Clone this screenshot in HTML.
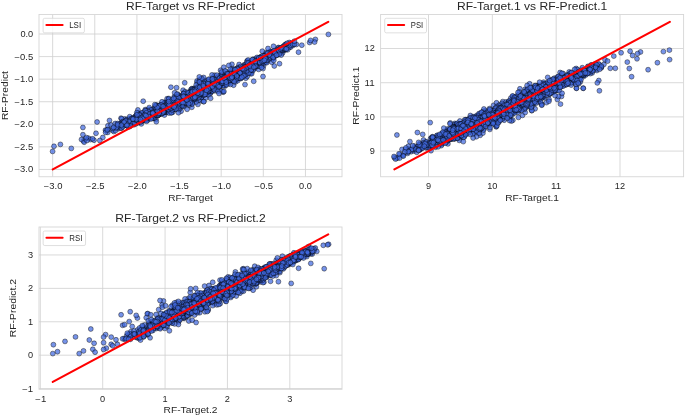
<!DOCTYPE html>
<html><head><meta charset="utf-8"><title>RF Target vs Predict</title>
<style>
html,body{margin:0;padding:0;background:#fff;overflow:hidden}
svg{display:block;will-change:transform}
text{font-family:"Liberation Sans", sans-serif;fill:#262626}
.m circle{r:2.45px}
.m{fill:#4169e1;fill-opacity:.72;stroke:#000;stroke-opacity:.85;stroke-width:.5}
</style></head>
<body>
<svg width="685" height="417" viewBox="0 0 685 417">
<rect width="685" height="417" fill="#fff"/>
<rect x="39.0" y="14.45" width="303.00" height="162.30" fill="#fff"/>
<path d="M52.65 14.45V176.75M94.78 14.45V176.75M136.92 14.45V176.75M179.05 14.45V176.75M221.18 14.45V176.75M263.32 14.45V176.75M305.45 14.45V176.75M39.0 169.44H342.0M39.0 146.87H342.0M39.0 124.30H342.0M39.0 101.73H342.0M39.0 79.17H342.0M39.0 56.60H342.0M39.0 34.03H342.0" stroke="#cfcfcf" stroke-width="0.8" fill="none"/>
<g class="m"><circle cx="197.9" cy="94.4" r="2.45"/><circle cx="218.1" cy="88.2" r="2.45"/><circle cx="286.8" cy="44.4" r="2.45"/><circle cx="222.1" cy="81.6" r="2.45"/><circle cx="172.1" cy="103.5" r="2.45"/><circle cx="200.3" cy="91.2" r="2.45"/><circle cx="230.3" cy="80.8" r="2.45"/><circle cx="255.0" cy="62.5" r="2.45"/><circle cx="231.7" cy="72.6" r="2.45"/><circle cx="200.5" cy="90.4" r="2.45"/><circle cx="207.7" cy="85.7" r="2.45"/><circle cx="139.5" cy="115.7" r="2.45"/><circle cx="208.7" cy="85.2" r="2.45"/><circle cx="194.8" cy="94.4" r="2.45"/><circle cx="169.0" cy="110.8" r="2.45"/><circle cx="216.1" cy="86.0" r="2.45"/><circle cx="145.6" cy="117.9" r="2.45"/><circle cx="257.9" cy="60.7" r="2.45"/><circle cx="270.8" cy="52.5" r="2.45"/><circle cx="191.5" cy="95.5" r="2.45"/><circle cx="153.9" cy="109.8" r="2.45"/><circle cx="184.1" cy="106.6" r="2.45"/><circle cx="232.3" cy="74.8" r="2.45"/><circle cx="139.0" cy="121.5" r="2.45"/><circle cx="277.5" cy="49.7" r="2.45"/><circle cx="142.0" cy="114.2" r="2.45"/><circle cx="138.8" cy="116.0" r="2.45"/><circle cx="167.5" cy="104.4" r="2.45"/><circle cx="191.9" cy="88.6" r="2.45"/><circle cx="278.4" cy="47.5" r="2.45"/><circle cx="237.1" cy="76.2" r="2.45"/><circle cx="166.2" cy="102.7" r="2.45"/><circle cx="190.0" cy="97.3" r="2.45"/><circle cx="235.8" cy="78.1" r="2.45"/><circle cx="266.5" cy="56.3" r="2.45"/><circle cx="215.4" cy="80.9" r="2.45"/><circle cx="160.1" cy="108.8" r="2.45"/><circle cx="133.2" cy="122.2" r="2.45"/><circle cx="191.3" cy="91.8" r="2.45"/><circle cx="245.4" cy="69.9" r="2.45"/><circle cx="137.7" cy="113.0" r="2.45"/><circle cx="217.5" cy="81.2" r="2.45"/><circle cx="258.4" cy="61.0" r="2.45"/><circle cx="243.0" cy="72.1" r="2.45"/><circle cx="196.7" cy="90.9" r="2.45"/><circle cx="142.0" cy="113.1" r="2.45"/><circle cx="161.4" cy="111.1" r="2.45"/><circle cx="150.1" cy="114.8" r="2.45"/><circle cx="166.5" cy="112.4" r="2.45"/><circle cx="185.3" cy="98.8" r="2.45"/><circle cx="161.2" cy="104.7" r="2.45"/><circle cx="179.0" cy="108.3" r="2.45"/><circle cx="147.5" cy="116.0" r="2.45"/><circle cx="90.5" cy="139.6" r="2.45"/><circle cx="266.4" cy="59.4" r="2.45"/><circle cx="207.1" cy="88.6" r="2.45"/><circle cx="230.0" cy="81.0" r="2.45"/><circle cx="253.7" cy="65.7" r="2.45"/><circle cx="223.0" cy="83.4" r="2.45"/><circle cx="186.7" cy="97.3" r="2.45"/><circle cx="254.7" cy="61.7" r="2.45"/><circle cx="249.3" cy="65.2" r="2.45"/><circle cx="170.2" cy="110.9" r="2.45"/><circle cx="131.3" cy="118.5" r="2.45"/><circle cx="83.5" cy="141.0" r="2.45"/><circle cx="127.5" cy="121.3" r="2.45"/><circle cx="169.7" cy="102.5" r="2.45"/><circle cx="271.4" cy="56.8" r="2.45"/><circle cx="225.0" cy="82.4" r="2.45"/><circle cx="197.7" cy="90.3" r="2.45"/><circle cx="220.0" cy="75.4" r="2.45"/><circle cx="144.9" cy="118.5" r="2.45"/><circle cx="209.0" cy="85.9" r="2.45"/><circle cx="225.1" cy="77.4" r="2.45"/><circle cx="163.3" cy="109.4" r="2.45"/><circle cx="226.4" cy="77.1" r="2.45"/><circle cx="168.7" cy="107.6" r="2.45"/><circle cx="124.9" cy="118.9" r="2.45"/><circle cx="161.4" cy="113.7" r="2.45"/><circle cx="177.3" cy="101.7" r="2.45"/><circle cx="279.7" cy="51.3" r="2.45"/><circle cx="210.2" cy="86.4" r="2.45"/><circle cx="237.7" cy="75.9" r="2.45"/><circle cx="258.7" cy="69.4" r="2.45"/><circle cx="234.3" cy="70.1" r="2.45"/><circle cx="191.1" cy="91.4" r="2.45"/><circle cx="241.3" cy="69.2" r="2.45"/><circle cx="258.3" cy="62.3" r="2.45"/><circle cx="249.6" cy="66.2" r="2.45"/><circle cx="151.9" cy="114.0" r="2.45"/><circle cx="148.3" cy="114.3" r="2.45"/><circle cx="126.3" cy="120.4" r="2.45"/><circle cx="176.3" cy="104.8" r="2.45"/><circle cx="197.6" cy="95.1" r="2.45"/><circle cx="155.6" cy="106.6" r="2.45"/><circle cx="219.0" cy="83.3" r="2.45"/><circle cx="218.3" cy="81.3" r="2.45"/><circle cx="146.5" cy="116.1" r="2.45"/><circle cx="222.3" cy="76.2" r="2.45"/><circle cx="169.7" cy="102.0" r="2.45"/><circle cx="244.5" cy="69.5" r="2.45"/><circle cx="156.5" cy="113.8" r="2.45"/><circle cx="181.2" cy="103.5" r="2.45"/><circle cx="208.6" cy="86.7" r="2.45"/><circle cx="71.3" cy="148.4" r="2.45"/><circle cx="232.3" cy="70.0" r="2.45"/><circle cx="201.6" cy="100.9" r="2.45"/><circle cx="150.0" cy="114.2" r="2.45"/><circle cx="118.0" cy="125.3" r="2.45"/><circle cx="163.3" cy="109.9" r="2.45"/><circle cx="207.7" cy="86.6" r="2.45"/><circle cx="254.2" cy="64.7" r="2.45"/><circle cx="225.1" cy="76.2" r="2.45"/><circle cx="248.6" cy="63.1" r="2.45"/><circle cx="158.2" cy="111.4" r="2.45"/><circle cx="226.7" cy="77.1" r="2.45"/><circle cx="166.3" cy="104.6" r="2.45"/><circle cx="247.5" cy="67.8" r="2.45"/><circle cx="175.2" cy="103.4" r="2.45"/><circle cx="129.3" cy="126.7" r="2.45"/><circle cx="272.6" cy="54.1" r="2.45"/><circle cx="235.7" cy="79.9" r="2.45"/><circle cx="246.5" cy="70.0" r="2.45"/><circle cx="209.8" cy="84.9" r="2.45"/><circle cx="254.0" cy="63.1" r="2.45"/><circle cx="187.7" cy="98.9" r="2.45"/><circle cx="211.0" cy="87.2" r="2.45"/><circle cx="208.9" cy="87.7" r="2.45"/><circle cx="238.7" cy="78.4" r="2.45"/><circle cx="258.0" cy="58.6" r="2.45"/><circle cx="197.2" cy="82.3" r="2.45"/><circle cx="172.5" cy="105.1" r="2.45"/><circle cx="221.6" cy="75.1" r="2.45"/><circle cx="189.1" cy="94.5" r="2.45"/><circle cx="183.8" cy="102.7" r="2.45"/><circle cx="267.7" cy="55.0" r="2.45"/><circle cx="126.3" cy="121.9" r="2.45"/><circle cx="221.2" cy="80.2" r="2.45"/><circle cx="180.9" cy="105.3" r="2.45"/><circle cx="203.6" cy="93.0" r="2.45"/><circle cx="197.9" cy="104.4" r="2.45"/><circle cx="200.4" cy="91.2" r="2.45"/><circle cx="269.7" cy="56.5" r="2.45"/><circle cx="132.9" cy="123.5" r="2.45"/><circle cx="112.4" cy="130.2" r="2.45"/><circle cx="190.0" cy="92.3" r="2.45"/><circle cx="205.1" cy="93.6" r="2.45"/><circle cx="181.9" cy="96.3" r="2.45"/><circle cx="140.1" cy="117.9" r="2.45"/><circle cx="240.4" cy="68.5" r="2.45"/><circle cx="206.2" cy="93.4" r="2.45"/><circle cx="156.0" cy="111.3" r="2.45"/><circle cx="149.6" cy="111.0" r="2.45"/><circle cx="185.4" cy="99.2" r="2.45"/><circle cx="179.3" cy="106.0" r="2.45"/><circle cx="245.0" cy="75.1" r="2.45"/><circle cx="130.5" cy="123.3" r="2.45"/><circle cx="170.7" cy="102.5" r="2.45"/><circle cx="199.5" cy="86.8" r="2.45"/><circle cx="142.5" cy="117.1" r="2.45"/><circle cx="175.4" cy="100.8" r="2.45"/><circle cx="245.4" cy="66.7" r="2.45"/><circle cx="219.8" cy="79.4" r="2.45"/><circle cx="188.5" cy="99.7" r="2.45"/><circle cx="280.2" cy="48.7" r="2.45"/><circle cx="171.3" cy="110.6" r="2.45"/><circle cx="179.5" cy="101.3" r="2.45"/><circle cx="246.7" cy="66.5" r="2.45"/><circle cx="171.3" cy="102.0" r="2.45"/><circle cx="212.9" cy="85.2" r="2.45"/><circle cx="230.4" cy="73.0" r="2.45"/><circle cx="259.2" cy="58.0" r="2.45"/><circle cx="187.7" cy="94.5" r="2.45"/><circle cx="271.4" cy="55.1" r="2.45"/><circle cx="216.6" cy="81.9" r="2.45"/><circle cx="232.3" cy="75.5" r="2.45"/><circle cx="172.9" cy="104.2" r="2.45"/><circle cx="135.3" cy="118.3" r="2.45"/><circle cx="156.8" cy="108.2" r="2.45"/><circle cx="241.7" cy="71.2" r="2.45"/><circle cx="163.4" cy="106.3" r="2.45"/><circle cx="235.9" cy="73.2" r="2.45"/><circle cx="198.4" cy="91.6" r="2.45"/><circle cx="274.3" cy="66.0" r="2.45"/><circle cx="187.9" cy="100.3" r="2.45"/><circle cx="131.9" cy="120.4" r="2.45"/><circle cx="195.5" cy="93.9" r="2.45"/><circle cx="195.8" cy="92.5" r="2.45"/><circle cx="164.7" cy="102.4" r="2.45"/><circle cx="216.6" cy="80.4" r="2.45"/><circle cx="178.0" cy="98.1" r="2.45"/><circle cx="124.2" cy="124.9" r="2.45"/><circle cx="176.5" cy="107.6" r="2.45"/><circle cx="214.5" cy="85.2" r="2.45"/><circle cx="201.7" cy="90.5" r="2.45"/><circle cx="277.2" cy="51.3" r="2.45"/><circle cx="193.6" cy="90.3" r="2.45"/><circle cx="202.7" cy="89.0" r="2.45"/><circle cx="177.7" cy="94.3" r="2.45"/><circle cx="178.1" cy="103.4" r="2.45"/><circle cx="257.2" cy="65.5" r="2.45"/><circle cx="147.7" cy="112.7" r="2.45"/><circle cx="191.4" cy="99.1" r="2.45"/><circle cx="185.3" cy="103.4" r="2.45"/><circle cx="171.1" cy="108.1" r="2.45"/><circle cx="229.4" cy="75.9" r="2.45"/><circle cx="216.3" cy="79.5" r="2.45"/><circle cx="204.0" cy="89.2" r="2.45"/><circle cx="270.5" cy="53.5" r="2.45"/><circle cx="181.4" cy="100.7" r="2.45"/><circle cx="254.7" cy="68.4" r="2.45"/><circle cx="217.5" cy="86.1" r="2.45"/><circle cx="173.2" cy="109.1" r="2.45"/><circle cx="165.8" cy="108.0" r="2.45"/><circle cx="210.6" cy="92.6" r="2.45"/><circle cx="171.4" cy="112.7" r="2.45"/><circle cx="213.5" cy="87.2" r="2.45"/><circle cx="175.2" cy="98.5" r="2.45"/><circle cx="161.8" cy="107.6" r="2.45"/><circle cx="175.7" cy="104.4" r="2.45"/><circle cx="208.7" cy="86.3" r="2.45"/><circle cx="222.6" cy="80.8" r="2.45"/><circle cx="247.4" cy="61.0" r="2.45"/><circle cx="169.2" cy="110.7" r="2.45"/><circle cx="229.0" cy="83.5" r="2.45"/><circle cx="186.5" cy="104.0" r="2.45"/><circle cx="141.6" cy="121.1" r="2.45"/><circle cx="246.7" cy="70.6" r="2.45"/><circle cx="285.7" cy="44.3" r="2.45"/><circle cx="280.7" cy="50.3" r="2.45"/><circle cx="138.3" cy="119.6" r="2.45"/><circle cx="180.6" cy="101.7" r="2.45"/><circle cx="235.2" cy="73.9" r="2.45"/><circle cx="185.8" cy="101.4" r="2.45"/><circle cx="200.7" cy="89.2" r="2.45"/><circle cx="249.7" cy="67.3" r="2.45"/><circle cx="233.3" cy="74.6" r="2.45"/><circle cx="179.3" cy="100.3" r="2.45"/><circle cx="153.4" cy="111.3" r="2.45"/><circle cx="148.0" cy="113.0" r="2.45"/><circle cx="259.5" cy="65.7" r="2.45"/><circle cx="141.2" cy="116.7" r="2.45"/><circle cx="159.6" cy="114.4" r="2.45"/><circle cx="214.9" cy="90.8" r="2.45"/><circle cx="160.0" cy="112.0" r="2.45"/><circle cx="174.1" cy="103.0" r="2.45"/><circle cx="176.0" cy="101.9" r="2.45"/><circle cx="143.3" cy="116.1" r="2.45"/><circle cx="154.6" cy="110.1" r="2.45"/><circle cx="152.6" cy="117.7" r="2.45"/><circle cx="233.5" cy="77.0" r="2.45"/><circle cx="157.6" cy="111.7" r="2.45"/><circle cx="173.5" cy="106.7" r="2.45"/><circle cx="240.5" cy="71.3" r="2.45"/><circle cx="134.8" cy="119.1" r="2.45"/><circle cx="249.1" cy="66.2" r="2.45"/><circle cx="239.0" cy="72.6" r="2.45"/><circle cx="253.4" cy="59.3" r="2.45"/><circle cx="182.4" cy="100.2" r="2.45"/><circle cx="125.4" cy="123.7" r="2.45"/><circle cx="275.3" cy="50.5" r="2.45"/><circle cx="236.7" cy="68.6" r="2.45"/><circle cx="213.1" cy="87.8" r="2.45"/><circle cx="234.0" cy="78.0" r="2.45"/><circle cx="175.3" cy="99.8" r="2.45"/><circle cx="167.0" cy="104.0" r="2.45"/><circle cx="212.9" cy="82.3" r="2.45"/><circle cx="194.6" cy="95.8" r="2.45"/><circle cx="239.4" cy="70.8" r="2.45"/><circle cx="284.4" cy="50.4" r="2.45"/><circle cx="175.7" cy="106.8" r="2.45"/><circle cx="172.8" cy="100.2" r="2.45"/><circle cx="282.5" cy="53.2" r="2.45"/><circle cx="177.1" cy="103.3" r="2.45"/><circle cx="257.5" cy="61.3" r="2.45"/><circle cx="188.3" cy="96.4" r="2.45"/><circle cx="201.2" cy="97.4" r="2.45"/><circle cx="129.2" cy="123.6" r="2.45"/><circle cx="221.2" cy="77.4" r="2.45"/><circle cx="223.6" cy="82.5" r="2.45"/><circle cx="129.0" cy="119.0" r="2.45"/><circle cx="208.6" cy="87.6" r="2.45"/><circle cx="135.9" cy="115.8" r="2.45"/><circle cx="203.0" cy="90.3" r="2.45"/><circle cx="226.2" cy="74.7" r="2.45"/><circle cx="219.4" cy="80.4" r="2.45"/><circle cx="200.5" cy="91.1" r="2.45"/><circle cx="198.8" cy="100.2" r="2.45"/><circle cx="172.7" cy="103.1" r="2.45"/><circle cx="190.4" cy="96.2" r="2.45"/><circle cx="193.1" cy="93.9" r="2.45"/><circle cx="150.2" cy="115.5" r="2.45"/><circle cx="161.2" cy="112.1" r="2.45"/><circle cx="216.8" cy="86.2" r="2.45"/><circle cx="252.0" cy="66.3" r="2.45"/><circle cx="211.5" cy="82.9" r="2.45"/><circle cx="239.4" cy="73.7" r="2.45"/><circle cx="242.1" cy="74.6" r="2.45"/><circle cx="187.8" cy="102.7" r="2.45"/><circle cx="224.6" cy="83.1" r="2.45"/><circle cx="233.0" cy="80.5" r="2.45"/><circle cx="193.0" cy="96.4" r="2.45"/><circle cx="278.3" cy="52.6" r="2.45"/><circle cx="151.3" cy="114.7" r="2.45"/><circle cx="261.0" cy="56.6" r="2.45"/><circle cx="130.5" cy="120.0" r="2.45"/><circle cx="131.7" cy="118.4" r="2.45"/><circle cx="144.2" cy="116.6" r="2.45"/><circle cx="170.6" cy="104.9" r="2.45"/><circle cx="283.8" cy="49.7" r="2.45"/><circle cx="170.5" cy="110.7" r="2.45"/><circle cx="223.0" cy="85.2" r="2.45"/><circle cx="189.0" cy="99.4" r="2.45"/><circle cx="246.1" cy="68.0" r="2.45"/><circle cx="174.8" cy="97.5" r="2.45"/><circle cx="205.0" cy="89.3" r="2.45"/><circle cx="118.3" cy="128.8" r="2.45"/><circle cx="155.5" cy="113.0" r="2.45"/><circle cx="160.1" cy="108.7" r="2.45"/><circle cx="163.2" cy="111.9" r="2.45"/><circle cx="212.9" cy="86.7" r="2.45"/><circle cx="164.9" cy="105.6" r="2.45"/><circle cx="263.6" cy="59.1" r="2.45"/><circle cx="224.5" cy="78.1" r="2.45"/><circle cx="243.2" cy="70.7" r="2.45"/><circle cx="201.7" cy="90.8" r="2.45"/><circle cx="233.9" cy="71.1" r="2.45"/><circle cx="256.9" cy="61.0" r="2.45"/><circle cx="148.1" cy="114.4" r="2.45"/><circle cx="193.5" cy="93.2" r="2.45"/><circle cx="278.2" cy="51.5" r="2.45"/><circle cx="214.3" cy="84.5" r="2.45"/><circle cx="164.7" cy="106.9" r="2.45"/><circle cx="187.8" cy="96.5" r="2.45"/><circle cx="204.0" cy="81.5" r="2.45"/><circle cx="216.6" cy="82.3" r="2.45"/><circle cx="236.2" cy="72.8" r="2.45"/><circle cx="231.9" cy="64.3" r="2.45"/><circle cx="225.5" cy="84.3" r="2.45"/><circle cx="231.7" cy="75.7" r="2.45"/><circle cx="200.3" cy="83.9" r="2.45"/><circle cx="185.4" cy="98.1" r="2.45"/><circle cx="162.5" cy="109.0" r="2.45"/><circle cx="222.6" cy="82.7" r="2.45"/><circle cx="266.6" cy="57.6" r="2.45"/><circle cx="239.9" cy="76.1" r="2.45"/><circle cx="221.8" cy="77.1" r="2.45"/><circle cx="208.2" cy="85.5" r="2.45"/><circle cx="234.9" cy="75.4" r="2.45"/><circle cx="160.3" cy="106.7" r="2.45"/><circle cx="187.8" cy="100.6" r="2.45"/><circle cx="194.1" cy="97.0" r="2.45"/><circle cx="94.0" cy="140.2" r="2.45"/><circle cx="191.7" cy="93.3" r="2.45"/><circle cx="221.6" cy="79.6" r="2.45"/><circle cx="273.3" cy="56.2" r="2.45"/><circle cx="120.2" cy="126.8" r="2.45"/><circle cx="168.1" cy="107.2" r="2.45"/><circle cx="284.3" cy="49.0" r="2.45"/><circle cx="130.6" cy="121.3" r="2.45"/><circle cx="154.0" cy="112.7" r="2.45"/><circle cx="167.9" cy="104.0" r="2.45"/><circle cx="274.9" cy="53.2" r="2.45"/><circle cx="146.0" cy="114.9" r="2.45"/><circle cx="246.0" cy="70.3" r="2.45"/><circle cx="208.5" cy="85.9" r="2.45"/><circle cx="127.6" cy="122.1" r="2.45"/><circle cx="267.2" cy="55.8" r="2.45"/><circle cx="177.4" cy="101.6" r="2.45"/><circle cx="160.9" cy="111.5" r="2.45"/><circle cx="198.2" cy="92.7" r="2.45"/><circle cx="151.3" cy="110.2" r="2.45"/><circle cx="217.0" cy="83.7" r="2.45"/><circle cx="261.0" cy="60.6" r="2.45"/><circle cx="285.4" cy="44.8" r="2.45"/><circle cx="225.0" cy="77.0" r="2.45"/><circle cx="244.3" cy="68.2" r="2.45"/><circle cx="215.3" cy="86.5" r="2.45"/><circle cx="139.1" cy="120.8" r="2.45"/><circle cx="255.4" cy="63.2" r="2.45"/><circle cx="190.9" cy="89.6" r="2.45"/><circle cx="210.2" cy="91.9" r="2.45"/><circle cx="186.7" cy="103.1" r="2.45"/><circle cx="150.7" cy="112.4" r="2.45"/><circle cx="167.5" cy="105.5" r="2.45"/><circle cx="239.0" cy="75.5" r="2.45"/><circle cx="186.8" cy="95.4" r="2.45"/><circle cx="219.2" cy="81.2" r="2.45"/><circle cx="137.0" cy="120.7" r="2.45"/><circle cx="131.2" cy="121.8" r="2.45"/><circle cx="140.5" cy="119.4" r="2.45"/><circle cx="143.2" cy="116.2" r="2.45"/><circle cx="194.0" cy="98.5" r="2.45"/><circle cx="227.3" cy="81.5" r="2.45"/><circle cx="171.1" cy="107.4" r="2.45"/><circle cx="132.8" cy="120.2" r="2.45"/><circle cx="194.3" cy="91.0" r="2.45"/><circle cx="240.9" cy="73.7" r="2.45"/><circle cx="139.2" cy="121.1" r="2.45"/><circle cx="185.3" cy="98.0" r="2.45"/><circle cx="171.0" cy="102.2" r="2.45"/><circle cx="234.1" cy="76.1" r="2.45"/><circle cx="149.4" cy="110.6" r="2.45"/><circle cx="234.8" cy="79.0" r="2.45"/><circle cx="211.5" cy="81.2" r="2.45"/><circle cx="201.3" cy="88.7" r="2.45"/><circle cx="121.4" cy="128.1" r="2.45"/><circle cx="137.7" cy="118.0" r="2.45"/><circle cx="211.0" cy="86.6" r="2.45"/><circle cx="210.9" cy="86.5" r="2.45"/><circle cx="215.3" cy="86.1" r="2.45"/><circle cx="125.3" cy="123.6" r="2.45"/><circle cx="218.3" cy="84.3" r="2.45"/><circle cx="159.5" cy="109.8" r="2.45"/><circle cx="170.1" cy="102.8" r="2.45"/><circle cx="129.9" cy="119.2" r="2.45"/><circle cx="241.0" cy="68.8" r="2.45"/><circle cx="248.0" cy="65.8" r="2.45"/><circle cx="181.7" cy="99.4" r="2.45"/><circle cx="218.2" cy="83.5" r="2.45"/><circle cx="265.2" cy="61.0" r="2.45"/><circle cx="150.6" cy="111.3" r="2.45"/><circle cx="237.9" cy="74.5" r="2.45"/><circle cx="205.2" cy="88.2" r="2.45"/><circle cx="206.0" cy="92.7" r="2.45"/><circle cx="206.4" cy="86.9" r="2.45"/><circle cx="167.7" cy="102.9" r="2.45"/><circle cx="168.2" cy="107.0" r="2.45"/><circle cx="239.8" cy="69.9" r="2.45"/><circle cx="194.3" cy="94.8" r="2.45"/><circle cx="179.7" cy="101.2" r="2.45"/><circle cx="154.9" cy="113.3" r="2.45"/><circle cx="172.9" cy="112.1" r="2.45"/><circle cx="142.2" cy="116.5" r="2.45"/><circle cx="153.2" cy="111.5" r="2.45"/><circle cx="236.8" cy="72.1" r="2.45"/><circle cx="159.6" cy="105.6" r="2.45"/><circle cx="288.2" cy="44.8" r="2.45"/><circle cx="171.3" cy="103.9" r="2.45"/><circle cx="243.6" cy="72.3" r="2.45"/><circle cx="239.1" cy="64.5" r="2.45"/><circle cx="141.3" cy="123.9" r="2.45"/><circle cx="164.1" cy="109.3" r="2.45"/><circle cx="120.8" cy="126.1" r="2.45"/><circle cx="188.5" cy="94.0" r="2.45"/><circle cx="224.3" cy="78.3" r="2.45"/><circle cx="152.7" cy="111.6" r="2.45"/><circle cx="265.7" cy="62.1" r="2.45"/><circle cx="152.0" cy="114.6" r="2.45"/><circle cx="266.8" cy="55.3" r="2.45"/><circle cx="151.0" cy="115.0" r="2.45"/><circle cx="187.7" cy="101.3" r="2.45"/><circle cx="168.5" cy="105.8" r="2.45"/><circle cx="177.2" cy="104.4" r="2.45"/><circle cx="213.8" cy="84.5" r="2.45"/><circle cx="218.9" cy="80.7" r="2.45"/><circle cx="176.2" cy="108.4" r="2.45"/><circle cx="198.4" cy="92.5" r="2.45"/><circle cx="246.7" cy="65.2" r="2.45"/><circle cx="220.2" cy="82.1" r="2.45"/><circle cx="185.2" cy="99.5" r="2.45"/><circle cx="151.2" cy="116.3" r="2.45"/><circle cx="257.3" cy="62.0" r="2.45"/><circle cx="142.8" cy="114.6" r="2.45"/><circle cx="185.5" cy="101.3" r="2.45"/><circle cx="274.0" cy="53.3" r="2.45"/><circle cx="260.2" cy="57.3" r="2.45"/><circle cx="205.7" cy="98.1" r="2.45"/><circle cx="173.3" cy="101.5" r="2.45"/><circle cx="232.3" cy="70.6" r="2.45"/><circle cx="242.9" cy="75.0" r="2.45"/><circle cx="158.7" cy="114.8" r="2.45"/><circle cx="138.7" cy="120.1" r="2.45"/><circle cx="205.3" cy="80.5" r="2.45"/><circle cx="258.6" cy="63.7" r="2.45"/><circle cx="211.9" cy="85.3" r="2.45"/><circle cx="279.0" cy="50.5" r="2.45"/><circle cx="210.9" cy="86.4" r="2.45"/><circle cx="164.9" cy="102.4" r="2.45"/><circle cx="214.3" cy="82.5" r="2.45"/><circle cx="176.5" cy="106.4" r="2.45"/><circle cx="108.0" cy="129.5" r="2.45"/><circle cx="132.7" cy="119.6" r="2.45"/><circle cx="147.6" cy="120.2" r="2.45"/><circle cx="81.5" cy="139.5" r="2.45"/><circle cx="213.9" cy="83.8" r="2.45"/><circle cx="215.9" cy="85.3" r="2.45"/><circle cx="261.8" cy="63.4" r="2.45"/><circle cx="117.8" cy="127.8" r="2.45"/><circle cx="176.0" cy="100.9" r="2.45"/><circle cx="181.9" cy="101.0" r="2.45"/><circle cx="176.2" cy="107.9" r="2.45"/><circle cx="250.1" cy="65.0" r="2.45"/><circle cx="245.9" cy="70.1" r="2.45"/><circle cx="155.9" cy="119.4" r="2.45"/><circle cx="192.4" cy="98.6" r="2.45"/><circle cx="113.8" cy="131.5" r="2.45"/><circle cx="187.9" cy="99.4" r="2.45"/><circle cx="214.6" cy="75.3" r="2.45"/><circle cx="262.3" cy="51.2" r="2.45"/><circle cx="211.8" cy="84.6" r="2.45"/><circle cx="213.5" cy="87.3" r="2.45"/><circle cx="153.9" cy="118.3" r="2.45"/><circle cx="207.2" cy="92.2" r="2.45"/><circle cx="205.7" cy="87.8" r="2.45"/><circle cx="218.1" cy="78.2" r="2.45"/><circle cx="145.0" cy="116.1" r="2.45"/><circle cx="213.2" cy="77.2" r="2.45"/><circle cx="200.7" cy="91.8" r="2.45"/><circle cx="223.3" cy="92.2" r="2.45"/><circle cx="208.0" cy="86.4" r="2.45"/><circle cx="165.7" cy="104.7" r="2.45"/><circle cx="226.0" cy="76.7" r="2.45"/><circle cx="193.9" cy="91.1" r="2.45"/><circle cx="188.7" cy="99.9" r="2.45"/><circle cx="141.2" cy="118.4" r="2.45"/><circle cx="211.5" cy="85.5" r="2.45"/><circle cx="231.7" cy="74.9" r="2.45"/><circle cx="217.3" cy="80.8" r="2.45"/><circle cx="144.4" cy="113.9" r="2.45"/><circle cx="187.7" cy="98.8" r="2.45"/><circle cx="188.5" cy="100.4" r="2.45"/><circle cx="144.5" cy="117.5" r="2.45"/><circle cx="219.8" cy="82.1" r="2.45"/><circle cx="217.0" cy="84.3" r="2.45"/><circle cx="168.8" cy="108.8" r="2.45"/><circle cx="162.1" cy="106.6" r="2.45"/><circle cx="192.9" cy="89.3" r="2.45"/><circle cx="215.1" cy="80.6" r="2.45"/><circle cx="217.5" cy="80.1" r="2.45"/><circle cx="235.3" cy="72.8" r="2.45"/><circle cx="149.2" cy="115.6" r="2.45"/><circle cx="163.7" cy="109.4" r="2.45"/><circle cx="219.3" cy="80.7" r="2.45"/><circle cx="181.1" cy="111.2" r="2.45"/><circle cx="160.6" cy="109.0" r="2.45"/><circle cx="88.5" cy="138.2" r="2.45"/><circle cx="217.1" cy="89.1" r="2.45"/><circle cx="143.2" cy="101.2" r="2.45"/><circle cx="201.4" cy="85.0" r="2.45"/><circle cx="235.3" cy="72.5" r="2.45"/><circle cx="222.4" cy="82.2" r="2.45"/><circle cx="169.5" cy="106.0" r="2.45"/><circle cx="233.4" cy="76.7" r="2.45"/><circle cx="185.4" cy="94.1" r="2.45"/><circle cx="220.5" cy="77.4" r="2.45"/><circle cx="177.0" cy="102.2" r="2.45"/><circle cx="210.4" cy="87.7" r="2.45"/><circle cx="270.1" cy="54.4" r="2.45"/><circle cx="173.0" cy="103.6" r="2.45"/><circle cx="205.4" cy="88.7" r="2.45"/><circle cx="203.5" cy="91.2" r="2.45"/><circle cx="107.7" cy="132.4" r="2.45"/><circle cx="179.6" cy="109.1" r="2.45"/><circle cx="254.9" cy="66.0" r="2.45"/><circle cx="182.8" cy="104.8" r="2.45"/><circle cx="227.3" cy="80.9" r="2.45"/><circle cx="179.5" cy="96.4" r="2.45"/><circle cx="224.0" cy="79.3" r="2.45"/><circle cx="187.1" cy="95.7" r="2.45"/><circle cx="159.7" cy="111.6" r="2.45"/><circle cx="152.3" cy="109.6" r="2.45"/><circle cx="202.1" cy="89.9" r="2.45"/><circle cx="148.0" cy="112.8" r="2.45"/><circle cx="176.9" cy="99.6" r="2.45"/><circle cx="285.5" cy="46.6" r="2.45"/><circle cx="193.6" cy="88.6" r="2.45"/><circle cx="149.2" cy="116.7" r="2.45"/><circle cx="202.2" cy="91.2" r="2.45"/><circle cx="270.5" cy="54.4" r="2.45"/><circle cx="248.8" cy="67.8" r="2.45"/><circle cx="233.7" cy="72.4" r="2.45"/><circle cx="183.8" cy="93.0" r="2.45"/><circle cx="128.6" cy="123.1" r="2.45"/><circle cx="244.0" cy="69.5" r="2.45"/><circle cx="224.6" cy="80.8" r="2.45"/><circle cx="162.6" cy="112.9" r="2.45"/><circle cx="272.6" cy="58.3" r="2.45"/><circle cx="142.3" cy="116.1" r="2.45"/><circle cx="163.3" cy="104.6" r="2.45"/><circle cx="231.8" cy="75.8" r="2.45"/><circle cx="148.4" cy="111.6" r="2.45"/><circle cx="258.4" cy="65.4" r="2.45"/><circle cx="183.9" cy="100.0" r="2.45"/><circle cx="249.7" cy="67.7" r="2.45"/><circle cx="158.4" cy="108.6" r="2.45"/><circle cx="272.2" cy="54.5" r="2.45"/><circle cx="164.1" cy="105.3" r="2.45"/><circle cx="107.9" cy="125.8" r="2.45"/><circle cx="208.1" cy="90.8" r="2.45"/><circle cx="207.1" cy="88.1" r="2.45"/><circle cx="214.4" cy="82.8" r="2.45"/><circle cx="259.1" cy="63.4" r="2.45"/><circle cx="248.2" cy="66.9" r="2.45"/><circle cx="245.8" cy="78.2" r="2.45"/><circle cx="234.0" cy="77.9" r="2.45"/><circle cx="206.6" cy="88.9" r="2.45"/><circle cx="166.8" cy="112.1" r="2.45"/><circle cx="270.0" cy="51.1" r="2.45"/><circle cx="180.0" cy="95.9" r="2.45"/><circle cx="227.8" cy="73.8" r="2.45"/><circle cx="170.5" cy="103.1" r="2.45"/><circle cx="169.2" cy="103.5" r="2.45"/><circle cx="166.6" cy="107.9" r="2.45"/><circle cx="234.1" cy="75.6" r="2.45"/><circle cx="175.2" cy="109.4" r="2.45"/><circle cx="180.2" cy="98.6" r="2.45"/><circle cx="199.8" cy="92.1" r="2.45"/><circle cx="237.4" cy="79.2" r="2.45"/><circle cx="259.9" cy="63.4" r="2.45"/><circle cx="195.7" cy="92.0" r="2.45"/><circle cx="167.1" cy="111.5" r="2.45"/><circle cx="212.4" cy="88.3" r="2.45"/><circle cx="115.5" cy="130.6" r="2.45"/><circle cx="181.5" cy="102.2" r="2.45"/><circle cx="285.9" cy="47.4" r="2.45"/><circle cx="102.8" cy="137.5" r="2.45"/><circle cx="181.7" cy="103.0" r="2.45"/><circle cx="195.4" cy="91.3" r="2.45"/><circle cx="263.6" cy="60.3" r="2.45"/><circle cx="248.8" cy="63.8" r="2.45"/><circle cx="135.0" cy="118.2" r="2.45"/><circle cx="159.9" cy="106.9" r="2.45"/><circle cx="244.7" cy="73.3" r="2.45"/><circle cx="182.1" cy="103.3" r="2.45"/><circle cx="151.1" cy="112.8" r="2.45"/><circle cx="283.3" cy="47.5" r="2.45"/><circle cx="169.4" cy="107.6" r="2.45"/><circle cx="207.8" cy="88.2" r="2.45"/><circle cx="283.0" cy="50.3" r="2.45"/><circle cx="141.9" cy="118.7" r="2.45"/><circle cx="279.0" cy="50.0" r="2.45"/><circle cx="242.9" cy="67.0" r="2.45"/><circle cx="234.7" cy="73.1" r="2.45"/><circle cx="206.8" cy="85.2" r="2.45"/><circle cx="214.3" cy="84.0" r="2.45"/><circle cx="210.4" cy="84.6" r="2.45"/><circle cx="232.3" cy="70.2" r="2.45"/><circle cx="195.1" cy="99.2" r="2.45"/><circle cx="233.5" cy="72.3" r="2.45"/><circle cx="189.7" cy="94.8" r="2.45"/><circle cx="251.3" cy="63.6" r="2.45"/><circle cx="155.4" cy="110.7" r="2.45"/><circle cx="123.0" cy="125.7" r="2.45"/><circle cx="163.2" cy="109.8" r="2.45"/><circle cx="202.9" cy="89.9" r="2.45"/><circle cx="164.4" cy="115.1" r="2.45"/><circle cx="139.3" cy="120.6" r="2.45"/><circle cx="251.3" cy="67.8" r="2.45"/><circle cx="173.0" cy="106.1" r="2.45"/><circle cx="147.4" cy="117.7" r="2.45"/><circle cx="235.6" cy="77.5" r="2.45"/><circle cx="169.8" cy="106.7" r="2.45"/><circle cx="227.0" cy="80.2" r="2.45"/><circle cx="233.4" cy="71.4" r="2.45"/><circle cx="247.8" cy="68.3" r="2.45"/><circle cx="245.6" cy="70.0" r="2.45"/><circle cx="266.4" cy="56.0" r="2.45"/><circle cx="123.2" cy="124.6" r="2.45"/><circle cx="249.1" cy="67.6" r="2.45"/><circle cx="185.2" cy="95.4" r="2.45"/><circle cx="263.0" cy="76.5" r="2.45"/><circle cx="264.1" cy="57.0" r="2.45"/><circle cx="214.1" cy="85.7" r="2.45"/><circle cx="203.5" cy="93.8" r="2.45"/><circle cx="262.3" cy="61.5" r="2.45"/><circle cx="145.2" cy="114.8" r="2.45"/><circle cx="190.6" cy="101.2" r="2.45"/><circle cx="159.0" cy="111.3" r="2.45"/><circle cx="179.1" cy="102.2" r="2.45"/><circle cx="219.3" cy="86.6" r="2.45"/><circle cx="135.2" cy="117.5" r="2.45"/><circle cx="235.8" cy="75.7" r="2.45"/><circle cx="181.0" cy="105.5" r="2.45"/><circle cx="178.4" cy="105.2" r="2.45"/><circle cx="149.9" cy="113.1" r="2.45"/><circle cx="191.2" cy="91.8" r="2.45"/><circle cx="212.8" cy="84.1" r="2.45"/><circle cx="176.7" cy="102.5" r="2.45"/><circle cx="199.1" cy="92.5" r="2.45"/><circle cx="224.9" cy="74.0" r="2.45"/><circle cx="267.7" cy="54.3" r="2.45"/><circle cx="210.1" cy="91.4" r="2.45"/><circle cx="174.8" cy="103.7" r="2.45"/><circle cx="151.6" cy="112.0" r="2.45"/><circle cx="175.3" cy="104.1" r="2.45"/><circle cx="166.9" cy="105.8" r="2.45"/><circle cx="169.2" cy="102.6" r="2.45"/><circle cx="267.5" cy="59.2" r="2.45"/><circle cx="156.5" cy="105.0" r="2.45"/><circle cx="141.7" cy="117.2" r="2.45"/><circle cx="287.1" cy="45.0" r="2.45"/><circle cx="183.9" cy="98.0" r="2.45"/><circle cx="170.4" cy="105.8" r="2.45"/><circle cx="252.9" cy="61.9" r="2.45"/><circle cx="200.0" cy="90.2" r="2.45"/><circle cx="121.0" cy="118.2" r="2.45"/><circle cx="168.4" cy="102.0" r="2.45"/><circle cx="213.1" cy="82.9" r="2.45"/><circle cx="145.8" cy="110.4" r="2.45"/><circle cx="256.4" cy="65.3" r="2.45"/><circle cx="168.1" cy="106.3" r="2.45"/><circle cx="242.0" cy="73.5" r="2.45"/><circle cx="269.2" cy="58.6" r="2.45"/><circle cx="209.9" cy="85.8" r="2.45"/><circle cx="146.0" cy="119.4" r="2.45"/><circle cx="261.6" cy="60.8" r="2.45"/><circle cx="179.6" cy="97.9" r="2.45"/><circle cx="145.7" cy="114.6" r="2.45"/><circle cx="223.7" cy="81.3" r="2.45"/><circle cx="224.3" cy="80.2" r="2.45"/><circle cx="202.0" cy="88.2" r="2.45"/><circle cx="185.4" cy="94.1" r="2.45"/><circle cx="175.2" cy="104.3" r="2.45"/><circle cx="271.3" cy="54.8" r="2.45"/><circle cx="150.3" cy="112.7" r="2.45"/><circle cx="177.1" cy="103.3" r="2.45"/><circle cx="155.9" cy="110.7" r="2.45"/><circle cx="218.4" cy="81.3" r="2.45"/><circle cx="220.8" cy="76.7" r="2.45"/><circle cx="219.5" cy="83.5" r="2.45"/><circle cx="227.9" cy="77.5" r="2.45"/><circle cx="220.7" cy="79.9" r="2.45"/><circle cx="228.7" cy="79.6" r="2.45"/><circle cx="214.6" cy="85.1" r="2.45"/><circle cx="309.6" cy="42.5" r="2.45"/><circle cx="142.1" cy="117.5" r="2.45"/><circle cx="182.1" cy="104.7" r="2.45"/><circle cx="146.1" cy="117.0" r="2.45"/><circle cx="154.2" cy="115.3" r="2.45"/><circle cx="131.3" cy="122.7" r="2.45"/><circle cx="256.8" cy="66.3" r="2.45"/><circle cx="249.7" cy="68.4" r="2.45"/><circle cx="267.7" cy="55.6" r="2.45"/><circle cx="181.5" cy="97.1" r="2.45"/><circle cx="193.2" cy="92.4" r="2.45"/><circle cx="208.9" cy="89.5" r="2.45"/><circle cx="217.0" cy="81.8" r="2.45"/><circle cx="251.2" cy="69.6" r="2.45"/><circle cx="136.7" cy="118.4" r="2.45"/><circle cx="200.2" cy="89.1" r="2.45"/><circle cx="280.5" cy="50.6" r="2.45"/><circle cx="195.7" cy="93.5" r="2.45"/><circle cx="238.0" cy="70.9" r="2.45"/><circle cx="126.7" cy="121.8" r="2.45"/><circle cx="156.0" cy="113.1" r="2.45"/><circle cx="250.3" cy="70.4" r="2.45"/><circle cx="264.1" cy="62.9" r="2.45"/><circle cx="126.9" cy="123.8" r="2.45"/><circle cx="163.1" cy="110.3" r="2.45"/><circle cx="251.5" cy="66.2" r="2.45"/><circle cx="190.2" cy="94.7" r="2.45"/><circle cx="225.5" cy="83.2" r="2.45"/><circle cx="273.3" cy="55.5" r="2.45"/><circle cx="240.2" cy="74.1" r="2.45"/><circle cx="252.8" cy="69.5" r="2.45"/><circle cx="84.2" cy="142.2" r="2.45"/><circle cx="181.8" cy="101.8" r="2.45"/><circle cx="192.8" cy="96.6" r="2.45"/><circle cx="172.3" cy="103.9" r="2.45"/><circle cx="177.0" cy="101.0" r="2.45"/><circle cx="228.1" cy="75.6" r="2.45"/><circle cx="228.2" cy="78.4" r="2.45"/><circle cx="177.2" cy="102.1" r="2.45"/><circle cx="227.5" cy="77.4" r="2.45"/><circle cx="255.7" cy="61.3" r="2.45"/><circle cx="222.3" cy="91.5" r="2.45"/><circle cx="254.3" cy="65.2" r="2.45"/><circle cx="240.2" cy="74.4" r="2.45"/><circle cx="269.6" cy="55.9" r="2.45"/><circle cx="245.7" cy="66.7" r="2.45"/><circle cx="106.2" cy="130.4" r="2.45"/><circle cx="146.1" cy="115.5" r="2.45"/><circle cx="159.5" cy="112.1" r="2.45"/><circle cx="224.7" cy="77.5" r="2.45"/><circle cx="158.1" cy="110.2" r="2.45"/><circle cx="246.3" cy="71.7" r="2.45"/><circle cx="279.3" cy="49.5" r="2.45"/><circle cx="235.7" cy="75.7" r="2.45"/><circle cx="183.1" cy="106.2" r="2.45"/><circle cx="222.7" cy="80.8" r="2.45"/><circle cx="239.8" cy="71.1" r="2.45"/><circle cx="149.0" cy="113.5" r="2.45"/><circle cx="222.4" cy="79.9" r="2.45"/><circle cx="208.1" cy="87.6" r="2.45"/><circle cx="215.6" cy="81.6" r="2.45"/><circle cx="157.1" cy="108.6" r="2.45"/><circle cx="146.5" cy="120.2" r="2.45"/><circle cx="160.3" cy="111.8" r="2.45"/><circle cx="166.0" cy="107.3" r="2.45"/><circle cx="229.1" cy="77.5" r="2.45"/><circle cx="177.0" cy="100.6" r="2.45"/><circle cx="238.7" cy="67.8" r="2.45"/><circle cx="198.0" cy="92.1" r="2.45"/><circle cx="147.4" cy="116.2" r="2.45"/><circle cx="155.4" cy="107.5" r="2.45"/><circle cx="246.9" cy="71.0" r="2.45"/><circle cx="154.2" cy="113.0" r="2.45"/><circle cx="206.4" cy="82.0" r="2.45"/><circle cx="160.4" cy="108.2" r="2.45"/><circle cx="218.3" cy="80.4" r="2.45"/><circle cx="129.8" cy="122.2" r="2.45"/><circle cx="235.2" cy="71.1" r="2.45"/><circle cx="247.0" cy="61.1" r="2.45"/><circle cx="127.2" cy="122.4" r="2.45"/><circle cx="217.1" cy="83.6" r="2.45"/><circle cx="140.3" cy="115.4" r="2.45"/><circle cx="250.1" cy="62.1" r="2.45"/><circle cx="235.6" cy="73.3" r="2.45"/><circle cx="227.3" cy="80.6" r="2.45"/><circle cx="212.9" cy="83.9" r="2.45"/><circle cx="264.2" cy="62.4" r="2.45"/><circle cx="111.0" cy="125.0" r="2.45"/><circle cx="169.3" cy="103.4" r="2.45"/><circle cx="193.1" cy="95.6" r="2.45"/><circle cx="187.7" cy="96.1" r="2.45"/><circle cx="240.0" cy="72.1" r="2.45"/><circle cx="250.2" cy="64.8" r="2.45"/><circle cx="187.1" cy="109.3" r="2.45"/><circle cx="245.6" cy="68.5" r="2.45"/><circle cx="237.1" cy="73.1" r="2.45"/><circle cx="179.9" cy="100.0" r="2.45"/><circle cx="168.1" cy="110.6" r="2.45"/><circle cx="201.2" cy="86.7" r="2.45"/><circle cx="181.9" cy="102.5" r="2.45"/><circle cx="237.8" cy="70.9" r="2.45"/><circle cx="148.5" cy="116.0" r="2.45"/><circle cx="248.3" cy="68.5" r="2.45"/><circle cx="156.8" cy="112.5" r="2.45"/><circle cx="245.8" cy="73.7" r="2.45"/><circle cx="270.5" cy="56.9" r="2.45"/><circle cx="193.3" cy="90.9" r="2.45"/><circle cx="206.4" cy="91.7" r="2.45"/><circle cx="147.0" cy="115.1" r="2.45"/><circle cx="224.6" cy="84.7" r="2.45"/><circle cx="247.2" cy="65.7" r="2.45"/><circle cx="232.0" cy="80.0" r="2.45"/><circle cx="190.7" cy="99.6" r="2.45"/><circle cx="156.2" cy="112.3" r="2.45"/><circle cx="199.2" cy="90.2" r="2.45"/><circle cx="214.3" cy="88.4" r="2.45"/><circle cx="158.7" cy="110.7" r="2.45"/><circle cx="166.8" cy="105.6" r="2.45"/><circle cx="135.8" cy="120.0" r="2.45"/><circle cx="177.0" cy="105.0" r="2.45"/><circle cx="206.3" cy="86.9" r="2.45"/><circle cx="149.0" cy="109.3" r="2.45"/><circle cx="197.0" cy="81.0" r="2.45"/><circle cx="208.4" cy="83.2" r="2.45"/><circle cx="205.5" cy="93.9" r="2.45"/><circle cx="132.3" cy="118.4" r="2.45"/><circle cx="194.5" cy="88.3" r="2.45"/><circle cx="150.0" cy="113.3" r="2.45"/><circle cx="174.2" cy="102.0" r="2.45"/><circle cx="194.3" cy="90.9" r="2.45"/><circle cx="172.4" cy="105.4" r="2.45"/><circle cx="147.9" cy="118.0" r="2.45"/><circle cx="181.4" cy="101.5" r="2.45"/><circle cx="185.3" cy="96.8" r="2.45"/><circle cx="235.2" cy="76.1" r="2.45"/><circle cx="138.1" cy="120.6" r="2.45"/><circle cx="224.0" cy="83.4" r="2.45"/><circle cx="207.7" cy="85.8" r="2.45"/><circle cx="136.6" cy="122.2" r="2.45"/><circle cx="124.8" cy="124.2" r="2.45"/><circle cx="228.5" cy="79.7" r="2.45"/><circle cx="131.8" cy="118.5" r="2.45"/><circle cx="215.1" cy="80.6" r="2.45"/><circle cx="232.7" cy="68.7" r="2.45"/><circle cx="123.8" cy="125.5" r="2.45"/><circle cx="182.8" cy="102.9" r="2.45"/><circle cx="290.5" cy="44.9" r="2.45"/><circle cx="221.8" cy="84.9" r="2.45"/><circle cx="178.7" cy="103.5" r="2.45"/><circle cx="167.1" cy="105.0" r="2.45"/><circle cx="209.0" cy="86.5" r="2.45"/><circle cx="252.4" cy="61.5" r="2.45"/><circle cx="52.6" cy="151.4" r="2.45"/><circle cx="249.1" cy="69.4" r="2.45"/><circle cx="192.4" cy="96.6" r="2.45"/><circle cx="138.7" cy="119.1" r="2.45"/><circle cx="278.7" cy="47.9" r="2.45"/><circle cx="179.7" cy="98.3" r="2.45"/><circle cx="122.1" cy="122.6" r="2.45"/><circle cx="225.4" cy="78.5" r="2.45"/><circle cx="189.5" cy="100.7" r="2.45"/><circle cx="151.0" cy="114.7" r="2.45"/><circle cx="264.0" cy="59.1" r="2.45"/><circle cx="189.1" cy="101.5" r="2.45"/><circle cx="232.4" cy="78.4" r="2.45"/><circle cx="228.4" cy="82.8" r="2.45"/><circle cx="243.9" cy="68.8" r="2.45"/><circle cx="186.2" cy="97.7" r="2.45"/><circle cx="186.2" cy="101.1" r="2.45"/><circle cx="186.5" cy="95.3" r="2.45"/><circle cx="249.3" cy="67.0" r="2.45"/><circle cx="234.7" cy="75.0" r="2.45"/><circle cx="175.8" cy="101.4" r="2.45"/><circle cx="224.7" cy="78.0" r="2.45"/><circle cx="121.3" cy="126.9" r="2.45"/><circle cx="154.4" cy="115.5" r="2.45"/><circle cx="187.4" cy="102.0" r="2.45"/><circle cx="144.3" cy="113.6" r="2.45"/><circle cx="183.8" cy="99.9" r="2.45"/><circle cx="174.7" cy="101.1" r="2.45"/><circle cx="244.9" cy="71.7" r="2.45"/><circle cx="159.5" cy="113.2" r="2.45"/><circle cx="176.5" cy="87.7" r="2.45"/><circle cx="182.1" cy="97.1" r="2.45"/><circle cx="165.9" cy="105.2" r="2.45"/><circle cx="193.0" cy="99.3" r="2.45"/><circle cx="178.2" cy="99.2" r="2.45"/><circle cx="269.4" cy="57.6" r="2.45"/><circle cx="258.6" cy="58.5" r="2.45"/><circle cx="145.1" cy="114.9" r="2.45"/><circle cx="186.1" cy="100.2" r="2.45"/><circle cx="246.0" cy="69.8" r="2.45"/><circle cx="177.4" cy="103.1" r="2.45"/><circle cx="156.3" cy="121.7" r="2.45"/><circle cx="239.8" cy="70.4" r="2.45"/><circle cx="148.6" cy="115.4" r="2.45"/><circle cx="187.2" cy="95.6" r="2.45"/><circle cx="220.0" cy="90.4" r="2.45"/><circle cx="168.5" cy="104.3" r="2.45"/><circle cx="138.2" cy="118.9" r="2.45"/><circle cx="215.4" cy="87.2" r="2.45"/><circle cx="256.2" cy="58.6" r="2.45"/><circle cx="162.8" cy="104.5" r="2.45"/><circle cx="150.0" cy="118.5" r="2.45"/><circle cx="148.4" cy="116.7" r="2.45"/><circle cx="242.8" cy="69.3" r="2.45"/><circle cx="121.7" cy="118.8" r="2.45"/><circle cx="227.0" cy="76.5" r="2.45"/><circle cx="157.4" cy="112.1" r="2.45"/><circle cx="144.3" cy="112.0" r="2.45"/><circle cx="194.8" cy="95.8" r="2.45"/><circle cx="185.4" cy="94.8" r="2.45"/><circle cx="187.5" cy="95.6" r="2.45"/><circle cx="210.8" cy="86.3" r="2.45"/><circle cx="277.6" cy="52.7" r="2.45"/><circle cx="215.0" cy="85.6" r="2.45"/><circle cx="148.9" cy="114.6" r="2.45"/><circle cx="60.4" cy="144.4" r="2.45"/><circle cx="160.0" cy="106.2" r="2.45"/><circle cx="221.1" cy="80.9" r="2.45"/><circle cx="151.7" cy="115.6" r="2.45"/><circle cx="205.5" cy="84.4" r="2.45"/><circle cx="131.9" cy="119.0" r="2.45"/><circle cx="213.8" cy="84.1" r="2.45"/><circle cx="261.6" cy="57.5" r="2.45"/><circle cx="239.4" cy="72.0" r="2.45"/><circle cx="156.8" cy="106.4" r="2.45"/><circle cx="228.2" cy="77.8" r="2.45"/><circle cx="156.3" cy="113.3" r="2.45"/><circle cx="190.9" cy="97.2" r="2.45"/><circle cx="261.9" cy="60.0" r="2.45"/><circle cx="142.7" cy="116.7" r="2.45"/><circle cx="190.7" cy="97.7" r="2.45"/><circle cx="161.9" cy="110.5" r="2.45"/><circle cx="192.6" cy="102.4" r="2.45"/><circle cx="192.1" cy="96.9" r="2.45"/><circle cx="211.4" cy="80.5" r="2.45"/><circle cx="254.7" cy="64.7" r="2.45"/><circle cx="155.9" cy="114.2" r="2.45"/><circle cx="218.6" cy="84.1" r="2.45"/><circle cx="191.6" cy="97.9" r="2.45"/><circle cx="221.8" cy="80.8" r="2.45"/><circle cx="276.6" cy="55.2" r="2.45"/><circle cx="197.3" cy="89.2" r="2.45"/><circle cx="222.3" cy="85.2" r="2.45"/><circle cx="190.5" cy="97.0" r="2.45"/><circle cx="158.4" cy="106.7" r="2.45"/><circle cx="263.2" cy="59.7" r="2.45"/><circle cx="230.0" cy="72.9" r="2.45"/><circle cx="240.9" cy="72.9" r="2.45"/><circle cx="139.8" cy="116.4" r="2.45"/><circle cx="222.8" cy="73.0" r="2.45"/><circle cx="170.9" cy="87.2" r="2.45"/><circle cx="247.0" cy="71.1" r="2.45"/><circle cx="229.9" cy="75.2" r="2.45"/><circle cx="217.0" cy="89.5" r="2.45"/><circle cx="228.7" cy="77.5" r="2.45"/><circle cx="128.3" cy="124.0" r="2.45"/><circle cx="188.3" cy="97.0" r="2.45"/><circle cx="164.2" cy="111.4" r="2.45"/><circle cx="201.5" cy="97.2" r="2.45"/><circle cx="241.6" cy="68.5" r="2.45"/><circle cx="236.6" cy="73.5" r="2.45"/><circle cx="231.2" cy="72.3" r="2.45"/><circle cx="173.0" cy="103.9" r="2.45"/><circle cx="193.7" cy="94.0" r="2.45"/><circle cx="139.1" cy="120.7" r="2.45"/><circle cx="236.7" cy="77.7" r="2.45"/><circle cx="221.0" cy="80.4" r="2.45"/><circle cx="196.9" cy="96.6" r="2.45"/><circle cx="174.7" cy="99.8" r="2.45"/><circle cx="178.1" cy="98.2" r="2.45"/><circle cx="105.5" cy="130.1" r="2.45"/><circle cx="96.0" cy="133.3" r="2.45"/><circle cx="257.0" cy="57.4" r="2.45"/><circle cx="187.4" cy="98.0" r="2.45"/><circle cx="173.9" cy="107.0" r="2.45"/><circle cx="228.8" cy="65.4" r="2.45"/><circle cx="298.5" cy="52.2" r="2.45"/><circle cx="267.9" cy="57.5" r="2.45"/><circle cx="166.8" cy="103.5" r="2.45"/><circle cx="219.5" cy="84.2" r="2.45"/><circle cx="175.7" cy="102.2" r="2.45"/><circle cx="230.0" cy="74.1" r="2.45"/><circle cx="262.1" cy="64.1" r="2.45"/><circle cx="253.7" cy="81.3" r="2.45"/><circle cx="200.0" cy="96.1" r="2.45"/><circle cx="212.1" cy="89.6" r="2.45"/><circle cx="239.2" cy="73.7" r="2.45"/><circle cx="156.1" cy="111.4" r="2.45"/><circle cx="210.3" cy="88.7" r="2.45"/><circle cx="177.7" cy="104.7" r="2.45"/><circle cx="220.9" cy="84.3" r="2.45"/><circle cx="223.9" cy="82.9" r="2.45"/><circle cx="210.6" cy="84.9" r="2.45"/><circle cx="148.9" cy="115.9" r="2.45"/><circle cx="228.6" cy="80.8" r="2.45"/><circle cx="229.9" cy="80.4" r="2.45"/><circle cx="215.8" cy="86.1" r="2.45"/><circle cx="173.7" cy="108.9" r="2.45"/><circle cx="129.1" cy="121.9" r="2.45"/><circle cx="209.2" cy="85.5" r="2.45"/><circle cx="168.8" cy="110.0" r="2.45"/><circle cx="155.0" cy="113.5" r="2.45"/><circle cx="188.2" cy="98.5" r="2.45"/><circle cx="274.1" cy="51.9" r="2.45"/><circle cx="293.0" cy="45.4" r="2.45"/><circle cx="262.0" cy="61.1" r="2.45"/><circle cx="212.6" cy="88.4" r="2.45"/><circle cx="164.4" cy="110.8" r="2.45"/><circle cx="191.1" cy="98.0" r="2.45"/><circle cx="183.1" cy="90.2" r="2.45"/><circle cx="230.4" cy="73.2" r="2.45"/><circle cx="207.1" cy="86.8" r="2.45"/><circle cx="205.1" cy="88.0" r="2.45"/><circle cx="224.8" cy="84.1" r="2.45"/><circle cx="219.8" cy="84.7" r="2.45"/><circle cx="188.6" cy="92.9" r="2.45"/><circle cx="200.2" cy="91.3" r="2.45"/><circle cx="109.5" cy="120.5" r="2.45"/><circle cx="186.8" cy="94.8" r="2.45"/><circle cx="232.6" cy="75.6" r="2.45"/><circle cx="258.4" cy="61.0" r="2.45"/><circle cx="261.1" cy="60.5" r="2.45"/><circle cx="158.5" cy="109.1" r="2.45"/><circle cx="180.8" cy="100.0" r="2.45"/><circle cx="260.9" cy="58.3" r="2.45"/><circle cx="250.4" cy="68.1" r="2.45"/><circle cx="184.7" cy="82.8" r="2.45"/><circle cx="142.5" cy="117.8" r="2.45"/><circle cx="233.6" cy="85.2" r="2.45"/><circle cx="279.6" cy="51.8" r="2.45"/><circle cx="179.0" cy="102.0" r="2.45"/><circle cx="227.1" cy="76.7" r="2.45"/><circle cx="223.5" cy="79.5" r="2.45"/><circle cx="223.9" cy="91.4" r="2.45"/><circle cx="245.0" cy="84.6" r="2.45"/><circle cx="177.0" cy="104.9" r="2.45"/><circle cx="125.1" cy="124.8" r="2.45"/><circle cx="181.2" cy="101.9" r="2.45"/><circle cx="260.8" cy="62.5" r="2.45"/><circle cx="179.3" cy="102.9" r="2.45"/><circle cx="178.4" cy="99.6" r="2.45"/><circle cx="177.8" cy="100.7" r="2.45"/><circle cx="203.3" cy="85.3" r="2.45"/><circle cx="205.0" cy="94.1" r="2.45"/><circle cx="201.4" cy="94.0" r="2.45"/><circle cx="168.7" cy="109.9" r="2.45"/><circle cx="238.8" cy="69.9" r="2.45"/><circle cx="213.5" cy="82.3" r="2.45"/><circle cx="166.4" cy="108.9" r="2.45"/><circle cx="146.0" cy="117.1" r="2.45"/><circle cx="147.3" cy="114.5" r="2.45"/><circle cx="156.2" cy="108.0" r="2.45"/><circle cx="167.1" cy="98.7" r="2.45"/><circle cx="216.3" cy="85.3" r="2.45"/><circle cx="172.4" cy="102.2" r="2.45"/><circle cx="184.6" cy="99.7" r="2.45"/><circle cx="191.8" cy="90.7" r="2.45"/><circle cx="199.7" cy="83.4" r="2.45"/><circle cx="279.1" cy="49.6" r="2.45"/><circle cx="184.8" cy="97.2" r="2.45"/><circle cx="235.4" cy="82.0" r="2.45"/><circle cx="233.6" cy="73.4" r="2.45"/><circle cx="133.6" cy="124.6" r="2.45"/><circle cx="211.3" cy="89.3" r="2.45"/><circle cx="187.9" cy="94.8" r="2.45"/><circle cx="171.6" cy="109.6" r="2.45"/><circle cx="115.2" cy="123.5" r="2.45"/><circle cx="229.7" cy="78.6" r="2.45"/><circle cx="179.1" cy="99.6" r="2.45"/><circle cx="264.9" cy="61.0" r="2.45"/><circle cx="92.5" cy="138.8" r="2.45"/><circle cx="239.1" cy="70.7" r="2.45"/><circle cx="181.3" cy="102.6" r="2.45"/><circle cx="241.2" cy="71.9" r="2.45"/><circle cx="240.9" cy="78.5" r="2.45"/><circle cx="280.5" cy="48.1" r="2.45"/><circle cx="235.2" cy="72.4" r="2.45"/><circle cx="192.0" cy="97.5" r="2.45"/><circle cx="210.3" cy="87.2" r="2.45"/><circle cx="250.8" cy="69.3" r="2.45"/><circle cx="153.0" cy="114.8" r="2.45"/><circle cx="162.2" cy="108.4" r="2.45"/><circle cx="262.0" cy="59.6" r="2.45"/><circle cx="124.5" cy="122.5" r="2.45"/><circle cx="149.8" cy="111.2" r="2.45"/><circle cx="246.1" cy="66.4" r="2.45"/><circle cx="162.5" cy="107.8" r="2.45"/><circle cx="179.7" cy="99.7" r="2.45"/><circle cx="164.9" cy="108.4" r="2.45"/><circle cx="266.3" cy="52.6" r="2.45"/><circle cx="241.7" cy="73.6" r="2.45"/><circle cx="168.0" cy="108.8" r="2.45"/><circle cx="199.4" cy="90.7" r="2.45"/><circle cx="164.4" cy="112.1" r="2.45"/><circle cx="209.9" cy="87.4" r="2.45"/><circle cx="161.8" cy="113.3" r="2.45"/><circle cx="189.4" cy="99.4" r="2.45"/><circle cx="199.4" cy="80.7" r="2.45"/><circle cx="260.8" cy="64.9" r="2.45"/><circle cx="202.8" cy="86.8" r="2.45"/><circle cx="226.6" cy="80.2" r="2.45"/><circle cx="232.0" cy="79.4" r="2.45"/><circle cx="243.5" cy="74.7" r="2.45"/><circle cx="187.4" cy="94.3" r="2.45"/><circle cx="253.3" cy="66.1" r="2.45"/><circle cx="131.8" cy="121.4" r="2.45"/><circle cx="156.2" cy="107.1" r="2.45"/><circle cx="152.7" cy="116.6" r="2.45"/><circle cx="315.4" cy="39.4" r="2.45"/><circle cx="250.4" cy="72.4" r="2.45"/><circle cx="185.4" cy="98.4" r="2.45"/><circle cx="212.0" cy="81.0" r="2.45"/><circle cx="85.5" cy="139.0" r="2.45"/><circle cx="257.1" cy="62.6" r="2.45"/><circle cx="264.9" cy="55.4" r="2.45"/><circle cx="182.6" cy="96.8" r="2.45"/><circle cx="140.3" cy="117.3" r="2.45"/><circle cx="242.1" cy="73.4" r="2.45"/><circle cx="144.7" cy="115.9" r="2.45"/><circle cx="200.9" cy="87.3" r="2.45"/><circle cx="277.2" cy="50.8" r="2.45"/><circle cx="191.4" cy="95.7" r="2.45"/><circle cx="219.5" cy="80.3" r="2.45"/><circle cx="188.7" cy="97.1" r="2.45"/><circle cx="156.4" cy="107.1" r="2.45"/><circle cx="234.7" cy="75.3" r="2.45"/><circle cx="192.5" cy="90.1" r="2.45"/><circle cx="180.8" cy="99.8" r="2.45"/><circle cx="185.2" cy="98.2" r="2.45"/><circle cx="203.8" cy="95.1" r="2.45"/><circle cx="207.6" cy="94.4" r="2.45"/><circle cx="274.9" cy="53.4" r="2.45"/><circle cx="202.4" cy="91.5" r="2.45"/><circle cx="244.0" cy="64.9" r="2.45"/><circle cx="180.9" cy="103.2" r="2.45"/><circle cx="157.6" cy="115.7" r="2.45"/><circle cx="165.5" cy="103.3" r="2.45"/><circle cx="153.4" cy="118.0" r="2.45"/><circle cx="188.8" cy="96.7" r="2.45"/><circle cx="217.4" cy="86.9" r="2.45"/><circle cx="263.5" cy="65.9" r="2.45"/><circle cx="188.1" cy="102.9" r="2.45"/><circle cx="204.4" cy="89.7" r="2.45"/><circle cx="239.6" cy="72.5" r="2.45"/><circle cx="222.4" cy="81.1" r="2.45"/><circle cx="232.5" cy="78.5" r="2.45"/><circle cx="187.7" cy="97.5" r="2.45"/><circle cx="258.7" cy="61.5" r="2.45"/><circle cx="211.1" cy="85.7" r="2.45"/><circle cx="122.2" cy="121.8" r="2.45"/><circle cx="183.4" cy="96.9" r="2.45"/><circle cx="151.4" cy="116.0" r="2.45"/><circle cx="137.0" cy="122.7" r="2.45"/><circle cx="157.8" cy="113.5" r="2.45"/><circle cx="261.2" cy="60.4" r="2.45"/><circle cx="167.9" cy="103.8" r="2.45"/><circle cx="184.1" cy="94.8" r="2.45"/><circle cx="174.8" cy="103.3" r="2.45"/><circle cx="212.1" cy="87.4" r="2.45"/><circle cx="181.5" cy="104.0" r="2.45"/><circle cx="196.2" cy="98.5" r="2.45"/><circle cx="245.1" cy="65.0" r="2.45"/><circle cx="226.7" cy="79.4" r="2.45"/><circle cx="162.9" cy="110.2" r="2.45"/><circle cx="194.2" cy="88.8" r="2.45"/><circle cx="133.0" cy="122.5" r="2.45"/><circle cx="156.0" cy="111.9" r="2.45"/><circle cx="208.5" cy="85.8" r="2.45"/><circle cx="127.9" cy="126.6" r="2.45"/><circle cx="165.1" cy="111.6" r="2.45"/><circle cx="220.6" cy="70.3" r="2.45"/><circle cx="189.5" cy="95.6" r="2.45"/><circle cx="259.8" cy="66.3" r="2.45"/><circle cx="211.9" cy="87.3" r="2.45"/><circle cx="167.3" cy="107.2" r="2.45"/><circle cx="256.4" cy="61.9" r="2.45"/><circle cx="249.4" cy="67.6" r="2.45"/><circle cx="273.6" cy="58.4" r="2.45"/><circle cx="252.7" cy="65.5" r="2.45"/><circle cx="214.1" cy="80.7" r="2.45"/><circle cx="180.5" cy="103.0" r="2.45"/><circle cx="266.1" cy="60.6" r="2.45"/><circle cx="131.9" cy="123.8" r="2.45"/><circle cx="203.7" cy="101.6" r="2.45"/><circle cx="209.5" cy="82.6" r="2.45"/><circle cx="180.6" cy="99.3" r="2.45"/><circle cx="150.1" cy="114.3" r="2.45"/><circle cx="240.0" cy="71.8" r="2.45"/><circle cx="121.6" cy="122.7" r="2.45"/><circle cx="171.8" cy="106.1" r="2.45"/><circle cx="191.7" cy="99.7" r="2.45"/><circle cx="183.1" cy="96.6" r="2.45"/><circle cx="210.3" cy="93.6" r="2.45"/><circle cx="232.8" cy="76.6" r="2.45"/><circle cx="190.7" cy="92.5" r="2.45"/><circle cx="212.2" cy="80.3" r="2.45"/><circle cx="148.3" cy="115.0" r="2.45"/><circle cx="201.8" cy="90.8" r="2.45"/><circle cx="211.9" cy="85.8" r="2.45"/><circle cx="147.1" cy="116.0" r="2.45"/><circle cx="197.4" cy="93.4" r="2.45"/><circle cx="212.9" cy="80.4" r="2.45"/><circle cx="178.1" cy="100.9" r="2.45"/><circle cx="212.0" cy="74.9" r="2.45"/><circle cx="248.9" cy="66.0" r="2.45"/><circle cx="167.5" cy="107.8" r="2.45"/><circle cx="173.7" cy="105.0" r="2.45"/><circle cx="268.0" cy="48.5" r="2.45"/><circle cx="280.1" cy="51.3" r="2.45"/><circle cx="149.0" cy="111.8" r="2.45"/><circle cx="233.1" cy="78.3" r="2.45"/><circle cx="176.3" cy="101.5" r="2.45"/><circle cx="170.4" cy="106.6" r="2.45"/><circle cx="248.1" cy="70.2" r="2.45"/><circle cx="189.2" cy="99.5" r="2.45"/><circle cx="204.8" cy="91.4" r="2.45"/><circle cx="218.7" cy="81.5" r="2.45"/><circle cx="216.1" cy="78.7" r="2.45"/><circle cx="204.3" cy="88.0" r="2.45"/><circle cx="162.0" cy="111.5" r="2.45"/><circle cx="212.6" cy="83.6" r="2.45"/><circle cx="230.4" cy="84.4" r="2.45"/><circle cx="186.3" cy="98.5" r="2.45"/><circle cx="223.8" cy="67.2" r="2.45"/><circle cx="208.6" cy="94.8" r="2.45"/><circle cx="157.7" cy="111.8" r="2.45"/><circle cx="142.4" cy="114.8" r="2.45"/><circle cx="178.1" cy="96.7" r="2.45"/><circle cx="235.6" cy="70.5" r="2.45"/><circle cx="125.6" cy="124.4" r="2.45"/><circle cx="224.9" cy="73.7" r="2.45"/><circle cx="135.4" cy="116.3" r="2.45"/><circle cx="231.6" cy="77.0" r="2.45"/><circle cx="250.9" cy="66.0" r="2.45"/><circle cx="149.3" cy="116.7" r="2.45"/><circle cx="218.0" cy="83.3" r="2.45"/><circle cx="284.4" cy="45.4" r="2.45"/><circle cx="225.2" cy="86.0" r="2.45"/><circle cx="149.8" cy="111.0" r="2.45"/><circle cx="211.8" cy="84.3" r="2.45"/><circle cx="190.4" cy="95.0" r="2.45"/><circle cx="152.4" cy="114.6" r="2.45"/><circle cx="236.0" cy="71.7" r="2.45"/><circle cx="174.9" cy="104.1" r="2.45"/><circle cx="280.2" cy="50.5" r="2.45"/><circle cx="280.9" cy="52.7" r="2.45"/><circle cx="116.8" cy="126.6" r="2.45"/><circle cx="247.7" cy="69.2" r="2.45"/><circle cx="147.4" cy="112.9" r="2.45"/><circle cx="235.8" cy="73.4" r="2.45"/><circle cx="163.3" cy="108.7" r="2.45"/><circle cx="276.3" cy="53.3" r="2.45"/><circle cx="203.6" cy="77.5" r="2.45"/><circle cx="193.6" cy="96.5" r="2.45"/><circle cx="129.3" cy="123.8" r="2.45"/><circle cx="123.4" cy="123.0" r="2.45"/><circle cx="169.7" cy="110.1" r="2.45"/><circle cx="252.8" cy="69.2" r="2.45"/><circle cx="188.7" cy="95.6" r="2.45"/><circle cx="168.8" cy="98.5" r="2.45"/><circle cx="194.8" cy="93.0" r="2.45"/><circle cx="187.8" cy="98.7" r="2.45"/><circle cx="226.0" cy="71.8" r="2.45"/><circle cx="233.8" cy="74.1" r="2.45"/><circle cx="247.1" cy="70.2" r="2.45"/><circle cx="205.1" cy="88.3" r="2.45"/><circle cx="254.1" cy="59.8" r="2.45"/><circle cx="243.4" cy="71.7" r="2.45"/><circle cx="185.6" cy="96.2" r="2.45"/><circle cx="274.6" cy="54.0" r="2.45"/><circle cx="245.6" cy="69.1" r="2.45"/><circle cx="217.1" cy="81.9" r="2.45"/><circle cx="237.6" cy="80.7" r="2.45"/><circle cx="290.7" cy="43.3" r="2.45"/><circle cx="201.3" cy="89.0" r="2.45"/><circle cx="212.4" cy="83.8" r="2.45"/><circle cx="134.2" cy="120.2" r="2.45"/><circle cx="280.2" cy="50.7" r="2.45"/><circle cx="162.6" cy="105.2" r="2.45"/><circle cx="187.2" cy="98.0" r="2.45"/><circle cx="121.1" cy="123.7" r="2.45"/><circle cx="211.7" cy="91.3" r="2.45"/><circle cx="237.8" cy="67.6" r="2.45"/><circle cx="145.1" cy="115.8" r="2.45"/><circle cx="172.1" cy="104.2" r="2.45"/><circle cx="228.6" cy="80.9" r="2.45"/><circle cx="142.4" cy="119.7" r="2.45"/><circle cx="164.0" cy="106.5" r="2.45"/><circle cx="203.8" cy="101.6" r="2.45"/><circle cx="255.4" cy="61.0" r="2.45"/><circle cx="149.8" cy="116.4" r="2.45"/><circle cx="218.3" cy="85.2" r="2.45"/><circle cx="249.5" cy="67.4" r="2.45"/><circle cx="139.6" cy="114.0" r="2.45"/><circle cx="165.1" cy="107.5" r="2.45"/><circle cx="150.4" cy="111.3" r="2.45"/><circle cx="234.2" cy="79.1" r="2.45"/><circle cx="220.2" cy="83.6" r="2.45"/><circle cx="204.0" cy="87.0" r="2.45"/><circle cx="201.0" cy="95.0" r="2.45"/><circle cx="196.1" cy="102.0" r="2.45"/><circle cx="252.1" cy="67.9" r="2.45"/><circle cx="163.3" cy="110.0" r="2.45"/><circle cx="241.0" cy="72.9" r="2.45"/><circle cx="151.6" cy="111.9" r="2.45"/><circle cx="179.8" cy="100.0" r="2.45"/><circle cx="197.7" cy="94.3" r="2.45"/><circle cx="240.0" cy="69.9" r="2.45"/><circle cx="162.5" cy="109.6" r="2.45"/><circle cx="82.9" cy="134.7" r="2.45"/><circle cx="227.6" cy="77.9" r="2.45"/><circle cx="143.0" cy="119.7" r="2.45"/><circle cx="233.9" cy="73.4" r="2.45"/><circle cx="136.0" cy="121.9" r="2.45"/><circle cx="119.2" cy="123.9" r="2.45"/><circle cx="247.2" cy="76.4" r="2.45"/><circle cx="190.9" cy="92.8" r="2.45"/><circle cx="251.3" cy="72.6" r="2.45"/><circle cx="160.3" cy="108.9" r="2.45"/><circle cx="190.4" cy="100.0" r="2.45"/><circle cx="206.4" cy="91.4" r="2.45"/><circle cx="235.3" cy="72.6" r="2.45"/><circle cx="212.0" cy="91.0" r="2.45"/><circle cx="166.3" cy="104.9" r="2.45"/><circle cx="191.8" cy="89.3" r="2.45"/><circle cx="135.7" cy="118.5" r="2.45"/><circle cx="158.1" cy="115.2" r="2.45"/><circle cx="182.9" cy="98.4" r="2.45"/><circle cx="230.8" cy="77.0" r="2.45"/><circle cx="169.3" cy="105.8" r="2.45"/><circle cx="201.0" cy="91.2" r="2.45"/><circle cx="176.8" cy="100.0" r="2.45"/><circle cx="245.0" cy="65.2" r="2.45"/><circle cx="211.6" cy="84.7" r="2.45"/><circle cx="213.3" cy="80.3" r="2.45"/><circle cx="183.3" cy="101.5" r="2.45"/><circle cx="185.1" cy="91.8" r="2.45"/><circle cx="242.1" cy="76.8" r="2.45"/><circle cx="147.0" cy="118.3" r="2.45"/><circle cx="178.2" cy="104.7" r="2.45"/><circle cx="211.2" cy="83.2" r="2.45"/><circle cx="185.6" cy="95.8" r="2.45"/><circle cx="144.6" cy="120.5" r="2.45"/><circle cx="177.3" cy="102.1" r="2.45"/><circle cx="204.3" cy="88.1" r="2.45"/><circle cx="221.6" cy="72.1" r="2.45"/><circle cx="260.9" cy="61.7" r="2.45"/><circle cx="164.9" cy="111.9" r="2.45"/><circle cx="250.1" cy="71.4" r="2.45"/><circle cx="204.4" cy="89.9" r="2.45"/><circle cx="132.2" cy="120.1" r="2.45"/><circle cx="264.0" cy="58.3" r="2.45"/><circle cx="233.6" cy="75.5" r="2.45"/><circle cx="236.7" cy="78.3" r="2.45"/><circle cx="149.3" cy="114.6" r="2.45"/><circle cx="169.1" cy="106.1" r="2.45"/><circle cx="145.3" cy="109.6" r="2.45"/><circle cx="224.1" cy="79.8" r="2.45"/><circle cx="208.6" cy="90.7" r="2.45"/><circle cx="181.0" cy="102.4" r="2.45"/><circle cx="241.0" cy="72.6" r="2.45"/><circle cx="191.8" cy="107.3" r="2.45"/><circle cx="190.4" cy="96.5" r="2.45"/><circle cx="262.1" cy="59.6" r="2.45"/><circle cx="278.7" cy="50.8" r="2.45"/><circle cx="202.6" cy="93.5" r="2.45"/><circle cx="142.1" cy="118.2" r="2.45"/><circle cx="237.8" cy="72.6" r="2.45"/><circle cx="170.8" cy="103.1" r="2.45"/><circle cx="166.6" cy="106.4" r="2.45"/><circle cx="164.3" cy="112.0" r="2.45"/><circle cx="272.9" cy="51.6" r="2.45"/><circle cx="203.3" cy="84.9" r="2.45"/><circle cx="240.6" cy="72.8" r="2.45"/><circle cx="250.6" cy="73.6" r="2.45"/><circle cx="212.5" cy="82.4" r="2.45"/><circle cx="232.6" cy="72.4" r="2.45"/><circle cx="207.9" cy="87.4" r="2.45"/><circle cx="160.3" cy="110.9" r="2.45"/><circle cx="175.2" cy="100.2" r="2.45"/><circle cx="246.4" cy="66.7" r="2.45"/><circle cx="174.9" cy="103.7" r="2.45"/><circle cx="278.7" cy="51.2" r="2.45"/><circle cx="135.7" cy="119.5" r="2.45"/><circle cx="173.8" cy="101.0" r="2.45"/><circle cx="160.0" cy="109.5" r="2.45"/><circle cx="137.2" cy="122.3" r="2.45"/><circle cx="284.6" cy="48.9" r="2.45"/><circle cx="176.4" cy="102.6" r="2.45"/><circle cx="271.1" cy="54.3" r="2.45"/><circle cx="217.1" cy="84.6" r="2.45"/><circle cx="184.8" cy="96.7" r="2.45"/><circle cx="162.2" cy="110.7" r="2.45"/><circle cx="157.0" cy="108.5" r="2.45"/><circle cx="117.5" cy="123.5" r="2.45"/><circle cx="192.9" cy="92.4" r="2.45"/><circle cx="274.6" cy="53.0" r="2.45"/><circle cx="217.8" cy="78.8" r="2.45"/><circle cx="154.5" cy="118.0" r="2.45"/><circle cx="190.6" cy="91.6" r="2.45"/><circle cx="181.1" cy="103.7" r="2.45"/><circle cx="230.6" cy="79.7" r="2.45"/><circle cx="168.3" cy="109.0" r="2.45"/><circle cx="164.7" cy="110.9" r="2.45"/><circle cx="179.9" cy="101.9" r="2.45"/><circle cx="189.6" cy="97.9" r="2.45"/><circle cx="191.4" cy="96.8" r="2.45"/><circle cx="224.3" cy="76.0" r="2.45"/><circle cx="259.2" cy="61.2" r="2.45"/><circle cx="238.7" cy="75.0" r="2.45"/><circle cx="165.1" cy="109.6" r="2.45"/><circle cx="157.4" cy="113.7" r="2.45"/><circle cx="165.0" cy="105.4" r="2.45"/><circle cx="204.4" cy="93.2" r="2.45"/><circle cx="259.6" cy="63.0" r="2.45"/><circle cx="218.9" cy="77.0" r="2.45"/><circle cx="266.1" cy="60.0" r="2.45"/><circle cx="210.2" cy="86.3" r="2.45"/><circle cx="174.5" cy="102.9" r="2.45"/><circle cx="192.9" cy="100.6" r="2.45"/><circle cx="200.9" cy="90.8" r="2.45"/><circle cx="223.2" cy="77.1" r="2.45"/><circle cx="255.9" cy="63.6" r="2.45"/><circle cx="208.2" cy="85.8" r="2.45"/><circle cx="280.3" cy="52.1" r="2.45"/><circle cx="177.9" cy="102.7" r="2.45"/><circle cx="252.4" cy="66.8" r="2.45"/><circle cx="157.9" cy="111.2" r="2.45"/><circle cx="207.6" cy="92.4" r="2.45"/><circle cx="136.6" cy="121.5" r="2.45"/><circle cx="153.2" cy="111.9" r="2.45"/><circle cx="164.2" cy="110.4" r="2.45"/><circle cx="249.6" cy="66.1" r="2.45"/><circle cx="188.2" cy="93.1" r="2.45"/><circle cx="167.7" cy="106.3" r="2.45"/><circle cx="214.9" cy="84.1" r="2.45"/><circle cx="185.7" cy="97.1" r="2.45"/><circle cx="211.4" cy="89.0" r="2.45"/><circle cx="221.0" cy="84.9" r="2.45"/><circle cx="182.7" cy="103.8" r="2.45"/><circle cx="246.1" cy="71.8" r="2.45"/><circle cx="270.7" cy="52.0" r="2.45"/><circle cx="209.9" cy="89.3" r="2.45"/><circle cx="228.8" cy="77.8" r="2.45"/><circle cx="226.0" cy="80.1" r="2.45"/><circle cx="204.2" cy="91.1" r="2.45"/><circle cx="238.1" cy="74.3" r="2.45"/><circle cx="152.6" cy="113.9" r="2.45"/><circle cx="167.6" cy="105.6" r="2.45"/><circle cx="153.7" cy="113.7" r="2.45"/><circle cx="193.6" cy="93.8" r="2.45"/><circle cx="233.9" cy="75.8" r="2.45"/><circle cx="179.5" cy="103.0" r="2.45"/><circle cx="230.0" cy="77.7" r="2.45"/><circle cx="248.1" cy="60.0" r="2.45"/><circle cx="208.3" cy="91.4" r="2.45"/><circle cx="219.6" cy="82.4" r="2.45"/><circle cx="249.0" cy="66.0" r="2.45"/><circle cx="254.8" cy="63.2" r="2.45"/><circle cx="261.2" cy="65.6" r="2.45"/><circle cx="210.4" cy="90.0" r="2.45"/><circle cx="171.7" cy="105.5" r="2.45"/><circle cx="258.7" cy="59.5" r="2.45"/><circle cx="201.8" cy="88.5" r="2.45"/><circle cx="234.3" cy="75.4" r="2.45"/><circle cx="236.9" cy="75.0" r="2.45"/><circle cx="252.9" cy="66.1" r="2.45"/><circle cx="138.7" cy="119.5" r="2.45"/><circle cx="191.0" cy="100.5" r="2.45"/><circle cx="87.0" cy="140.5" r="2.45"/><circle cx="187.3" cy="102.3" r="2.45"/><circle cx="157.1" cy="111.6" r="2.45"/><circle cx="127.1" cy="119.4" r="2.45"/><circle cx="179.5" cy="101.4" r="2.45"/><circle cx="266.2" cy="62.1" r="2.45"/><circle cx="290.6" cy="47.2" r="2.45"/><circle cx="205.6" cy="89.2" r="2.45"/><circle cx="174.3" cy="107.1" r="2.45"/><circle cx="183.2" cy="99.5" r="2.45"/><circle cx="158.8" cy="112.7" r="2.45"/><circle cx="248.7" cy="70.0" r="2.45"/><circle cx="157.0" cy="115.0" r="2.45"/><circle cx="189.4" cy="95.8" r="2.45"/><circle cx="186.6" cy="97.5" r="2.45"/><circle cx="196.4" cy="92.3" r="2.45"/><circle cx="132.1" cy="118.9" r="2.45"/><circle cx="280.0" cy="50.7" r="2.45"/><circle cx="151.9" cy="110.5" r="2.45"/><circle cx="235.3" cy="77.7" r="2.45"/><circle cx="231.4" cy="74.2" r="2.45"/><circle cx="156.7" cy="112.6" r="2.45"/><circle cx="197.8" cy="94.3" r="2.45"/><circle cx="288.6" cy="47.4" r="2.45"/><circle cx="167.3" cy="105.5" r="2.45"/><circle cx="150.8" cy="113.5" r="2.45"/><circle cx="232.0" cy="70.1" r="2.45"/><circle cx="184.8" cy="102.0" r="2.45"/><circle cx="188.0" cy="97.1" r="2.45"/><circle cx="220.4" cy="84.4" r="2.45"/><circle cx="181.1" cy="98.4" r="2.45"/><circle cx="225.3" cy="70.9" r="2.45"/><circle cx="201.2" cy="93.9" r="2.45"/><circle cx="155.8" cy="108.9" r="2.45"/><circle cx="205.9" cy="91.8" r="2.45"/><circle cx="149.2" cy="107.6" r="2.45"/><circle cx="137.8" cy="118.9" r="2.45"/><circle cx="197.9" cy="90.9" r="2.45"/><circle cx="230.5" cy="79.9" r="2.45"/><circle cx="125.7" cy="120.4" r="2.45"/><circle cx="150.2" cy="114.4" r="2.45"/><circle cx="174.8" cy="106.4" r="2.45"/><circle cx="199.1" cy="86.4" r="2.45"/><circle cx="168.1" cy="108.7" r="2.45"/><circle cx="170.5" cy="107.1" r="2.45"/><circle cx="205.4" cy="89.9" r="2.45"/><circle cx="263.5" cy="62.9" r="2.45"/><circle cx="247.7" cy="65.4" r="2.45"/><circle cx="164.6" cy="103.5" r="2.45"/><circle cx="250.4" cy="69.2" r="2.45"/><circle cx="242.8" cy="66.7" r="2.45"/><circle cx="230.8" cy="73.2" r="2.45"/><circle cx="207.3" cy="90.0" r="2.45"/><circle cx="155.2" cy="110.3" r="2.45"/><circle cx="183.1" cy="94.0" r="2.45"/><circle cx="224.9" cy="81.1" r="2.45"/><circle cx="200.9" cy="92.7" r="2.45"/><circle cx="163.9" cy="111.0" r="2.45"/><circle cx="137.9" cy="109.9" r="2.45"/><circle cx="137.9" cy="116.7" r="2.45"/><circle cx="164.0" cy="110.4" r="2.45"/><circle cx="281.2" cy="49.8" r="2.45"/><circle cx="188.5" cy="95.2" r="2.45"/><circle cx="237.0" cy="74.3" r="2.45"/><circle cx="207.4" cy="84.0" r="2.45"/><circle cx="273.4" cy="53.8" r="2.45"/><circle cx="270.1" cy="53.1" r="2.45"/><circle cx="239.1" cy="71.7" r="2.45"/><circle cx="191.2" cy="95.1" r="2.45"/><circle cx="165.8" cy="109.1" r="2.45"/><circle cx="213.7" cy="83.3" r="2.45"/><circle cx="86.4" cy="137.6" r="2.45"/><circle cx="143.0" cy="114.9" r="2.45"/><circle cx="245.0" cy="73.9" r="2.45"/><circle cx="231.1" cy="74.4" r="2.45"/><circle cx="181.3" cy="96.9" r="2.45"/><circle cx="201.5" cy="85.0" r="2.45"/><circle cx="283.0" cy="47.0" r="2.45"/><circle cx="233.8" cy="75.5" r="2.45"/><circle cx="207.9" cy="90.5" r="2.45"/><circle cx="154.5" cy="114.4" r="2.45"/><circle cx="174.1" cy="104.8" r="2.45"/><circle cx="238.9" cy="75.5" r="2.45"/><circle cx="154.8" cy="111.6" r="2.45"/><circle cx="158.6" cy="111.6" r="2.45"/><circle cx="217.5" cy="83.3" r="2.45"/><circle cx="267.1" cy="54.5" r="2.45"/><circle cx="154.6" cy="111.4" r="2.45"/><circle cx="193.8" cy="90.1" r="2.45"/><circle cx="251.7" cy="73.7" r="2.45"/><circle cx="189.1" cy="94.9" r="2.45"/><circle cx="274.9" cy="54.5" r="2.45"/><circle cx="236.0" cy="69.2" r="2.45"/><circle cx="152.7" cy="116.5" r="2.45"/><circle cx="202.7" cy="92.1" r="2.45"/><circle cx="197.3" cy="90.0" r="2.45"/><circle cx="155.4" cy="106.3" r="2.45"/><circle cx="179.2" cy="105.8" r="2.45"/><circle cx="198.7" cy="92.4" r="2.45"/><circle cx="241.0" cy="73.6" r="2.45"/><circle cx="203.5" cy="84.4" r="2.45"/><circle cx="97.1" cy="122.0" r="2.45"/><circle cx="252.3" cy="60.2" r="2.45"/><circle cx="211.1" cy="84.5" r="2.45"/><circle cx="232.7" cy="72.5" r="2.45"/><circle cx="124.4" cy="124.9" r="2.45"/><circle cx="200.8" cy="94.0" r="2.45"/><circle cx="212.7" cy="82.9" r="2.45"/><circle cx="224.3" cy="80.2" r="2.45"/><circle cx="254.8" cy="62.0" r="2.45"/><circle cx="182.7" cy="100.5" r="2.45"/><circle cx="248.4" cy="64.1" r="2.45"/><circle cx="176.0" cy="103.2" r="2.45"/><circle cx="246.9" cy="68.3" r="2.45"/><circle cx="279.5" cy="63.7" r="2.45"/><circle cx="289.3" cy="42.5" r="2.45"/><circle cx="190.5" cy="95.2" r="2.45"/><circle cx="156.6" cy="107.4" r="2.45"/><circle cx="165.9" cy="108.7" r="2.45"/><circle cx="230.7" cy="78.8" r="2.45"/><circle cx="136.7" cy="117.2" r="2.45"/><circle cx="194.7" cy="92.2" r="2.45"/><circle cx="246.3" cy="71.3" r="2.45"/><circle cx="139.2" cy="120.9" r="2.45"/><circle cx="215.0" cy="85.6" r="2.45"/><circle cx="190.8" cy="95.7" r="2.45"/><circle cx="278.5" cy="51.4" r="2.45"/><circle cx="223.9" cy="82.6" r="2.45"/><circle cx="194.5" cy="96.5" r="2.45"/><circle cx="149.3" cy="112.8" r="2.45"/><circle cx="264.9" cy="56.0" r="2.45"/><circle cx="161.1" cy="105.3" r="2.45"/><circle cx="237.3" cy="75.4" r="2.45"/><circle cx="208.6" cy="90.2" r="2.45"/><circle cx="226.7" cy="76.3" r="2.45"/><circle cx="217.5" cy="83.4" r="2.45"/><circle cx="238.9" cy="70.5" r="2.45"/><circle cx="186.0" cy="95.7" r="2.45"/><circle cx="126.0" cy="124.1" r="2.45"/><circle cx="212.6" cy="85.3" r="2.45"/><circle cx="163.5" cy="112.6" r="2.45"/><circle cx="133.3" cy="124.2" r="2.45"/><circle cx="178.1" cy="100.3" r="2.45"/><circle cx="287.1" cy="43.3" r="2.45"/><circle cx="121.1" cy="128.1" r="2.45"/><circle cx="142.1" cy="120.8" r="2.45"/><circle cx="230.9" cy="77.8" r="2.45"/><circle cx="221.2" cy="78.5" r="2.45"/><circle cx="245.9" cy="74.1" r="2.45"/><circle cx="139.0" cy="118.7" r="2.45"/><circle cx="190.7" cy="92.1" r="2.45"/><circle cx="263.0" cy="68.6" r="2.45"/><circle cx="210.4" cy="89.8" r="2.45"/><circle cx="140.8" cy="116.3" r="2.45"/><circle cx="243.4" cy="67.7" r="2.45"/><circle cx="328.4" cy="34.4" r="2.45"/><circle cx="196.8" cy="95.5" r="2.45"/><circle cx="197.9" cy="89.9" r="2.45"/><circle cx="192.1" cy="92.7" r="2.45"/><circle cx="251.3" cy="69.8" r="2.45"/><circle cx="240.2" cy="72.8" r="2.45"/><circle cx="164.4" cy="109.7" r="2.45"/><circle cx="198.7" cy="93.0" r="2.45"/><circle cx="147.8" cy="114.5" r="2.45"/><circle cx="177.3" cy="108.8" r="2.45"/><circle cx="178.5" cy="107.7" r="2.45"/><circle cx="197.9" cy="96.7" r="2.45"/><circle cx="189.8" cy="100.5" r="2.45"/><circle cx="149.7" cy="114.8" r="2.45"/><circle cx="173.8" cy="101.7" r="2.45"/><circle cx="143.0" cy="118.4" r="2.45"/><circle cx="195.1" cy="96.1" r="2.45"/><circle cx="54.0" cy="146.3" r="2.45"/><circle cx="181.5" cy="102.3" r="2.45"/><circle cx="202.1" cy="88.2" r="2.45"/><circle cx="192.8" cy="95.5" r="2.45"/><circle cx="267.7" cy="57.1" r="2.45"/><circle cx="226.1" cy="82.7" r="2.45"/><circle cx="202.7" cy="90.3" r="2.45"/><circle cx="226.6" cy="79.6" r="2.45"/><circle cx="283.0" cy="46.6" r="2.45"/><circle cx="245.2" cy="69.6" r="2.45"/><circle cx="167.2" cy="103.7" r="2.45"/><circle cx="143.1" cy="116.0" r="2.45"/><circle cx="177.1" cy="102.2" r="2.45"/><circle cx="238.3" cy="78.0" r="2.45"/><circle cx="199.3" cy="92.5" r="2.45"/><circle cx="196.3" cy="98.8" r="2.45"/><circle cx="231.7" cy="73.2" r="2.45"/><circle cx="197.8" cy="91.6" r="2.45"/><circle cx="223.3" cy="78.7" r="2.45"/><circle cx="178.0" cy="103.0" r="2.45"/><circle cx="207.9" cy="83.4" r="2.45"/><circle cx="177.4" cy="108.5" r="2.45"/><circle cx="229.1" cy="75.2" r="2.45"/><circle cx="161.2" cy="110.6" r="2.45"/><circle cx="178.8" cy="105.1" r="2.45"/><circle cx="145.6" cy="119.5" r="2.45"/><circle cx="160.2" cy="110.1" r="2.45"/><circle cx="150.5" cy="112.8" r="2.45"/><circle cx="155.2" cy="109.3" r="2.45"/><circle cx="193.9" cy="98.6" r="2.45"/><circle cx="175.0" cy="105.9" r="2.45"/><circle cx="150.0" cy="111.7" r="2.45"/><circle cx="240.6" cy="66.5" r="2.45"/><circle cx="275.2" cy="55.0" r="2.45"/><circle cx="198.0" cy="94.8" r="2.45"/><circle cx="258.7" cy="61.5" r="2.45"/><circle cx="196.7" cy="94.2" r="2.45"/><circle cx="174.1" cy="102.3" r="2.45"/><circle cx="194.6" cy="98.8" r="2.45"/><circle cx="249.4" cy="69.2" r="2.45"/><circle cx="136.8" cy="112.6" r="2.45"/><circle cx="168.6" cy="103.5" r="2.45"/><circle cx="218.1" cy="77.4" r="2.45"/><circle cx="154.8" cy="111.2" r="2.45"/><circle cx="184.2" cy="101.4" r="2.45"/><circle cx="140.0" cy="115.5" r="2.45"/><circle cx="258.9" cy="58.5" r="2.45"/><circle cx="167.5" cy="107.4" r="2.45"/><circle cx="212.1" cy="86.3" r="2.45"/><circle cx="257.6" cy="61.5" r="2.45"/><circle cx="205.2" cy="89.2" r="2.45"/><circle cx="137.1" cy="123.1" r="2.45"/><circle cx="144.3" cy="114.9" r="2.45"/><circle cx="220.0" cy="78.9" r="2.45"/><circle cx="128.2" cy="126.3" r="2.45"/><circle cx="266.7" cy="53.8" r="2.45"/><circle cx="242.4" cy="74.4" r="2.45"/><circle cx="188.1" cy="101.2" r="2.45"/><circle cx="289.0" cy="47.5" r="2.45"/><circle cx="138.6" cy="119.1" r="2.45"/><circle cx="149.8" cy="114.6" r="2.45"/><circle cx="204.2" cy="94.8" r="2.45"/><circle cx="268.5" cy="56.6" r="2.45"/><circle cx="172.9" cy="103.6" r="2.45"/><circle cx="268.8" cy="58.2" r="2.45"/><circle cx="210.6" cy="98.3" r="2.45"/><circle cx="122.8" cy="126.8" r="2.45"/><circle cx="158.7" cy="114.5" r="2.45"/><circle cx="169.2" cy="104.3" r="2.45"/><circle cx="227.7" cy="79.6" r="2.45"/><circle cx="166.2" cy="106.4" r="2.45"/><circle cx="196.2" cy="84.9" r="2.45"/><circle cx="170.5" cy="106.0" r="2.45"/><circle cx="222.0" cy="81.3" r="2.45"/><circle cx="129.3" cy="120.6" r="2.45"/><circle cx="176.0" cy="99.9" r="2.45"/><circle cx="273.0" cy="51.5" r="2.45"/><circle cx="155.6" cy="111.9" r="2.45"/><circle cx="195.4" cy="97.9" r="2.45"/><circle cx="253.0" cy="70.4" r="2.45"/><circle cx="236.4" cy="76.7" r="2.45"/><circle cx="191.4" cy="98.3" r="2.45"/><circle cx="270.7" cy="58.2" r="2.45"/><circle cx="281.2" cy="55.1" r="2.45"/><circle cx="255.6" cy="65.0" r="2.45"/><circle cx="250.6" cy="68.1" r="2.45"/><circle cx="272.0" cy="56.2" r="2.45"/><circle cx="193.0" cy="89.8" r="2.45"/><circle cx="176.6" cy="100.6" r="2.45"/><circle cx="189.2" cy="105.1" r="2.45"/><circle cx="235.3" cy="70.0" r="2.45"/><circle cx="245.1" cy="70.4" r="2.45"/><circle cx="236.2" cy="79.2" r="2.45"/><circle cx="213.6" cy="86.9" r="2.45"/><circle cx="129.7" cy="116.7" r="2.45"/><circle cx="173.8" cy="104.9" r="2.45"/><circle cx="287.6" cy="49.8" r="2.45"/><circle cx="157.4" cy="111.8" r="2.45"/><circle cx="173.1" cy="102.7" r="2.45"/><circle cx="170.1" cy="105.7" r="2.45"/><circle cx="187.7" cy="98.7" r="2.45"/><circle cx="154.9" cy="114.9" r="2.45"/><circle cx="185.9" cy="101.0" r="2.45"/><circle cx="170.1" cy="110.1" r="2.45"/><circle cx="213.8" cy="84.9" r="2.45"/><circle cx="212.3" cy="84.1" r="2.45"/><circle cx="211.6" cy="84.6" r="2.45"/><circle cx="198.5" cy="92.8" r="2.45"/><circle cx="221.5" cy="76.7" r="2.45"/><circle cx="151.3" cy="112.8" r="2.45"/><circle cx="211.7" cy="82.7" r="2.45"/><circle cx="154.5" cy="115.4" r="2.45"/><circle cx="185.5" cy="100.2" r="2.45"/><circle cx="200.3" cy="93.0" r="2.45"/><circle cx="237.0" cy="70.8" r="2.45"/><circle cx="183.5" cy="100.4" r="2.45"/><circle cx="139.7" cy="119.1" r="2.45"/><circle cx="160.2" cy="110.8" r="2.45"/><circle cx="220.3" cy="76.5" r="2.45"/><circle cx="192.4" cy="97.2" r="2.45"/><circle cx="226.1" cy="81.3" r="2.45"/><circle cx="234.6" cy="74.3" r="2.45"/><circle cx="189.7" cy="97.1" r="2.45"/><circle cx="157.7" cy="107.4" r="2.45"/><circle cx="177.6" cy="96.6" r="2.45"/><circle cx="141.3" cy="117.1" r="2.45"/><circle cx="173.6" cy="105.4" r="2.45"/><circle cx="202.4" cy="90.3" r="2.45"/><circle cx="174.3" cy="96.7" r="2.45"/><circle cx="141.7" cy="116.6" r="2.45"/><circle cx="248.1" cy="65.0" r="2.45"/><circle cx="169.1" cy="113.1" r="2.45"/><circle cx="143.2" cy="119.9" r="2.45"/><circle cx="113.0" cy="128.4" r="2.45"/><circle cx="248.6" cy="66.2" r="2.45"/><circle cx="189.1" cy="95.1" r="2.45"/><circle cx="208.5" cy="87.0" r="2.45"/><circle cx="271.7" cy="62.2" r="2.45"/><circle cx="213.6" cy="84.4" r="2.45"/><circle cx="206.4" cy="91.0" r="2.45"/><circle cx="192.1" cy="102.3" r="2.45"/><circle cx="151.6" cy="116.0" r="2.45"/><circle cx="197.7" cy="94.1" r="2.45"/><circle cx="174.4" cy="103.6" r="2.45"/><circle cx="188.7" cy="95.1" r="2.45"/><circle cx="117.3" cy="126.4" r="2.45"/><circle cx="185.1" cy="99.2" r="2.45"/><circle cx="211.9" cy="87.4" r="2.45"/><circle cx="229.5" cy="77.7" r="2.45"/><circle cx="189.0" cy="100.6" r="2.45"/><circle cx="247.4" cy="65.2" r="2.45"/><circle cx="235.8" cy="74.4" r="2.45"/><circle cx="219.6" cy="78.4" r="2.45"/><circle cx="197.6" cy="91.1" r="2.45"/><circle cx="230.9" cy="77.8" r="2.45"/><circle cx="291.1" cy="45.3" r="2.45"/><circle cx="237.3" cy="73.8" r="2.45"/><circle cx="142.1" cy="117.5" r="2.45"/><circle cx="296.4" cy="44.5" r="2.45"/><circle cx="191.6" cy="103.7" r="2.45"/><circle cx="143.0" cy="119.5" r="2.45"/><circle cx="142.1" cy="112.7" r="2.45"/><circle cx="292.7" cy="44.3" r="2.45"/><circle cx="202.7" cy="85.7" r="2.45"/><circle cx="241.8" cy="73.1" r="2.45"/><circle cx="190.4" cy="101.1" r="2.45"/><circle cx="208.8" cy="88.1" r="2.45"/><circle cx="156.7" cy="112.4" r="2.45"/><circle cx="227.8" cy="80.4" r="2.45"/><circle cx="228.1" cy="74.0" r="2.45"/><circle cx="151.3" cy="109.9" r="2.45"/><circle cx="211.0" cy="88.2" r="2.45"/><circle cx="273.5" cy="46.3" r="2.45"/><circle cx="238.8" cy="70.2" r="2.45"/><circle cx="147.8" cy="118.1" r="2.45"/><circle cx="210.3" cy="82.9" r="2.45"/><circle cx="261.4" cy="59.8" r="2.45"/><circle cx="203.9" cy="89.5" r="2.45"/><circle cx="174.5" cy="108.6" r="2.45"/><circle cx="169.2" cy="103.8" r="2.45"/><circle cx="199.8" cy="94.0" r="2.45"/><circle cx="187.4" cy="92.4" r="2.45"/><circle cx="105.6" cy="132.5" r="2.45"/><circle cx="261.5" cy="67.4" r="2.45"/><circle cx="211.9" cy="84.0" r="2.45"/><circle cx="146.6" cy="121.3" r="2.45"/><circle cx="182.8" cy="95.7" r="2.45"/><circle cx="255.0" cy="66.5" r="2.45"/><circle cx="235.7" cy="72.1" r="2.45"/><circle cx="175.0" cy="106.6" r="2.45"/><circle cx="154.9" cy="114.8" r="2.45"/><circle cx="144.3" cy="116.2" r="2.45"/><circle cx="218.3" cy="84.6" r="2.45"/><circle cx="161.1" cy="107.6" r="2.45"/><circle cx="242.8" cy="73.0" r="2.45"/><circle cx="227.1" cy="73.6" r="2.45"/><circle cx="157.8" cy="108.5" r="2.45"/><circle cx="158.1" cy="115.1" r="2.45"/><circle cx="209.0" cy="80.5" r="2.45"/><circle cx="144.5" cy="115.6" r="2.45"/><circle cx="167.2" cy="109.3" r="2.45"/><circle cx="196.1" cy="91.7" r="2.45"/><circle cx="156.8" cy="111.0" r="2.45"/><circle cx="222.6" cy="77.4" r="2.45"/><circle cx="164.4" cy="105.7" r="2.45"/><circle cx="209.5" cy="79.4" r="2.45"/><circle cx="286.0" cy="49.4" r="2.45"/><circle cx="176.1" cy="102.4" r="2.45"/><circle cx="241.2" cy="73.5" r="2.45"/><circle cx="190.7" cy="100.9" r="2.45"/><circle cx="223.6" cy="82.3" r="2.45"/><circle cx="195.6" cy="97.0" r="2.45"/><circle cx="122.5" cy="124.0" r="2.45"/><circle cx="116.8" cy="127.2" r="2.45"/><circle cx="209.1" cy="85.7" r="2.45"/><circle cx="272.2" cy="55.0" r="2.45"/><circle cx="149.8" cy="113.9" r="2.45"/><circle cx="247.0" cy="67.3" r="2.45"/><circle cx="223.4" cy="82.4" r="2.45"/><circle cx="229.1" cy="77.7" r="2.45"/><circle cx="149.5" cy="114.8" r="2.45"/><circle cx="174.5" cy="105.4" r="2.45"/><circle cx="226.2" cy="81.8" r="2.45"/><circle cx="107.4" cy="129.8" r="2.45"/><circle cx="282.6" cy="47.6" r="2.45"/><circle cx="203.9" cy="83.6" r="2.45"/><circle cx="173.8" cy="103.6" r="2.45"/><circle cx="248.5" cy="67.1" r="2.45"/><circle cx="176.1" cy="106.5" r="2.45"/><circle cx="233.0" cy="75.6" r="2.45"/><circle cx="168.7" cy="102.7" r="2.45"/><circle cx="183.7" cy="93.6" r="2.45"/><circle cx="234.4" cy="73.3" r="2.45"/><circle cx="145.9" cy="111.6" r="2.45"/><circle cx="176.1" cy="98.2" r="2.45"/><circle cx="247.1" cy="62.7" r="2.45"/><circle cx="233.6" cy="72.8" r="2.45"/><circle cx="215.7" cy="85.4" r="2.45"/><circle cx="184.0" cy="98.8" r="2.45"/><circle cx="216.9" cy="75.1" r="2.45"/><circle cx="173.4" cy="105.8" r="2.45"/><circle cx="230.8" cy="76.4" r="2.45"/><circle cx="276.2" cy="53.9" r="2.45"/><circle cx="171.6" cy="106.6" r="2.45"/><circle cx="160.8" cy="113.5" r="2.45"/><circle cx="233.5" cy="71.6" r="2.45"/><circle cx="245.4" cy="72.9" r="2.45"/><circle cx="180.4" cy="100.5" r="2.45"/><circle cx="157.2" cy="109.7" r="2.45"/><circle cx="294.5" cy="44.1" r="2.45"/><circle cx="152.3" cy="116.0" r="2.45"/><circle cx="215.0" cy="85.8" r="2.45"/><circle cx="272.4" cy="56.7" r="2.45"/><circle cx="138.2" cy="118.8" r="2.45"/><circle cx="169.5" cy="107.7" r="2.45"/><circle cx="230.3" cy="73.2" r="2.45"/><circle cx="245.9" cy="70.2" r="2.45"/><circle cx="195.7" cy="91.9" r="2.45"/><circle cx="261.7" cy="62.7" r="2.45"/><circle cx="224.0" cy="85.3" r="2.45"/><circle cx="244.5" cy="71.0" r="2.45"/><circle cx="248.2" cy="63.1" r="2.45"/><circle cx="200.3" cy="88.2" r="2.45"/><circle cx="314.6" cy="42.1" r="2.45"/><circle cx="131.6" cy="118.8" r="2.45"/><circle cx="160.6" cy="110.9" r="2.45"/><circle cx="164.0" cy="110.2" r="2.45"/><circle cx="231.7" cy="75.7" r="2.45"/><circle cx="206.2" cy="89.4" r="2.45"/><circle cx="215.4" cy="82.0" r="2.45"/><circle cx="227.3" cy="75.4" r="2.45"/><circle cx="265.1" cy="56.4" r="2.45"/><circle cx="162.0" cy="113.4" r="2.45"/><circle cx="263.3" cy="56.1" r="2.45"/><circle cx="245.7" cy="74.7" r="2.45"/><circle cx="246.8" cy="69.7" r="2.45"/><circle cx="187.8" cy="99.3" r="2.45"/><circle cx="245.3" cy="69.8" r="2.45"/><circle cx="260.6" cy="61.8" r="2.45"/><circle cx="201.6" cy="84.1" r="2.45"/><circle cx="241.4" cy="74.0" r="2.45"/><circle cx="201.1" cy="88.7" r="2.45"/><circle cx="208.0" cy="91.2" r="2.45"/><circle cx="262.1" cy="60.4" r="2.45"/><circle cx="177.0" cy="101.0" r="2.45"/><circle cx="170.3" cy="103.0" r="2.45"/><circle cx="139.8" cy="121.4" r="2.45"/><circle cx="266.7" cy="62.7" r="2.45"/><circle cx="294.4" cy="41.2" r="2.45"/><circle cx="186.7" cy="101.1" r="2.45"/><circle cx="210.0" cy="87.4" r="2.45"/><circle cx="167.2" cy="107.5" r="2.45"/><circle cx="194.1" cy="90.1" r="2.45"/><circle cx="195.7" cy="91.4" r="2.45"/><circle cx="199.3" cy="88.1" r="2.45"/><circle cx="240.6" cy="68.3" r="2.45"/><circle cx="245.2" cy="67.2" r="2.45"/><circle cx="175.2" cy="104.3" r="2.45"/><circle cx="188.4" cy="93.2" r="2.45"/><circle cx="154.8" cy="107.2" r="2.45"/><circle cx="129.9" cy="121.5" r="2.45"/><circle cx="178.5" cy="112.7" r="2.45"/><circle cx="214.1" cy="86.3" r="2.45"/><circle cx="245.4" cy="67.3" r="2.45"/><circle cx="259.7" cy="62.8" r="2.45"/><circle cx="262.4" cy="55.9" r="2.45"/><circle cx="162.0" cy="101.8" r="2.45"/><circle cx="151.8" cy="113.1" r="2.45"/><circle cx="195.4" cy="92.6" r="2.45"/><circle cx="99.8" cy="140.5" r="2.45"/><circle cx="212.5" cy="82.3" r="2.45"/><circle cx="147.0" cy="110.8" r="2.45"/><circle cx="178.8" cy="108.5" r="2.45"/><circle cx="125.5" cy="124.6" r="2.45"/><circle cx="210.2" cy="81.7" r="2.45"/><circle cx="147.2" cy="115.4" r="2.45"/><circle cx="198.6" cy="97.6" r="2.45"/><circle cx="136.7" cy="118.4" r="2.45"/><circle cx="138.4" cy="122.2" r="2.45"/><circle cx="157.4" cy="108.5" r="2.45"/><circle cx="184.1" cy="96.5" r="2.45"/><circle cx="148.3" cy="116.7" r="2.45"/><circle cx="82.9" cy="127.5" r="2.45"/><circle cx="132.7" cy="123.7" r="2.45"/><circle cx="174.3" cy="102.5" r="2.45"/><circle cx="211.9" cy="87.6" r="2.45"/><circle cx="199.8" cy="92.4" r="2.45"/><circle cx="191.4" cy="97.6" r="2.45"/><circle cx="208.9" cy="88.5" r="2.45"/><circle cx="174.8" cy="106.6" r="2.45"/><circle cx="211.5" cy="80.5" r="2.45"/><circle cx="177.2" cy="99.4" r="2.45"/><circle cx="270.3" cy="57.5" r="2.45"/><circle cx="251.2" cy="69.7" r="2.45"/><circle cx="249.9" cy="65.0" r="2.45"/><circle cx="125.5" cy="121.0" r="2.45"/><circle cx="224.8" cy="77.3" r="2.45"/><circle cx="221.4" cy="76.8" r="2.45"/><circle cx="310.6" cy="40.4" r="2.45"/><circle cx="123.5" cy="122.8" r="2.45"/><circle cx="205.4" cy="88.3" r="2.45"/><circle cx="171.1" cy="106.0" r="2.45"/><circle cx="183.2" cy="102.2" r="2.45"/><circle cx="214.9" cy="84.2" r="2.45"/><circle cx="171.9" cy="110.1" r="2.45"/><circle cx="155.8" cy="107.7" r="2.45"/><circle cx="229.9" cy="80.3" r="2.45"/><circle cx="267.2" cy="56.8" r="2.45"/><circle cx="191.4" cy="94.6" r="2.45"/><circle cx="175.5" cy="103.7" r="2.45"/><circle cx="245.1" cy="69.8" r="2.45"/><circle cx="193.4" cy="97.2" r="2.45"/><circle cx="284.6" cy="48.6" r="2.45"/><circle cx="278.4" cy="49.6" r="2.45"/><circle cx="203.6" cy="87.4" r="2.45"/><circle cx="171.9" cy="108.9" r="2.45"/><circle cx="181.2" cy="101.1" r="2.45"/><circle cx="134.8" cy="124.5" r="2.45"/><circle cx="277.3" cy="51.9" r="2.45"/><circle cx="252.0" cy="65.7" r="2.45"/><circle cx="185.0" cy="103.2" r="2.45"/><circle cx="174.8" cy="99.5" r="2.45"/><circle cx="171.4" cy="112.7" r="2.45"/><circle cx="227.7" cy="74.0" r="2.45"/><circle cx="182.0" cy="105.6" r="2.45"/><circle cx="214.6" cy="81.8" r="2.45"/><circle cx="248.7" cy="72.9" r="2.45"/><circle cx="191.3" cy="97.5" r="2.45"/><circle cx="149.7" cy="117.7" r="2.45"/><circle cx="176.3" cy="101.6" r="2.45"/><circle cx="204.2" cy="92.0" r="2.45"/><circle cx="155.7" cy="112.4" r="2.45"/><circle cx="244.7" cy="69.4" r="2.45"/><circle cx="149.8" cy="116.9" r="2.45"/><circle cx="224.2" cy="81.5" r="2.45"/><circle cx="244.6" cy="69.4" r="2.45"/><circle cx="243.3" cy="76.1" r="2.45"/><circle cx="278.2" cy="50.6" r="2.45"/><circle cx="272.1" cy="58.5" r="2.45"/><circle cx="174.6" cy="92.8" r="2.45"/><circle cx="166.6" cy="104.2" r="2.45"/><circle cx="273.4" cy="57.1" r="2.45"/><circle cx="232.9" cy="80.5" r="2.45"/><circle cx="199.0" cy="94.4" r="2.45"/><circle cx="208.9" cy="85.3" r="2.45"/><circle cx="271.5" cy="53.5" r="2.45"/><circle cx="219.8" cy="78.1" r="2.45"/><circle cx="170.4" cy="102.4" r="2.45"/><circle cx="140.7" cy="120.9" r="2.45"/><circle cx="205.3" cy="88.4" r="2.45"/><circle cx="205.9" cy="89.2" r="2.45"/><circle cx="190.2" cy="94.7" r="2.45"/><circle cx="261.5" cy="61.1" r="2.45"/><circle cx="223.0" cy="86.0" r="2.45"/><circle cx="269.1" cy="57.5" r="2.45"/><circle cx="200.5" cy="79.2" r="2.45"/><circle cx="145.6" cy="116.0" r="2.45"/><circle cx="301.8" cy="45.2" r="2.45"/><circle cx="156.2" cy="105.7" r="2.45"/><circle cx="266.2" cy="58.2" r="2.45"/><circle cx="194.5" cy="95.3" r="2.45"/><circle cx="185.4" cy="99.0" r="2.45"/><circle cx="259.7" cy="62.3" r="2.45"/><circle cx="231.7" cy="73.6" r="2.45"/><circle cx="219.2" cy="84.9" r="2.45"/><circle cx="130.3" cy="126.1" r="2.45"/><circle cx="249.6" cy="65.0" r="2.45"/><circle cx="241.5" cy="70.2" r="2.45"/><circle cx="243.8" cy="71.7" r="2.45"/><circle cx="190.0" cy="97.1" r="2.45"/><circle cx="182.9" cy="97.9" r="2.45"/><circle cx="185.2" cy="97.9" r="2.45"/><circle cx="152.8" cy="118.1" r="2.45"/><circle cx="194.8" cy="90.0" r="2.45"/><circle cx="168.6" cy="99.2" r="2.45"/><circle cx="219.3" cy="81.8" r="2.45"/><circle cx="143.0" cy="119.7" r="2.45"/><circle cx="175.3" cy="100.6" r="2.45"/><circle cx="157.5" cy="107.3" r="2.45"/><circle cx="239.0" cy="77.9" r="2.45"/><circle cx="225.9" cy="83.6" r="2.45"/><circle cx="151.5" cy="117.2" r="2.45"/><circle cx="231.8" cy="79.2" r="2.45"/><circle cx="189.6" cy="100.2" r="2.45"/><circle cx="251.8" cy="67.3" r="2.45"/><circle cx="198.3" cy="93.9" r="2.45"/><circle cx="172.3" cy="109.8" r="2.45"/><circle cx="214.8" cy="83.2" r="2.45"/><circle cx="236.1" cy="70.2" r="2.45"/><circle cx="234.1" cy="81.4" r="2.45"/><circle cx="134.5" cy="121.3" r="2.45"/><circle cx="221.5" cy="82.6" r="2.45"/><circle cx="134.4" cy="122.6" r="2.45"/><circle cx="233.6" cy="75.4" r="2.45"/><circle cx="158.7" cy="113.8" r="2.45"/><circle cx="223.9" cy="77.4" r="2.45"/><circle cx="218.7" cy="83.7" r="2.45"/><circle cx="224.2" cy="83.3" r="2.45"/><circle cx="154.2" cy="111.7" r="2.45"/><circle cx="208.6" cy="87.4" r="2.45"/><circle cx="238.1" cy="69.5" r="2.45"/><circle cx="142.5" cy="117.3" r="2.45"/><circle cx="127.1" cy="124.2" r="2.45"/><circle cx="213.2" cy="79.2" r="2.45"/><circle cx="217.5" cy="82.5" r="2.45"/><circle cx="166.0" cy="106.9" r="2.45"/><circle cx="133.3" cy="117.9" r="2.45"/><circle cx="246.7" cy="70.8" r="2.45"/><circle cx="270.3" cy="56.8" r="2.45"/><circle cx="204.6" cy="92.2" r="2.45"/><circle cx="212.7" cy="79.3" r="2.45"/><circle cx="286.4" cy="48.9" r="2.45"/><circle cx="268.6" cy="59.5" r="2.45"/><circle cx="267.0" cy="60.5" r="2.45"/><circle cx="208.1" cy="82.1" r="2.45"/><circle cx="197.3" cy="87.6" r="2.45"/><circle cx="171.8" cy="107.6" r="2.45"/><circle cx="197.6" cy="95.6" r="2.45"/><circle cx="201.7" cy="78.5" r="2.45"/><circle cx="215.8" cy="88.6" r="2.45"/><circle cx="141.2" cy="118.1" r="2.45"/><circle cx="193.3" cy="97.6" r="2.45"/><circle cx="252.4" cy="59.6" r="2.45"/><circle cx="195.8" cy="96.4" r="2.45"/><circle cx="277.3" cy="54.9" r="2.45"/><circle cx="249.1" cy="67.5" r="2.45"/><circle cx="210.2" cy="85.9" r="2.45"/><circle cx="167.7" cy="108.1" r="2.45"/><circle cx="213.7" cy="87.5" r="2.45"/><circle cx="226.5" cy="84.8" r="2.45"/><circle cx="151.1" cy="119.0" r="2.45"/><circle cx="159.5" cy="105.4" r="2.45"/><circle cx="279.1" cy="54.3" r="2.45"/><circle cx="148.5" cy="111.8" r="2.45"/><circle cx="145.3" cy="110.6" r="2.45"/><circle cx="214.9" cy="80.0" r="2.45"/><circle cx="118.0" cy="125.9" r="2.45"/><circle cx="212.6" cy="81.3" r="2.45"/><circle cx="197.0" cy="89.3" r="2.45"/><circle cx="192.3" cy="103.9" r="2.45"/><circle cx="255.2" cy="62.9" r="2.45"/><circle cx="168.5" cy="109.5" r="2.45"/><circle cx="240.7" cy="78.3" r="2.45"/><circle cx="258.8" cy="58.0" r="2.45"/><circle cx="147.2" cy="117.6" r="2.45"/><circle cx="157.8" cy="110.4" r="2.45"/><circle cx="220.2" cy="85.9" r="2.45"/><circle cx="135.2" cy="118.0" r="2.45"/><circle cx="219.4" cy="78.5" r="2.45"/><circle cx="211.9" cy="86.8" r="2.45"/><circle cx="193.0" cy="98.1" r="2.45"/><circle cx="200.1" cy="94.0" r="2.45"/><circle cx="135.5" cy="119.8" r="2.45"/><circle cx="221.7" cy="83.1" r="2.45"/><circle cx="205.4" cy="92.3" r="2.45"/><circle cx="198.6" cy="90.6" r="2.45"/><circle cx="159.1" cy="109.6" r="2.45"/><circle cx="267.6" cy="53.3" r="2.45"/><circle cx="236.8" cy="71.5" r="2.45"/><circle cx="194.5" cy="98.3" r="2.45"/><circle cx="135.9" cy="119.9" r="2.45"/><circle cx="170.9" cy="108.3" r="2.45"/><circle cx="178.3" cy="106.8" r="2.45"/><circle cx="218.4" cy="82.1" r="2.45"/><circle cx="229.0" cy="78.5" r="2.45"/><circle cx="173.9" cy="102.4" r="2.45"/><circle cx="116.3" cy="127.7" r="2.45"/><circle cx="133.6" cy="119.4" r="2.45"/><circle cx="163.3" cy="109.3" r="2.45"/><circle cx="239.6" cy="72.0" r="2.45"/><circle cx="213.7" cy="81.4" r="2.45"/><circle cx="160.9" cy="105.0" r="2.45"/><circle cx="208.5" cy="88.7" r="2.45"/><circle cx="190.3" cy="102.9" r="2.45"/><circle cx="140.7" cy="122.1" r="2.45"/><circle cx="138.4" cy="116.2" r="2.45"/><circle cx="175.8" cy="98.4" r="2.45"/><circle cx="135.9" cy="118.1" r="2.45"/><circle cx="139.6" cy="115.0" r="2.45"/><circle cx="155.9" cy="112.8" r="2.45"/><circle cx="215.8" cy="85.5" r="2.45"/><circle cx="264.3" cy="56.1" r="2.45"/><circle cx="199.7" cy="87.3" r="2.45"/><circle cx="234.0" cy="73.5" r="2.45"/><circle cx="221.7" cy="78.7" r="2.45"/><circle cx="173.8" cy="104.6" r="2.45"/><circle cx="205.1" cy="94.3" r="2.45"/><circle cx="146.5" cy="112.8" r="2.45"/><circle cx="158.4" cy="110.0" r="2.45"/><circle cx="215.2" cy="86.3" r="2.45"/><circle cx="172.4" cy="106.3" r="2.45"/><circle cx="166.8" cy="104.8" r="2.45"/><circle cx="201.4" cy="92.9" r="2.45"/><circle cx="216.3" cy="87.0" r="2.45"/><circle cx="113.6" cy="127.3" r="2.45"/><circle cx="133.8" cy="118.8" r="2.45"/><circle cx="172.2" cy="99.9" r="2.45"/><circle cx="168.3" cy="104.1" r="2.45"/><circle cx="280.5" cy="49.0" r="2.45"/><circle cx="240.1" cy="72.9" r="2.45"/><circle cx="243.9" cy="75.8" r="2.45"/><circle cx="149.9" cy="114.6" r="2.45"/><circle cx="153.7" cy="114.2" r="2.45"/><circle cx="199.4" cy="82.0" r="2.45"/><circle cx="185.4" cy="100.4" r="2.45"/><circle cx="221.1" cy="79.8" r="2.45"/><circle cx="167.5" cy="104.6" r="2.45"/><circle cx="177.0" cy="106.2" r="2.45"/><circle cx="163.4" cy="111.8" r="2.45"/><circle cx="230.4" cy="69.3" r="2.45"/><circle cx="203.4" cy="85.9" r="2.45"/><circle cx="214.2" cy="89.8" r="2.45"/><circle cx="244.0" cy="70.0" r="2.45"/><circle cx="139.6" cy="115.2" r="2.45"/><circle cx="172.9" cy="106.9" r="2.45"/><circle cx="140.8" cy="117.9" r="2.45"/><circle cx="234.1" cy="74.7" r="2.45"/><circle cx="159.7" cy="111.1" r="2.45"/><circle cx="262.1" cy="61.5" r="2.45"/><circle cx="217.9" cy="91.3" r="2.45"/><circle cx="142.0" cy="120.4" r="2.45"/><circle cx="225.7" cy="80.0" r="2.45"/><circle cx="136.3" cy="119.4" r="2.45"/><circle cx="175.9" cy="98.2" r="2.45"/><circle cx="208.6" cy="79.3" r="2.45"/><circle cx="178.9" cy="98.0" r="2.45"/><circle cx="231.9" cy="75.5" r="2.45"/><circle cx="184.9" cy="102.5" r="2.45"/><circle cx="229.7" cy="77.7" r="2.45"/><circle cx="117.5" cy="124.7" r="2.45"/><circle cx="225.4" cy="79.5" r="2.45"/><circle cx="143.0" cy="116.5" r="2.45"/><circle cx="260.8" cy="58.0" r="2.45"/><circle cx="255.6" cy="66.3" r="2.45"/><circle cx="231.3" cy="78.5" r="2.45"/><circle cx="237.5" cy="69.1" r="2.45"/><circle cx="274.7" cy="52.1" r="2.45"/><circle cx="168.3" cy="103.8" r="2.45"/><circle cx="217.4" cy="81.8" r="2.45"/><circle cx="159.2" cy="113.1" r="2.45"/><circle cx="274.2" cy="50.8" r="2.45"/><circle cx="169.0" cy="107.3" r="2.45"/><circle cx="225.5" cy="77.2" r="2.45"/><circle cx="170.4" cy="103.9" r="2.45"/><circle cx="246.0" cy="67.9" r="2.45"/><circle cx="219.4" cy="85.5" r="2.45"/><circle cx="144.8" cy="115.0" r="2.45"/><circle cx="219.4" cy="85.9" r="2.45"/><circle cx="177.2" cy="100.9" r="2.45"/><circle cx="231.9" cy="77.2" r="2.45"/><circle cx="159.0" cy="106.2" r="2.45"/><circle cx="178.8" cy="103.8" r="2.45"/><circle cx="220.5" cy="81.6" r="2.45"/><circle cx="215.0" cy="84.4" r="2.45"/><circle cx="175.9" cy="109.0" r="2.45"/><circle cx="185.6" cy="99.5" r="2.45"/><circle cx="142.1" cy="117.6" r="2.45"/><circle cx="221.9" cy="83.1" r="2.45"/><circle cx="166.5" cy="107.8" r="2.45"/><circle cx="234.4" cy="73.4" r="2.45"/><circle cx="168.8" cy="105.2" r="2.45"/><circle cx="251.8" cy="64.6" r="2.45"/><circle cx="124.2" cy="122.1" r="2.45"/><circle cx="208.0" cy="83.8" r="2.45"/><circle cx="216.0" cy="84.4" r="2.45"/><circle cx="152.5" cy="112.3" r="2.45"/><circle cx="121.4" cy="125.2" r="2.45"/><circle cx="179.1" cy="103.4" r="2.45"/><circle cx="175.0" cy="105.2" r="2.45"/><circle cx="126.8" cy="125.4" r="2.45"/><circle cx="178.2" cy="101.9" r="2.45"/><circle cx="281.3" cy="47.8" r="2.45"/><circle cx="212.4" cy="86.7" r="2.45"/><circle cx="181.6" cy="102.3" r="2.45"/><circle cx="266.4" cy="60.0" r="2.45"/><circle cx="251.2" cy="69.9" r="2.45"/><circle cx="188.5" cy="103.8" r="2.45"/><circle cx="149.7" cy="113.9" r="2.45"/><circle cx="273.8" cy="60.4" r="2.45"/><circle cx="176.9" cy="94.2" r="2.45"/><circle cx="191.6" cy="93.3" r="2.45"/><circle cx="157.4" cy="111.0" r="2.45"/><circle cx="143.2" cy="118.6" r="2.45"/><circle cx="132.8" cy="119.1" r="2.45"/><circle cx="222.0" cy="81.6" r="2.45"/><circle cx="212.4" cy="79.0" r="2.45"/><circle cx="197.8" cy="93.1" r="2.45"/><circle cx="249.9" cy="66.0" r="2.45"/><circle cx="183.0" cy="102.6" r="2.45"/><circle cx="136.9" cy="114.8" r="2.45"/><circle cx="243.8" cy="69.1" r="2.45"/><circle cx="169.3" cy="104.7" r="2.45"/><circle cx="168.7" cy="101.6" r="2.45"/><circle cx="253.8" cy="67.2" r="2.45"/><circle cx="219.0" cy="93.5" r="2.45"/><circle cx="199.3" cy="76.9" r="2.45"/><circle cx="241.8" cy="77.2" r="2.45"/><circle cx="217.3" cy="85.1" r="2.45"/><circle cx="222.7" cy="81.4" r="2.45"/><circle cx="236.8" cy="76.0" r="2.45"/><circle cx="242.5" cy="68.7" r="2.45"/><circle cx="255.2" cy="61.4" r="2.45"/><circle cx="148.4" cy="116.7" r="2.45"/><circle cx="192.3" cy="91.6" r="2.45"/><circle cx="140.4" cy="119.5" r="2.45"/><circle cx="174.2" cy="106.9" r="2.45"/><circle cx="184.2" cy="97.2" r="2.45"/><circle cx="195.0" cy="91.3" r="2.45"/><circle cx="269.3" cy="54.8" r="2.45"/><circle cx="194.9" cy="97.2" r="2.45"/><circle cx="157.1" cy="107.5" r="2.45"/><circle cx="224.1" cy="78.2" r="2.45"/><circle cx="219.0" cy="86.8" r="2.45"/><circle cx="274.9" cy="53.1" r="2.45"/><circle cx="214.1" cy="83.7" r="2.45"/><circle cx="152.5" cy="113.2" r="2.45"/><circle cx="226.2" cy="82.1" r="2.45"/><circle cx="235.0" cy="69.6" r="2.45"/><circle cx="263.1" cy="60.8" r="2.45"/><circle cx="265.1" cy="57.7" r="2.45"/><circle cx="152.8" cy="113.1" r="2.45"/><circle cx="186.6" cy="97.4" r="2.45"/><circle cx="273.3" cy="57.3" r="2.45"/><circle cx="173.7" cy="98.4" r="2.45"/><circle cx="154.8" cy="104.7" r="2.45"/><circle cx="265.7" cy="58.3" r="2.45"/><circle cx="183.4" cy="96.4" r="2.45"/><circle cx="145.9" cy="115.6" r="2.45"/><circle cx="163.1" cy="106.4" r="2.45"/><circle cx="265.2" cy="58.7" r="2.45"/><circle cx="276.5" cy="55.3" r="2.45"/><circle cx="186.8" cy="99.9" r="2.45"/><circle cx="264.4" cy="60.3" r="2.45"/><circle cx="206.7" cy="90.3" r="2.45"/></g>
<path d="M52.77 169.38L328.23 21.83" stroke="#ff0000" stroke-width="2.1" stroke-linecap="round" fill="none"/>
<rect x="39.0" y="14.45" width="303.00" height="162.30" fill="none" stroke="#d6d6d6" stroke-width="0.9"/>
<rect x="43.1" y="18.3" width="41.3" height="14.55" rx="1.6" fill="#fff" fill-opacity="0.8" stroke="#cccccc" stroke-opacity="0.8" stroke-width="0.8"/>
<path d="M46.40 25.10h16.2" stroke="#ff0000" stroke-width="2.0" stroke-linecap="round"/>
<text x="69.20" y="28.00" font-size="8.24" text-anchor="start" textLength="11.95" lengthAdjust="spacingAndGlyphs">LSI</text>
<text x="53.09" y="188.95" font-size="8.24" text-anchor="middle" textLength="18.64" lengthAdjust="spacingAndGlyphs">−3.0</text>
<text x="95.22" y="188.95" font-size="8.24" text-anchor="middle" textLength="18.64" lengthAdjust="spacingAndGlyphs">−2.5</text>
<text x="137.36" y="188.95" font-size="8.24" text-anchor="middle" textLength="18.64" lengthAdjust="spacingAndGlyphs">−2.0</text>
<text x="179.49" y="188.95" font-size="8.24" text-anchor="middle" textLength="18.64" lengthAdjust="spacingAndGlyphs">−1.5</text>
<text x="221.62" y="188.95" font-size="8.24" text-anchor="middle" textLength="18.64" lengthAdjust="spacingAndGlyphs">−1.0</text>
<text x="263.76" y="188.95" font-size="8.24" text-anchor="middle" textLength="18.64" lengthAdjust="spacingAndGlyphs">−0.5</text>
<text x="305.45" y="188.95" font-size="8.24" text-anchor="middle" textLength="12.79" lengthAdjust="spacingAndGlyphs">0.0</text>
<text x="33.20" y="172.39" font-size="8.24" text-anchor="end" textLength="18.64" lengthAdjust="spacingAndGlyphs">−3.0</text>
<text x="33.20" y="149.82" font-size="8.24" text-anchor="end" textLength="18.64" lengthAdjust="spacingAndGlyphs">−2.5</text>
<text x="33.20" y="127.25" font-size="8.24" text-anchor="end" textLength="18.64" lengthAdjust="spacingAndGlyphs">−2.0</text>
<text x="33.20" y="104.69" font-size="8.24" text-anchor="end" textLength="18.64" lengthAdjust="spacingAndGlyphs">−1.5</text>
<text x="33.20" y="82.12" font-size="8.24" text-anchor="end" textLength="18.64" lengthAdjust="spacingAndGlyphs">−1.0</text>
<text x="33.20" y="59.55" font-size="8.24" text-anchor="end" textLength="18.64" lengthAdjust="spacingAndGlyphs">−0.5</text>
<text x="33.20" y="36.98" font-size="8.24" text-anchor="end" textLength="12.79" lengthAdjust="spacingAndGlyphs">0.0</text>
<text x="190.50" y="200.75" font-size="9.88" text-anchor="middle" textLength="44.66" lengthAdjust="spacingAndGlyphs">RF-Target</text>
<text x="8.40" y="95.60" font-size="9.88" text-anchor="middle" textLength="48.93" lengthAdjust="spacingAndGlyphs" transform="rotate(-90 8.40 95.60)">RF-Predict</text>
<text x="190.50" y="9.85" font-size="11.53" text-anchor="middle" textLength="128.89" lengthAdjust="spacingAndGlyphs">RF-Target vs RF-Predict</text>
<rect x="380.6" y="14.45" width="303.00" height="162.30" fill="#fff"/>
<path d="M428.50 14.45V176.75M492.33 14.45V176.75M556.17 14.45V176.75M620.00 14.45V176.75M380.6 151.09H683.6M380.6 116.90H683.6M380.6 82.71H683.6M380.6 48.52H683.6" stroke="#cfcfcf" stroke-width="0.8" fill="none"/>
<g class="m"><circle cx="540.5" cy="90.6" r="2.45"/><circle cx="532.1" cy="96.5" r="2.45"/><circle cx="494.2" cy="119.7" r="2.45"/><circle cx="482.7" cy="123.3" r="2.45"/><circle cx="469.0" cy="129.9" r="2.45"/><circle cx="490.9" cy="119.6" r="2.45"/><circle cx="459.1" cy="133.4" r="2.45"/><circle cx="603.9" cy="64.4" r="2.45"/><circle cx="477.3" cy="126.1" r="2.45"/><circle cx="508.7" cy="109.1" r="2.45"/><circle cx="598.8" cy="80.5" r="2.45"/><circle cx="538.4" cy="91.5" r="2.45"/><circle cx="526.2" cy="106.2" r="2.45"/><circle cx="550.7" cy="90.7" r="2.45"/><circle cx="532.3" cy="96.1" r="2.45"/><circle cx="509.0" cy="105.3" r="2.45"/><circle cx="573.2" cy="74.9" r="2.45"/><circle cx="591.4" cy="69.9" r="2.45"/><circle cx="449.1" cy="134.0" r="2.45"/><circle cx="526.2" cy="97.0" r="2.45"/><circle cx="555.2" cy="83.6" r="2.45"/><circle cx="528.3" cy="102.0" r="2.45"/><circle cx="499.8" cy="112.9" r="2.45"/><circle cx="429.8" cy="146.1" r="2.45"/><circle cx="499.9" cy="110.2" r="2.45"/><circle cx="489.8" cy="115.2" r="2.45"/><circle cx="537.9" cy="93.8" r="2.45"/><circle cx="494.9" cy="118.5" r="2.45"/><circle cx="558.5" cy="80.2" r="2.45"/><circle cx="476.1" cy="123.0" r="2.45"/><circle cx="419.5" cy="149.8" r="2.45"/><circle cx="491.0" cy="115.0" r="2.45"/><circle cx="465.3" cy="119.7" r="2.45"/><circle cx="479.3" cy="119.2" r="2.45"/><circle cx="460.7" cy="124.1" r="2.45"/><circle cx="558.9" cy="81.4" r="2.45"/><circle cx="519.7" cy="98.1" r="2.45"/><circle cx="446.9" cy="140.8" r="2.45"/><circle cx="478.0" cy="118.6" r="2.45"/><circle cx="516.6" cy="100.7" r="2.45"/><circle cx="504.1" cy="110.6" r="2.45"/><circle cx="563.3" cy="83.0" r="2.45"/><circle cx="501.1" cy="110.9" r="2.45"/><circle cx="419.9" cy="146.1" r="2.45"/><circle cx="545.6" cy="93.3" r="2.45"/><circle cx="493.4" cy="113.7" r="2.45"/><circle cx="559.0" cy="79.4" r="2.45"/><circle cx="462.3" cy="133.8" r="2.45"/><circle cx="506.0" cy="109.4" r="2.45"/><circle cx="544.5" cy="88.9" r="2.45"/><circle cx="486.7" cy="114.7" r="2.45"/><circle cx="544.7" cy="93.0" r="2.45"/><circle cx="489.3" cy="120.6" r="2.45"/><circle cx="536.1" cy="87.8" r="2.45"/><circle cx="497.3" cy="113.0" r="2.45"/><circle cx="534.8" cy="93.6" r="2.45"/><circle cx="535.1" cy="93.8" r="2.45"/><circle cx="414.7" cy="147.7" r="2.45"/><circle cx="552.1" cy="86.4" r="2.45"/><circle cx="454.9" cy="136.0" r="2.45"/><circle cx="411.1" cy="151.7" r="2.45"/><circle cx="541.5" cy="91.7" r="2.45"/><circle cx="536.1" cy="99.1" r="2.45"/><circle cx="459.0" cy="129.4" r="2.45"/><circle cx="516.3" cy="106.7" r="2.45"/><circle cx="568.6" cy="77.7" r="2.45"/><circle cx="488.4" cy="114.8" r="2.45"/><circle cx="528.2" cy="95.0" r="2.45"/><circle cx="497.3" cy="122.5" r="2.45"/><circle cx="513.2" cy="107.1" r="2.45"/><circle cx="456.7" cy="131.4" r="2.45"/><circle cx="552.9" cy="84.5" r="2.45"/><circle cx="535.5" cy="94.0" r="2.45"/><circle cx="536.7" cy="93.2" r="2.45"/><circle cx="500.7" cy="117.5" r="2.45"/><circle cx="514.1" cy="104.3" r="2.45"/><circle cx="584.8" cy="71.9" r="2.45"/><circle cx="490.1" cy="117.2" r="2.45"/><circle cx="556.0" cy="87.1" r="2.45"/><circle cx="568.3" cy="74.8" r="2.45"/><circle cx="414.0" cy="151.0" r="2.45"/><circle cx="460.7" cy="128.3" r="2.45"/><circle cx="429.8" cy="147.9" r="2.45"/><circle cx="496.8" cy="115.6" r="2.45"/><circle cx="435.9" cy="141.6" r="2.45"/><circle cx="516.8" cy="105.6" r="2.45"/><circle cx="496.6" cy="113.8" r="2.45"/><circle cx="540.5" cy="89.1" r="2.45"/><circle cx="596.0" cy="67.1" r="2.45"/><circle cx="588.3" cy="66.6" r="2.45"/><circle cx="469.6" cy="123.3" r="2.45"/><circle cx="561.5" cy="96.4" r="2.45"/><circle cx="554.2" cy="85.6" r="2.45"/><circle cx="457.0" cy="134.4" r="2.45"/><circle cx="506.3" cy="108.3" r="2.45"/><circle cx="493.9" cy="123.0" r="2.45"/><circle cx="396.9" cy="135.0" r="2.45"/><circle cx="548.8" cy="85.2" r="2.45"/><circle cx="483.5" cy="115.3" r="2.45"/><circle cx="522.8" cy="96.1" r="2.45"/><circle cx="530.1" cy="97.3" r="2.45"/><circle cx="535.5" cy="98.1" r="2.45"/><circle cx="502.1" cy="113.6" r="2.45"/><circle cx="467.4" cy="126.1" r="2.45"/><circle cx="474.9" cy="129.1" r="2.45"/><circle cx="511.5" cy="105.2" r="2.45"/><circle cx="453.3" cy="135.5" r="2.45"/><circle cx="574.8" cy="75.4" r="2.45"/><circle cx="472.8" cy="124.4" r="2.45"/><circle cx="516.0" cy="102.7" r="2.45"/><circle cx="600.1" cy="67.0" r="2.45"/><circle cx="498.8" cy="122.3" r="2.45"/><circle cx="454.1" cy="133.5" r="2.45"/><circle cx="583.2" cy="88.2" r="2.45"/><circle cx="511.4" cy="110.1" r="2.45"/><circle cx="487.9" cy="119.7" r="2.45"/><circle cx="529.0" cy="103.3" r="2.45"/><circle cx="454.8" cy="123.4" r="2.45"/><circle cx="538.0" cy="85.6" r="2.45"/><circle cx="493.6" cy="116.4" r="2.45"/><circle cx="476.2" cy="120.5" r="2.45"/><circle cx="541.6" cy="97.2" r="2.45"/><circle cx="453.0" cy="131.1" r="2.45"/><circle cx="477.3" cy="125.1" r="2.45"/><circle cx="466.7" cy="128.9" r="2.45"/><circle cx="591.0" cy="70.7" r="2.45"/><circle cx="563.5" cy="82.5" r="2.45"/><circle cx="531.2" cy="94.3" r="2.45"/><circle cx="551.5" cy="87.0" r="2.45"/><circle cx="519.9" cy="106.2" r="2.45"/><circle cx="568.4" cy="77.2" r="2.45"/><circle cx="470.3" cy="120.4" r="2.45"/><circle cx="510.9" cy="108.0" r="2.45"/><circle cx="583.9" cy="70.1" r="2.45"/><circle cx="570.9" cy="80.9" r="2.45"/><circle cx="483.9" cy="121.7" r="2.45"/><circle cx="442.5" cy="136.4" r="2.45"/><circle cx="502.0" cy="108.9" r="2.45"/><circle cx="550.5" cy="84.8" r="2.45"/><circle cx="569.0" cy="74.7" r="2.45"/><circle cx="493.5" cy="105.4" r="2.45"/><circle cx="474.9" cy="123.7" r="2.45"/><circle cx="549.3" cy="94.6" r="2.45"/><circle cx="543.0" cy="91.2" r="2.45"/><circle cx="478.7" cy="121.1" r="2.45"/><circle cx="540.7" cy="91.5" r="2.45"/><circle cx="456.4" cy="124.2" r="2.45"/><circle cx="516.3" cy="108.0" r="2.45"/><circle cx="583.8" cy="76.4" r="2.45"/><circle cx="517.2" cy="106.2" r="2.45"/><circle cx="487.3" cy="119.2" r="2.45"/><circle cx="519.9" cy="88.8" r="2.45"/><circle cx="454.7" cy="138.6" r="2.45"/><circle cx="456.3" cy="126.3" r="2.45"/><circle cx="506.6" cy="105.7" r="2.45"/><circle cx="497.6" cy="114.7" r="2.45"/><circle cx="448.8" cy="129.6" r="2.45"/><circle cx="492.5" cy="112.3" r="2.45"/><circle cx="551.3" cy="86.6" r="2.45"/><circle cx="518.8" cy="102.4" r="2.45"/><circle cx="583.3" cy="88.3" r="2.45"/><circle cx="426.2" cy="148.0" r="2.45"/><circle cx="511.9" cy="105.9" r="2.45"/><circle cx="461.5" cy="130.9" r="2.45"/><circle cx="519.5" cy="105.9" r="2.45"/><circle cx="542.9" cy="95.0" r="2.45"/><circle cx="454.8" cy="124.6" r="2.45"/><circle cx="445.6" cy="134.8" r="2.45"/><circle cx="543.0" cy="86.4" r="2.45"/><circle cx="402.0" cy="149.4" r="2.45"/><circle cx="493.1" cy="121.6" r="2.45"/><circle cx="535.3" cy="92.1" r="2.45"/><circle cx="512.8" cy="107.5" r="2.45"/><circle cx="564.1" cy="83.9" r="2.45"/><circle cx="511.7" cy="105.7" r="2.45"/><circle cx="515.4" cy="100.2" r="2.45"/><circle cx="476.8" cy="126.5" r="2.45"/><circle cx="449.2" cy="134.9" r="2.45"/><circle cx="545.0" cy="88.5" r="2.45"/><circle cx="459.9" cy="128.7" r="2.45"/><circle cx="553.1" cy="86.3" r="2.45"/><circle cx="551.5" cy="91.2" r="2.45"/><circle cx="482.3" cy="122.2" r="2.45"/><circle cx="571.2" cy="75.2" r="2.45"/><circle cx="540.6" cy="95.4" r="2.45"/><circle cx="536.2" cy="87.6" r="2.45"/><circle cx="509.6" cy="116.7" r="2.45"/><circle cx="514.6" cy="102.0" r="2.45"/><circle cx="523.0" cy="101.2" r="2.45"/><circle cx="495.3" cy="113.5" r="2.45"/><circle cx="508.1" cy="105.4" r="2.45"/><circle cx="509.6" cy="108.6" r="2.45"/><circle cx="496.9" cy="111.2" r="2.45"/><circle cx="553.0" cy="80.5" r="2.45"/><circle cx="455.0" cy="130.4" r="2.45"/><circle cx="472.7" cy="127.4" r="2.45"/><circle cx="512.9" cy="100.2" r="2.45"/><circle cx="527.1" cy="90.8" r="2.45"/><circle cx="567.9" cy="76.5" r="2.45"/><circle cx="445.6" cy="140.2" r="2.45"/><circle cx="521.1" cy="96.0" r="2.45"/><circle cx="501.3" cy="116.5" r="2.45"/><circle cx="508.7" cy="110.8" r="2.45"/><circle cx="538.2" cy="101.9" r="2.45"/><circle cx="542.4" cy="91.5" r="2.45"/><circle cx="433.4" cy="139.9" r="2.45"/><circle cx="509.3" cy="107.2" r="2.45"/><circle cx="581.7" cy="72.1" r="2.45"/><circle cx="556.7" cy="83.6" r="2.45"/><circle cx="503.9" cy="110.0" r="2.45"/><circle cx="499.3" cy="111.2" r="2.45"/><circle cx="446.6" cy="135.7" r="2.45"/><circle cx="451.2" cy="135.6" r="2.45"/><circle cx="518.8" cy="102.7" r="2.45"/><circle cx="507.5" cy="109.0" r="2.45"/><circle cx="514.7" cy="107.0" r="2.45"/><circle cx="542.3" cy="94.5" r="2.45"/><circle cx="484.5" cy="114.5" r="2.45"/><circle cx="526.5" cy="95.0" r="2.45"/><circle cx="508.6" cy="110.9" r="2.45"/><circle cx="495.2" cy="113.5" r="2.45"/><circle cx="531.2" cy="93.5" r="2.45"/><circle cx="528.0" cy="92.5" r="2.45"/><circle cx="498.4" cy="110.0" r="2.45"/><circle cx="560.5" cy="84.0" r="2.45"/><circle cx="528.1" cy="99.9" r="2.45"/><circle cx="535.1" cy="108.8" r="2.45"/><circle cx="525.5" cy="105.6" r="2.45"/><circle cx="453.4" cy="130.0" r="2.45"/><circle cx="568.1" cy="76.3" r="2.45"/><circle cx="446.7" cy="130.5" r="2.45"/><circle cx="471.0" cy="124.6" r="2.45"/><circle cx="495.7" cy="117.1" r="2.45"/><circle cx="500.8" cy="116.1" r="2.45"/><circle cx="475.7" cy="123.1" r="2.45"/><circle cx="471.2" cy="125.9" r="2.45"/><circle cx="537.1" cy="90.4" r="2.45"/><circle cx="522.5" cy="101.7" r="2.45"/><circle cx="523.9" cy="100.9" r="2.45"/><circle cx="478.0" cy="125.0" r="2.45"/><circle cx="526.1" cy="102.7" r="2.45"/><circle cx="526.2" cy="93.3" r="2.45"/><circle cx="565.4" cy="81.8" r="2.45"/><circle cx="496.1" cy="110.6" r="2.45"/><circle cx="564.1" cy="81.6" r="2.45"/><circle cx="441.6" cy="144.6" r="2.45"/><circle cx="459.9" cy="121.0" r="2.45"/><circle cx="486.3" cy="118.1" r="2.45"/><circle cx="450.0" cy="138.2" r="2.45"/><circle cx="459.9" cy="125.5" r="2.45"/><circle cx="468.9" cy="128.1" r="2.45"/><circle cx="554.0" cy="88.5" r="2.45"/><circle cx="494.3" cy="112.4" r="2.45"/><circle cx="542.9" cy="97.4" r="2.45"/><circle cx="537.8" cy="89.1" r="2.45"/><circle cx="463.7" cy="129.2" r="2.45"/><circle cx="403.0" cy="155.7" r="2.45"/><circle cx="599.2" cy="64.6" r="2.45"/><circle cx="489.0" cy="124.8" r="2.45"/><circle cx="552.2" cy="88.7" r="2.45"/><circle cx="576.4" cy="88.2" r="2.45"/><circle cx="598.8" cy="64.0" r="2.45"/><circle cx="499.0" cy="114.6" r="2.45"/><circle cx="557.9" cy="81.5" r="2.45"/><circle cx="519.7" cy="104.7" r="2.45"/><circle cx="490.9" cy="111.6" r="2.45"/><circle cx="558.9" cy="82.7" r="2.45"/><circle cx="447.6" cy="128.9" r="2.45"/><circle cx="517.4" cy="103.6" r="2.45"/><circle cx="513.6" cy="104.6" r="2.45"/><circle cx="539.6" cy="91.8" r="2.45"/><circle cx="478.4" cy="126.0" r="2.45"/><circle cx="522.4" cy="115.4" r="2.45"/><circle cx="456.1" cy="126.1" r="2.45"/><circle cx="465.1" cy="129.7" r="2.45"/><circle cx="434.3" cy="139.1" r="2.45"/><circle cx="544.5" cy="97.9" r="2.45"/><circle cx="494.6" cy="120.4" r="2.45"/><circle cx="555.6" cy="82.0" r="2.45"/><circle cx="605.0" cy="59.8" r="2.45"/><circle cx="505.8" cy="102.0" r="2.45"/><circle cx="532.1" cy="97.9" r="2.45"/><circle cx="494.4" cy="121.2" r="2.45"/><circle cx="526.5" cy="100.0" r="2.45"/><circle cx="535.6" cy="93.0" r="2.45"/><circle cx="491.5" cy="123.3" r="2.45"/><circle cx="428.5" cy="147.7" r="2.45"/><circle cx="506.2" cy="108.7" r="2.45"/><circle cx="569.8" cy="75.8" r="2.45"/><circle cx="473.7" cy="126.6" r="2.45"/><circle cx="576.2" cy="68.5" r="2.45"/><circle cx="408.8" cy="149.1" r="2.45"/><circle cx="465.0" cy="129.1" r="2.45"/><circle cx="495.6" cy="112.3" r="2.45"/><circle cx="453.7" cy="130.5" r="2.45"/><circle cx="544.0" cy="92.4" r="2.45"/><circle cx="562.9" cy="78.4" r="2.45"/><circle cx="566.8" cy="78.5" r="2.45"/><circle cx="578.1" cy="76.9" r="2.45"/><circle cx="503.2" cy="110.5" r="2.45"/><circle cx="454.0" cy="130.5" r="2.45"/><circle cx="501.1" cy="110.8" r="2.45"/><circle cx="515.0" cy="97.7" r="2.45"/><circle cx="496.5" cy="102.8" r="2.45"/><circle cx="480.5" cy="119.0" r="2.45"/><circle cx="482.9" cy="127.6" r="2.45"/><circle cx="478.5" cy="128.6" r="2.45"/><circle cx="468.1" cy="129.8" r="2.45"/><circle cx="575.1" cy="80.7" r="2.45"/><circle cx="521.1" cy="103.4" r="2.45"/><circle cx="469.9" cy="120.6" r="2.45"/><circle cx="531.3" cy="92.8" r="2.45"/><circle cx="479.4" cy="114.0" r="2.45"/><circle cx="566.0" cy="78.6" r="2.45"/><circle cx="555.1" cy="82.7" r="2.45"/><circle cx="508.8" cy="108.8" r="2.45"/><circle cx="539.0" cy="85.7" r="2.45"/><circle cx="506.2" cy="110.3" r="2.45"/><circle cx="524.2" cy="105.0" r="2.45"/><circle cx="475.0" cy="127.9" r="2.45"/><circle cx="510.0" cy="108.1" r="2.45"/><circle cx="586.3" cy="73.5" r="2.45"/><circle cx="482.6" cy="122.2" r="2.45"/><circle cx="460.4" cy="131.5" r="2.45"/><circle cx="487.9" cy="114.8" r="2.45"/><circle cx="487.3" cy="119.5" r="2.45"/><circle cx="539.4" cy="96.0" r="2.45"/><circle cx="457.7" cy="134.1" r="2.45"/><circle cx="502.8" cy="101.6" r="2.45"/><circle cx="461.6" cy="132.7" r="2.45"/><circle cx="489.1" cy="111.4" r="2.45"/><circle cx="528.1" cy="100.1" r="2.45"/><circle cx="529.2" cy="101.6" r="2.45"/><circle cx="512.7" cy="112.2" r="2.45"/><circle cx="558.4" cy="83.3" r="2.45"/><circle cx="477.1" cy="124.1" r="2.45"/><circle cx="432.0" cy="146.5" r="2.45"/><circle cx="531.3" cy="94.3" r="2.45"/><circle cx="509.3" cy="104.5" r="2.45"/><circle cx="504.2" cy="120.2" r="2.45"/><circle cx="467.9" cy="132.2" r="2.45"/><circle cx="421.3" cy="146.5" r="2.45"/><circle cx="557.4" cy="86.1" r="2.45"/><circle cx="426.0" cy="145.9" r="2.45"/><circle cx="514.6" cy="106.3" r="2.45"/><circle cx="580.9" cy="72.7" r="2.45"/><circle cx="415.1" cy="149.9" r="2.45"/><circle cx="575.1" cy="77.8" r="2.45"/><circle cx="543.5" cy="86.8" r="2.45"/><circle cx="545.1" cy="91.6" r="2.45"/><circle cx="499.2" cy="107.6" r="2.45"/><circle cx="580.4" cy="81.8" r="2.45"/><circle cx="508.1" cy="106.6" r="2.45"/><circle cx="444.0" cy="134.0" r="2.45"/><circle cx="482.7" cy="120.4" r="2.45"/><circle cx="551.6" cy="83.6" r="2.45"/><circle cx="462.4" cy="135.3" r="2.45"/><circle cx="464.1" cy="127.5" r="2.45"/><circle cx="475.8" cy="117.7" r="2.45"/><circle cx="462.6" cy="127.6" r="2.45"/><circle cx="533.6" cy="98.8" r="2.45"/><circle cx="462.6" cy="131.8" r="2.45"/><circle cx="519.3" cy="102.8" r="2.45"/><circle cx="544.0" cy="89.2" r="2.45"/><circle cx="517.7" cy="106.4" r="2.45"/><circle cx="409.3" cy="149.2" r="2.45"/><circle cx="493.7" cy="118.2" r="2.45"/><circle cx="486.4" cy="120.5" r="2.45"/><circle cx="533.0" cy="96.0" r="2.45"/><circle cx="475.5" cy="122.1" r="2.45"/><circle cx="460.6" cy="131.0" r="2.45"/><circle cx="456.0" cy="128.2" r="2.45"/><circle cx="577.0" cy="78.8" r="2.45"/><circle cx="460.1" cy="129.6" r="2.45"/><circle cx="555.4" cy="86.5" r="2.45"/><circle cx="577.5" cy="72.8" r="2.45"/><circle cx="466.1" cy="124.5" r="2.45"/><circle cx="494.8" cy="118.8" r="2.45"/><circle cx="529.1" cy="97.4" r="2.45"/><circle cx="460.8" cy="129.3" r="2.45"/><circle cx="493.0" cy="123.2" r="2.45"/><circle cx="477.4" cy="120.7" r="2.45"/><circle cx="570.4" cy="81.5" r="2.45"/><circle cx="512.5" cy="112.1" r="2.45"/><circle cx="551.3" cy="86.0" r="2.45"/><circle cx="543.2" cy="97.1" r="2.45"/><circle cx="578.1" cy="76.0" r="2.45"/><circle cx="497.1" cy="115.1" r="2.45"/><circle cx="592.2" cy="72.9" r="2.45"/><circle cx="438.2" cy="138.7" r="2.45"/><circle cx="459.0" cy="129.3" r="2.45"/><circle cx="459.7" cy="125.8" r="2.45"/><circle cx="481.6" cy="121.4" r="2.45"/><circle cx="482.6" cy="120.7" r="2.45"/><circle cx="486.7" cy="112.0" r="2.45"/><circle cx="508.3" cy="105.2" r="2.45"/><circle cx="571.0" cy="77.6" r="2.45"/><circle cx="490.3" cy="110.3" r="2.45"/><circle cx="471.4" cy="120.7" r="2.45"/><circle cx="449.8" cy="129.8" r="2.45"/><circle cx="534.2" cy="93.7" r="2.45"/><circle cx="574.1" cy="77.6" r="2.45"/><circle cx="503.0" cy="109.4" r="2.45"/><circle cx="562.9" cy="81.9" r="2.45"/><circle cx="457.0" cy="130.9" r="2.45"/><circle cx="524.9" cy="100.9" r="2.45"/><circle cx="487.2" cy="122.2" r="2.45"/><circle cx="471.0" cy="125.3" r="2.45"/><circle cx="498.9" cy="113.7" r="2.45"/><circle cx="459.6" cy="128.9" r="2.45"/><circle cx="504.5" cy="110.6" r="2.45"/><circle cx="467.9" cy="124.5" r="2.45"/><circle cx="448.6" cy="136.4" r="2.45"/><circle cx="559.0" cy="78.8" r="2.45"/><circle cx="485.9" cy="122.4" r="2.45"/><circle cx="525.1" cy="89.3" r="2.45"/><circle cx="508.7" cy="112.7" r="2.45"/><circle cx="518.4" cy="107.1" r="2.45"/><circle cx="534.4" cy="89.6" r="2.45"/><circle cx="505.9" cy="107.1" r="2.45"/><circle cx="419.9" cy="143.7" r="2.45"/><circle cx="469.7" cy="126.5" r="2.45"/><circle cx="561.3" cy="79.6" r="2.45"/><circle cx="453.3" cy="126.6" r="2.45"/><circle cx="507.4" cy="112.6" r="2.45"/><circle cx="533.8" cy="100.1" r="2.45"/><circle cx="517.1" cy="106.0" r="2.45"/><circle cx="465.5" cy="125.5" r="2.45"/><circle cx="462.8" cy="130.0" r="2.45"/><circle cx="463.8" cy="127.6" r="2.45"/><circle cx="571.9" cy="78.9" r="2.45"/><circle cx="474.5" cy="124.6" r="2.45"/><circle cx="547.0" cy="87.7" r="2.45"/><circle cx="442.4" cy="141.3" r="2.45"/><circle cx="457.5" cy="132.0" r="2.45"/><circle cx="538.7" cy="95.4" r="2.45"/><circle cx="442.9" cy="139.1" r="2.45"/><circle cx="450.1" cy="136.4" r="2.45"/><circle cx="556.0" cy="79.3" r="2.45"/><circle cx="457.2" cy="134.1" r="2.45"/><circle cx="467.3" cy="119.7" r="2.45"/><circle cx="499.1" cy="117.3" r="2.45"/><circle cx="536.8" cy="88.2" r="2.45"/><circle cx="560.1" cy="72.5" r="2.45"/><circle cx="467.5" cy="120.4" r="2.45"/><circle cx="536.7" cy="89.7" r="2.45"/><circle cx="538.1" cy="95.9" r="2.45"/><circle cx="511.8" cy="99.4" r="2.45"/><circle cx="459.4" cy="129.3" r="2.45"/><circle cx="460.7" cy="125.4" r="2.45"/><circle cx="456.7" cy="124.0" r="2.45"/><circle cx="535.3" cy="92.9" r="2.45"/><circle cx="528.2" cy="98.8" r="2.45"/><circle cx="511.2" cy="100.8" r="2.45"/><circle cx="487.3" cy="120.0" r="2.45"/><circle cx="571.5" cy="74.7" r="2.45"/><circle cx="514.6" cy="104.8" r="2.45"/><circle cx="433.4" cy="137.8" r="2.45"/><circle cx="496.2" cy="123.7" r="2.45"/><circle cx="530.6" cy="87.2" r="2.45"/><circle cx="472.5" cy="124.1" r="2.45"/><circle cx="522.0" cy="94.1" r="2.45"/><circle cx="514.4" cy="104.6" r="2.45"/><circle cx="493.9" cy="110.5" r="2.45"/><circle cx="485.2" cy="124.7" r="2.45"/><circle cx="532.8" cy="90.4" r="2.45"/><circle cx="498.6" cy="118.6" r="2.45"/><circle cx="489.9" cy="119.3" r="2.45"/><circle cx="523.2" cy="93.7" r="2.45"/><circle cx="550.6" cy="88.5" r="2.45"/><circle cx="534.8" cy="92.4" r="2.45"/><circle cx="443.6" cy="136.7" r="2.45"/><circle cx="509.7" cy="109.0" r="2.45"/><circle cx="467.8" cy="123.4" r="2.45"/><circle cx="426.2" cy="147.1" r="2.45"/><circle cx="470.9" cy="119.5" r="2.45"/><circle cx="560.0" cy="82.2" r="2.45"/><circle cx="490.3" cy="111.1" r="2.45"/><circle cx="573.7" cy="80.9" r="2.45"/><circle cx="468.1" cy="131.6" r="2.45"/><circle cx="531.0" cy="96.8" r="2.45"/><circle cx="529.6" cy="94.5" r="2.45"/><circle cx="522.7" cy="106.8" r="2.45"/><circle cx="511.2" cy="101.5" r="2.45"/><circle cx="541.6" cy="97.5" r="2.45"/><circle cx="414.6" cy="146.1" r="2.45"/><circle cx="591.3" cy="65.2" r="2.45"/><circle cx="524.0" cy="105.5" r="2.45"/><circle cx="508.4" cy="104.6" r="2.45"/><circle cx="444.6" cy="137.5" r="2.45"/><circle cx="510.5" cy="107.6" r="2.45"/><circle cx="507.1" cy="113.1" r="2.45"/><circle cx="473.2" cy="127.0" r="2.45"/><circle cx="453.6" cy="134.3" r="2.45"/><circle cx="457.8" cy="134.0" r="2.45"/><circle cx="578.7" cy="77.1" r="2.45"/><circle cx="463.3" cy="129.5" r="2.45"/><circle cx="595.1" cy="65.4" r="2.45"/><circle cx="536.3" cy="93.7" r="2.45"/><circle cx="487.6" cy="121.9" r="2.45"/><circle cx="466.8" cy="126.1" r="2.45"/><circle cx="566.3" cy="80.5" r="2.45"/><circle cx="394.4" cy="157.7" r="2.45"/><circle cx="490.1" cy="119.1" r="2.45"/><circle cx="434.2" cy="139.3" r="2.45"/><circle cx="474.7" cy="123.5" r="2.45"/><circle cx="551.9" cy="82.3" r="2.45"/><circle cx="469.4" cy="126.3" r="2.45"/><circle cx="416.1" cy="147.4" r="2.45"/><circle cx="444.2" cy="139.1" r="2.45"/><circle cx="439.3" cy="137.8" r="2.45"/><circle cx="466.5" cy="121.6" r="2.45"/><circle cx="544.6" cy="95.6" r="2.45"/><circle cx="464.7" cy="128.7" r="2.45"/><circle cx="511.5" cy="105.9" r="2.45"/><circle cx="545.4" cy="87.7" r="2.45"/><circle cx="501.6" cy="113.5" r="2.45"/><circle cx="463.2" cy="125.6" r="2.45"/><circle cx="552.9" cy="81.5" r="2.45"/><circle cx="480.5" cy="121.3" r="2.45"/><circle cx="515.8" cy="108.4" r="2.45"/><circle cx="507.7" cy="113.8" r="2.45"/><circle cx="530.1" cy="101.3" r="2.45"/><circle cx="443.9" cy="138.5" r="2.45"/><circle cx="435.6" cy="147.2" r="2.45"/><circle cx="467.1" cy="130.5" r="2.45"/><circle cx="564.2" cy="82.9" r="2.45"/><circle cx="523.7" cy="102.1" r="2.45"/><circle cx="525.2" cy="112.5" r="2.45"/><circle cx="450.3" cy="132.8" r="2.45"/><circle cx="555.4" cy="90.1" r="2.45"/><circle cx="529.7" cy="105.5" r="2.45"/><circle cx="553.6" cy="83.3" r="2.45"/><circle cx="549.4" cy="82.2" r="2.45"/><circle cx="528.2" cy="92.4" r="2.45"/><circle cx="469.2" cy="124.7" r="2.45"/><circle cx="550.5" cy="82.8" r="2.45"/><circle cx="560.5" cy="104.1" r="2.45"/><circle cx="518.6" cy="100.9" r="2.45"/><circle cx="574.9" cy="79.0" r="2.45"/><circle cx="505.5" cy="106.7" r="2.45"/><circle cx="544.8" cy="90.0" r="2.45"/><circle cx="521.9" cy="104.0" r="2.45"/><circle cx="567.9" cy="77.2" r="2.45"/><circle cx="438.1" cy="143.2" r="2.45"/><circle cx="532.1" cy="101.8" r="2.45"/><circle cx="485.5" cy="113.1" r="2.45"/><circle cx="498.7" cy="111.9" r="2.45"/><circle cx="528.6" cy="99.4" r="2.45"/><circle cx="422.5" cy="144.9" r="2.45"/><circle cx="517.0" cy="97.9" r="2.45"/><circle cx="476.8" cy="126.2" r="2.45"/><circle cx="527.0" cy="101.3" r="2.45"/><circle cx="500.3" cy="104.6" r="2.45"/><circle cx="480.2" cy="135.3" r="2.45"/><circle cx="493.5" cy="116.9" r="2.45"/><circle cx="509.3" cy="112.3" r="2.45"/><circle cx="542.4" cy="91.4" r="2.45"/><circle cx="522.7" cy="102.0" r="2.45"/><circle cx="544.1" cy="93.4" r="2.45"/><circle cx="503.9" cy="107.3" r="2.45"/><circle cx="537.7" cy="86.3" r="2.45"/><circle cx="486.4" cy="119.5" r="2.45"/><circle cx="454.8" cy="134.5" r="2.45"/><circle cx="517.6" cy="103.0" r="2.45"/><circle cx="511.6" cy="109.5" r="2.45"/><circle cx="484.2" cy="128.6" r="2.45"/><circle cx="526.3" cy="102.2" r="2.45"/><circle cx="514.3" cy="106.1" r="2.45"/><circle cx="548.4" cy="85.1" r="2.45"/><circle cx="492.6" cy="117.2" r="2.45"/><circle cx="550.4" cy="92.7" r="2.45"/><circle cx="482.0" cy="121.6" r="2.45"/><circle cx="438.5" cy="135.6" r="2.45"/><circle cx="441.8" cy="143.4" r="2.45"/><circle cx="534.9" cy="95.3" r="2.45"/><circle cx="481.0" cy="120.7" r="2.45"/><circle cx="517.5" cy="103.9" r="2.45"/><circle cx="502.1" cy="103.4" r="2.45"/><circle cx="539.0" cy="97.7" r="2.45"/><circle cx="509.2" cy="107.6" r="2.45"/><circle cx="465.4" cy="122.0" r="2.45"/><circle cx="451.7" cy="135.5" r="2.45"/><circle cx="438.7" cy="142.6" r="2.45"/><circle cx="556.2" cy="90.4" r="2.45"/><circle cx="417.6" cy="146.7" r="2.45"/><circle cx="479.3" cy="130.6" r="2.45"/><circle cx="534.0" cy="93.5" r="2.45"/><circle cx="500.8" cy="115.5" r="2.45"/><circle cx="540.1" cy="89.1" r="2.45"/><circle cx="488.6" cy="117.6" r="2.45"/><circle cx="431.9" cy="140.6" r="2.45"/><circle cx="513.5" cy="107.0" r="2.45"/><circle cx="517.6" cy="108.1" r="2.45"/><circle cx="455.5" cy="127.1" r="2.45"/><circle cx="488.3" cy="115.9" r="2.45"/><circle cx="523.6" cy="107.0" r="2.45"/><circle cx="466.3" cy="130.4" r="2.45"/><circle cx="595.4" cy="67.3" r="2.45"/><circle cx="396.5" cy="158.3" r="2.45"/><circle cx="587.9" cy="66.4" r="2.45"/><circle cx="450.0" cy="133.6" r="2.45"/><circle cx="565.8" cy="82.9" r="2.45"/><circle cx="480.1" cy="124.5" r="2.45"/><circle cx="497.5" cy="115.7" r="2.45"/><circle cx="543.2" cy="83.5" r="2.45"/><circle cx="449.2" cy="134.5" r="2.45"/><circle cx="457.2" cy="127.8" r="2.45"/><circle cx="461.3" cy="124.0" r="2.45"/><circle cx="463.3" cy="129.0" r="2.45"/><circle cx="565.7" cy="85.0" r="2.45"/><circle cx="453.1" cy="129.6" r="2.45"/><circle cx="498.9" cy="119.7" r="2.45"/><circle cx="511.5" cy="111.5" r="2.45"/><circle cx="483.9" cy="124.2" r="2.45"/><circle cx="541.4" cy="87.5" r="2.45"/><circle cx="503.1" cy="114.6" r="2.45"/><circle cx="515.1" cy="111.9" r="2.45"/><circle cx="499.6" cy="109.3" r="2.45"/><circle cx="554.0" cy="89.2" r="2.45"/><circle cx="513.4" cy="101.5" r="2.45"/><circle cx="451.7" cy="132.3" r="2.45"/><circle cx="461.3" cy="125.2" r="2.45"/><circle cx="436.4" cy="143.1" r="2.45"/><circle cx="496.9" cy="113.6" r="2.45"/><circle cx="499.4" cy="112.2" r="2.45"/><circle cx="522.5" cy="101.5" r="2.45"/><circle cx="531.1" cy="108.6" r="2.45"/><circle cx="492.4" cy="120.6" r="2.45"/><circle cx="554.1" cy="84.5" r="2.45"/><circle cx="528.3" cy="98.8" r="2.45"/><circle cx="505.4" cy="112.8" r="2.45"/><circle cx="432.0" cy="143.0" r="2.45"/><circle cx="517.7" cy="102.5" r="2.45"/><circle cx="454.6" cy="135.2" r="2.45"/><circle cx="552.4" cy="91.7" r="2.45"/><circle cx="432.3" cy="141.1" r="2.45"/><circle cx="450.9" cy="131.7" r="2.45"/><circle cx="574.4" cy="76.4" r="2.45"/><circle cx="492.3" cy="115.4" r="2.45"/><circle cx="502.9" cy="112.8" r="2.45"/><circle cx="481.6" cy="120.5" r="2.45"/><circle cx="582.0" cy="73.5" r="2.45"/><circle cx="451.0" cy="138.1" r="2.45"/><circle cx="449.8" cy="136.3" r="2.45"/><circle cx="485.3" cy="124.5" r="2.45"/><circle cx="467.5" cy="122.7" r="2.45"/><circle cx="478.7" cy="126.9" r="2.45"/><circle cx="539.2" cy="92.1" r="2.45"/><circle cx="488.7" cy="114.4" r="2.45"/><circle cx="529.2" cy="93.8" r="2.45"/><circle cx="450.0" cy="137.0" r="2.45"/><circle cx="494.1" cy="115.4" r="2.45"/><circle cx="482.8" cy="124.2" r="2.45"/><circle cx="489.9" cy="120.8" r="2.45"/><circle cx="550.9" cy="87.2" r="2.45"/><circle cx="501.9" cy="114.3" r="2.45"/><circle cx="526.8" cy="100.1" r="2.45"/><circle cx="459.0" cy="132.7" r="2.45"/><circle cx="465.3" cy="130.2" r="2.45"/><circle cx="465.2" cy="125.8" r="2.45"/><circle cx="449.0" cy="133.2" r="2.45"/><circle cx="496.2" cy="126.8" r="2.45"/><circle cx="447.3" cy="141.4" r="2.45"/><circle cx="544.7" cy="90.7" r="2.45"/><circle cx="480.3" cy="117.6" r="2.45"/><circle cx="533.3" cy="94.2" r="2.45"/><circle cx="530.4" cy="95.1" r="2.45"/><circle cx="486.1" cy="117.7" r="2.45"/><circle cx="521.1" cy="101.1" r="2.45"/><circle cx="548.8" cy="85.5" r="2.45"/><circle cx="525.5" cy="100.7" r="2.45"/><circle cx="583.4" cy="72.6" r="2.45"/><circle cx="531.1" cy="98.2" r="2.45"/><circle cx="476.2" cy="119.0" r="2.45"/><circle cx="536.1" cy="98.5" r="2.45"/><circle cx="460.2" cy="129.1" r="2.45"/><circle cx="463.6" cy="133.6" r="2.45"/><circle cx="501.3" cy="115.4" r="2.45"/><circle cx="557.0" cy="85.5" r="2.45"/><circle cx="529.5" cy="104.2" r="2.45"/><circle cx="478.7" cy="132.4" r="2.45"/><circle cx="473.9" cy="120.3" r="2.45"/><circle cx="484.2" cy="124.1" r="2.45"/><circle cx="502.8" cy="115.3" r="2.45"/><circle cx="467.8" cy="128.1" r="2.45"/><circle cx="585.9" cy="74.9" r="2.45"/><circle cx="553.1" cy="82.1" r="2.45"/><circle cx="500.5" cy="107.7" r="2.45"/><circle cx="549.3" cy="94.0" r="2.45"/><circle cx="485.5" cy="123.6" r="2.45"/><circle cx="558.6" cy="78.6" r="2.45"/><circle cx="407.6" cy="153.4" r="2.45"/><circle cx="545.2" cy="86.6" r="2.45"/><circle cx="507.0" cy="112.6" r="2.45"/><circle cx="505.2" cy="107.5" r="2.45"/><circle cx="475.3" cy="126.0" r="2.45"/><circle cx="554.6" cy="86.9" r="2.45"/><circle cx="500.4" cy="116.7" r="2.45"/><circle cx="575.3" cy="80.7" r="2.45"/><circle cx="424.1" cy="144.4" r="2.45"/><circle cx="513.2" cy="104.5" r="2.45"/><circle cx="464.5" cy="127.3" r="2.45"/><circle cx="547.1" cy="88.1" r="2.45"/><circle cx="469.8" cy="124.8" r="2.45"/><circle cx="487.1" cy="116.3" r="2.45"/><circle cx="484.5" cy="112.4" r="2.45"/><circle cx="514.1" cy="106.5" r="2.45"/><circle cx="470.7" cy="124.7" r="2.45"/><circle cx="444.9" cy="139.5" r="2.45"/><circle cx="517.8" cy="100.4" r="2.45"/><circle cx="497.8" cy="112.8" r="2.45"/><circle cx="483.6" cy="125.1" r="2.45"/><circle cx="559.5" cy="85.4" r="2.45"/><circle cx="556.6" cy="84.2" r="2.45"/><circle cx="491.4" cy="118.3" r="2.45"/><circle cx="529.6" cy="98.0" r="2.45"/><circle cx="568.5" cy="79.5" r="2.45"/><circle cx="473.6" cy="121.9" r="2.45"/><circle cx="627.3" cy="62.1" r="2.45"/><circle cx="576.5" cy="88.3" r="2.45"/><circle cx="500.0" cy="113.1" r="2.45"/><circle cx="553.4" cy="92.2" r="2.45"/><circle cx="456.1" cy="132.7" r="2.45"/><circle cx="457.8" cy="135.6" r="2.45"/><circle cx="485.9" cy="118.5" r="2.45"/><circle cx="578.8" cy="74.7" r="2.45"/><circle cx="517.8" cy="109.0" r="2.45"/><circle cx="555.2" cy="86.5" r="2.45"/><circle cx="518.0" cy="109.6" r="2.45"/><circle cx="510.0" cy="118.7" r="2.45"/><circle cx="568.8" cy="79.5" r="2.45"/><circle cx="514.5" cy="107.5" r="2.45"/><circle cx="519.8" cy="106.8" r="2.45"/><circle cx="483.4" cy="123.1" r="2.45"/><circle cx="463.2" cy="133.8" r="2.45"/><circle cx="492.6" cy="118.2" r="2.45"/><circle cx="438.2" cy="143.1" r="2.45"/><circle cx="448.2" cy="138.9" r="2.45"/><circle cx="534.0" cy="97.6" r="2.45"/><circle cx="554.3" cy="89.1" r="2.45"/><circle cx="481.7" cy="122.4" r="2.45"/><circle cx="508.4" cy="102.2" r="2.45"/><circle cx="447.8" cy="139.1" r="2.45"/><circle cx="590.3" cy="73.6" r="2.45"/><circle cx="522.2" cy="99.4" r="2.45"/><circle cx="430.6" cy="138.5" r="2.45"/><circle cx="505.0" cy="106.1" r="2.45"/><circle cx="533.3" cy="96.8" r="2.45"/><circle cx="486.3" cy="120.6" r="2.45"/><circle cx="449.3" cy="132.7" r="2.45"/><circle cx="470.4" cy="115.5" r="2.45"/><circle cx="588.4" cy="69.7" r="2.45"/><circle cx="573.9" cy="83.0" r="2.45"/><circle cx="473.3" cy="125.4" r="2.45"/><circle cx="489.1" cy="113.8" r="2.45"/><circle cx="552.8" cy="92.3" r="2.45"/><circle cx="539.2" cy="94.8" r="2.45"/><circle cx="450.5" cy="135.1" r="2.45"/><circle cx="496.2" cy="119.1" r="2.45"/><circle cx="464.1" cy="135.7" r="2.45"/><circle cx="475.0" cy="124.7" r="2.45"/><circle cx="471.0" cy="128.4" r="2.45"/><circle cx="448.9" cy="134.8" r="2.45"/><circle cx="471.4" cy="119.9" r="2.45"/><circle cx="518.2" cy="103.7" r="2.45"/><circle cx="469.2" cy="131.9" r="2.45"/><circle cx="541.3" cy="88.1" r="2.45"/><circle cx="492.4" cy="116.9" r="2.45"/><circle cx="464.2" cy="129.6" r="2.45"/><circle cx="521.0" cy="98.5" r="2.45"/><circle cx="522.0" cy="107.2" r="2.45"/><circle cx="574.3" cy="76.1" r="2.45"/><circle cx="497.2" cy="110.3" r="2.45"/><circle cx="560.4" cy="80.1" r="2.45"/><circle cx="477.5" cy="120.8" r="2.45"/><circle cx="466.4" cy="119.9" r="2.45"/><circle cx="517.0" cy="101.3" r="2.45"/><circle cx="554.6" cy="87.2" r="2.45"/><circle cx="444.8" cy="137.3" r="2.45"/><circle cx="516.4" cy="103.0" r="2.45"/><circle cx="544.0" cy="86.5" r="2.45"/><circle cx="454.8" cy="127.1" r="2.45"/><circle cx="544.2" cy="89.6" r="2.45"/><circle cx="523.9" cy="98.9" r="2.45"/><circle cx="501.8" cy="107.6" r="2.45"/><circle cx="504.9" cy="106.3" r="2.45"/><circle cx="558.6" cy="79.7" r="2.45"/><circle cx="528.4" cy="101.0" r="2.45"/><circle cx="492.9" cy="111.8" r="2.45"/><circle cx="571.2" cy="80.7" r="2.45"/><circle cx="423.5" cy="140.0" r="2.45"/><circle cx="546.3" cy="90.5" r="2.45"/><circle cx="526.7" cy="97.4" r="2.45"/><circle cx="564.4" cy="83.0" r="2.45"/><circle cx="543.4" cy="90.0" r="2.45"/><circle cx="492.9" cy="115.9" r="2.45"/><circle cx="433.9" cy="142.3" r="2.45"/><circle cx="458.9" cy="132.1" r="2.45"/><circle cx="568.7" cy="83.5" r="2.45"/><circle cx="475.8" cy="117.5" r="2.45"/><circle cx="525.3" cy="101.8" r="2.45"/><circle cx="517.8" cy="105.4" r="2.45"/><circle cx="538.1" cy="91.8" r="2.45"/><circle cx="545.5" cy="86.3" r="2.45"/><circle cx="473.5" cy="124.5" r="2.45"/><circle cx="574.7" cy="76.5" r="2.45"/><circle cx="478.0" cy="128.4" r="2.45"/><circle cx="505.9" cy="114.4" r="2.45"/><circle cx="458.6" cy="135.3" r="2.45"/><circle cx="530.3" cy="97.8" r="2.45"/><circle cx="508.8" cy="112.4" r="2.45"/><circle cx="543.4" cy="91.1" r="2.45"/><circle cx="590.3" cy="71.1" r="2.45"/><circle cx="485.9" cy="122.9" r="2.45"/><circle cx="489.1" cy="114.0" r="2.45"/><circle cx="450.1" cy="131.4" r="2.45"/><circle cx="527.7" cy="96.6" r="2.45"/><circle cx="519.1" cy="105.2" r="2.45"/><circle cx="474.4" cy="122.9" r="2.45"/><circle cx="576.4" cy="72.7" r="2.45"/><circle cx="573.7" cy="74.0" r="2.45"/><circle cx="443.2" cy="142.7" r="2.45"/><circle cx="454.9" cy="132.2" r="2.45"/><circle cx="515.7" cy="105.1" r="2.45"/><circle cx="535.4" cy="96.1" r="2.45"/><circle cx="475.2" cy="127.4" r="2.45"/><circle cx="435.8" cy="143.9" r="2.45"/><circle cx="472.4" cy="128.0" r="2.45"/><circle cx="578.6" cy="79.0" r="2.45"/><circle cx="557.3" cy="82.3" r="2.45"/><circle cx="481.5" cy="119.2" r="2.45"/><circle cx="520.7" cy="106.7" r="2.45"/><circle cx="545.1" cy="89.9" r="2.45"/><circle cx="529.6" cy="83.8" r="2.45"/><circle cx="518.7" cy="104.0" r="2.45"/><circle cx="551.2" cy="80.1" r="2.45"/><circle cx="524.8" cy="100.0" r="2.45"/><circle cx="441.6" cy="138.6" r="2.45"/><circle cx="560.4" cy="87.2" r="2.45"/><circle cx="528.6" cy="105.5" r="2.45"/><circle cx="563.3" cy="81.4" r="2.45"/><circle cx="475.1" cy="124.7" r="2.45"/><circle cx="454.4" cy="132.5" r="2.45"/><circle cx="534.8" cy="86.1" r="2.45"/><circle cx="477.6" cy="121.4" r="2.45"/><circle cx="519.8" cy="105.8" r="2.45"/><circle cx="475.7" cy="125.0" r="2.45"/><circle cx="491.0" cy="116.2" r="2.45"/><circle cx="538.3" cy="87.0" r="2.45"/><circle cx="445.4" cy="139.1" r="2.45"/><circle cx="525.4" cy="105.3" r="2.45"/><circle cx="491.2" cy="117.3" r="2.45"/><circle cx="552.9" cy="89.8" r="2.45"/><circle cx="509.5" cy="104.0" r="2.45"/><circle cx="444.9" cy="140.2" r="2.45"/><circle cx="557.3" cy="90.3" r="2.45"/><circle cx="571.0" cy="78.6" r="2.45"/><circle cx="433.2" cy="145.3" r="2.45"/><circle cx="559.1" cy="83.5" r="2.45"/><circle cx="487.9" cy="120.9" r="2.45"/><circle cx="541.7" cy="91.1" r="2.45"/><circle cx="515.3" cy="103.1" r="2.45"/><circle cx="457.2" cy="133.6" r="2.45"/><circle cx="477.3" cy="120.1" r="2.45"/><circle cx="417.4" cy="132.5" r="2.45"/><circle cx="517.2" cy="100.4" r="2.45"/><circle cx="483.9" cy="121.4" r="2.45"/><circle cx="532.9" cy="105.3" r="2.45"/><circle cx="441.7" cy="142.4" r="2.45"/><circle cx="571.2" cy="79.2" r="2.45"/><circle cx="540.0" cy="97.2" r="2.45"/><circle cx="550.4" cy="85.7" r="2.45"/><circle cx="480.1" cy="114.4" r="2.45"/><circle cx="538.0" cy="92.1" r="2.45"/><circle cx="574.6" cy="74.5" r="2.45"/><circle cx="553.0" cy="90.1" r="2.45"/><circle cx="460.7" cy="135.1" r="2.45"/><circle cx="446.5" cy="137.4" r="2.45"/><circle cx="484.4" cy="118.1" r="2.45"/><circle cx="465.3" cy="133.9" r="2.45"/><circle cx="545.2" cy="85.8" r="2.45"/><circle cx="524.0" cy="103.3" r="2.45"/><circle cx="468.2" cy="125.6" r="2.45"/><circle cx="527.9" cy="97.7" r="2.45"/><circle cx="522.6" cy="103.4" r="2.45"/><circle cx="464.4" cy="130.2" r="2.45"/><circle cx="481.4" cy="121.3" r="2.45"/><circle cx="425.9" cy="145.4" r="2.45"/><circle cx="489.0" cy="122.4" r="2.45"/><circle cx="416.7" cy="152.3" r="2.45"/><circle cx="505.0" cy="105.8" r="2.45"/><circle cx="502.0" cy="118.6" r="2.45"/><circle cx="509.5" cy="116.9" r="2.45"/><circle cx="481.1" cy="121.1" r="2.45"/><circle cx="504.0" cy="113.5" r="2.45"/><circle cx="510.4" cy="106.3" r="2.45"/><circle cx="432.7" cy="141.3" r="2.45"/><circle cx="504.7" cy="113.7" r="2.45"/><circle cx="397.7" cy="157.7" r="2.45"/><circle cx="516.7" cy="105.3" r="2.45"/><circle cx="524.9" cy="96.1" r="2.45"/><circle cx="481.8" cy="122.9" r="2.45"/><circle cx="459.8" cy="128.1" r="2.45"/><circle cx="502.3" cy="113.2" r="2.45"/><circle cx="532.8" cy="100.8" r="2.45"/><circle cx="546.6" cy="84.5" r="2.45"/><circle cx="458.2" cy="131.0" r="2.45"/><circle cx="491.3" cy="115.5" r="2.45"/><circle cx="494.6" cy="121.0" r="2.45"/><circle cx="479.5" cy="125.5" r="2.45"/><circle cx="499.7" cy="110.7" r="2.45"/><circle cx="494.9" cy="108.5" r="2.45"/><circle cx="512.3" cy="106.7" r="2.45"/><circle cx="472.9" cy="129.1" r="2.45"/><circle cx="490.1" cy="117.3" r="2.45"/><circle cx="454.1" cy="134.8" r="2.45"/><circle cx="500.4" cy="111.2" r="2.45"/><circle cx="455.8" cy="133.2" r="2.45"/><circle cx="463.4" cy="124.4" r="2.45"/><circle cx="443.4" cy="137.9" r="2.45"/><circle cx="595.2" cy="64.0" r="2.45"/><circle cx="487.1" cy="118.4" r="2.45"/><circle cx="575.5" cy="75.1" r="2.45"/><circle cx="512.8" cy="105.1" r="2.45"/><circle cx="531.8" cy="93.7" r="2.45"/><circle cx="483.8" cy="123.6" r="2.45"/><circle cx="524.8" cy="106.2" r="2.45"/><circle cx="485.3" cy="121.6" r="2.45"/><circle cx="478.3" cy="121.4" r="2.45"/><circle cx="518.1" cy="104.9" r="2.45"/><circle cx="517.1" cy="107.7" r="2.45"/><circle cx="516.2" cy="104.9" r="2.45"/><circle cx="489.0" cy="120.7" r="2.45"/><circle cx="572.9" cy="77.7" r="2.45"/><circle cx="542.2" cy="89.9" r="2.45"/><circle cx="475.0" cy="123.7" r="2.45"/><circle cx="472.8" cy="128.8" r="2.45"/><circle cx="501.8" cy="112.6" r="2.45"/><circle cx="518.6" cy="98.1" r="2.45"/><circle cx="478.0" cy="122.7" r="2.45"/><circle cx="522.3" cy="103.0" r="2.45"/><circle cx="509.2" cy="107.5" r="2.45"/><circle cx="490.9" cy="116.1" r="2.45"/><circle cx="523.3" cy="100.0" r="2.45"/><circle cx="414.9" cy="148.4" r="2.45"/><circle cx="583.5" cy="72.1" r="2.45"/><circle cx="419.1" cy="147.7" r="2.45"/><circle cx="474.8" cy="133.7" r="2.45"/><circle cx="486.1" cy="118.6" r="2.45"/><circle cx="501.6" cy="115.1" r="2.45"/><circle cx="492.7" cy="112.1" r="2.45"/><circle cx="505.7" cy="111.8" r="2.45"/><circle cx="493.7" cy="115.3" r="2.45"/><circle cx="524.7" cy="96.9" r="2.45"/><circle cx="566.6" cy="82.6" r="2.45"/><circle cx="448.5" cy="137.4" r="2.45"/><circle cx="484.7" cy="118.5" r="2.45"/><circle cx="489.4" cy="119.3" r="2.45"/><circle cx="546.3" cy="89.4" r="2.45"/><circle cx="560.6" cy="75.7" r="2.45"/><circle cx="513.0" cy="96.3" r="2.45"/><circle cx="461.8" cy="137.3" r="2.45"/><circle cx="420.1" cy="149.7" r="2.45"/><circle cx="506.0" cy="108.7" r="2.45"/><circle cx="494.8" cy="116.1" r="2.45"/><circle cx="475.9" cy="128.7" r="2.45"/><circle cx="566.9" cy="80.6" r="2.45"/><circle cx="472.3" cy="128.4" r="2.45"/><circle cx="496.4" cy="115.5" r="2.45"/><circle cx="572.6" cy="76.2" r="2.45"/><circle cx="482.0" cy="118.4" r="2.45"/><circle cx="506.6" cy="113.8" r="2.45"/><circle cx="497.5" cy="119.3" r="2.45"/><circle cx="455.7" cy="133.8" r="2.45"/><circle cx="408.4" cy="146.2" r="2.45"/><circle cx="482.9" cy="119.2" r="2.45"/><circle cx="454.2" cy="129.8" r="2.45"/><circle cx="481.8" cy="116.3" r="2.45"/><circle cx="488.9" cy="118.9" r="2.45"/><circle cx="500.3" cy="117.4" r="2.45"/><circle cx="434.1" cy="141.4" r="2.45"/><circle cx="501.7" cy="107.6" r="2.45"/><circle cx="555.2" cy="82.8" r="2.45"/><circle cx="528.6" cy="105.8" r="2.45"/><circle cx="573.3" cy="77.6" r="2.45"/><circle cx="571.0" cy="72.8" r="2.45"/><circle cx="540.1" cy="95.1" r="2.45"/><circle cx="412.1" cy="149.6" r="2.45"/><circle cx="536.3" cy="92.2" r="2.45"/><circle cx="447.9" cy="143.9" r="2.45"/><circle cx="556.6" cy="80.3" r="2.45"/><circle cx="508.0" cy="108.9" r="2.45"/><circle cx="523.3" cy="99.2" r="2.45"/><circle cx="468.7" cy="127.4" r="2.45"/><circle cx="577.6" cy="74.2" r="2.45"/><circle cx="498.2" cy="112.1" r="2.45"/><circle cx="446.9" cy="135.5" r="2.45"/><circle cx="584.0" cy="74.4" r="2.45"/><circle cx="534.0" cy="95.0" r="2.45"/><circle cx="547.2" cy="91.2" r="2.45"/><circle cx="454.4" cy="131.4" r="2.45"/><circle cx="466.1" cy="132.7" r="2.45"/><circle cx="503.0" cy="113.2" r="2.45"/><circle cx="590.4" cy="67.4" r="2.45"/><circle cx="463.0" cy="132.1" r="2.45"/><circle cx="504.4" cy="107.4" r="2.45"/><circle cx="480.4" cy="124.3" r="2.45"/><circle cx="487.3" cy="124.4" r="2.45"/><circle cx="471.1" cy="131.7" r="2.45"/><circle cx="572.7" cy="79.3" r="2.45"/><circle cx="411.5" cy="149.4" r="2.45"/><circle cx="527.1" cy="85.5" r="2.45"/><circle cx="471.7" cy="126.6" r="2.45"/><circle cx="504.1" cy="115.6" r="2.45"/><circle cx="518.3" cy="101.6" r="2.45"/><circle cx="509.2" cy="107.8" r="2.45"/><circle cx="482.1" cy="126.3" r="2.45"/><circle cx="512.8" cy="102.4" r="2.45"/><circle cx="491.5" cy="116.7" r="2.45"/><circle cx="460.3" cy="130.7" r="2.45"/><circle cx="445.1" cy="138.9" r="2.45"/><circle cx="511.5" cy="111.4" r="2.45"/><circle cx="543.6" cy="82.2" r="2.45"/><circle cx="516.4" cy="106.6" r="2.45"/><circle cx="466.0" cy="128.4" r="2.45"/><circle cx="528.7" cy="92.4" r="2.45"/><circle cx="499.0" cy="115.5" r="2.45"/><circle cx="513.3" cy="103.7" r="2.45"/><circle cx="502.1" cy="116.7" r="2.45"/><circle cx="541.3" cy="95.6" r="2.45"/><circle cx="482.9" cy="119.6" r="2.45"/><circle cx="541.3" cy="96.6" r="2.45"/><circle cx="509.4" cy="110.7" r="2.45"/><circle cx="449.1" cy="139.6" r="2.45"/><circle cx="491.7" cy="122.1" r="2.45"/><circle cx="504.0" cy="110.8" r="2.45"/><circle cx="470.4" cy="119.9" r="2.45"/><circle cx="561.1" cy="80.9" r="2.45"/><circle cx="521.0" cy="107.8" r="2.45"/><circle cx="583.8" cy="71.6" r="2.45"/><circle cx="506.5" cy="110.6" r="2.45"/><circle cx="486.8" cy="117.1" r="2.45"/><circle cx="530.8" cy="99.9" r="2.45"/><circle cx="579.7" cy="78.8" r="2.45"/><circle cx="538.7" cy="87.3" r="2.45"/><circle cx="461.2" cy="131.7" r="2.45"/><circle cx="530.0" cy="95.5" r="2.45"/><circle cx="448.2" cy="136.2" r="2.45"/><circle cx="553.4" cy="87.5" r="2.45"/><circle cx="555.9" cy="86.1" r="2.45"/><circle cx="537.8" cy="91.7" r="2.45"/><circle cx="552.3" cy="84.7" r="2.45"/><circle cx="442.8" cy="137.3" r="2.45"/><circle cx="484.1" cy="120.6" r="2.45"/><circle cx="506.2" cy="107.1" r="2.45"/><circle cx="441.3" cy="145.6" r="2.45"/><circle cx="518.1" cy="105.4" r="2.45"/><circle cx="466.8" cy="128.5" r="2.45"/><circle cx="513.6" cy="108.9" r="2.45"/><circle cx="490.0" cy="124.0" r="2.45"/><circle cx="512.9" cy="107.6" r="2.45"/><circle cx="449.9" cy="137.6" r="2.45"/><circle cx="463.6" cy="124.9" r="2.45"/><circle cx="486.9" cy="119.9" r="2.45"/><circle cx="557.1" cy="82.2" r="2.45"/><circle cx="462.1" cy="125.1" r="2.45"/><circle cx="468.9" cy="130.1" r="2.45"/><circle cx="559.3" cy="90.7" r="2.45"/><circle cx="544.6" cy="88.4" r="2.45"/><circle cx="499.4" cy="115.7" r="2.45"/><circle cx="486.6" cy="118.4" r="2.45"/><circle cx="458.0" cy="129.6" r="2.45"/><circle cx="534.1" cy="93.8" r="2.45"/><circle cx="585.3" cy="72.2" r="2.45"/><circle cx="486.1" cy="124.7" r="2.45"/><circle cx="472.2" cy="122.8" r="2.45"/><circle cx="490.0" cy="116.9" r="2.45"/><circle cx="561.0" cy="82.9" r="2.45"/><circle cx="552.3" cy="86.5" r="2.45"/><circle cx="550.0" cy="84.6" r="2.45"/><circle cx="511.9" cy="107.1" r="2.45"/><circle cx="482.1" cy="119.9" r="2.45"/><circle cx="473.1" cy="116.7" r="2.45"/><circle cx="567.9" cy="84.2" r="2.45"/><circle cx="490.0" cy="119.1" r="2.45"/><circle cx="526.0" cy="102.7" r="2.45"/><circle cx="537.6" cy="97.4" r="2.45"/><circle cx="583.9" cy="72.3" r="2.45"/><circle cx="455.5" cy="128.5" r="2.45"/><circle cx="515.9" cy="105.4" r="2.45"/><circle cx="499.6" cy="110.4" r="2.45"/><circle cx="472.7" cy="125.6" r="2.45"/><circle cx="554.3" cy="86.3" r="2.45"/><circle cx="420.9" cy="147.5" r="2.45"/><circle cx="508.8" cy="101.1" r="2.45"/><circle cx="520.4" cy="104.8" r="2.45"/><circle cx="483.0" cy="125.9" r="2.45"/><circle cx="539.0" cy="94.7" r="2.45"/><circle cx="557.8" cy="82.3" r="2.45"/><circle cx="486.4" cy="116.3" r="2.45"/><circle cx="511.8" cy="109.5" r="2.45"/><circle cx="549.1" cy="87.0" r="2.45"/><circle cx="632.6" cy="55.5" r="2.45"/><circle cx="533.4" cy="100.7" r="2.45"/><circle cx="434.1" cy="143.2" r="2.45"/><circle cx="541.9" cy="88.2" r="2.45"/><circle cx="476.9" cy="116.9" r="2.45"/><circle cx="536.2" cy="99.8" r="2.45"/><circle cx="566.2" cy="77.3" r="2.45"/><circle cx="534.5" cy="102.6" r="2.45"/><circle cx="486.2" cy="124.1" r="2.45"/><circle cx="482.7" cy="126.4" r="2.45"/><circle cx="505.6" cy="113.1" r="2.45"/><circle cx="470.6" cy="123.8" r="2.45"/><circle cx="554.1" cy="90.9" r="2.45"/><circle cx="470.7" cy="121.9" r="2.45"/><circle cx="527.1" cy="96.2" r="2.45"/><circle cx="544.4" cy="84.3" r="2.45"/><circle cx="540.9" cy="90.5" r="2.45"/><circle cx="477.3" cy="125.2" r="2.45"/><circle cx="531.7" cy="96.1" r="2.45"/><circle cx="521.3" cy="104.6" r="2.45"/><circle cx="513.3" cy="105.5" r="2.45"/><circle cx="532.2" cy="91.8" r="2.45"/><circle cx="442.0" cy="137.5" r="2.45"/><circle cx="474.9" cy="121.4" r="2.45"/><circle cx="464.6" cy="120.1" r="2.45"/><circle cx="504.0" cy="112.0" r="2.45"/><circle cx="541.1" cy="86.7" r="2.45"/><circle cx="525.1" cy="91.8" r="2.45"/><circle cx="452.6" cy="133.7" r="2.45"/><circle cx="447.6" cy="134.1" r="2.45"/><circle cx="509.3" cy="106.2" r="2.45"/><circle cx="564.1" cy="81.3" r="2.45"/><circle cx="493.6" cy="115.9" r="2.45"/><circle cx="547.0" cy="93.0" r="2.45"/><circle cx="528.5" cy="101.2" r="2.45"/><circle cx="523.4" cy="100.7" r="2.45"/><circle cx="546.7" cy="93.4" r="2.45"/><circle cx="427.1" cy="144.0" r="2.45"/><circle cx="476.8" cy="115.4" r="2.45"/><circle cx="522.2" cy="106.3" r="2.45"/><circle cx="550.9" cy="83.3" r="2.45"/><circle cx="525.1" cy="106.2" r="2.45"/><circle cx="583.3" cy="71.7" r="2.45"/><circle cx="484.2" cy="124.6" r="2.45"/><circle cx="432.8" cy="141.5" r="2.45"/><circle cx="551.9" cy="86.9" r="2.45"/><circle cx="571.2" cy="74.9" r="2.45"/><circle cx="480.0" cy="119.3" r="2.45"/><circle cx="535.7" cy="93.3" r="2.45"/><circle cx="441.0" cy="141.1" r="2.45"/><circle cx="502.5" cy="116.5" r="2.45"/><circle cx="489.2" cy="115.9" r="2.45"/><circle cx="470.5" cy="124.5" r="2.45"/><circle cx="489.4" cy="114.5" r="2.45"/><circle cx="483.0" cy="116.3" r="2.45"/><circle cx="601.5" cy="67.2" r="2.45"/><circle cx="447.6" cy="131.5" r="2.45"/><circle cx="446.0" cy="131.5" r="2.45"/><circle cx="491.7" cy="117.8" r="2.45"/><circle cx="488.8" cy="118.4" r="2.45"/><circle cx="479.0" cy="113.6" r="2.45"/><circle cx="522.3" cy="103.8" r="2.45"/><circle cx="533.5" cy="103.4" r="2.45"/><circle cx="501.0" cy="112.0" r="2.45"/><circle cx="570.8" cy="78.5" r="2.45"/><circle cx="505.4" cy="113.4" r="2.45"/><circle cx="454.7" cy="133.9" r="2.45"/><circle cx="538.8" cy="96.6" r="2.45"/><circle cx="452.5" cy="135.2" r="2.45"/><circle cx="563.2" cy="73.6" r="2.45"/><circle cx="468.2" cy="127.0" r="2.45"/><circle cx="530.7" cy="93.1" r="2.45"/><circle cx="554.3" cy="84.3" r="2.45"/><circle cx="529.3" cy="96.4" r="2.45"/><circle cx="477.9" cy="116.2" r="2.45"/><circle cx="421.7" cy="148.3" r="2.45"/><circle cx="596.8" cy="70.5" r="2.45"/><circle cx="554.4" cy="86.5" r="2.45"/><circle cx="476.5" cy="136.7" r="2.45"/><circle cx="497.7" cy="115.0" r="2.45"/><circle cx="508.4" cy="110.0" r="2.45"/><circle cx="467.7" cy="132.2" r="2.45"/><circle cx="541.0" cy="89.6" r="2.45"/><circle cx="566.3" cy="76.5" r="2.45"/><circle cx="536.8" cy="94.3" r="2.45"/><circle cx="521.0" cy="100.0" r="2.45"/><circle cx="527.6" cy="94.5" r="2.45"/><circle cx="488.5" cy="111.4" r="2.45"/><circle cx="547.9" cy="86.4" r="2.45"/><circle cx="512.0" cy="115.0" r="2.45"/><circle cx="547.7" cy="77.4" r="2.45"/><circle cx="571.7" cy="81.2" r="2.45"/><circle cx="482.9" cy="133.1" r="2.45"/><circle cx="427.3" cy="145.2" r="2.45"/><circle cx="485.5" cy="110.8" r="2.45"/><circle cx="548.7" cy="86.1" r="2.45"/><circle cx="496.2" cy="126.4" r="2.45"/><circle cx="517.2" cy="107.4" r="2.45"/><circle cx="524.5" cy="95.5" r="2.45"/><circle cx="439.1" cy="136.6" r="2.45"/><circle cx="534.7" cy="93.4" r="2.45"/><circle cx="442.9" cy="140.0" r="2.45"/><circle cx="532.0" cy="100.8" r="2.45"/><circle cx="437.0" cy="135.6" r="2.45"/><circle cx="512.4" cy="105.9" r="2.45"/><circle cx="488.8" cy="114.7" r="2.45"/><circle cx="498.7" cy="114.0" r="2.45"/><circle cx="484.0" cy="120.9" r="2.45"/><circle cx="458.3" cy="137.5" r="2.45"/><circle cx="538.2" cy="92.2" r="2.45"/><circle cx="523.6" cy="97.6" r="2.45"/><circle cx="556.7" cy="84.5" r="2.45"/><circle cx="504.0" cy="115.8" r="2.45"/><circle cx="533.2" cy="97.7" r="2.45"/><circle cx="449.4" cy="134.5" r="2.45"/><circle cx="525.5" cy="99.5" r="2.45"/><circle cx="557.8" cy="85.0" r="2.45"/><circle cx="418.5" cy="148.9" r="2.45"/><circle cx="520.5" cy="103.4" r="2.45"/><circle cx="499.9" cy="110.6" r="2.45"/><circle cx="531.1" cy="97.2" r="2.45"/><circle cx="524.3" cy="106.2" r="2.45"/><circle cx="515.7" cy="102.7" r="2.45"/><circle cx="566.9" cy="81.7" r="2.45"/><circle cx="490.8" cy="115.0" r="2.45"/><circle cx="448.6" cy="135.1" r="2.45"/><circle cx="563.7" cy="77.3" r="2.45"/><circle cx="544.0" cy="93.7" r="2.45"/><circle cx="561.5" cy="79.1" r="2.45"/><circle cx="431.7" cy="137.4" r="2.45"/><circle cx="563.8" cy="80.2" r="2.45"/><circle cx="533.7" cy="97.4" r="2.45"/><circle cx="502.4" cy="119.0" r="2.45"/><circle cx="499.7" cy="114.3" r="2.45"/><circle cx="503.2" cy="113.8" r="2.45"/><circle cx="498.6" cy="110.9" r="2.45"/><circle cx="543.8" cy="89.5" r="2.45"/><circle cx="539.3" cy="94.0" r="2.45"/><circle cx="559.5" cy="82.9" r="2.45"/><circle cx="470.4" cy="127.4" r="2.45"/><circle cx="485.0" cy="117.2" r="2.45"/><circle cx="567.7" cy="80.1" r="2.45"/><circle cx="493.7" cy="121.7" r="2.45"/><circle cx="523.9" cy="99.9" r="2.45"/><circle cx="525.1" cy="103.4" r="2.45"/><circle cx="448.7" cy="136.6" r="2.45"/><circle cx="535.2" cy="85.9" r="2.45"/><circle cx="548.9" cy="88.4" r="2.45"/><circle cx="452.8" cy="131.7" r="2.45"/><circle cx="489.2" cy="119.3" r="2.45"/><circle cx="442.5" cy="135.9" r="2.45"/><circle cx="499.7" cy="114.6" r="2.45"/><circle cx="581.7" cy="69.6" r="2.45"/><circle cx="462.3" cy="127.1" r="2.45"/><circle cx="457.9" cy="126.3" r="2.45"/><circle cx="521.1" cy="102.6" r="2.45"/><circle cx="528.0" cy="96.5" r="2.45"/><circle cx="495.8" cy="114.6" r="2.45"/><circle cx="535.1" cy="100.6" r="2.45"/><circle cx="437.2" cy="137.7" r="2.45"/><circle cx="535.7" cy="97.5" r="2.45"/><circle cx="480.1" cy="122.0" r="2.45"/><circle cx="570.3" cy="78.2" r="2.45"/><circle cx="546.5" cy="102.6" r="2.45"/><circle cx="546.5" cy="88.5" r="2.45"/><circle cx="541.5" cy="90.7" r="2.45"/><circle cx="535.1" cy="91.8" r="2.45"/><circle cx="423.8" cy="142.7" r="2.45"/><circle cx="456.1" cy="131.9" r="2.45"/><circle cx="488.6" cy="118.4" r="2.45"/><circle cx="451.1" cy="136.4" r="2.45"/><circle cx="663.4" cy="51.6" r="2.45"/><circle cx="514.3" cy="107.3" r="2.45"/><circle cx="472.3" cy="122.2" r="2.45"/><circle cx="542.7" cy="88.3" r="2.45"/><circle cx="630.1" cy="51.2" r="2.45"/><circle cx="438.2" cy="146.8" r="2.45"/><circle cx="508.2" cy="109.5" r="2.45"/><circle cx="498.8" cy="114.2" r="2.45"/><circle cx="573.6" cy="73.9" r="2.45"/><circle cx="565.5" cy="82.5" r="2.45"/><circle cx="546.3" cy="92.1" r="2.45"/><circle cx="502.0" cy="106.6" r="2.45"/><circle cx="546.2" cy="89.9" r="2.45"/><circle cx="453.7" cy="135.5" r="2.45"/><circle cx="469.8" cy="127.4" r="2.45"/><circle cx="487.9" cy="115.6" r="2.45"/><circle cx="501.5" cy="113.7" r="2.45"/><circle cx="438.0" cy="143.3" r="2.45"/><circle cx="548.3" cy="87.8" r="2.45"/><circle cx="498.9" cy="119.8" r="2.45"/><circle cx="466.3" cy="123.8" r="2.45"/><circle cx="472.0" cy="126.4" r="2.45"/><circle cx="493.6" cy="120.0" r="2.45"/><circle cx="471.2" cy="128.1" r="2.45"/><circle cx="427.5" cy="144.3" r="2.45"/><circle cx="509.0" cy="103.3" r="2.45"/><circle cx="580.0" cy="77.9" r="2.45"/><circle cx="556.7" cy="80.9" r="2.45"/><circle cx="573.1" cy="75.2" r="2.45"/><circle cx="487.3" cy="120.4" r="2.45"/><circle cx="546.4" cy="84.1" r="2.45"/><circle cx="456.6" cy="127.6" r="2.45"/><circle cx="497.9" cy="114.1" r="2.45"/><circle cx="408.4" cy="151.3" r="2.45"/><circle cx="530.0" cy="95.4" r="2.45"/><circle cx="518.7" cy="102.5" r="2.45"/><circle cx="508.8" cy="102.3" r="2.45"/><circle cx="572.8" cy="79.5" r="2.45"/><circle cx="473.0" cy="124.1" r="2.45"/><circle cx="595.3" cy="66.1" r="2.45"/><circle cx="560.5" cy="85.3" r="2.45"/><circle cx="487.1" cy="117.0" r="2.45"/><circle cx="493.1" cy="119.1" r="2.45"/><circle cx="499.0" cy="111.6" r="2.45"/><circle cx="512.1" cy="102.6" r="2.45"/><circle cx="535.9" cy="95.4" r="2.45"/><circle cx="473.5" cy="120.5" r="2.45"/><circle cx="502.3" cy="110.2" r="2.45"/><circle cx="447.9" cy="132.6" r="2.45"/><circle cx="488.0" cy="117.7" r="2.45"/><circle cx="583.2" cy="75.0" r="2.45"/><circle cx="558.3" cy="85.2" r="2.45"/><circle cx="564.2" cy="78.8" r="2.45"/><circle cx="540.8" cy="91.9" r="2.45"/><circle cx="552.3" cy="86.3" r="2.45"/><circle cx="460.7" cy="130.4" r="2.45"/><circle cx="527.0" cy="89.7" r="2.45"/><circle cx="483.4" cy="127.0" r="2.45"/><circle cx="482.5" cy="120.3" r="2.45"/><circle cx="512.8" cy="120.3" r="2.45"/><circle cx="495.2" cy="122.2" r="2.45"/><circle cx="500.0" cy="111.7" r="2.45"/><circle cx="556.1" cy="83.1" r="2.45"/><circle cx="462.5" cy="129.4" r="2.45"/><circle cx="479.0" cy="122.2" r="2.45"/><circle cx="471.7" cy="125.1" r="2.45"/><circle cx="500.5" cy="114.6" r="2.45"/><circle cx="454.9" cy="130.2" r="2.45"/><circle cx="541.3" cy="98.3" r="2.45"/><circle cx="464.7" cy="124.4" r="2.45"/><circle cx="540.7" cy="87.5" r="2.45"/><circle cx="549.2" cy="90.7" r="2.45"/><circle cx="495.7" cy="116.4" r="2.45"/><circle cx="518.7" cy="98.3" r="2.45"/><circle cx="512.2" cy="111.7" r="2.45"/><circle cx="571.3" cy="81.7" r="2.45"/><circle cx="441.2" cy="137.5" r="2.45"/><circle cx="568.4" cy="77.8" r="2.45"/><circle cx="523.7" cy="102.1" r="2.45"/><circle cx="457.5" cy="128.4" r="2.45"/><circle cx="456.8" cy="131.0" r="2.45"/><circle cx="448.5" cy="138.8" r="2.45"/><circle cx="584.1" cy="70.2" r="2.45"/><circle cx="560.6" cy="79.9" r="2.45"/><circle cx="578.8" cy="83.8" r="2.45"/><circle cx="500.2" cy="112.5" r="2.45"/><circle cx="443.4" cy="133.4" r="2.45"/><circle cx="459.0" cy="138.3" r="2.45"/><circle cx="459.3" cy="140.4" r="2.45"/><circle cx="496.7" cy="112.1" r="2.45"/><circle cx="457.0" cy="135.0" r="2.45"/><circle cx="509.3" cy="111.2" r="2.45"/><circle cx="467.3" cy="128.7" r="2.45"/><circle cx="495.4" cy="119.4" r="2.45"/><circle cx="487.6" cy="121.8" r="2.45"/><circle cx="476.1" cy="121.5" r="2.45"/><circle cx="491.6" cy="114.6" r="2.45"/><circle cx="540.2" cy="87.0" r="2.45"/><circle cx="553.0" cy="85.9" r="2.45"/><circle cx="539.2" cy="87.1" r="2.45"/><circle cx="483.5" cy="130.0" r="2.45"/><circle cx="509.7" cy="110.7" r="2.45"/><circle cx="558.2" cy="82.6" r="2.45"/><circle cx="508.5" cy="117.2" r="2.45"/><circle cx="463.2" cy="131.6" r="2.45"/><circle cx="455.5" cy="135.6" r="2.45"/><circle cx="533.7" cy="88.2" r="2.45"/><circle cx="502.2" cy="109.2" r="2.45"/><circle cx="541.6" cy="90.2" r="2.45"/><circle cx="559.7" cy="83.6" r="2.45"/><circle cx="402.7" cy="155.0" r="2.45"/><circle cx="506.2" cy="113.6" r="2.45"/><circle cx="574.8" cy="78.8" r="2.45"/><circle cx="520.9" cy="107.2" r="2.45"/><circle cx="514.9" cy="100.3" r="2.45"/><circle cx="495.2" cy="117.3" r="2.45"/><circle cx="539.8" cy="91.4" r="2.45"/><circle cx="440.0" cy="136.4" r="2.45"/><circle cx="571.0" cy="79.9" r="2.45"/><circle cx="461.1" cy="134.9" r="2.45"/><circle cx="490.9" cy="118.5" r="2.45"/><circle cx="568.3" cy="81.4" r="2.45"/><circle cx="460.8" cy="134.4" r="2.45"/><circle cx="450.3" cy="122.9" r="2.45"/><circle cx="582.9" cy="75.3" r="2.45"/><circle cx="579.4" cy="72.1" r="2.45"/><circle cx="535.7" cy="92.4" r="2.45"/><circle cx="445.4" cy="131.8" r="2.45"/><circle cx="546.4" cy="91.4" r="2.45"/><circle cx="549.1" cy="99.5" r="2.45"/><circle cx="487.6" cy="121.9" r="2.45"/><circle cx="559.7" cy="80.6" r="2.45"/><circle cx="539.8" cy="95.8" r="2.45"/><circle cx="575.5" cy="76.0" r="2.45"/><circle cx="498.4" cy="112.3" r="2.45"/><circle cx="503.4" cy="115.9" r="2.45"/><circle cx="527.9" cy="89.2" r="2.45"/><circle cx="545.2" cy="87.6" r="2.45"/><circle cx="508.5" cy="113.5" r="2.45"/><circle cx="538.0" cy="96.4" r="2.45"/><circle cx="457.4" cy="123.3" r="2.45"/><circle cx="499.2" cy="106.2" r="2.45"/><circle cx="507.6" cy="115.4" r="2.45"/><circle cx="461.2" cy="132.3" r="2.45"/><circle cx="509.0" cy="114.0" r="2.45"/><circle cx="548.9" cy="101.3" r="2.45"/><circle cx="631.6" cy="76.7" r="2.45"/><circle cx="589.0" cy="69.6" r="2.45"/><circle cx="531.6" cy="95.2" r="2.45"/><circle cx="535.6" cy="100.7" r="2.45"/><circle cx="571.2" cy="85.1" r="2.45"/><circle cx="531.7" cy="110.6" r="2.45"/><circle cx="445.4" cy="135.9" r="2.45"/><circle cx="519.6" cy="103.6" r="2.45"/><circle cx="498.7" cy="105.5" r="2.45"/><circle cx="519.4" cy="109.8" r="2.45"/><circle cx="532.6" cy="96.5" r="2.45"/><circle cx="544.5" cy="92.2" r="2.45"/><circle cx="559.3" cy="84.4" r="2.45"/><circle cx="528.2" cy="98.8" r="2.45"/><circle cx="536.3" cy="96.6" r="2.45"/><circle cx="521.2" cy="103.0" r="2.45"/><circle cx="488.5" cy="119.9" r="2.45"/><circle cx="530.3" cy="98.3" r="2.45"/><circle cx="465.9" cy="128.5" r="2.45"/><circle cx="551.3" cy="85.6" r="2.45"/><circle cx="512.6" cy="110.0" r="2.45"/><circle cx="451.4" cy="135.3" r="2.45"/><circle cx="518.6" cy="110.3" r="2.45"/><circle cx="542.5" cy="93.6" r="2.45"/><circle cx="468.5" cy="129.9" r="2.45"/><circle cx="481.6" cy="122.1" r="2.45"/><circle cx="512.8" cy="107.3" r="2.45"/><circle cx="500.8" cy="110.2" r="2.45"/><circle cx="473.4" cy="121.3" r="2.45"/><circle cx="601.2" cy="67.9" r="2.45"/><circle cx="648.1" cy="69.7" r="2.45"/><circle cx="500.9" cy="113.1" r="2.45"/><circle cx="472.4" cy="121.2" r="2.45"/><circle cx="498.1" cy="111.8" r="2.45"/><circle cx="464.8" cy="133.9" r="2.45"/><circle cx="556.9" cy="82.6" r="2.45"/><circle cx="503.1" cy="110.6" r="2.45"/><circle cx="476.2" cy="122.4" r="2.45"/><circle cx="507.0" cy="115.1" r="2.45"/><circle cx="574.6" cy="82.1" r="2.45"/><circle cx="499.7" cy="107.7" r="2.45"/><circle cx="504.6" cy="108.8" r="2.45"/><circle cx="432.6" cy="136.7" r="2.45"/><circle cx="531.0" cy="98.9" r="2.45"/><circle cx="527.3" cy="101.4" r="2.45"/><circle cx="488.5" cy="115.9" r="2.45"/><circle cx="540.8" cy="96.6" r="2.45"/><circle cx="542.5" cy="94.1" r="2.45"/><circle cx="487.8" cy="117.8" r="2.45"/><circle cx="423.7" cy="145.3" r="2.45"/><circle cx="502.0" cy="111.2" r="2.45"/><circle cx="421.8" cy="146.3" r="2.45"/><circle cx="542.0" cy="89.9" r="2.45"/><circle cx="473.5" cy="118.5" r="2.45"/><circle cx="471.6" cy="123.2" r="2.45"/><circle cx="657.4" cy="62.7" r="2.45"/><circle cx="528.1" cy="102.7" r="2.45"/><circle cx="505.7" cy="115.1" r="2.45"/><circle cx="545.0" cy="94.0" r="2.45"/><circle cx="568.2" cy="76.4" r="2.45"/><circle cx="434.8" cy="141.0" r="2.45"/><circle cx="524.5" cy="100.5" r="2.45"/><circle cx="541.9" cy="104.7" r="2.45"/><circle cx="571.4" cy="77.6" r="2.45"/><circle cx="549.6" cy="84.4" r="2.45"/><circle cx="490.8" cy="118.7" r="2.45"/><circle cx="549.7" cy="88.1" r="2.45"/><circle cx="562.1" cy="93.3" r="2.45"/><circle cx="539.5" cy="89.1" r="2.45"/><circle cx="497.9" cy="114.5" r="2.45"/><circle cx="458.7" cy="130.5" r="2.45"/><circle cx="466.2" cy="131.2" r="2.45"/><circle cx="464.8" cy="128.6" r="2.45"/><circle cx="463.9" cy="126.6" r="2.45"/><circle cx="497.6" cy="116.5" r="2.45"/><circle cx="497.1" cy="114.5" r="2.45"/><circle cx="460.2" cy="133.3" r="2.45"/><circle cx="505.6" cy="112.6" r="2.45"/><circle cx="455.7" cy="132.8" r="2.45"/><circle cx="479.9" cy="120.4" r="2.45"/><circle cx="435.9" cy="140.3" r="2.45"/><circle cx="539.5" cy="89.1" r="2.45"/><circle cx="467.4" cy="124.9" r="2.45"/><circle cx="464.5" cy="123.0" r="2.45"/><circle cx="514.2" cy="106.6" r="2.45"/><circle cx="540.0" cy="94.8" r="2.45"/><circle cx="511.0" cy="113.4" r="2.45"/><circle cx="472.3" cy="126.2" r="2.45"/><circle cx="526.2" cy="107.2" r="2.45"/><circle cx="551.4" cy="80.9" r="2.45"/><circle cx="570.4" cy="79.5" r="2.45"/><circle cx="507.4" cy="113.8" r="2.45"/><circle cx="465.3" cy="124.6" r="2.45"/><circle cx="500.9" cy="108.5" r="2.45"/><circle cx="463.8" cy="128.4" r="2.45"/><circle cx="518.6" cy="100.2" r="2.45"/><circle cx="554.4" cy="78.1" r="2.45"/><circle cx="532.0" cy="95.2" r="2.45"/><circle cx="478.1" cy="123.9" r="2.45"/><circle cx="454.3" cy="137.1" r="2.45"/><circle cx="473.6" cy="120.6" r="2.45"/><circle cx="460.0" cy="134.2" r="2.45"/><circle cx="509.9" cy="107.1" r="2.45"/><circle cx="433.4" cy="141.3" r="2.45"/><circle cx="569.2" cy="71.9" r="2.45"/><circle cx="558.2" cy="81.2" r="2.45"/><circle cx="451.6" cy="135.5" r="2.45"/><circle cx="444.5" cy="136.1" r="2.45"/><circle cx="475.9" cy="125.1" r="2.45"/><circle cx="442.6" cy="138.4" r="2.45"/><circle cx="489.5" cy="108.6" r="2.45"/><circle cx="479.2" cy="133.2" r="2.45"/><circle cx="501.8" cy="115.3" r="2.45"/><circle cx="575.4" cy="76.6" r="2.45"/><circle cx="506.6" cy="107.4" r="2.45"/><circle cx="473.5" cy="127.4" r="2.45"/><circle cx="486.5" cy="114.7" r="2.45"/><circle cx="538.5" cy="90.7" r="2.45"/><circle cx="421.5" cy="147.3" r="2.45"/><circle cx="527.9" cy="103.5" r="2.45"/><circle cx="474.9" cy="121.6" r="2.45"/><circle cx="475.9" cy="130.1" r="2.45"/><circle cx="515.1" cy="104.9" r="2.45"/><circle cx="575.1" cy="75.9" r="2.45"/><circle cx="567.9" cy="78.5" r="2.45"/><circle cx="462.1" cy="134.2" r="2.45"/><circle cx="506.8" cy="116.9" r="2.45"/><circle cx="444.8" cy="133.4" r="2.45"/><circle cx="496.9" cy="106.6" r="2.45"/><circle cx="544.9" cy="88.9" r="2.45"/><circle cx="508.8" cy="110.5" r="2.45"/><circle cx="510.1" cy="108.5" r="2.45"/><circle cx="492.3" cy="119.3" r="2.45"/><circle cx="522.3" cy="95.8" r="2.45"/><circle cx="522.1" cy="98.3" r="2.45"/><circle cx="529.4" cy="99.4" r="2.45"/><circle cx="536.6" cy="94.3" r="2.45"/><circle cx="557.4" cy="99.5" r="2.45"/><circle cx="440.6" cy="138.8" r="2.45"/><circle cx="476.4" cy="122.9" r="2.45"/><circle cx="481.4" cy="125.1" r="2.45"/><circle cx="446.0" cy="134.2" r="2.45"/><circle cx="565.6" cy="78.1" r="2.45"/><circle cx="453.6" cy="129.2" r="2.45"/><circle cx="471.3" cy="123.9" r="2.45"/><circle cx="445.0" cy="131.9" r="2.45"/><circle cx="487.8" cy="120.5" r="2.45"/><circle cx="510.7" cy="109.3" r="2.45"/><circle cx="508.9" cy="107.9" r="2.45"/><circle cx="518.2" cy="98.1" r="2.45"/><circle cx="555.8" cy="79.0" r="2.45"/><circle cx="460.4" cy="127.8" r="2.45"/><circle cx="556.0" cy="79.9" r="2.45"/><circle cx="525.8" cy="97.3" r="2.45"/><circle cx="426.3" cy="141.8" r="2.45"/><circle cx="443.4" cy="139.6" r="2.45"/><circle cx="485.3" cy="124.0" r="2.45"/><circle cx="569.7" cy="77.3" r="2.45"/><circle cx="562.9" cy="77.6" r="2.45"/><circle cx="543.1" cy="91.4" r="2.45"/><circle cx="601.4" cy="66.2" r="2.45"/><circle cx="547.5" cy="86.8" r="2.45"/><circle cx="523.4" cy="104.0" r="2.45"/><circle cx="474.0" cy="131.6" r="2.45"/><circle cx="535.6" cy="94.4" r="2.45"/><circle cx="561.0" cy="84.4" r="2.45"/><circle cx="499.0" cy="113.0" r="2.45"/><circle cx="497.9" cy="112.2" r="2.45"/><circle cx="487.6" cy="112.3" r="2.45"/><circle cx="498.8" cy="111.3" r="2.45"/><circle cx="457.2" cy="134.1" r="2.45"/><circle cx="467.0" cy="128.1" r="2.45"/><circle cx="426.2" cy="142.2" r="2.45"/><circle cx="442.3" cy="139.6" r="2.45"/><circle cx="459.2" cy="130.8" r="2.45"/><circle cx="445.8" cy="136.7" r="2.45"/><circle cx="583.5" cy="74.9" r="2.45"/><circle cx="457.2" cy="129.8" r="2.45"/><circle cx="543.0" cy="84.0" r="2.45"/><circle cx="522.3" cy="98.5" r="2.45"/><circle cx="512.7" cy="109.3" r="2.45"/><circle cx="524.6" cy="101.8" r="2.45"/><circle cx="532.9" cy="95.5" r="2.45"/><circle cx="476.4" cy="121.0" r="2.45"/><circle cx="518.5" cy="103.6" r="2.45"/><circle cx="574.5" cy="77.5" r="2.45"/><circle cx="494.7" cy="124.3" r="2.45"/><circle cx="564.1" cy="77.8" r="2.45"/><circle cx="499.4" cy="115.3" r="2.45"/><circle cx="531.3" cy="92.3" r="2.45"/><circle cx="571.9" cy="77.9" r="2.45"/><circle cx="446.7" cy="135.0" r="2.45"/><circle cx="559.7" cy="80.3" r="2.45"/><circle cx="505.9" cy="108.0" r="2.45"/><circle cx="557.9" cy="79.1" r="2.45"/><circle cx="637.0" cy="58.8" r="2.45"/><circle cx="498.2" cy="112.7" r="2.45"/><circle cx="472.0" cy="124.3" r="2.45"/><circle cx="551.9" cy="80.7" r="2.45"/><circle cx="526.1" cy="95.0" r="2.45"/><circle cx="483.9" cy="123.1" r="2.45"/><circle cx="520.8" cy="109.5" r="2.45"/><circle cx="582.0" cy="72.3" r="2.45"/><circle cx="537.5" cy="93.6" r="2.45"/><circle cx="556.2" cy="82.7" r="2.45"/><circle cx="432.7" cy="142.3" r="2.45"/><circle cx="459.5" cy="131.5" r="2.45"/><circle cx="531.8" cy="110.5" r="2.45"/><circle cx="435.6" cy="143.6" r="2.45"/><circle cx="497.6" cy="117.4" r="2.45"/><circle cx="520.9" cy="97.8" r="2.45"/><circle cx="479.3" cy="121.9" r="2.45"/><circle cx="514.2" cy="101.6" r="2.45"/><circle cx="483.5" cy="111.3" r="2.45"/><circle cx="533.6" cy="100.3" r="2.45"/><circle cx="492.2" cy="120.9" r="2.45"/><circle cx="472.6" cy="126.8" r="2.45"/><circle cx="535.7" cy="88.0" r="2.45"/><circle cx="458.3" cy="126.6" r="2.45"/><circle cx="487.4" cy="122.6" r="2.45"/><circle cx="472.1" cy="125.2" r="2.45"/><circle cx="531.4" cy="94.1" r="2.45"/><circle cx="540.4" cy="86.9" r="2.45"/><circle cx="509.0" cy="105.4" r="2.45"/><circle cx="547.3" cy="92.1" r="2.45"/><circle cx="534.3" cy="94.2" r="2.45"/><circle cx="535.2" cy="85.6" r="2.45"/><circle cx="549.2" cy="82.7" r="2.45"/><circle cx="528.0" cy="100.3" r="2.45"/><circle cx="460.1" cy="131.0" r="2.45"/><circle cx="465.5" cy="134.4" r="2.45"/><circle cx="429.2" cy="144.1" r="2.45"/><circle cx="451.1" cy="128.4" r="2.45"/><circle cx="448.6" cy="136.2" r="2.45"/><circle cx="584.6" cy="70.6" r="2.45"/><circle cx="526.1" cy="91.3" r="2.45"/><circle cx="497.4" cy="107.9" r="2.45"/><circle cx="442.4" cy="135.4" r="2.45"/><circle cx="518.4" cy="102.2" r="2.45"/><circle cx="556.0" cy="86.9" r="2.45"/><circle cx="420.8" cy="147.1" r="2.45"/><circle cx="562.5" cy="82.9" r="2.45"/><circle cx="486.8" cy="124.1" r="2.45"/><circle cx="519.2" cy="106.9" r="2.45"/><circle cx="499.6" cy="116.3" r="2.45"/><circle cx="453.6" cy="135.0" r="2.45"/><circle cx="572.1" cy="78.8" r="2.45"/><circle cx="507.6" cy="106.4" r="2.45"/><circle cx="513.4" cy="107.2" r="2.45"/><circle cx="515.8" cy="110.8" r="2.45"/><circle cx="423.4" cy="145.6" r="2.45"/><circle cx="514.4" cy="98.1" r="2.45"/><circle cx="516.0" cy="102.4" r="2.45"/><circle cx="473.1" cy="125.5" r="2.45"/><circle cx="466.4" cy="126.4" r="2.45"/><circle cx="497.3" cy="115.2" r="2.45"/><circle cx="462.1" cy="130.1" r="2.45"/><circle cx="530.0" cy="102.4" r="2.45"/><circle cx="555.7" cy="82.1" r="2.45"/><circle cx="512.3" cy="108.8" r="2.45"/><circle cx="494.5" cy="116.0" r="2.45"/><circle cx="504.8" cy="107.3" r="2.45"/><circle cx="508.9" cy="108.0" r="2.45"/><circle cx="448.3" cy="136.3" r="2.45"/><circle cx="468.8" cy="123.7" r="2.45"/><circle cx="519.9" cy="101.6" r="2.45"/><circle cx="506.7" cy="107.2" r="2.45"/><circle cx="445.4" cy="133.4" r="2.45"/><circle cx="534.1" cy="93.4" r="2.45"/><circle cx="470.5" cy="127.2" r="2.45"/><circle cx="532.7" cy="96.3" r="2.45"/><circle cx="535.0" cy="92.9" r="2.45"/><circle cx="582.7" cy="72.1" r="2.45"/><circle cx="503.8" cy="116.1" r="2.45"/><circle cx="520.0" cy="100.4" r="2.45"/><circle cx="440.4" cy="139.2" r="2.45"/><circle cx="491.3" cy="120.6" r="2.45"/><circle cx="508.5" cy="113.5" r="2.45"/><circle cx="474.8" cy="117.0" r="2.45"/><circle cx="596.7" cy="64.8" r="2.45"/><circle cx="541.5" cy="103.8" r="2.45"/><circle cx="441.6" cy="134.4" r="2.45"/><circle cx="472.6" cy="119.4" r="2.45"/><circle cx="581.3" cy="72.1" r="2.45"/><circle cx="538.4" cy="95.0" r="2.45"/><circle cx="436.2" cy="143.7" r="2.45"/><circle cx="509.3" cy="104.0" r="2.45"/><circle cx="544.2" cy="87.9" r="2.45"/><circle cx="454.9" cy="129.4" r="2.45"/><circle cx="445.7" cy="138.4" r="2.45"/><circle cx="548.9" cy="91.5" r="2.45"/><circle cx="422.7" cy="144.7" r="2.45"/><circle cx="437.1" cy="140.8" r="2.45"/><circle cx="464.9" cy="125.9" r="2.45"/><circle cx="528.9" cy="98.8" r="2.45"/><circle cx="521.2" cy="105.9" r="2.45"/><circle cx="505.2" cy="115.4" r="2.45"/><circle cx="435.0" cy="141.1" r="2.45"/><circle cx="498.2" cy="112.5" r="2.45"/><circle cx="524.7" cy="103.3" r="2.45"/><circle cx="451.0" cy="133.0" r="2.45"/><circle cx="468.0" cy="125.7" r="2.45"/><circle cx="482.4" cy="123.4" r="2.45"/><circle cx="523.8" cy="106.1" r="2.45"/><circle cx="536.5" cy="99.4" r="2.45"/><circle cx="499.9" cy="108.9" r="2.45"/><circle cx="563.6" cy="85.3" r="2.45"/><circle cx="463.5" cy="127.7" r="2.45"/><circle cx="459.2" cy="126.6" r="2.45"/><circle cx="432.2" cy="138.7" r="2.45"/><circle cx="571.6" cy="76.7" r="2.45"/><circle cx="487.9" cy="115.9" r="2.45"/><circle cx="460.8" cy="135.3" r="2.45"/><circle cx="481.6" cy="119.1" r="2.45"/><circle cx="477.4" cy="125.1" r="2.45"/><circle cx="571.4" cy="82.7" r="2.45"/><circle cx="561.9" cy="83.4" r="2.45"/><circle cx="506.4" cy="111.9" r="2.45"/><circle cx="548.6" cy="89.5" r="2.45"/><circle cx="437.0" cy="140.1" r="2.45"/><circle cx="544.1" cy="86.6" r="2.45"/><circle cx="542.8" cy="95.0" r="2.45"/><circle cx="537.8" cy="97.9" r="2.45"/><circle cx="486.6" cy="117.7" r="2.45"/><circle cx="540.4" cy="93.3" r="2.45"/><circle cx="513.8" cy="97.6" r="2.45"/><circle cx="457.8" cy="137.9" r="2.45"/><circle cx="542.6" cy="95.9" r="2.45"/><circle cx="559.0" cy="85.7" r="2.45"/><circle cx="561.8" cy="80.1" r="2.45"/><circle cx="615.3" cy="68.3" r="2.45"/><circle cx="528.3" cy="101.7" r="2.45"/><circle cx="437.1" cy="135.4" r="2.45"/><circle cx="590.5" cy="68.1" r="2.45"/><circle cx="523.8" cy="102.1" r="2.45"/><circle cx="459.7" cy="124.0" r="2.45"/><circle cx="527.7" cy="100.6" r="2.45"/><circle cx="535.1" cy="90.7" r="2.45"/><circle cx="531.4" cy="96.3" r="2.45"/><circle cx="462.9" cy="125.1" r="2.45"/><circle cx="483.8" cy="112.9" r="2.45"/><circle cx="451.8" cy="132.1" r="2.45"/><circle cx="495.6" cy="119.5" r="2.45"/><circle cx="492.5" cy="121.7" r="2.45"/><circle cx="538.9" cy="96.8" r="2.45"/><circle cx="463.3" cy="141.6" r="2.45"/><circle cx="512.6" cy="101.2" r="2.45"/><circle cx="399.7" cy="154.6" r="2.45"/><circle cx="553.7" cy="85.7" r="2.45"/><circle cx="468.6" cy="127.7" r="2.45"/><circle cx="567.7" cy="82.6" r="2.45"/><circle cx="469.9" cy="126.9" r="2.45"/><circle cx="513.2" cy="98.6" r="2.45"/><circle cx="416.0" cy="149.0" r="2.45"/><circle cx="556.2" cy="83.5" r="2.45"/><circle cx="580.9" cy="72.7" r="2.45"/><circle cx="454.2" cy="127.5" r="2.45"/><circle cx="593.0" cy="70.2" r="2.45"/><circle cx="537.4" cy="90.7" r="2.45"/><circle cx="582.2" cy="71.9" r="2.45"/><circle cx="514.0" cy="112.6" r="2.45"/><circle cx="445.5" cy="137.8" r="2.45"/><circle cx="551.3" cy="81.8" r="2.45"/><circle cx="445.8" cy="136.8" r="2.45"/><circle cx="544.0" cy="88.8" r="2.45"/><circle cx="531.8" cy="92.4" r="2.45"/><circle cx="520.0" cy="103.5" r="2.45"/><circle cx="548.0" cy="89.1" r="2.45"/><circle cx="444.7" cy="135.6" r="2.45"/><circle cx="456.1" cy="129.6" r="2.45"/><circle cx="473.1" cy="125.2" r="2.45"/><circle cx="460.0" cy="134.3" r="2.45"/><circle cx="584.7" cy="71.6" r="2.45"/><circle cx="545.1" cy="91.1" r="2.45"/><circle cx="452.1" cy="138.4" r="2.45"/><circle cx="571.6" cy="77.1" r="2.45"/><circle cx="429.7" cy="145.2" r="2.45"/><circle cx="465.1" cy="130.6" r="2.45"/><circle cx="520.1" cy="98.4" r="2.45"/><circle cx="552.4" cy="89.0" r="2.45"/><circle cx="453.7" cy="128.7" r="2.45"/><circle cx="445.1" cy="140.0" r="2.45"/><circle cx="516.6" cy="98.4" r="2.45"/><circle cx="523.6" cy="106.3" r="2.45"/><circle cx="539.1" cy="93.4" r="2.45"/><circle cx="522.2" cy="98.2" r="2.45"/><circle cx="485.5" cy="117.8" r="2.45"/><circle cx="503.9" cy="104.9" r="2.45"/><circle cx="563.1" cy="86.2" r="2.45"/><circle cx="513.5" cy="109.7" r="2.45"/><circle cx="461.8" cy="125.9" r="2.45"/><circle cx="546.9" cy="85.9" r="2.45"/><circle cx="412.7" cy="145.7" r="2.45"/><circle cx="493.5" cy="116.6" r="2.45"/><circle cx="473.2" cy="129.9" r="2.45"/><circle cx="490.4" cy="119.7" r="2.45"/><circle cx="468.7" cy="130.2" r="2.45"/><circle cx="504.7" cy="112.2" r="2.45"/><circle cx="527.2" cy="97.9" r="2.45"/><circle cx="459.0" cy="128.2" r="2.45"/><circle cx="451.5" cy="132.6" r="2.45"/><circle cx="541.8" cy="94.9" r="2.45"/><circle cx="446.2" cy="140.7" r="2.45"/><circle cx="533.8" cy="95.3" r="2.45"/><circle cx="542.0" cy="94.7" r="2.45"/><circle cx="508.6" cy="114.1" r="2.45"/><circle cx="450.3" cy="132.3" r="2.45"/><circle cx="510.5" cy="106.9" r="2.45"/><circle cx="483.0" cy="125.4" r="2.45"/><circle cx="537.6" cy="91.4" r="2.45"/><circle cx="472.0" cy="122.9" r="2.45"/><circle cx="510.0" cy="109.2" r="2.45"/><circle cx="546.9" cy="84.4" r="2.45"/><circle cx="504.1" cy="109.4" r="2.45"/><circle cx="464.6" cy="121.9" r="2.45"/><circle cx="461.7" cy="129.9" r="2.45"/><circle cx="551.8" cy="90.8" r="2.45"/><circle cx="451.3" cy="139.0" r="2.45"/><circle cx="421.9" cy="148.4" r="2.45"/><circle cx="457.0" cy="133.6" r="2.45"/><circle cx="561.5" cy="82.8" r="2.45"/><circle cx="493.6" cy="118.8" r="2.45"/><circle cx="453.0" cy="127.1" r="2.45"/><circle cx="516.8" cy="96.2" r="2.45"/><circle cx="527.5" cy="100.2" r="2.45"/><circle cx="540.3" cy="86.8" r="2.45"/><circle cx="437.0" cy="137.6" r="2.45"/><circle cx="511.3" cy="110.2" r="2.45"/><circle cx="580.1" cy="73.2" r="2.45"/><circle cx="530.6" cy="100.4" r="2.45"/><circle cx="589.6" cy="66.9" r="2.45"/><circle cx="525.2" cy="101.7" r="2.45"/><circle cx="540.5" cy="101.8" r="2.45"/><circle cx="492.1" cy="113.7" r="2.45"/><circle cx="407.1" cy="152.0" r="2.45"/><circle cx="579.6" cy="78.8" r="2.45"/><circle cx="486.1" cy="122.1" r="2.45"/><circle cx="478.9" cy="125.6" r="2.45"/><circle cx="458.3" cy="124.7" r="2.45"/><circle cx="529.8" cy="103.8" r="2.45"/><circle cx="540.3" cy="95.4" r="2.45"/><circle cx="590.4" cy="71.8" r="2.45"/><circle cx="523.1" cy="103.0" r="2.45"/><circle cx="510.8" cy="98.1" r="2.45"/><circle cx="488.1" cy="118.1" r="2.45"/><circle cx="494.4" cy="110.4" r="2.45"/><circle cx="449.9" cy="123.7" r="2.45"/><circle cx="540.6" cy="91.9" r="2.45"/><circle cx="489.8" cy="115.6" r="2.45"/><circle cx="533.0" cy="103.1" r="2.45"/><circle cx="538.4" cy="98.1" r="2.45"/><circle cx="467.7" cy="126.3" r="2.45"/><circle cx="492.0" cy="111.4" r="2.45"/><circle cx="454.5" cy="138.6" r="2.45"/><circle cx="453.2" cy="128.5" r="2.45"/><circle cx="482.2" cy="122.9" r="2.45"/><circle cx="571.5" cy="77.0" r="2.45"/><circle cx="519.3" cy="91.9" r="2.45"/><circle cx="432.6" cy="138.7" r="2.45"/><circle cx="492.9" cy="118.7" r="2.45"/><circle cx="529.5" cy="97.3" r="2.45"/><circle cx="467.2" cy="125.8" r="2.45"/><circle cx="566.9" cy="75.1" r="2.45"/><circle cx="479.9" cy="125.5" r="2.45"/><circle cx="530.2" cy="93.4" r="2.45"/><circle cx="517.2" cy="107.5" r="2.45"/><circle cx="453.9" cy="131.4" r="2.45"/><circle cx="516.6" cy="99.8" r="2.45"/><circle cx="499.1" cy="113.1" r="2.45"/><circle cx="448.7" cy="135.0" r="2.45"/><circle cx="463.2" cy="123.1" r="2.45"/><circle cx="539.2" cy="95.3" r="2.45"/><circle cx="518.4" cy="117.4" r="2.45"/><circle cx="567.1" cy="77.6" r="2.45"/><circle cx="570.5" cy="73.1" r="2.45"/><circle cx="563.1" cy="78.8" r="2.45"/><circle cx="480.0" cy="122.3" r="2.45"/><circle cx="547.4" cy="83.6" r="2.45"/><circle cx="418.3" cy="149.6" r="2.45"/><circle cx="469.3" cy="128.8" r="2.45"/><circle cx="455.8" cy="136.5" r="2.45"/><circle cx="501.7" cy="110.8" r="2.45"/><circle cx="481.0" cy="122.4" r="2.45"/><circle cx="511.5" cy="105.8" r="2.45"/><circle cx="550.0" cy="89.4" r="2.45"/><circle cx="482.5" cy="125.8" r="2.45"/><circle cx="577.3" cy="69.7" r="2.45"/><circle cx="518.1" cy="112.2" r="2.45"/><circle cx="557.5" cy="83.7" r="2.45"/><circle cx="524.0" cy="97.6" r="2.45"/><circle cx="565.0" cy="81.5" r="2.45"/><circle cx="472.8" cy="122.0" r="2.45"/><circle cx="521.9" cy="108.6" r="2.45"/><circle cx="519.3" cy="96.9" r="2.45"/><circle cx="464.7" cy="129.8" r="2.45"/><circle cx="526.4" cy="98.0" r="2.45"/><circle cx="541.6" cy="93.3" r="2.45"/><circle cx="549.7" cy="84.4" r="2.45"/><circle cx="521.7" cy="94.6" r="2.45"/><circle cx="533.2" cy="99.3" r="2.45"/><circle cx="456.5" cy="129.1" r="2.45"/><circle cx="557.2" cy="84.4" r="2.45"/><circle cx="447.5" cy="138.5" r="2.45"/><circle cx="522.1" cy="100.6" r="2.45"/><circle cx="486.6" cy="119.2" r="2.45"/><circle cx="564.3" cy="78.6" r="2.45"/><circle cx="479.9" cy="124.2" r="2.45"/><circle cx="476.6" cy="119.1" r="2.45"/><circle cx="621.1" cy="52.8" r="2.45"/><circle cx="466.1" cy="133.0" r="2.45"/><circle cx="457.4" cy="129.0" r="2.45"/><circle cx="475.5" cy="125.0" r="2.45"/><circle cx="466.6" cy="133.3" r="2.45"/><circle cx="587.6" cy="73.4" r="2.45"/><circle cx="434.5" cy="142.8" r="2.45"/><circle cx="531.3" cy="107.1" r="2.45"/><circle cx="470.9" cy="122.5" r="2.45"/><circle cx="565.3" cy="76.9" r="2.45"/><circle cx="477.1" cy="119.2" r="2.45"/><circle cx="469.5" cy="123.6" r="2.45"/><circle cx="557.6" cy="77.0" r="2.45"/><circle cx="521.5" cy="100.8" r="2.45"/><circle cx="512.6" cy="106.3" r="2.45"/><circle cx="509.1" cy="101.3" r="2.45"/><circle cx="514.8" cy="107.1" r="2.45"/><circle cx="493.3" cy="120.1" r="2.45"/><circle cx="475.9" cy="128.2" r="2.45"/><circle cx="459.3" cy="129.0" r="2.45"/><circle cx="557.9" cy="81.1" r="2.45"/><circle cx="515.6" cy="104.8" r="2.45"/><circle cx="504.9" cy="105.7" r="2.45"/><circle cx="493.4" cy="115.7" r="2.45"/><circle cx="475.2" cy="126.1" r="2.45"/><circle cx="437.8" cy="136.9" r="2.45"/><circle cx="520.4" cy="102.8" r="2.45"/><circle cx="552.2" cy="83.9" r="2.45"/><circle cx="480.3" cy="122.9" r="2.45"/><circle cx="500.3" cy="110.2" r="2.45"/><circle cx="452.4" cy="128.3" r="2.45"/><circle cx="511.3" cy="109.4" r="2.45"/><circle cx="460.3" cy="124.1" r="2.45"/><circle cx="501.4" cy="108.6" r="2.45"/><circle cx="525.1" cy="100.1" r="2.45"/><circle cx="494.3" cy="121.7" r="2.45"/><circle cx="420.6" cy="145.1" r="2.45"/><circle cx="482.3" cy="119.9" r="2.45"/><circle cx="590.8" cy="67.3" r="2.45"/><circle cx="454.8" cy="128.5" r="2.45"/><circle cx="482.6" cy="121.1" r="2.45"/><circle cx="490.2" cy="120.9" r="2.45"/><circle cx="473.0" cy="122.8" r="2.45"/><circle cx="452.5" cy="138.8" r="2.45"/><circle cx="629.3" cy="68.5" r="2.45"/><circle cx="566.5" cy="77.5" r="2.45"/><circle cx="523.5" cy="101.3" r="2.45"/><circle cx="516.9" cy="107.9" r="2.45"/><circle cx="472.6" cy="119.1" r="2.45"/><circle cx="469.6" cy="118.2" r="2.45"/><circle cx="457.1" cy="134.4" r="2.45"/><circle cx="464.2" cy="136.9" r="2.45"/><circle cx="610.3" cy="68.3" r="2.45"/><circle cx="442.5" cy="135.0" r="2.45"/><circle cx="514.6" cy="113.0" r="2.45"/><circle cx="508.1" cy="104.7" r="2.45"/><circle cx="444.2" cy="140.3" r="2.45"/><circle cx="531.0" cy="96.2" r="2.45"/><circle cx="510.4" cy="109.7" r="2.45"/><circle cx="484.3" cy="122.6" r="2.45"/><circle cx="454.3" cy="133.8" r="2.45"/><circle cx="523.2" cy="101.2" r="2.45"/><circle cx="519.7" cy="97.3" r="2.45"/><circle cx="419.2" cy="144.9" r="2.45"/><circle cx="465.7" cy="129.3" r="2.45"/><circle cx="488.2" cy="120.2" r="2.45"/><circle cx="467.6" cy="123.4" r="2.45"/><circle cx="502.8" cy="109.6" r="2.45"/><circle cx="399.6" cy="158.1" r="2.45"/><circle cx="584.1" cy="70.0" r="2.45"/><circle cx="540.6" cy="91.7" r="2.45"/><circle cx="594.2" cy="68.8" r="2.45"/><circle cx="513.5" cy="100.4" r="2.45"/><circle cx="494.4" cy="115.1" r="2.45"/><circle cx="505.2" cy="109.7" r="2.45"/><circle cx="500.9" cy="113.2" r="2.45"/><circle cx="464.6" cy="128.3" r="2.45"/><circle cx="527.8" cy="99.8" r="2.45"/><circle cx="465.4" cy="128.6" r="2.45"/><circle cx="443.2" cy="140.6" r="2.45"/><circle cx="506.2" cy="107.4" r="2.45"/><circle cx="574.5" cy="77.5" r="2.45"/><circle cx="513.3" cy="109.9" r="2.45"/><circle cx="454.7" cy="133.3" r="2.45"/><circle cx="483.8" cy="119.1" r="2.45"/><circle cx="520.6" cy="109.9" r="2.45"/><circle cx="489.5" cy="121.0" r="2.45"/><circle cx="481.6" cy="121.1" r="2.45"/><circle cx="534.1" cy="96.4" r="2.45"/><circle cx="501.2" cy="111.5" r="2.45"/><circle cx="581.0" cy="79.6" r="2.45"/><circle cx="576.1" cy="75.9" r="2.45"/><circle cx="481.6" cy="119.9" r="2.45"/><circle cx="518.0" cy="104.9" r="2.45"/><circle cx="487.0" cy="115.6" r="2.45"/><circle cx="528.1" cy="101.2" r="2.45"/><circle cx="536.2" cy="103.1" r="2.45"/><circle cx="477.3" cy="120.8" r="2.45"/><circle cx="464.0" cy="129.7" r="2.45"/><circle cx="478.3" cy="123.4" r="2.45"/><circle cx="558.5" cy="76.9" r="2.45"/><circle cx="538.0" cy="93.9" r="2.45"/><circle cx="461.1" cy="135.4" r="2.45"/><circle cx="510.1" cy="109.7" r="2.45"/><circle cx="447.9" cy="136.9" r="2.45"/><circle cx="482.3" cy="118.6" r="2.45"/><circle cx="489.0" cy="116.9" r="2.45"/><circle cx="554.1" cy="82.0" r="2.45"/><circle cx="462.5" cy="135.2" r="2.45"/><circle cx="518.5" cy="105.6" r="2.45"/><circle cx="553.1" cy="88.8" r="2.45"/><circle cx="539.9" cy="91.8" r="2.45"/><circle cx="452.0" cy="132.1" r="2.45"/><circle cx="440.9" cy="140.9" r="2.45"/><circle cx="495.8" cy="108.1" r="2.45"/><circle cx="535.8" cy="96.9" r="2.45"/><circle cx="578.9" cy="72.1" r="2.45"/><circle cx="528.2" cy="95.6" r="2.45"/><circle cx="582.3" cy="67.7" r="2.45"/><circle cx="498.5" cy="114.8" r="2.45"/><circle cx="528.2" cy="101.3" r="2.45"/><circle cx="509.0" cy="103.3" r="2.45"/><circle cx="551.8" cy="80.2" r="2.45"/><circle cx="599.4" cy="90.8" r="2.45"/><circle cx="448.4" cy="135.3" r="2.45"/><circle cx="547.2" cy="88.5" r="2.45"/><circle cx="469.4" cy="131.4" r="2.45"/><circle cx="478.1" cy="126.5" r="2.45"/><circle cx="529.7" cy="94.2" r="2.45"/><circle cx="515.2" cy="110.6" r="2.45"/><circle cx="525.6" cy="106.0" r="2.45"/><circle cx="550.2" cy="88.4" r="2.45"/><circle cx="471.6" cy="125.8" r="2.45"/><circle cx="456.6" cy="129.2" r="2.45"/><circle cx="472.9" cy="129.4" r="2.45"/><circle cx="457.6" cy="132.8" r="2.45"/><circle cx="500.7" cy="108.8" r="2.45"/><circle cx="438.5" cy="140.2" r="2.45"/><circle cx="533.5" cy="97.6" r="2.45"/><circle cx="546.5" cy="86.3" r="2.45"/><circle cx="433.8" cy="143.6" r="2.45"/><circle cx="484.5" cy="124.1" r="2.45"/><circle cx="546.6" cy="90.7" r="2.45"/><circle cx="432.7" cy="137.7" r="2.45"/><circle cx="547.1" cy="89.5" r="2.45"/><circle cx="457.2" cy="131.3" r="2.45"/><circle cx="500.3" cy="115.1" r="2.45"/><circle cx="560.9" cy="80.9" r="2.45"/><circle cx="552.3" cy="85.6" r="2.45"/><circle cx="468.6" cy="124.4" r="2.45"/><circle cx="573.9" cy="73.3" r="2.45"/><circle cx="488.6" cy="119.3" r="2.45"/><circle cx="487.1" cy="122.0" r="2.45"/><circle cx="461.1" cy="124.1" r="2.45"/><circle cx="516.3" cy="105.0" r="2.45"/><circle cx="553.6" cy="82.0" r="2.45"/><circle cx="526.9" cy="102.4" r="2.45"/><circle cx="490.2" cy="116.9" r="2.45"/><circle cx="436.6" cy="141.7" r="2.45"/><circle cx="532.5" cy="93.6" r="2.45"/><circle cx="448.7" cy="138.7" r="2.45"/><circle cx="465.6" cy="133.4" r="2.45"/><circle cx="488.6" cy="120.3" r="2.45"/><circle cx="593.8" cy="67.2" r="2.45"/><circle cx="551.8" cy="86.9" r="2.45"/><circle cx="405.5" cy="149.5" r="2.45"/><circle cx="558.6" cy="81.9" r="2.45"/><circle cx="462.7" cy="132.0" r="2.45"/><circle cx="531.7" cy="102.2" r="2.45"/><circle cx="539.9" cy="92.8" r="2.45"/><circle cx="441.3" cy="141.5" r="2.45"/><circle cx="526.9" cy="94.5" r="2.45"/><circle cx="450.5" cy="134.7" r="2.45"/><circle cx="500.6" cy="110.7" r="2.45"/><circle cx="524.7" cy="109.2" r="2.45"/><circle cx="561.1" cy="84.8" r="2.45"/><circle cx="543.0" cy="90.1" r="2.45"/><circle cx="418.9" cy="149.8" r="2.45"/><circle cx="428.7" cy="143.5" r="2.45"/><circle cx="538.8" cy="93.6" r="2.45"/><circle cx="552.0" cy="88.5" r="2.45"/><circle cx="483.3" cy="120.5" r="2.45"/><circle cx="520.5" cy="102.9" r="2.45"/><circle cx="591.2" cy="64.9" r="2.45"/><circle cx="518.1" cy="95.1" r="2.45"/><circle cx="592.7" cy="70.8" r="2.45"/><circle cx="517.6" cy="99.7" r="2.45"/><circle cx="496.7" cy="118.7" r="2.45"/><circle cx="543.7" cy="89.1" r="2.45"/><circle cx="462.7" cy="130.4" r="2.45"/><circle cx="498.8" cy="108.5" r="2.45"/><circle cx="470.9" cy="123.3" r="2.45"/><circle cx="572.8" cy="75.7" r="2.45"/><circle cx="450.7" cy="135.6" r="2.45"/><circle cx="570.1" cy="76.5" r="2.45"/><circle cx="557.0" cy="84.1" r="2.45"/><circle cx="491.8" cy="116.5" r="2.45"/><circle cx="482.4" cy="117.7" r="2.45"/><circle cx="530.9" cy="95.3" r="2.45"/><circle cx="511.1" cy="110.5" r="2.45"/><circle cx="537.5" cy="90.7" r="2.45"/><circle cx="545.4" cy="88.0" r="2.45"/><circle cx="473.2" cy="121.5" r="2.45"/><circle cx="408.4" cy="151.6" r="2.45"/><circle cx="440.7" cy="139.0" r="2.45"/><circle cx="533.1" cy="100.7" r="2.45"/><circle cx="581.3" cy="72.4" r="2.45"/><circle cx="496.4" cy="116.0" r="2.45"/><circle cx="512.5" cy="96.0" r="2.45"/><circle cx="490.6" cy="116.8" r="2.45"/><circle cx="465.3" cy="130.0" r="2.45"/><circle cx="583.5" cy="73.6" r="2.45"/><circle cx="517.8" cy="107.9" r="2.45"/><circle cx="518.4" cy="104.5" r="2.45"/><circle cx="475.0" cy="126.8" r="2.45"/><circle cx="449.7" cy="137.0" r="2.45"/><circle cx="469.9" cy="121.8" r="2.45"/><circle cx="487.4" cy="123.2" r="2.45"/><circle cx="507.5" cy="110.9" r="2.45"/><circle cx="486.2" cy="118.8" r="2.45"/><circle cx="490.3" cy="117.6" r="2.45"/><circle cx="510.9" cy="109.8" r="2.45"/><circle cx="433.0" cy="143.8" r="2.45"/><circle cx="447.7" cy="139.7" r="2.45"/><circle cx="463.6" cy="126.2" r="2.45"/><circle cx="496.7" cy="115.2" r="2.45"/><circle cx="436.1" cy="145.3" r="2.45"/><circle cx="515.8" cy="105.9" r="2.45"/><circle cx="524.8" cy="93.2" r="2.45"/><circle cx="511.2" cy="112.1" r="2.45"/><circle cx="502.5" cy="112.6" r="2.45"/><circle cx="430.3" cy="143.4" r="2.45"/><circle cx="480.0" cy="129.6" r="2.45"/><circle cx="503.2" cy="110.3" r="2.45"/><circle cx="437.0" cy="142.3" r="2.45"/><circle cx="457.3" cy="128.6" r="2.45"/><circle cx="487.1" cy="117.1" r="2.45"/><circle cx="524.6" cy="108.0" r="2.45"/><circle cx="450.5" cy="131.8" r="2.45"/><circle cx="473.8" cy="122.6" r="2.45"/><circle cx="468.3" cy="127.1" r="2.45"/><circle cx="395.5" cy="159.1" r="2.45"/><circle cx="480.6" cy="118.7" r="2.45"/><circle cx="481.4" cy="128.5" r="2.45"/><circle cx="471.7" cy="125.9" r="2.45"/><circle cx="532.5" cy="99.5" r="2.45"/><circle cx="452.5" cy="131.1" r="2.45"/><circle cx="498.9" cy="111.0" r="2.45"/><circle cx="526.9" cy="101.7" r="2.45"/><circle cx="448.6" cy="134.3" r="2.45"/><circle cx="574.6" cy="69.4" r="2.45"/><circle cx="517.6" cy="99.0" r="2.45"/><circle cx="449.6" cy="131.2" r="2.45"/><circle cx="470.8" cy="123.0" r="2.45"/><circle cx="444.6" cy="135.6" r="2.45"/><circle cx="481.5" cy="118.2" r="2.45"/><circle cx="453.9" cy="134.1" r="2.45"/><circle cx="523.0" cy="105.1" r="2.45"/><circle cx="571.1" cy="76.1" r="2.45"/><circle cx="418.6" cy="142.4" r="2.45"/><circle cx="596.9" cy="68.9" r="2.45"/><circle cx="523.5" cy="99.6" r="2.45"/><circle cx="565.8" cy="77.4" r="2.45"/><circle cx="510.7" cy="105.6" r="2.45"/><circle cx="507.3" cy="107.4" r="2.45"/><circle cx="549.5" cy="87.4" r="2.45"/><circle cx="450.3" cy="135.7" r="2.45"/><circle cx="527.5" cy="103.5" r="2.45"/><circle cx="435.5" cy="140.4" r="2.45"/><circle cx="474.3" cy="124.7" r="2.45"/><circle cx="456.2" cy="133.6" r="2.45"/><circle cx="477.7" cy="123.9" r="2.45"/><circle cx="498.6" cy="109.9" r="2.45"/><circle cx="446.1" cy="142.3" r="2.45"/><circle cx="465.7" cy="130.0" r="2.45"/><circle cx="545.1" cy="91.6" r="2.45"/><circle cx="499.8" cy="112.4" r="2.45"/><circle cx="478.6" cy="125.3" r="2.45"/><circle cx="487.9" cy="122.5" r="2.45"/><circle cx="521.5" cy="102.2" r="2.45"/><circle cx="558.2" cy="80.4" r="2.45"/><circle cx="498.0" cy="115.7" r="2.45"/><circle cx="537.9" cy="88.1" r="2.45"/><circle cx="461.5" cy="127.5" r="2.45"/><circle cx="460.7" cy="130.4" r="2.45"/><circle cx="547.0" cy="87.6" r="2.45"/><circle cx="524.9" cy="102.7" r="2.45"/><circle cx="542.9" cy="89.8" r="2.45"/><circle cx="516.0" cy="99.9" r="2.45"/><circle cx="582.1" cy="73.8" r="2.45"/><circle cx="489.8" cy="129.4" r="2.45"/><circle cx="509.2" cy="103.2" r="2.45"/><circle cx="508.7" cy="109.7" r="2.45"/><circle cx="482.8" cy="118.8" r="2.45"/><circle cx="572.9" cy="75.8" r="2.45"/><circle cx="450.3" cy="129.3" r="2.45"/><circle cx="669.6" cy="59.6" r="2.45"/><circle cx="455.8" cy="134.8" r="2.45"/><circle cx="453.1" cy="133.5" r="2.45"/><circle cx="533.4" cy="91.8" r="2.45"/><circle cx="482.0" cy="120.7" r="2.45"/><circle cx="573.7" cy="80.0" r="2.45"/><circle cx="494.6" cy="111.0" r="2.45"/><circle cx="537.5" cy="96.0" r="2.45"/><circle cx="538.4" cy="88.5" r="2.45"/><circle cx="518.0" cy="92.4" r="2.45"/><circle cx="553.3" cy="84.6" r="2.45"/><circle cx="445.4" cy="139.0" r="2.45"/><circle cx="501.2" cy="113.2" r="2.45"/><circle cx="486.1" cy="123.7" r="2.45"/><circle cx="519.7" cy="108.0" r="2.45"/><circle cx="539.8" cy="91.1" r="2.45"/><circle cx="469.3" cy="124.7" r="2.45"/><circle cx="556.9" cy="82.3" r="2.45"/><circle cx="575.0" cy="77.5" r="2.45"/><circle cx="529.8" cy="93.7" r="2.45"/><circle cx="522.8" cy="103.7" r="2.45"/><circle cx="479.1" cy="128.2" r="2.45"/><circle cx="458.6" cy="127.8" r="2.45"/><circle cx="545.2" cy="84.3" r="2.45"/><circle cx="543.8" cy="84.8" r="2.45"/><circle cx="498.4" cy="118.0" r="2.45"/><circle cx="476.8" cy="126.9" r="2.45"/><circle cx="470.5" cy="118.2" r="2.45"/><circle cx="440.2" cy="141.6" r="2.45"/><circle cx="526.2" cy="101.6" r="2.45"/><circle cx="556.7" cy="85.2" r="2.45"/><circle cx="433.0" cy="146.1" r="2.45"/><circle cx="553.9" cy="83.3" r="2.45"/><circle cx="448.9" cy="137.2" r="2.45"/><circle cx="501.5" cy="107.6" r="2.45"/><circle cx="462.7" cy="126.5" r="2.45"/><circle cx="466.2" cy="131.1" r="2.45"/><circle cx="521.1" cy="102.8" r="2.45"/><circle cx="519.0" cy="102.0" r="2.45"/><circle cx="475.7" cy="120.1" r="2.45"/><circle cx="465.4" cy="124.9" r="2.45"/><circle cx="579.0" cy="75.5" r="2.45"/><circle cx="470.8" cy="127.1" r="2.45"/><circle cx="515.2" cy="97.8" r="2.45"/><circle cx="536.7" cy="95.3" r="2.45"/><circle cx="589.3" cy="70.1" r="2.45"/><circle cx="545.4" cy="92.6" r="2.45"/><circle cx="523.0" cy="101.1" r="2.45"/><circle cx="441.4" cy="140.6" r="2.45"/><circle cx="565.3" cy="80.3" r="2.45"/><circle cx="478.4" cy="121.4" r="2.45"/><circle cx="499.1" cy="120.9" r="2.45"/><circle cx="595.6" cy="67.4" r="2.45"/><circle cx="449.1" cy="137.9" r="2.45"/><circle cx="591.1" cy="68.1" r="2.45"/><circle cx="495.3" cy="118.6" r="2.45"/><circle cx="460.6" cy="132.0" r="2.45"/><circle cx="551.2" cy="92.8" r="2.45"/><circle cx="523.7" cy="96.8" r="2.45"/><circle cx="582.3" cy="74.5" r="2.45"/><circle cx="457.9" cy="132.3" r="2.45"/><circle cx="546.6" cy="86.2" r="2.45"/><circle cx="533.9" cy="93.2" r="2.45"/><circle cx="469.3" cy="124.6" r="2.45"/><circle cx="531.2" cy="99.8" r="2.45"/><circle cx="514.8" cy="110.4" r="2.45"/><circle cx="579.2" cy="71.6" r="2.45"/><circle cx="467.3" cy="126.7" r="2.45"/><circle cx="513.3" cy="107.4" r="2.45"/><circle cx="445.2" cy="136.4" r="2.45"/><circle cx="491.3" cy="113.4" r="2.45"/><circle cx="473.0" cy="125.9" r="2.45"/><circle cx="430.2" cy="142.7" r="2.45"/><circle cx="489.8" cy="121.2" r="2.45"/><circle cx="498.7" cy="112.3" r="2.45"/><circle cx="547.9" cy="87.1" r="2.45"/><circle cx="505.8" cy="109.9" r="2.45"/><circle cx="445.2" cy="143.2" r="2.45"/><circle cx="479.1" cy="117.8" r="2.45"/><circle cx="478.7" cy="127.3" r="2.45"/><circle cx="559.5" cy="80.4" r="2.45"/><circle cx="463.4" cy="127.9" r="2.45"/><circle cx="472.7" cy="120.0" r="2.45"/><circle cx="452.0" cy="131.7" r="2.45"/><circle cx="516.3" cy="103.6" r="2.45"/><circle cx="431.0" cy="150.7" r="2.45"/><circle cx="521.6" cy="110.4" r="2.45"/><circle cx="559.5" cy="87.1" r="2.45"/><circle cx="486.4" cy="119.1" r="2.45"/><circle cx="465.5" cy="132.4" r="2.45"/><circle cx="553.1" cy="82.7" r="2.45"/><circle cx="476.1" cy="121.9" r="2.45"/><circle cx="533.2" cy="96.9" r="2.45"/><circle cx="534.9" cy="91.7" r="2.45"/><circle cx="426.5" cy="144.8" r="2.45"/><circle cx="521.7" cy="98.6" r="2.45"/><circle cx="514.4" cy="105.3" r="2.45"/><circle cx="516.2" cy="105.5" r="2.45"/><circle cx="514.3" cy="97.5" r="2.45"/><circle cx="546.8" cy="95.0" r="2.45"/><circle cx="496.6" cy="111.6" r="2.45"/><circle cx="508.8" cy="104.6" r="2.45"/><circle cx="526.5" cy="100.7" r="2.45"/><circle cx="501.3" cy="114.6" r="2.45"/><circle cx="473.2" cy="117.7" r="2.45"/><circle cx="473.1" cy="138.0" r="2.45"/><circle cx="454.0" cy="130.2" r="2.45"/><circle cx="476.3" cy="130.9" r="2.45"/><circle cx="454.5" cy="138.7" r="2.45"/><circle cx="447.7" cy="133.6" r="2.45"/><circle cx="475.2" cy="118.8" r="2.45"/><circle cx="547.7" cy="85.7" r="2.45"/><circle cx="464.4" cy="128.1" r="2.45"/><circle cx="452.6" cy="132.3" r="2.45"/><circle cx="460.2" cy="133.6" r="2.45"/><circle cx="453.3" cy="134.5" r="2.45"/><circle cx="497.7" cy="111.0" r="2.45"/><circle cx="405.8" cy="147.9" r="2.45"/><circle cx="532.3" cy="90.3" r="2.45"/><circle cx="483.6" cy="116.8" r="2.45"/><circle cx="497.9" cy="116.4" r="2.45"/><circle cx="565.7" cy="81.6" r="2.45"/><circle cx="477.7" cy="121.9" r="2.45"/><circle cx="456.7" cy="132.1" r="2.45"/><circle cx="492.5" cy="114.9" r="2.45"/><circle cx="474.3" cy="121.8" r="2.45"/><circle cx="511.0" cy="102.4" r="2.45"/><circle cx="553.5" cy="80.3" r="2.45"/><circle cx="466.5" cy="132.5" r="2.45"/><circle cx="465.5" cy="125.2" r="2.45"/><circle cx="563.5" cy="78.6" r="2.45"/><circle cx="445.9" cy="137.9" r="2.45"/><circle cx="467.9" cy="126.4" r="2.45"/><circle cx="518.9" cy="102.0" r="2.45"/><circle cx="543.2" cy="94.5" r="2.45"/><circle cx="479.0" cy="121.0" r="2.45"/><circle cx="550.4" cy="84.7" r="2.45"/><circle cx="436.4" cy="140.2" r="2.45"/><circle cx="539.2" cy="91.5" r="2.45"/><circle cx="494.8" cy="113.6" r="2.45"/><circle cx="526.1" cy="95.1" r="2.45"/><circle cx="519.3" cy="106.8" r="2.45"/><circle cx="527.1" cy="95.8" r="2.45"/><circle cx="449.9" cy="139.6" r="2.45"/><circle cx="528.9" cy="102.0" r="2.45"/><circle cx="492.4" cy="118.2" r="2.45"/><circle cx="454.4" cy="130.6" r="2.45"/><circle cx="498.3" cy="110.7" r="2.45"/><circle cx="535.9" cy="99.9" r="2.45"/><circle cx="485.4" cy="123.6" r="2.45"/><circle cx="599.6" cy="69.3" r="2.45"/><circle cx="530.1" cy="96.6" r="2.45"/><circle cx="499.9" cy="108.5" r="2.45"/><circle cx="562.1" cy="84.8" r="2.45"/><circle cx="493.3" cy="113.4" r="2.45"/><circle cx="516.9" cy="106.1" r="2.45"/><circle cx="541.7" cy="85.4" r="2.45"/><circle cx="433.1" cy="140.6" r="2.45"/><circle cx="577.0" cy="76.5" r="2.45"/><circle cx="483.9" cy="109.0" r="2.45"/><circle cx="524.2" cy="104.1" r="2.45"/><circle cx="468.5" cy="132.2" r="2.45"/><circle cx="572.8" cy="79.4" r="2.45"/><circle cx="472.7" cy="133.8" r="2.45"/><circle cx="536.3" cy="95.8" r="2.45"/><circle cx="481.2" cy="118.2" r="2.45"/><circle cx="495.2" cy="113.6" r="2.45"/><circle cx="511.2" cy="109.3" r="2.45"/><circle cx="470.9" cy="123.4" r="2.45"/><circle cx="517.2" cy="104.6" r="2.45"/><circle cx="482.5" cy="122.8" r="2.45"/><circle cx="497.4" cy="116.9" r="2.45"/><circle cx="518.4" cy="100.3" r="2.45"/><circle cx="525.1" cy="101.0" r="2.45"/><circle cx="476.1" cy="127.7" r="2.45"/><circle cx="528.3" cy="97.5" r="2.45"/><circle cx="482.6" cy="120.1" r="2.45"/><circle cx="482.0" cy="112.2" r="2.45"/><circle cx="510.1" cy="112.3" r="2.45"/><circle cx="545.0" cy="92.1" r="2.45"/><circle cx="457.1" cy="138.1" r="2.45"/><circle cx="522.3" cy="104.2" r="2.45"/><circle cx="547.1" cy="90.0" r="2.45"/><circle cx="517.6" cy="110.1" r="2.45"/><circle cx="480.0" cy="119.5" r="2.45"/><circle cx="512.7" cy="108.0" r="2.45"/><circle cx="516.0" cy="105.4" r="2.45"/><circle cx="539.9" cy="94.7" r="2.45"/><circle cx="640.5" cy="52.0" r="2.45"/><circle cx="554.2" cy="83.2" r="2.45"/><circle cx="453.9" cy="128.1" r="2.45"/><circle cx="589.6" cy="69.0" r="2.45"/><circle cx="452.3" cy="132.7" r="2.45"/><circle cx="513.6" cy="99.3" r="2.45"/><circle cx="508.8" cy="108.4" r="2.45"/><circle cx="524.1" cy="91.9" r="2.45"/><circle cx="531.0" cy="103.8" r="2.45"/><circle cx="514.0" cy="100.1" r="2.45"/><circle cx="477.2" cy="117.5" r="2.45"/><circle cx="460.8" cy="134.0" r="2.45"/><circle cx="525.8" cy="102.7" r="2.45"/><circle cx="479.9" cy="124.0" r="2.45"/><circle cx="467.4" cy="126.6" r="2.45"/><circle cx="481.4" cy="112.4" r="2.45"/><circle cx="490.6" cy="114.6" r="2.45"/><circle cx="455.8" cy="133.6" r="2.45"/><circle cx="519.1" cy="98.7" r="2.45"/><circle cx="515.3" cy="104.4" r="2.45"/><circle cx="480.7" cy="118.0" r="2.45"/><circle cx="669.4" cy="50.1" r="2.45"/><circle cx="559.2" cy="85.0" r="2.45"/><circle cx="532.9" cy="98.4" r="2.45"/><circle cx="495.1" cy="118.3" r="2.45"/><circle cx="522.6" cy="98.7" r="2.45"/><circle cx="530.1" cy="94.4" r="2.45"/><circle cx="440.5" cy="143.6" r="2.45"/><circle cx="520.1" cy="99.5" r="2.45"/><circle cx="487.0" cy="122.2" r="2.45"/><circle cx="540.7" cy="89.5" r="2.45"/><circle cx="563.8" cy="79.8" r="2.45"/><circle cx="549.7" cy="88.2" r="2.45"/><circle cx="494.8" cy="113.1" r="2.45"/><circle cx="537.0" cy="89.7" r="2.45"/><circle cx="492.3" cy="120.4" r="2.45"/><circle cx="488.1" cy="119.2" r="2.45"/><circle cx="533.1" cy="96.2" r="2.45"/><circle cx="422.7" cy="134.4" r="2.45"/><circle cx="495.3" cy="115.1" r="2.45"/><circle cx="524.3" cy="97.9" r="2.45"/><circle cx="511.4" cy="121.1" r="2.45"/><circle cx="487.2" cy="121.5" r="2.45"/><circle cx="480.0" cy="120.1" r="2.45"/><circle cx="491.9" cy="113.4" r="2.45"/><circle cx="459.2" cy="132.1" r="2.45"/><circle cx="425.0" cy="143.7" r="2.45"/><circle cx="575.3" cy="79.1" r="2.45"/><circle cx="438.4" cy="138.3" r="2.45"/><circle cx="551.1" cy="84.8" r="2.45"/><circle cx="637.6" cy="53.6" r="2.45"/><circle cx="503.1" cy="114.1" r="2.45"/><circle cx="491.4" cy="116.7" r="2.45"/><circle cx="489.0" cy="121.1" r="2.45"/><circle cx="473.5" cy="127.2" r="2.45"/><circle cx="446.5" cy="136.1" r="2.45"/><circle cx="493.7" cy="117.6" r="2.45"/><circle cx="469.4" cy="126.3" r="2.45"/><circle cx="487.2" cy="123.2" r="2.45"/><circle cx="573.8" cy="80.3" r="2.45"/><circle cx="558.0" cy="79.8" r="2.45"/><circle cx="506.8" cy="113.9" r="2.45"/><circle cx="556.4" cy="88.1" r="2.45"/><circle cx="501.1" cy="110.6" r="2.45"/><circle cx="555.5" cy="88.0" r="2.45"/><circle cx="476.4" cy="122.9" r="2.45"/><circle cx="496.6" cy="113.6" r="2.45"/><circle cx="541.7" cy="105.2" r="2.45"/><circle cx="560.4" cy="86.0" r="2.45"/><circle cx="459.4" cy="134.3" r="2.45"/><circle cx="430.2" cy="122.6" r="2.45"/><circle cx="479.6" cy="120.4" r="2.45"/><circle cx="551.3" cy="90.4" r="2.45"/><circle cx="566.6" cy="84.4" r="2.45"/><circle cx="449.9" cy="129.1" r="2.45"/><circle cx="613.8" cy="56.1" r="2.45"/><circle cx="438.8" cy="141.3" r="2.45"/><circle cx="537.1" cy="90.9" r="2.45"/><circle cx="471.2" cy="127.6" r="2.45"/><circle cx="481.6" cy="123.2" r="2.45"/><circle cx="559.5" cy="83.4" r="2.45"/><circle cx="399.0" cy="153.8" r="2.45"/><circle cx="480.6" cy="121.1" r="2.45"/><circle cx="443.8" cy="128.1" r="2.45"/><circle cx="503.9" cy="116.6" r="2.45"/><circle cx="530.3" cy="87.7" r="2.45"/><circle cx="476.7" cy="118.3" r="2.45"/><circle cx="520.1" cy="96.3" r="2.45"/><circle cx="570.6" cy="75.9" r="2.45"/><circle cx="503.0" cy="112.8" r="2.45"/><circle cx="571.4" cy="78.2" r="2.45"/><circle cx="493.6" cy="117.7" r="2.45"/><circle cx="482.9" cy="117.0" r="2.45"/><circle cx="511.5" cy="113.4" r="2.45"/><circle cx="473.0" cy="125.4" r="2.45"/><circle cx="537.8" cy="94.4" r="2.45"/><circle cx="461.6" cy="131.2" r="2.45"/><circle cx="478.4" cy="119.8" r="2.45"/><circle cx="507.1" cy="104.6" r="2.45"/><circle cx="464.1" cy="124.3" r="2.45"/><circle cx="471.9" cy="124.0" r="2.45"/><circle cx="476.0" cy="126.8" r="2.45"/><circle cx="473.9" cy="121.0" r="2.45"/><circle cx="567.3" cy="81.1" r="2.45"/><circle cx="470.2" cy="128.7" r="2.45"/><circle cx="489.2" cy="119.0" r="2.45"/><circle cx="529.4" cy="95.2" r="2.45"/><circle cx="487.6" cy="119.8" r="2.45"/><circle cx="465.5" cy="125.0" r="2.45"/><circle cx="528.2" cy="98.5" r="2.45"/><circle cx="497.0" cy="125.7" r="2.45"/><circle cx="521.9" cy="97.4" r="2.45"/><circle cx="474.9" cy="118.2" r="2.45"/><circle cx="573.1" cy="79.1" r="2.45"/><circle cx="590.1" cy="69.6" r="2.45"/><circle cx="567.1" cy="75.8" r="2.45"/><circle cx="520.3" cy="102.2" r="2.45"/><circle cx="535.6" cy="87.4" r="2.45"/><circle cx="430.8" cy="143.2" r="2.45"/><circle cx="513.1" cy="102.4" r="2.45"/><circle cx="491.2" cy="120.5" r="2.45"/><circle cx="571.0" cy="75.9" r="2.45"/><circle cx="487.1" cy="119.5" r="2.45"/><circle cx="501.0" cy="108.3" r="2.45"/><circle cx="584.5" cy="70.7" r="2.45"/><circle cx="466.7" cy="123.8" r="2.45"/><circle cx="534.8" cy="102.0" r="2.45"/><circle cx="549.6" cy="93.6" r="2.45"/><circle cx="468.9" cy="132.7" r="2.45"/><circle cx="447.7" cy="136.8" r="2.45"/><circle cx="526.8" cy="105.4" r="2.45"/><circle cx="519.2" cy="108.8" r="2.45"/><circle cx="539.4" cy="96.2" r="2.45"/><circle cx="461.6" cy="126.6" r="2.45"/><circle cx="558.4" cy="96.4" r="2.45"/><circle cx="539.3" cy="99.2" r="2.45"/><circle cx="474.7" cy="124.5" r="2.45"/><circle cx="491.8" cy="117.8" r="2.45"/><circle cx="518.6" cy="104.2" r="2.45"/><circle cx="545.8" cy="87.0" r="2.45"/><circle cx="485.1" cy="116.4" r="2.45"/><circle cx="514.2" cy="107.5" r="2.45"/><circle cx="469.0" cy="120.7" r="2.45"/><circle cx="524.2" cy="98.4" r="2.45"/><circle cx="485.3" cy="113.8" r="2.45"/><circle cx="495.6" cy="118.7" r="2.45"/><circle cx="554.9" cy="89.9" r="2.45"/><circle cx="564.1" cy="77.7" r="2.45"/><circle cx="467.8" cy="125.9" r="2.45"/><circle cx="461.3" cy="130.2" r="2.45"/><circle cx="450.2" cy="135.8" r="2.45"/><circle cx="551.2" cy="87.9" r="2.45"/><circle cx="463.2" cy="129.1" r="2.45"/><circle cx="479.2" cy="123.6" r="2.45"/><circle cx="554.1" cy="87.9" r="2.45"/><circle cx="509.5" cy="120.5" r="2.45"/><circle cx="561.2" cy="80.5" r="2.45"/><circle cx="491.7" cy="115.0" r="2.45"/><circle cx="466.6" cy="127.0" r="2.45"/><circle cx="539.8" cy="97.6" r="2.45"/><circle cx="543.3" cy="91.0" r="2.45"/><circle cx="436.4" cy="139.9" r="2.45"/><circle cx="577.1" cy="80.6" r="2.45"/><circle cx="526.6" cy="101.1" r="2.45"/><circle cx="513.7" cy="103.7" r="2.45"/><circle cx="558.4" cy="76.4" r="2.45"/><circle cx="498.1" cy="122.8" r="2.45"/><circle cx="502.9" cy="108.5" r="2.45"/><circle cx="470.0" cy="129.3" r="2.45"/><circle cx="525.7" cy="103.9" r="2.45"/><circle cx="404.8" cy="151.9" r="2.45"/><circle cx="520.6" cy="98.3" r="2.45"/><circle cx="470.1" cy="134.4" r="2.45"/><circle cx="499.5" cy="112.5" r="2.45"/><circle cx="460.6" cy="131.8" r="2.45"/><circle cx="481.8" cy="127.8" r="2.45"/><circle cx="433.8" cy="141.5" r="2.45"/><circle cx="582.2" cy="73.6" r="2.45"/><circle cx="446.8" cy="139.6" r="2.45"/><circle cx="532.9" cy="97.7" r="2.45"/><circle cx="504.9" cy="108.7" r="2.45"/><circle cx="424.4" cy="146.3" r="2.45"/><circle cx="479.8" cy="121.4" r="2.45"/><circle cx="453.3" cy="138.7" r="2.45"/><circle cx="539.9" cy="87.1" r="2.45"/><circle cx="473.3" cy="129.1" r="2.45"/><circle cx="544.1" cy="91.5" r="2.45"/><circle cx="526.8" cy="97.5" r="2.45"/><circle cx="464.6" cy="128.6" r="2.45"/><circle cx="409.9" cy="141.6" r="2.45"/><circle cx="518.8" cy="109.4" r="2.45"/><circle cx="520.0" cy="102.6" r="2.45"/><circle cx="518.6" cy="99.0" r="2.45"/><circle cx="523.9" cy="98.1" r="2.45"/><circle cx="576.0" cy="84.2" r="2.45"/><circle cx="533.4" cy="98.5" r="2.45"/><circle cx="520.4" cy="102.8" r="2.45"/><circle cx="558.6" cy="79.2" r="2.45"/><circle cx="514.8" cy="109.6" r="2.45"/><circle cx="464.2" cy="130.9" r="2.45"/><circle cx="587.6" cy="73.2" r="2.45"/><circle cx="535.3" cy="95.4" r="2.45"/><circle cx="552.0" cy="83.7" r="2.45"/><circle cx="440.2" cy="140.7" r="2.45"/><circle cx="484.5" cy="120.7" r="2.45"/><circle cx="456.2" cy="134.8" r="2.45"/><circle cx="498.6" cy="110.3" r="2.45"/><circle cx="500.8" cy="114.4" r="2.45"/><circle cx="457.6" cy="128.9" r="2.45"/><circle cx="489.8" cy="109.6" r="2.45"/><circle cx="431.7" cy="142.6" r="2.45"/><circle cx="479.2" cy="128.9" r="2.45"/><circle cx="493.2" cy="122.5" r="2.45"/><circle cx="432.0" cy="145.3" r="2.45"/><circle cx="433.4" cy="142.7" r="2.45"/><circle cx="585.4" cy="73.0" r="2.45"/><circle cx="483.8" cy="121.2" r="2.45"/><circle cx="472.5" cy="121.8" r="2.45"/><circle cx="517.3" cy="101.4" r="2.45"/><circle cx="481.4" cy="121.4" r="2.45"/><circle cx="547.4" cy="92.8" r="2.45"/><circle cx="543.3" cy="89.5" r="2.45"/><circle cx="484.1" cy="114.4" r="2.45"/><circle cx="499.3" cy="111.6" r="2.45"/><circle cx="530.2" cy="96.4" r="2.45"/><circle cx="472.2" cy="126.2" r="2.45"/><circle cx="527.3" cy="103.7" r="2.45"/><circle cx="534.0" cy="96.6" r="2.45"/><circle cx="528.2" cy="101.8" r="2.45"/><circle cx="537.7" cy="88.2" r="2.45"/><circle cx="461.6" cy="129.7" r="2.45"/><circle cx="469.2" cy="126.6" r="2.45"/><circle cx="529.6" cy="99.7" r="2.45"/><circle cx="495.4" cy="115.2" r="2.45"/><circle cx="471.3" cy="125.0" r="2.45"/><circle cx="501.3" cy="112.8" r="2.45"/><circle cx="541.5" cy="89.8" r="2.45"/><circle cx="497.6" cy="116.8" r="2.45"/><circle cx="506.2" cy="110.3" r="2.45"/><circle cx="472.5" cy="123.9" r="2.45"/><circle cx="548.0" cy="82.3" r="2.45"/><circle cx="560.2" cy="77.7" r="2.45"/><circle cx="499.3" cy="111.3" r="2.45"/><circle cx="503.1" cy="112.4" r="2.45"/><circle cx="483.8" cy="124.3" r="2.45"/><circle cx="485.0" cy="122.2" r="2.45"/><circle cx="446.9" cy="136.8" r="2.45"/><circle cx="503.8" cy="114.0" r="2.45"/><circle cx="497.2" cy="113.4" r="2.45"/><circle cx="463.8" cy="137.3" r="2.45"/><circle cx="552.5" cy="81.9" r="2.45"/><circle cx="515.6" cy="104.8" r="2.45"/><circle cx="510.1" cy="110.3" r="2.45"/><circle cx="465.7" cy="127.9" r="2.45"/><circle cx="553.0" cy="79.1" r="2.45"/><circle cx="517.8" cy="108.1" r="2.45"/><circle cx="454.0" cy="133.0" r="2.45"/><circle cx="461.1" cy="128.6" r="2.45"/><circle cx="458.1" cy="133.9" r="2.45"/><circle cx="503.9" cy="110.1" r="2.45"/><circle cx="449.0" cy="139.3" r="2.45"/><circle cx="485.7" cy="126.4" r="2.45"/><circle cx="441.7" cy="133.6" r="2.45"/><circle cx="537.0" cy="99.0" r="2.45"/><circle cx="442.7" cy="132.3" r="2.45"/><circle cx="555.0" cy="95.6" r="2.45"/><circle cx="542.6" cy="89.6" r="2.45"/><circle cx="480.2" cy="128.0" r="2.45"/><circle cx="492.6" cy="114.9" r="2.45"/><circle cx="546.2" cy="90.2" r="2.45"/><circle cx="446.8" cy="133.7" r="2.45"/><circle cx="450.4" cy="138.7" r="2.45"/><circle cx="471.7" cy="124.3" r="2.45"/><circle cx="549.2" cy="83.2" r="2.45"/><circle cx="539.6" cy="82.2" r="2.45"/><circle cx="453.7" cy="128.9" r="2.45"/><circle cx="497.9" cy="114.0" r="2.45"/><circle cx="549.5" cy="87.3" r="2.45"/><circle cx="538.3" cy="97.8" r="2.45"/><circle cx="418.5" cy="150.5" r="2.45"/><circle cx="438.1" cy="140.1" r="2.45"/><circle cx="561.9" cy="73.3" r="2.45"/><circle cx="537.6" cy="97.4" r="2.45"/><circle cx="514.4" cy="105.6" r="2.45"/><circle cx="485.3" cy="118.9" r="2.45"/><circle cx="451.8" cy="138.0" r="2.45"/><circle cx="510.2" cy="106.4" r="2.45"/><circle cx="467.9" cy="120.2" r="2.45"/><circle cx="484.1" cy="115.7" r="2.45"/><circle cx="467.8" cy="122.4" r="2.45"/><circle cx="492.3" cy="117.5" r="2.45"/><circle cx="445.5" cy="134.3" r="2.45"/><circle cx="510.4" cy="115.3" r="2.45"/><circle cx="528.4" cy="100.2" r="2.45"/><circle cx="515.2" cy="106.4" r="2.45"/><circle cx="571.4" cy="77.9" r="2.45"/><circle cx="513.2" cy="103.5" r="2.45"/><circle cx="443.2" cy="139.9" r="2.45"/><circle cx="463.9" cy="126.1" r="2.45"/><circle cx="461.5" cy="135.5" r="2.45"/><circle cx="607.6" cy="61.1" r="2.45"/><circle cx="465.7" cy="134.7" r="2.45"/><circle cx="484.6" cy="116.2" r="2.45"/><circle cx="514.0" cy="100.9" r="2.45"/><circle cx="527.4" cy="97.9" r="2.45"/><circle cx="465.4" cy="128.5" r="2.45"/><circle cx="449.3" cy="135.8" r="2.45"/><circle cx="453.3" cy="133.9" r="2.45"/><circle cx="498.0" cy="112.8" r="2.45"/><circle cx="578.2" cy="83.0" r="2.45"/><circle cx="490.0" cy="127.6" r="2.45"/><circle cx="518.3" cy="101.9" r="2.45"/><circle cx="528.4" cy="98.9" r="2.45"/><circle cx="528.6" cy="98.8" r="2.45"/><circle cx="487.8" cy="123.0" r="2.45"/><circle cx="580.3" cy="74.1" r="2.45"/><circle cx="488.7" cy="114.8" r="2.45"/><circle cx="568.0" cy="83.2" r="2.45"/><circle cx="549.7" cy="80.6" r="2.45"/><circle cx="459.7" cy="133.0" r="2.45"/><circle cx="516.3" cy="109.8" r="2.45"/><circle cx="571.7" cy="72.5" r="2.45"/><circle cx="540.8" cy="96.7" r="2.45"/><circle cx="403.4" cy="156.1" r="2.45"/><circle cx="477.2" cy="122.9" r="2.45"/><circle cx="500.3" cy="120.2" r="2.45"/><circle cx="432.6" cy="137.2" r="2.45"/><circle cx="507.2" cy="118.1" r="2.45"/><circle cx="471.2" cy="124.0" r="2.45"/><circle cx="452.6" cy="132.6" r="2.45"/><circle cx="597.3" cy="82.9" r="2.45"/><circle cx="542.6" cy="89.3" r="2.45"/><circle cx="463.6" cy="131.3" r="2.45"/><circle cx="462.9" cy="125.6" r="2.45"/><circle cx="452.6" cy="130.2" r="2.45"/><circle cx="519.7" cy="102.9" r="2.45"/><circle cx="394.0" cy="156.5" r="2.45"/><circle cx="521.7" cy="102.5" r="2.45"/><circle cx="439.6" cy="134.4" r="2.45"/><circle cx="494.7" cy="117.8" r="2.45"/><circle cx="460.8" cy="133.0" r="2.45"/><circle cx="560.3" cy="87.2" r="2.45"/><circle cx="493.1" cy="123.7" r="2.45"/><circle cx="520.5" cy="96.1" r="2.45"/></g>
<path d="M394.37 169.37L669.83 21.83" stroke="#ff0000" stroke-width="2.1" stroke-linecap="round" fill="none"/>
<rect x="380.6" y="14.45" width="303.00" height="162.30" fill="none" stroke="#d6d6d6" stroke-width="0.9"/>
<rect x="384.7" y="18.3" width="41.8" height="14.55" rx="1.6" fill="#fff" fill-opacity="0.8" stroke="#cccccc" stroke-opacity="0.8" stroke-width="0.8"/>
<path d="M388.00 25.10h16.2" stroke="#ff0000" stroke-width="2.0" stroke-linecap="round"/>
<text x="410.80" y="28.00" font-size="8.24" text-anchor="start" textLength="12.32" lengthAdjust="spacingAndGlyphs">PSI</text>
<text x="428.50" y="188.95" font-size="8.24" text-anchor="middle" textLength="5.12" lengthAdjust="spacingAndGlyphs">9</text>
<text x="492.33" y="188.95" font-size="8.24" text-anchor="middle" textLength="10.23" lengthAdjust="spacingAndGlyphs">10</text>
<text x="556.17" y="188.95" font-size="8.24" text-anchor="middle" textLength="10.23" lengthAdjust="spacingAndGlyphs">11</text>
<text x="620.00" y="188.95" font-size="8.24" text-anchor="middle" textLength="10.23" lengthAdjust="spacingAndGlyphs">12</text>
<text x="374.80" y="154.04" font-size="8.24" text-anchor="end" textLength="5.12" lengthAdjust="spacingAndGlyphs">9</text>
<text x="374.80" y="119.85" font-size="8.24" text-anchor="end" textLength="10.23" lengthAdjust="spacingAndGlyphs">10</text>
<text x="374.80" y="85.66" font-size="8.24" text-anchor="end" textLength="10.23" lengthAdjust="spacingAndGlyphs">11</text>
<text x="374.80" y="51.47" font-size="8.24" text-anchor="end" textLength="10.23" lengthAdjust="spacingAndGlyphs">12</text>
<text x="532.10" y="200.75" font-size="9.88" text-anchor="middle" textLength="53.86" lengthAdjust="spacingAndGlyphs">RF-Target.1</text>
<text x="359.40" y="95.60" font-size="9.88" text-anchor="middle" textLength="58.12" lengthAdjust="spacingAndGlyphs" transform="rotate(-90 359.40 95.60)">RF-Predict.1</text>
<text x="532.10" y="9.85" font-size="11.53" text-anchor="middle" textLength="150.36" lengthAdjust="spacingAndGlyphs">RF-Target.1 vs RF-Predict.1</text>
<rect x="39.0" y="227.0" width="303.00" height="162.30" fill="#fff"/>
<path d="M40.33 227.0V389.3M102.70 227.0V389.3M165.07 227.0V389.3M227.43 227.0V389.3M289.80 227.0V389.3M39.0 388.59H342.0M39.0 355.18H342.0M39.0 321.77H342.0M39.0 288.37H342.0M39.0 254.96H342.0" stroke="#cfcfcf" stroke-width="0.8" fill="none"/>
<g class="m"><circle cx="257.5" cy="278.7" r="2.45"/><circle cx="249.1" cy="282.7" r="2.45"/><circle cx="257.2" cy="279.4" r="2.45"/><circle cx="181.4" cy="302.6" r="2.45"/><circle cx="207.3" cy="300.1" r="2.45"/><circle cx="312.2" cy="254.1" r="2.45"/><circle cx="154.6" cy="326.7" r="2.45"/><circle cx="286.1" cy="259.9" r="2.45"/><circle cx="256.6" cy="276.4" r="2.45"/><circle cx="143.8" cy="333.0" r="2.45"/><circle cx="258.3" cy="273.1" r="2.45"/><circle cx="174.2" cy="309.3" r="2.45"/><circle cx="179.5" cy="303.9" r="2.45"/><circle cx="218.4" cy="291.0" r="2.45"/><circle cx="243.0" cy="281.6" r="2.45"/><circle cx="197.2" cy="304.8" r="2.45"/><circle cx="270.1" cy="269.1" r="2.45"/><circle cx="183.6" cy="303.6" r="2.45"/><circle cx="190.3" cy="313.0" r="2.45"/><circle cx="275.4" cy="271.2" r="2.45"/><circle cx="194.2" cy="300.1" r="2.45"/><circle cx="184.1" cy="304.1" r="2.45"/><circle cx="230.2" cy="286.4" r="2.45"/><circle cx="269.9" cy="270.6" r="2.45"/><circle cx="226.7" cy="284.1" r="2.45"/><circle cx="199.4" cy="304.3" r="2.45"/><circle cx="268.2" cy="269.9" r="2.45"/><circle cx="163.9" cy="314.2" r="2.45"/><circle cx="188.9" cy="306.8" r="2.45"/><circle cx="227.4" cy="287.5" r="2.45"/><circle cx="274.1" cy="267.9" r="2.45"/><circle cx="265.0" cy="269.6" r="2.45"/><circle cx="259.9" cy="275.7" r="2.45"/><circle cx="190.0" cy="313.0" r="2.45"/><circle cx="276.3" cy="275.6" r="2.45"/><circle cx="237.8" cy="279.0" r="2.45"/><circle cx="243.7" cy="280.8" r="2.45"/><circle cx="215.2" cy="291.6" r="2.45"/><circle cx="225.6" cy="299.7" r="2.45"/><circle cx="239.3" cy="282.6" r="2.45"/><circle cx="174.2" cy="308.7" r="2.45"/><circle cx="184.2" cy="318.3" r="2.45"/><circle cx="153.2" cy="324.4" r="2.45"/><circle cx="163.5" cy="324.1" r="2.45"/><circle cx="168.2" cy="319.6" r="2.45"/><circle cx="206.1" cy="304.3" r="2.45"/><circle cx="230.9" cy="283.1" r="2.45"/><circle cx="238.7" cy="286.5" r="2.45"/><circle cx="274.3" cy="269.4" r="2.45"/><circle cx="234.0" cy="276.8" r="2.45"/><circle cx="240.5" cy="281.5" r="2.45"/><circle cx="188.6" cy="307.4" r="2.45"/><circle cx="252.4" cy="282.5" r="2.45"/><circle cx="243.4" cy="280.0" r="2.45"/><circle cx="293.9" cy="252.8" r="2.45"/><circle cx="171.2" cy="318.7" r="2.45"/><circle cx="251.0" cy="275.4" r="2.45"/><circle cx="94.1" cy="343.3" r="2.45"/><circle cx="257.6" cy="276.6" r="2.45"/><circle cx="253.6" cy="275.1" r="2.45"/><circle cx="244.3" cy="276.8" r="2.45"/><circle cx="167.3" cy="315.0" r="2.45"/><circle cx="278.0" cy="264.5" r="2.45"/><circle cx="208.9" cy="294.9" r="2.45"/><circle cx="194.3" cy="306.3" r="2.45"/><circle cx="237.9" cy="277.8" r="2.45"/><circle cx="254.0" cy="276.4" r="2.45"/><circle cx="291.4" cy="262.1" r="2.45"/><circle cx="275.6" cy="267.2" r="2.45"/><circle cx="287.7" cy="260.3" r="2.45"/><circle cx="294.8" cy="259.0" r="2.45"/><circle cx="160.3" cy="320.1" r="2.45"/><circle cx="164.0" cy="316.7" r="2.45"/><circle cx="149.2" cy="327.1" r="2.45"/><circle cx="240.6" cy="277.5" r="2.45"/><circle cx="271.6" cy="268.7" r="2.45"/><circle cx="210.4" cy="297.8" r="2.45"/><circle cx="184.8" cy="309.3" r="2.45"/><circle cx="205.0" cy="297.7" r="2.45"/><circle cx="206.3" cy="298.3" r="2.45"/><circle cx="259.4" cy="271.2" r="2.45"/><circle cx="167.0" cy="321.9" r="2.45"/><circle cx="287.4" cy="258.4" r="2.45"/><circle cx="222.3" cy="287.2" r="2.45"/><circle cx="235.9" cy="288.0" r="2.45"/><circle cx="290.2" cy="260.4" r="2.45"/><circle cx="206.0" cy="298.8" r="2.45"/><circle cx="298.0" cy="257.6" r="2.45"/><circle cx="223.1" cy="293.0" r="2.45"/><circle cx="247.2" cy="279.9" r="2.45"/><circle cx="231.8" cy="288.6" r="2.45"/><circle cx="264.5" cy="271.5" r="2.45"/><circle cx="209.6" cy="300.3" r="2.45"/><circle cx="236.2" cy="287.6" r="2.45"/><circle cx="167.8" cy="317.2" r="2.45"/><circle cx="185.9" cy="307.3" r="2.45"/><circle cx="168.3" cy="316.5" r="2.45"/><circle cx="268.4" cy="269.4" r="2.45"/><circle cx="172.4" cy="315.6" r="2.45"/><circle cx="223.8" cy="286.4" r="2.45"/><circle cx="196.3" cy="303.8" r="2.45"/><circle cx="243.0" cy="278.3" r="2.45"/><circle cx="268.5" cy="272.7" r="2.45"/><circle cx="196.4" cy="304.2" r="2.45"/><circle cx="148.6" cy="327.1" r="2.45"/><circle cx="177.5" cy="313.7" r="2.45"/><circle cx="219.2" cy="298.0" r="2.45"/><circle cx="205.8" cy="301.4" r="2.45"/><circle cx="245.4" cy="282.0" r="2.45"/><circle cx="257.5" cy="274.1" r="2.45"/><circle cx="178.0" cy="310.3" r="2.45"/><circle cx="254.7" cy="273.1" r="2.45"/><circle cx="189.4" cy="305.7" r="2.45"/><circle cx="246.9" cy="282.0" r="2.45"/><circle cx="156.5" cy="328.5" r="2.45"/><circle cx="223.4" cy="291.9" r="2.45"/><circle cx="165.2" cy="316.2" r="2.45"/><circle cx="262.0" cy="273.5" r="2.45"/><circle cx="242.9" cy="281.3" r="2.45"/><circle cx="189.4" cy="311.4" r="2.45"/><circle cx="194.3" cy="300.9" r="2.45"/><circle cx="267.9" cy="269.4" r="2.45"/><circle cx="194.6" cy="303.7" r="2.45"/><circle cx="216.8" cy="293.3" r="2.45"/><circle cx="204.3" cy="305.6" r="2.45"/><circle cx="278.9" cy="269.1" r="2.45"/><circle cx="193.9" cy="302.7" r="2.45"/><circle cx="246.3" cy="281.9" r="2.45"/><circle cx="179.9" cy="310.4" r="2.45"/><circle cx="178.3" cy="310.9" r="2.45"/><circle cx="267.6" cy="274.5" r="2.45"/><circle cx="231.5" cy="281.0" r="2.45"/><circle cx="193.3" cy="302.0" r="2.45"/><circle cx="178.2" cy="313.4" r="2.45"/><circle cx="192.2" cy="309.4" r="2.45"/><circle cx="170.0" cy="316.7" r="2.45"/><circle cx="182.3" cy="312.6" r="2.45"/><circle cx="258.4" cy="276.1" r="2.45"/><circle cx="237.9" cy="285.1" r="2.45"/><circle cx="196.2" cy="306.9" r="2.45"/><circle cx="292.3" cy="258.2" r="2.45"/><circle cx="205.1" cy="302.7" r="2.45"/><circle cx="262.8" cy="270.8" r="2.45"/><circle cx="238.3" cy="280.2" r="2.45"/><circle cx="190.9" cy="311.2" r="2.45"/><circle cx="246.1" cy="279.0" r="2.45"/><circle cx="191.3" cy="308.4" r="2.45"/><circle cx="282.8" cy="261.8" r="2.45"/><circle cx="190.2" cy="311.3" r="2.45"/><circle cx="225.5" cy="286.7" r="2.45"/><circle cx="155.5" cy="325.3" r="2.45"/><circle cx="206.7" cy="297.6" r="2.45"/><circle cx="266.5" cy="267.0" r="2.45"/><circle cx="192.2" cy="305.9" r="2.45"/><circle cx="300.5" cy="253.8" r="2.45"/><circle cx="236.1" cy="285.4" r="2.45"/><circle cx="207.2" cy="299.4" r="2.45"/><circle cx="256.2" cy="280.5" r="2.45"/><circle cx="138.5" cy="332.3" r="2.45"/><circle cx="166.5" cy="315.2" r="2.45"/><circle cx="179.6" cy="314.2" r="2.45"/><circle cx="188.0" cy="302.1" r="2.45"/><circle cx="275.3" cy="268.5" r="2.45"/><circle cx="204.8" cy="293.9" r="2.45"/><circle cx="198.2" cy="301.2" r="2.45"/><circle cx="228.7" cy="290.8" r="2.45"/><circle cx="197.2" cy="305.6" r="2.45"/><circle cx="198.9" cy="299.4" r="2.45"/><circle cx="170.6" cy="319.1" r="2.45"/><circle cx="223.0" cy="288.8" r="2.45"/><circle cx="277.8" cy="267.5" r="2.45"/><circle cx="189.6" cy="305.9" r="2.45"/><circle cx="253.0" cy="282.8" r="2.45"/><circle cx="123.9" cy="338.7" r="2.45"/><circle cx="129.2" cy="338.3" r="2.45"/><circle cx="144.7" cy="332.0" r="2.45"/><circle cx="172.2" cy="319.0" r="2.45"/><circle cx="139.1" cy="333.3" r="2.45"/><circle cx="260.2" cy="276.5" r="2.45"/><circle cx="188.8" cy="321.0" r="2.45"/><circle cx="174.9" cy="319.2" r="2.45"/><circle cx="295.8" cy="258.5" r="2.45"/><circle cx="226.4" cy="279.3" r="2.45"/><circle cx="298.9" cy="254.8" r="2.45"/><circle cx="198.6" cy="301.7" r="2.45"/><circle cx="274.1" cy="267.6" r="2.45"/><circle cx="286.0" cy="263.5" r="2.45"/><circle cx="223.7" cy="294.1" r="2.45"/><circle cx="230.3" cy="292.0" r="2.45"/><circle cx="188.2" cy="308.7" r="2.45"/><circle cx="249.8" cy="277.6" r="2.45"/><circle cx="239.8" cy="282.6" r="2.45"/><circle cx="148.9" cy="323.2" r="2.45"/><circle cx="246.5" cy="273.9" r="2.45"/><circle cx="143.8" cy="335.6" r="2.45"/><circle cx="178.2" cy="311.7" r="2.45"/><circle cx="211.3" cy="293.7" r="2.45"/><circle cx="149.6" cy="329.3" r="2.45"/><circle cx="243.1" cy="283.1" r="2.45"/><circle cx="203.8" cy="302.3" r="2.45"/><circle cx="168.1" cy="317.0" r="2.45"/><circle cx="232.6" cy="286.0" r="2.45"/><circle cx="105.6" cy="334.6" r="2.45"/><circle cx="252.3" cy="280.7" r="2.45"/><circle cx="308.1" cy="252.7" r="2.45"/><circle cx="215.3" cy="294.0" r="2.45"/><circle cx="216.8" cy="292.6" r="2.45"/><circle cx="265.2" cy="274.0" r="2.45"/><circle cx="164.6" cy="324.9" r="2.45"/><circle cx="194.9" cy="299.7" r="2.45"/><circle cx="289.9" cy="261.5" r="2.45"/><circle cx="242.0" cy="282.7" r="2.45"/><circle cx="236.1" cy="285.2" r="2.45"/><circle cx="285.8" cy="262.0" r="2.45"/><circle cx="199.6" cy="308.3" r="2.45"/><circle cx="245.3" cy="283.1" r="2.45"/><circle cx="252.7" cy="283.0" r="2.45"/><circle cx="230.7" cy="282.0" r="2.45"/><circle cx="262.3" cy="279.2" r="2.45"/><circle cx="169.6" cy="316.9" r="2.45"/><circle cx="204.4" cy="293.0" r="2.45"/><circle cx="237.1" cy="287.0" r="2.45"/><circle cx="227.4" cy="279.1" r="2.45"/><circle cx="242.4" cy="281.0" r="2.45"/><circle cx="201.7" cy="300.9" r="2.45"/><circle cx="159.1" cy="324.6" r="2.45"/><circle cx="290.1" cy="256.0" r="2.45"/><circle cx="216.9" cy="293.9" r="2.45"/><circle cx="190.5" cy="309.8" r="2.45"/><circle cx="265.5" cy="271.5" r="2.45"/><circle cx="176.0" cy="317.8" r="2.45"/><circle cx="266.4" cy="274.0" r="2.45"/><circle cx="226.0" cy="293.0" r="2.45"/><circle cx="147.6" cy="334.9" r="2.45"/><circle cx="183.4" cy="313.7" r="2.45"/><circle cx="275.0" cy="266.5" r="2.45"/><circle cx="307.2" cy="253.9" r="2.45"/><circle cx="259.6" cy="272.4" r="2.45"/><circle cx="247.5" cy="280.8" r="2.45"/><circle cx="202.5" cy="301.0" r="2.45"/><circle cx="221.7" cy="284.6" r="2.45"/><circle cx="232.6" cy="288.8" r="2.45"/><circle cx="187.1" cy="308.8" r="2.45"/><circle cx="277.7" cy="266.4" r="2.45"/><circle cx="181.9" cy="314.2" r="2.45"/><circle cx="269.9" cy="269.0" r="2.45"/><circle cx="222.1" cy="290.6" r="2.45"/><circle cx="278.3" cy="263.4" r="2.45"/><circle cx="171.9" cy="316.2" r="2.45"/><circle cx="288.9" cy="260.6" r="2.45"/><circle cx="147.8" cy="313.6" r="2.45"/><circle cx="214.0" cy="293.9" r="2.45"/><circle cx="126.6" cy="336.0" r="2.45"/><circle cx="226.0" cy="295.6" r="2.45"/><circle cx="249.8" cy="276.6" r="2.45"/><circle cx="202.5" cy="304.0" r="2.45"/><circle cx="216.9" cy="296.2" r="2.45"/><circle cx="285.3" cy="259.9" r="2.45"/><circle cx="289.6" cy="258.0" r="2.45"/><circle cx="281.8" cy="263.4" r="2.45"/><circle cx="179.7" cy="315.9" r="2.45"/><circle cx="249.2" cy="277.1" r="2.45"/><circle cx="175.6" cy="312.6" r="2.45"/><circle cx="204.4" cy="297.1" r="2.45"/><circle cx="294.6" cy="257.5" r="2.45"/><circle cx="305.5" cy="251.7" r="2.45"/><circle cx="251.5" cy="280.2" r="2.45"/><circle cx="303.6" cy="251.7" r="2.45"/><circle cx="295.5" cy="258.4" r="2.45"/><circle cx="238.2" cy="287.2" r="2.45"/><circle cx="186.8" cy="311.0" r="2.45"/><circle cx="213.8" cy="293.5" r="2.45"/><circle cx="153.5" cy="327.5" r="2.45"/><circle cx="194.9" cy="295.5" r="2.45"/><circle cx="263.0" cy="275.3" r="2.45"/><circle cx="246.2" cy="277.4" r="2.45"/><circle cx="220.6" cy="299.4" r="2.45"/><circle cx="288.6" cy="264.7" r="2.45"/><circle cx="179.4" cy="311.3" r="2.45"/><circle cx="213.1" cy="300.3" r="2.45"/><circle cx="268.5" cy="268.4" r="2.45"/><circle cx="159.8" cy="326.0" r="2.45"/><circle cx="217.8" cy="291.6" r="2.45"/><circle cx="240.8" cy="282.8" r="2.45"/><circle cx="310.8" cy="253.7" r="2.45"/><circle cx="145.3" cy="327.8" r="2.45"/><circle cx="224.9" cy="290.1" r="2.45"/><circle cx="240.4" cy="277.4" r="2.45"/><circle cx="164.3" cy="317.6" r="2.45"/><circle cx="189.7" cy="305.2" r="2.45"/><circle cx="253.1" cy="282.2" r="2.45"/><circle cx="260.5" cy="273.3" r="2.45"/><circle cx="178.1" cy="312.6" r="2.45"/><circle cx="233.0" cy="287.6" r="2.45"/><circle cx="279.2" cy="263.0" r="2.45"/><circle cx="207.1" cy="297.9" r="2.45"/><circle cx="175.2" cy="311.2" r="2.45"/><circle cx="260.2" cy="273.8" r="2.45"/><circle cx="302.0" cy="253.9" r="2.45"/><circle cx="229.4" cy="280.9" r="2.45"/><circle cx="200.0" cy="302.8" r="2.45"/><circle cx="222.8" cy="292.7" r="2.45"/><circle cx="182.5" cy="308.0" r="2.45"/><circle cx="247.5" cy="281.9" r="2.45"/><circle cx="201.7" cy="299.8" r="2.45"/><circle cx="157.8" cy="319.8" r="2.45"/><circle cx="308.7" cy="253.9" r="2.45"/><circle cx="183.0" cy="307.1" r="2.45"/><circle cx="172.0" cy="320.2" r="2.45"/><circle cx="226.7" cy="288.5" r="2.45"/><circle cx="220.6" cy="292.6" r="2.45"/><circle cx="270.5" cy="273.4" r="2.45"/><circle cx="201.7" cy="304.6" r="2.45"/><circle cx="289.4" cy="263.5" r="2.45"/><circle cx="253.0" cy="276.3" r="2.45"/><circle cx="241.4" cy="286.6" r="2.45"/><circle cx="240.4" cy="289.1" r="2.45"/><circle cx="269.2" cy="272.7" r="2.45"/><circle cx="256.2" cy="277.2" r="2.45"/><circle cx="259.6" cy="276.8" r="2.45"/><circle cx="167.4" cy="318.8" r="2.45"/><circle cx="205.2" cy="294.9" r="2.45"/><circle cx="249.7" cy="280.3" r="2.45"/><circle cx="184.3" cy="314.5" r="2.45"/><circle cx="272.9" cy="272.9" r="2.45"/><circle cx="215.2" cy="293.7" r="2.45"/><circle cx="152.7" cy="323.1" r="2.45"/><circle cx="238.9" cy="286.5" r="2.45"/><circle cx="263.6" cy="274.2" r="2.45"/><circle cx="161.0" cy="324.7" r="2.45"/><circle cx="259.2" cy="279.2" r="2.45"/><circle cx="265.4" cy="277.0" r="2.45"/><circle cx="276.0" cy="268.6" r="2.45"/><circle cx="225.1" cy="291.4" r="2.45"/><circle cx="217.6" cy="293.8" r="2.45"/><circle cx="270.9" cy="267.7" r="2.45"/><circle cx="237.9" cy="282.3" r="2.45"/><circle cx="232.6" cy="288.8" r="2.45"/><circle cx="273.7" cy="270.1" r="2.45"/><circle cx="308.5" cy="246.6" r="2.45"/><circle cx="214.8" cy="300.1" r="2.45"/><circle cx="165.1" cy="320.0" r="2.45"/><circle cx="188.1" cy="305.2" r="2.45"/><circle cx="173.4" cy="319.0" r="2.45"/><circle cx="184.2" cy="313.4" r="2.45"/><circle cx="295.3" cy="257.0" r="2.45"/><circle cx="203.4" cy="301.0" r="2.45"/><circle cx="144.5" cy="329.0" r="2.45"/><circle cx="165.0" cy="321.1" r="2.45"/><circle cx="215.3" cy="291.6" r="2.45"/><circle cx="220.8" cy="288.2" r="2.45"/><circle cx="257.1" cy="274.3" r="2.45"/><circle cx="251.1" cy="272.8" r="2.45"/><circle cx="275.8" cy="266.5" r="2.45"/><circle cx="244.5" cy="278.6" r="2.45"/><circle cx="168.8" cy="322.8" r="2.45"/><circle cx="257.5" cy="282.2" r="2.45"/><circle cx="261.3" cy="273.5" r="2.45"/><circle cx="194.8" cy="305.5" r="2.45"/><circle cx="220.0" cy="285.2" r="2.45"/><circle cx="244.3" cy="283.7" r="2.45"/><circle cx="259.4" cy="274.5" r="2.45"/><circle cx="192.3" cy="303.6" r="2.45"/><circle cx="301.0" cy="256.7" r="2.45"/><circle cx="200.2" cy="295.9" r="2.45"/><circle cx="161.1" cy="318.3" r="2.45"/><circle cx="211.8" cy="298.3" r="2.45"/><circle cx="283.1" cy="261.8" r="2.45"/><circle cx="242.9" cy="285.0" r="2.45"/><circle cx="242.9" cy="277.9" r="2.45"/><circle cx="106.3" cy="348.2" r="2.45"/><circle cx="168.7" cy="316.1" r="2.45"/><circle cx="254.7" cy="279.0" r="2.45"/><circle cx="232.5" cy="289.5" r="2.45"/><circle cx="286.6" cy="263.1" r="2.45"/><circle cx="242.9" cy="284.3" r="2.45"/><circle cx="208.1" cy="310.5" r="2.45"/><circle cx="203.9" cy="301.6" r="2.45"/><circle cx="158.5" cy="319.6" r="2.45"/><circle cx="204.8" cy="304.7" r="2.45"/><circle cx="244.2" cy="283.6" r="2.45"/><circle cx="191.4" cy="313.0" r="2.45"/><circle cx="196.3" cy="307.8" r="2.45"/><circle cx="189.7" cy="306.6" r="2.45"/><circle cx="304.2" cy="253.3" r="2.45"/><circle cx="286.9" cy="265.1" r="2.45"/><circle cx="262.3" cy="279.5" r="2.45"/><circle cx="258.5" cy="275.4" r="2.45"/><circle cx="296.3" cy="258.9" r="2.45"/><circle cx="187.3" cy="307.0" r="2.45"/><circle cx="235.3" cy="282.7" r="2.45"/><circle cx="229.3" cy="289.9" r="2.45"/><circle cx="231.1" cy="289.9" r="2.45"/><circle cx="218.2" cy="294.1" r="2.45"/><circle cx="295.7" cy="259.4" r="2.45"/><circle cx="287.6" cy="262.1" r="2.45"/><circle cx="205.0" cy="303.1" r="2.45"/><circle cx="289.3" cy="259.7" r="2.45"/><circle cx="249.1" cy="279.3" r="2.45"/><circle cx="185.0" cy="309.6" r="2.45"/><circle cx="267.5" cy="270.6" r="2.45"/><circle cx="300.5" cy="257.2" r="2.45"/><circle cx="219.8" cy="286.0" r="2.45"/><circle cx="168.8" cy="311.7" r="2.45"/><circle cx="293.3" cy="258.9" r="2.45"/><circle cx="237.7" cy="282.7" r="2.45"/><circle cx="278.4" cy="281.7" r="2.45"/><circle cx="264.1" cy="268.0" r="2.45"/><circle cx="243.7" cy="283.1" r="2.45"/><circle cx="160.0" cy="322.9" r="2.45"/><circle cx="250.2" cy="277.7" r="2.45"/><circle cx="232.8" cy="282.6" r="2.45"/><circle cx="158.3" cy="326.2" r="2.45"/><circle cx="243.3" cy="268.7" r="2.45"/><circle cx="241.5" cy="283.8" r="2.45"/><circle cx="197.5" cy="306.2" r="2.45"/><circle cx="229.4" cy="280.8" r="2.45"/><circle cx="284.7" cy="265.5" r="2.45"/><circle cx="244.0" cy="280.7" r="2.45"/><circle cx="252.1" cy="277.8" r="2.45"/><circle cx="236.7" cy="281.5" r="2.45"/><circle cx="293.5" cy="257.2" r="2.45"/><circle cx="307.5" cy="253.7" r="2.45"/><circle cx="221.0" cy="290.0" r="2.45"/><circle cx="281.8" cy="267.9" r="2.45"/><circle cx="251.5" cy="276.3" r="2.45"/><circle cx="207.4" cy="297.4" r="2.45"/><circle cx="182.3" cy="311.5" r="2.45"/><circle cx="229.0" cy="283.1" r="2.45"/><circle cx="192.5" cy="309.2" r="2.45"/><circle cx="249.9" cy="281.1" r="2.45"/><circle cx="140.2" cy="329.7" r="2.45"/><circle cx="143.5" cy="337.0" r="2.45"/><circle cx="212.5" cy="301.4" r="2.45"/><circle cx="217.3" cy="293.3" r="2.45"/><circle cx="222.1" cy="292.3" r="2.45"/><circle cx="256.3" cy="281.9" r="2.45"/><circle cx="205.2" cy="295.9" r="2.45"/><circle cx="212.8" cy="292.3" r="2.45"/><circle cx="291.7" cy="258.2" r="2.45"/><circle cx="246.2" cy="279.3" r="2.45"/><circle cx="206.8" cy="290.5" r="2.45"/><circle cx="306.5" cy="254.4" r="2.45"/><circle cx="292.1" cy="258.2" r="2.45"/><circle cx="185.4" cy="311.5" r="2.45"/><circle cx="297.5" cy="258.4" r="2.45"/><circle cx="244.5" cy="283.0" r="2.45"/><circle cx="258.0" cy="274.1" r="2.45"/><circle cx="193.9" cy="311.5" r="2.45"/><circle cx="204.6" cy="293.3" r="2.45"/><circle cx="234.0" cy="287.4" r="2.45"/><circle cx="238.8" cy="280.8" r="2.45"/><circle cx="252.5" cy="270.1" r="2.45"/><circle cx="262.1" cy="271.4" r="2.45"/><circle cx="227.9" cy="285.8" r="2.45"/><circle cx="163.5" cy="301.0" r="2.45"/><circle cx="217.0" cy="297.4" r="2.45"/><circle cx="192.9" cy="306.9" r="2.45"/><circle cx="184.8" cy="307.3" r="2.45"/><circle cx="251.8" cy="282.6" r="2.45"/><circle cx="186.8" cy="309.4" r="2.45"/><circle cx="201.0" cy="303.8" r="2.45"/><circle cx="157.9" cy="317.6" r="2.45"/><circle cx="247.6" cy="278.3" r="2.45"/><circle cx="247.1" cy="282.1" r="2.45"/><circle cx="250.6" cy="283.4" r="2.45"/><circle cx="191.9" cy="306.0" r="2.45"/><circle cx="138.2" cy="336.3" r="2.45"/><circle cx="235.4" cy="285.6" r="2.45"/><circle cx="179.0" cy="317.2" r="2.45"/><circle cx="276.7" cy="268.3" r="2.45"/><circle cx="199.8" cy="306.9" r="2.45"/><circle cx="199.3" cy="302.0" r="2.45"/><circle cx="234.6" cy="285.2" r="2.45"/><circle cx="236.2" cy="291.8" r="2.45"/><circle cx="251.4" cy="273.7" r="2.45"/><circle cx="117.4" cy="344.3" r="2.45"/><circle cx="297.5" cy="258.9" r="2.45"/><circle cx="262.4" cy="276.2" r="2.45"/><circle cx="304.9" cy="256.1" r="2.45"/><circle cx="175.8" cy="309.0" r="2.45"/><circle cx="239.0" cy="287.7" r="2.45"/><circle cx="227.8" cy="283.3" r="2.45"/><circle cx="284.7" cy="261.0" r="2.45"/><circle cx="265.0" cy="274.3" r="2.45"/><circle cx="172.6" cy="312.3" r="2.45"/><circle cx="179.1" cy="320.4" r="2.45"/><circle cx="257.9" cy="278.0" r="2.45"/><circle cx="240.2" cy="289.3" r="2.45"/><circle cx="241.3" cy="285.9" r="2.45"/><circle cx="192.1" cy="300.0" r="2.45"/><circle cx="122.6" cy="325.3" r="2.45"/><circle cx="280.4" cy="262.0" r="2.45"/><circle cx="245.3" cy="280.4" r="2.45"/><circle cx="259.7" cy="275.0" r="2.45"/><circle cx="257.9" cy="270.9" r="2.45"/><circle cx="234.0" cy="281.7" r="2.45"/><circle cx="277.8" cy="267.6" r="2.45"/><circle cx="199.7" cy="300.3" r="2.45"/><circle cx="283.7" cy="260.3" r="2.45"/><circle cx="166.4" cy="319.4" r="2.45"/><circle cx="79.2" cy="353.6" r="2.45"/><circle cx="220.0" cy="290.8" r="2.45"/><circle cx="280.3" cy="263.7" r="2.45"/><circle cx="262.3" cy="272.1" r="2.45"/><circle cx="238.1" cy="285.4" r="2.45"/><circle cx="197.4" cy="305.2" r="2.45"/><circle cx="194.1" cy="311.1" r="2.45"/><circle cx="278.5" cy="264.5" r="2.45"/><circle cx="234.9" cy="291.6" r="2.45"/><circle cx="288.4" cy="260.5" r="2.45"/><circle cx="209.5" cy="295.9" r="2.45"/><circle cx="210.2" cy="297.8" r="2.45"/><circle cx="263.1" cy="276.8" r="2.45"/><circle cx="231.9" cy="284.3" r="2.45"/><circle cx="278.4" cy="263.1" r="2.45"/><circle cx="217.1" cy="295.2" r="2.45"/><circle cx="230.3" cy="284.2" r="2.45"/><circle cx="169.7" cy="320.2" r="2.45"/><circle cx="235.5" cy="283.5" r="2.45"/><circle cx="208.4" cy="296.3" r="2.45"/><circle cx="224.4" cy="290.8" r="2.45"/><circle cx="271.3" cy="268.4" r="2.45"/><circle cx="263.9" cy="282.2" r="2.45"/><circle cx="175.4" cy="308.4" r="2.45"/><circle cx="195.8" cy="306.3" r="2.45"/><circle cx="198.4" cy="302.7" r="2.45"/><circle cx="167.2" cy="326.5" r="2.45"/><circle cx="233.1" cy="288.6" r="2.45"/><circle cx="270.5" cy="281.3" r="2.45"/><circle cx="302.3" cy="255.6" r="2.45"/><circle cx="254.8" cy="278.3" r="2.45"/><circle cx="211.3" cy="302.0" r="2.45"/><circle cx="231.9" cy="286.0" r="2.45"/><circle cx="188.7" cy="309.7" r="2.45"/><circle cx="259.9" cy="277.5" r="2.45"/><circle cx="248.6" cy="281.2" r="2.45"/><circle cx="285.2" cy="262.7" r="2.45"/><circle cx="298.9" cy="254.3" r="2.45"/><circle cx="174.8" cy="319.0" r="2.45"/><circle cx="291.5" cy="258.4" r="2.45"/><circle cx="169.7" cy="311.7" r="2.45"/><circle cx="278.7" cy="263.2" r="2.45"/><circle cx="195.9" cy="306.6" r="2.45"/><circle cx="150.7" cy="326.4" r="2.45"/><circle cx="283.1" cy="261.6" r="2.45"/><circle cx="207.1" cy="303.9" r="2.45"/><circle cx="260.8" cy="272.8" r="2.45"/><circle cx="183.6" cy="313.3" r="2.45"/><circle cx="244.2" cy="284.1" r="2.45"/><circle cx="276.7" cy="267.3" r="2.45"/><circle cx="237.8" cy="284.5" r="2.45"/><circle cx="204.7" cy="295.3" r="2.45"/><circle cx="209.1" cy="296.9" r="2.45"/><circle cx="224.0" cy="289.9" r="2.45"/><circle cx="246.1" cy="277.0" r="2.45"/><circle cx="252.6" cy="282.3" r="2.45"/><circle cx="184.0" cy="311.4" r="2.45"/><circle cx="210.8" cy="299.7" r="2.45"/><circle cx="192.5" cy="307.7" r="2.45"/><circle cx="190.7" cy="306.8" r="2.45"/><circle cx="241.3" cy="283.1" r="2.45"/><circle cx="252.9" cy="270.2" r="2.45"/><circle cx="298.6" cy="268.3" r="2.45"/><circle cx="223.3" cy="292.6" r="2.45"/><circle cx="163.9" cy="320.8" r="2.45"/><circle cx="238.7" cy="286.7" r="2.45"/><circle cx="263.8" cy="271.1" r="2.45"/><circle cx="209.5" cy="300.2" r="2.45"/><circle cx="253.1" cy="280.7" r="2.45"/><circle cx="207.9" cy="299.9" r="2.45"/><circle cx="195.3" cy="304.2" r="2.45"/><circle cx="239.7" cy="285.4" r="2.45"/><circle cx="231.6" cy="286.0" r="2.45"/><circle cx="249.8" cy="278.7" r="2.45"/><circle cx="280.3" cy="267.1" r="2.45"/><circle cx="240.4" cy="280.0" r="2.45"/><circle cx="213.6" cy="300.4" r="2.45"/><circle cx="233.5" cy="287.6" r="2.45"/><circle cx="289.7" cy="260.1" r="2.45"/><circle cx="243.0" cy="273.1" r="2.45"/><circle cx="323.3" cy="245.3" r="2.45"/><circle cx="278.1" cy="268.3" r="2.45"/><circle cx="178.7" cy="308.2" r="2.45"/><circle cx="266.6" cy="273.6" r="2.45"/><circle cx="223.4" cy="296.2" r="2.45"/><circle cx="253.9" cy="276.9" r="2.45"/><circle cx="168.6" cy="316.9" r="2.45"/><circle cx="255.7" cy="273.1" r="2.45"/><circle cx="256.4" cy="286.8" r="2.45"/><circle cx="205.6" cy="302.1" r="2.45"/><circle cx="166.0" cy="313.4" r="2.45"/><circle cx="194.2" cy="305.1" r="2.45"/><circle cx="189.1" cy="303.7" r="2.45"/><circle cx="292.8" cy="259.3" r="2.45"/><circle cx="208.0" cy="294.3" r="2.45"/><circle cx="226.1" cy="290.5" r="2.45"/><circle cx="233.6" cy="285.3" r="2.45"/><circle cx="234.5" cy="286.9" r="2.45"/><circle cx="294.5" cy="260.2" r="2.45"/><circle cx="179.8" cy="313.8" r="2.45"/><circle cx="221.8" cy="295.4" r="2.45"/><circle cx="231.9" cy="287.3" r="2.45"/><circle cx="173.2" cy="319.6" r="2.45"/><circle cx="220.6" cy="289.6" r="2.45"/><circle cx="218.8" cy="289.8" r="2.45"/><circle cx="270.3" cy="269.3" r="2.45"/><circle cx="221.9" cy="292.8" r="2.45"/><circle cx="219.1" cy="286.4" r="2.45"/><circle cx="211.2" cy="296.4" r="2.45"/><circle cx="90.8" cy="329.0" r="2.45"/><circle cx="275.9" cy="268.9" r="2.45"/><circle cx="250.2" cy="284.0" r="2.45"/><circle cx="233.6" cy="285.8" r="2.45"/><circle cx="190.5" cy="310.0" r="2.45"/><circle cx="218.3" cy="293.0" r="2.45"/><circle cx="248.3" cy="273.4" r="2.45"/><circle cx="270.3" cy="274.9" r="2.45"/><circle cx="173.0" cy="316.6" r="2.45"/><circle cx="238.6" cy="285.5" r="2.45"/><circle cx="186.4" cy="309.9" r="2.45"/><circle cx="295.9" cy="257.9" r="2.45"/><circle cx="253.6" cy="282.1" r="2.45"/><circle cx="179.6" cy="312.6" r="2.45"/><circle cx="308.3" cy="253.7" r="2.45"/><circle cx="224.8" cy="290.2" r="2.45"/><circle cx="212.5" cy="298.8" r="2.45"/><circle cx="174.6" cy="318.5" r="2.45"/><circle cx="214.1" cy="303.8" r="2.45"/><circle cx="269.8" cy="263.9" r="2.45"/><circle cx="277.4" cy="264.4" r="2.45"/><circle cx="284.7" cy="259.9" r="2.45"/><circle cx="260.3" cy="279.0" r="2.45"/><circle cx="233.0" cy="289.9" r="2.45"/><circle cx="165.3" cy="323.9" r="2.45"/><circle cx="168.3" cy="316.1" r="2.45"/><circle cx="228.6" cy="294.7" r="2.45"/><circle cx="175.6" cy="308.0" r="2.45"/><circle cx="230.8" cy="297.5" r="2.45"/><circle cx="227.2" cy="293.7" r="2.45"/><circle cx="252.9" cy="277.0" r="2.45"/><circle cx="273.0" cy="272.7" r="2.45"/><circle cx="202.1" cy="303.9" r="2.45"/><circle cx="178.0" cy="312.9" r="2.45"/><circle cx="255.6" cy="277.0" r="2.45"/><circle cx="234.3" cy="291.4" r="2.45"/><circle cx="218.4" cy="293.5" r="2.45"/><circle cx="228.2" cy="290.0" r="2.45"/><circle cx="271.4" cy="264.3" r="2.45"/><circle cx="192.5" cy="304.3" r="2.45"/><circle cx="244.2" cy="279.8" r="2.45"/><circle cx="203.4" cy="303.2" r="2.45"/><circle cx="196.1" cy="306.0" r="2.45"/><circle cx="295.8" cy="254.7" r="2.45"/><circle cx="205.2" cy="299.3" r="2.45"/><circle cx="196.1" cy="297.8" r="2.45"/><circle cx="260.9" cy="273.7" r="2.45"/><circle cx="92.8" cy="349.3" r="2.45"/><circle cx="226.3" cy="287.2" r="2.45"/><circle cx="303.3" cy="253.6" r="2.45"/><circle cx="262.4" cy="275.4" r="2.45"/><circle cx="235.5" cy="283.5" r="2.45"/><circle cx="170.8" cy="319.1" r="2.45"/><circle cx="285.5" cy="260.4" r="2.45"/><circle cx="276.1" cy="267.8" r="2.45"/><circle cx="275.9" cy="267.6" r="2.45"/><circle cx="228.0" cy="276.9" r="2.45"/><circle cx="257.9" cy="280.8" r="2.45"/><circle cx="254.6" cy="284.5" r="2.45"/><circle cx="219.3" cy="295.4" r="2.45"/><circle cx="174.8" cy="317.6" r="2.45"/><circle cx="176.9" cy="319.2" r="2.45"/><circle cx="229.4" cy="290.4" r="2.45"/><circle cx="220.0" cy="293.5" r="2.45"/><circle cx="239.4" cy="276.7" r="2.45"/><circle cx="208.9" cy="300.5" r="2.45"/><circle cx="255.5" cy="283.0" r="2.45"/><circle cx="219.3" cy="296.2" r="2.45"/><circle cx="276.2" cy="260.3" r="2.45"/><circle cx="278.3" cy="270.7" r="2.45"/><circle cx="276.5" cy="266.3" r="2.45"/><circle cx="154.3" cy="326.0" r="2.45"/><circle cx="214.0" cy="292.6" r="2.45"/><circle cx="209.0" cy="301.8" r="2.45"/><circle cx="137.4" cy="330.0" r="2.45"/><circle cx="264.0" cy="273.2" r="2.45"/><circle cx="185.3" cy="306.7" r="2.45"/><circle cx="241.0" cy="286.8" r="2.45"/><circle cx="267.1" cy="267.5" r="2.45"/><circle cx="277.0" cy="270.4" r="2.45"/><circle cx="253.2" cy="276.2" r="2.45"/><circle cx="266.4" cy="270.5" r="2.45"/><circle cx="209.9" cy="300.2" r="2.45"/><circle cx="241.5" cy="287.8" r="2.45"/><circle cx="83.5" cy="350.9" r="2.45"/><circle cx="203.0" cy="293.5" r="2.45"/><circle cx="282.8" cy="263.9" r="2.45"/><circle cx="221.9" cy="282.1" r="2.45"/><circle cx="183.1" cy="312.3" r="2.45"/><circle cx="251.1" cy="275.5" r="2.45"/><circle cx="328.6" cy="244.3" r="2.45"/><circle cx="173.9" cy="306.2" r="2.45"/><circle cx="193.9" cy="305.0" r="2.45"/><circle cx="177.2" cy="310.0" r="2.45"/><circle cx="205.4" cy="295.1" r="2.45"/><circle cx="244.3" cy="285.0" r="2.45"/><circle cx="242.6" cy="269.2" r="2.45"/><circle cx="274.0" cy="269.3" r="2.45"/><circle cx="168.5" cy="320.1" r="2.45"/><circle cx="153.9" cy="321.5" r="2.45"/><circle cx="282.2" cy="266.4" r="2.45"/><circle cx="241.9" cy="286.1" r="2.45"/><circle cx="279.2" cy="265.9" r="2.45"/><circle cx="202.0" cy="301.4" r="2.45"/><circle cx="289.4" cy="257.3" r="2.45"/><circle cx="187.7" cy="312.7" r="2.45"/><circle cx="225.5" cy="291.5" r="2.45"/><circle cx="234.1" cy="286.3" r="2.45"/><circle cx="189.1" cy="310.6" r="2.45"/><circle cx="211.3" cy="297.5" r="2.45"/><circle cx="226.4" cy="289.1" r="2.45"/><circle cx="189.4" cy="308.2" r="2.45"/><circle cx="206.2" cy="302.5" r="2.45"/><circle cx="164.5" cy="316.2" r="2.45"/><circle cx="136.6" cy="335.7" r="2.45"/><circle cx="285.4" cy="259.8" r="2.45"/><circle cx="226.7" cy="284.6" r="2.45"/><circle cx="153.0" cy="330.4" r="2.45"/><circle cx="259.8" cy="270.4" r="2.45"/><circle cx="299.8" cy="253.3" r="2.45"/><circle cx="239.7" cy="286.4" r="2.45"/><circle cx="291.2" cy="283.4" r="2.45"/><circle cx="193.1" cy="309.1" r="2.45"/><circle cx="236.7" cy="283.5" r="2.45"/><circle cx="296.5" cy="260.2" r="2.45"/><circle cx="266.7" cy="274.3" r="2.45"/><circle cx="253.4" cy="277.0" r="2.45"/><circle cx="122.6" cy="338.8" r="2.45"/><circle cx="246.9" cy="277.9" r="2.45"/><circle cx="133.6" cy="333.7" r="2.45"/><circle cx="263.7" cy="273.7" r="2.45"/><circle cx="260.0" cy="277.2" r="2.45"/><circle cx="143.9" cy="330.1" r="2.45"/><circle cx="151.8" cy="328.6" r="2.45"/><circle cx="277.1" cy="267.3" r="2.45"/><circle cx="278.6" cy="262.4" r="2.45"/><circle cx="285.3" cy="260.4" r="2.45"/><circle cx="297.2" cy="258.8" r="2.45"/><circle cx="285.3" cy="262.6" r="2.45"/><circle cx="259.4" cy="270.4" r="2.45"/><circle cx="155.0" cy="320.3" r="2.45"/><circle cx="250.5" cy="274.9" r="2.45"/><circle cx="258.5" cy="281.8" r="2.45"/><circle cx="197.4" cy="308.1" r="2.45"/><circle cx="232.8" cy="289.7" r="2.45"/><circle cx="238.4" cy="283.8" r="2.45"/><circle cx="214.7" cy="298.3" r="2.45"/><circle cx="260.6" cy="281.9" r="2.45"/><circle cx="183.1" cy="309.0" r="2.45"/><circle cx="236.9" cy="287.9" r="2.45"/><circle cx="240.8" cy="281.5" r="2.45"/><circle cx="262.0" cy="273.6" r="2.45"/><circle cx="248.7" cy="278.1" r="2.45"/><circle cx="164.8" cy="328.4" r="2.45"/><circle cx="273.4" cy="270.8" r="2.45"/><circle cx="202.5" cy="300.6" r="2.45"/><circle cx="199.7" cy="308.0" r="2.45"/><circle cx="206.7" cy="297.1" r="2.45"/><circle cx="299.9" cy="256.1" r="2.45"/><circle cx="157.2" cy="321.5" r="2.45"/><circle cx="146.6" cy="334.0" r="2.45"/><circle cx="236.3" cy="285.9" r="2.45"/><circle cx="252.3" cy="281.8" r="2.45"/><circle cx="231.3" cy="285.2" r="2.45"/><circle cx="209.0" cy="285.5" r="2.45"/><circle cx="292.8" cy="255.0" r="2.45"/><circle cx="267.5" cy="271.0" r="2.45"/><circle cx="130.2" cy="311.7" r="2.45"/><circle cx="242.2" cy="281.4" r="2.45"/><circle cx="212.8" cy="293.7" r="2.45"/><circle cx="241.9" cy="286.7" r="2.45"/><circle cx="181.9" cy="311.7" r="2.45"/><circle cx="182.4" cy="312.1" r="2.45"/><circle cx="211.6" cy="294.3" r="2.45"/><circle cx="214.8" cy="295.0" r="2.45"/><circle cx="267.1" cy="271.0" r="2.45"/><circle cx="258.9" cy="276.8" r="2.45"/><circle cx="239.0" cy="285.1" r="2.45"/><circle cx="176.2" cy="312.6" r="2.45"/><circle cx="231.5" cy="287.7" r="2.45"/><circle cx="162.7" cy="319.0" r="2.45"/><circle cx="249.9" cy="282.4" r="2.45"/><circle cx="225.7" cy="301.2" r="2.45"/><circle cx="296.3" cy="257.1" r="2.45"/><circle cx="237.3" cy="287.1" r="2.45"/><circle cx="212.0" cy="296.5" r="2.45"/><circle cx="194.7" cy="304.4" r="2.45"/><circle cx="271.3" cy="271.5" r="2.45"/><circle cx="148.3" cy="331.6" r="2.45"/><circle cx="167.2" cy="321.0" r="2.45"/><circle cx="185.2" cy="306.8" r="2.45"/><circle cx="222.8" cy="288.5" r="2.45"/><circle cx="164.4" cy="314.9" r="2.45"/><circle cx="256.2" cy="283.3" r="2.45"/><circle cx="256.8" cy="276.9" r="2.45"/><circle cx="266.2" cy="271.0" r="2.45"/><circle cx="291.3" cy="257.9" r="2.45"/><circle cx="301.3" cy="253.8" r="2.45"/><circle cx="200.1" cy="304.1" r="2.45"/><circle cx="226.1" cy="285.6" r="2.45"/><circle cx="142.5" cy="331.3" r="2.45"/><circle cx="234.0" cy="283.1" r="2.45"/><circle cx="234.0" cy="286.0" r="2.45"/><circle cx="193.5" cy="303.4" r="2.45"/><circle cx="215.8" cy="293.8" r="2.45"/><circle cx="177.8" cy="318.7" r="2.45"/><circle cx="234.6" cy="288.6" r="2.45"/><circle cx="198.6" cy="304.8" r="2.45"/><circle cx="208.8" cy="298.1" r="2.45"/><circle cx="277.0" cy="263.8" r="2.45"/><circle cx="159.6" cy="326.0" r="2.45"/><circle cx="212.3" cy="300.2" r="2.45"/><circle cx="294.0" cy="256.7" r="2.45"/><circle cx="161.7" cy="324.7" r="2.45"/><circle cx="255.5" cy="280.3" r="2.45"/><circle cx="210.9" cy="302.3" r="2.45"/><circle cx="175.0" cy="316.1" r="2.45"/><circle cx="111.2" cy="344.3" r="2.45"/><circle cx="226.2" cy="301.4" r="2.45"/><circle cx="187.4" cy="302.1" r="2.45"/><circle cx="216.6" cy="297.6" r="2.45"/><circle cx="262.4" cy="274.8" r="2.45"/><circle cx="176.5" cy="302.4" r="2.45"/><circle cx="268.4" cy="269.2" r="2.45"/><circle cx="279.4" cy="267.3" r="2.45"/><circle cx="178.7" cy="309.2" r="2.45"/><circle cx="196.5" cy="304.7" r="2.45"/><circle cx="286.8" cy="261.9" r="2.45"/><circle cx="169.1" cy="316.5" r="2.45"/><circle cx="261.7" cy="276.4" r="2.45"/><circle cx="276.3" cy="264.8" r="2.45"/><circle cx="241.7" cy="283.1" r="2.45"/><circle cx="238.1" cy="285.8" r="2.45"/><circle cx="237.6" cy="289.5" r="2.45"/><circle cx="185.8" cy="310.9" r="2.45"/><circle cx="188.2" cy="306.9" r="2.45"/><circle cx="186.5" cy="307.0" r="2.45"/><circle cx="250.8" cy="275.5" r="2.45"/><circle cx="267.6" cy="274.6" r="2.45"/><circle cx="236.6" cy="280.3" r="2.45"/><circle cx="251.6" cy="278.7" r="2.45"/><circle cx="192.6" cy="303.5" r="2.45"/><circle cx="194.9" cy="302.5" r="2.45"/><circle cx="262.2" cy="272.3" r="2.45"/><circle cx="303.3" cy="254.5" r="2.45"/><circle cx="257.1" cy="277.3" r="2.45"/><circle cx="257.1" cy="276.3" r="2.45"/><circle cx="235.2" cy="290.8" r="2.45"/><circle cx="251.0" cy="279.9" r="2.45"/><circle cx="195.9" cy="305.9" r="2.45"/><circle cx="241.2" cy="282.2" r="2.45"/><circle cx="299.1" cy="258.7" r="2.45"/><circle cx="247.1" cy="281.2" r="2.45"/><circle cx="269.0" cy="268.2" r="2.45"/><circle cx="298.1" cy="253.6" r="2.45"/><circle cx="251.6" cy="277.1" r="2.45"/><circle cx="243.8" cy="282.6" r="2.45"/><circle cx="254.0" cy="276.3" r="2.45"/><circle cx="200.3" cy="302.9" r="2.45"/><circle cx="201.2" cy="300.2" r="2.45"/><circle cx="279.2" cy="264.7" r="2.45"/><circle cx="236.0" cy="278.4" r="2.45"/><circle cx="241.1" cy="274.1" r="2.45"/><circle cx="243.0" cy="284.2" r="2.45"/><circle cx="226.3" cy="290.1" r="2.45"/><circle cx="271.4" cy="267.4" r="2.45"/><circle cx="261.3" cy="273.0" r="2.45"/><circle cx="224.2" cy="287.7" r="2.45"/><circle cx="277.4" cy="257.9" r="2.45"/><circle cx="193.4" cy="307.8" r="2.45"/><circle cx="265.5" cy="273.9" r="2.45"/><circle cx="234.8" cy="288.5" r="2.45"/><circle cx="179.9" cy="313.7" r="2.45"/><circle cx="206.9" cy="297.2" r="2.45"/><circle cx="203.3" cy="298.6" r="2.45"/><circle cx="270.3" cy="264.5" r="2.45"/><circle cx="185.6" cy="316.3" r="2.45"/><circle cx="239.6" cy="280.7" r="2.45"/><circle cx="286.0" cy="262.8" r="2.45"/><circle cx="209.7" cy="292.8" r="2.45"/><circle cx="215.2" cy="294.9" r="2.45"/><circle cx="186.9" cy="312.0" r="2.45"/><circle cx="144.6" cy="324.9" r="2.45"/><circle cx="251.9" cy="276.4" r="2.45"/><circle cx="178.2" cy="312.5" r="2.45"/><circle cx="213.4" cy="289.0" r="2.45"/><circle cx="240.5" cy="281.2" r="2.45"/><circle cx="225.3" cy="288.6" r="2.45"/><circle cx="287.3" cy="260.6" r="2.45"/><circle cx="202.3" cy="305.3" r="2.45"/><circle cx="244.5" cy="284.4" r="2.45"/><circle cx="240.5" cy="283.5" r="2.45"/><circle cx="195.8" cy="296.3" r="2.45"/><circle cx="160.8" cy="313.3" r="2.45"/><circle cx="241.9" cy="276.1" r="2.45"/><circle cx="233.2" cy="289.2" r="2.45"/><circle cx="227.0" cy="298.9" r="2.45"/><circle cx="190.2" cy="292.5" r="2.45"/><circle cx="163.7" cy="318.4" r="2.45"/><circle cx="172.0" cy="323.0" r="2.45"/><circle cx="171.7" cy="315.7" r="2.45"/><circle cx="209.8" cy="297.0" r="2.45"/><circle cx="168.4" cy="318.1" r="2.45"/><circle cx="201.7" cy="304.3" r="2.45"/><circle cx="241.1" cy="286.4" r="2.45"/><circle cx="277.4" cy="264.3" r="2.45"/><circle cx="301.9" cy="255.0" r="2.45"/><circle cx="173.2" cy="311.1" r="2.45"/><circle cx="268.9" cy="270.9" r="2.45"/><circle cx="211.1" cy="300.4" r="2.45"/><circle cx="167.9" cy="315.2" r="2.45"/><circle cx="270.3" cy="268.4" r="2.45"/><circle cx="191.7" cy="303.3" r="2.45"/><circle cx="185.8" cy="316.4" r="2.45"/><circle cx="270.9" cy="267.9" r="2.45"/><circle cx="264.8" cy="269.0" r="2.45"/><circle cx="249.5" cy="277.4" r="2.45"/><circle cx="235.1" cy="285.6" r="2.45"/><circle cx="237.4" cy="283.9" r="2.45"/><circle cx="255.9" cy="279.0" r="2.45"/><circle cx="185.7" cy="309.0" r="2.45"/><circle cx="293.0" cy="259.7" r="2.45"/><circle cx="248.5" cy="276.6" r="2.45"/><circle cx="246.7" cy="281.7" r="2.45"/><circle cx="306.6" cy="253.2" r="2.45"/><circle cx="205.6" cy="302.1" r="2.45"/><circle cx="272.5" cy="270.6" r="2.45"/><circle cx="229.2" cy="287.6" r="2.45"/><circle cx="187.7" cy="307.5" r="2.45"/><circle cx="300.4" cy="255.6" r="2.45"/><circle cx="196.1" cy="305.6" r="2.45"/><circle cx="231.3" cy="281.5" r="2.45"/><circle cx="229.8" cy="290.7" r="2.45"/><circle cx="198.2" cy="302.3" r="2.45"/><circle cx="190.4" cy="306.1" r="2.45"/><circle cx="285.1" cy="262.9" r="2.45"/><circle cx="219.0" cy="292.9" r="2.45"/><circle cx="192.2" cy="305.6" r="2.45"/><circle cx="255.7" cy="271.9" r="2.45"/><circle cx="227.0" cy="286.3" r="2.45"/><circle cx="235.4" cy="271.9" r="2.45"/><circle cx="306.8" cy="256.6" r="2.45"/><circle cx="275.1" cy="269.3" r="2.45"/><circle cx="187.9" cy="306.5" r="2.45"/><circle cx="142.2" cy="326.8" r="2.45"/><circle cx="280.6" cy="268.0" r="2.45"/><circle cx="263.7" cy="270.1" r="2.45"/><circle cx="177.1" cy="315.2" r="2.45"/><circle cx="189.0" cy="315.4" r="2.45"/><circle cx="191.6" cy="306.3" r="2.45"/><circle cx="263.7" cy="268.8" r="2.45"/><circle cx="277.4" cy="265.8" r="2.45"/><circle cx="239.6" cy="279.1" r="2.45"/><circle cx="162.1" cy="324.6" r="2.45"/><circle cx="189.2" cy="307.3" r="2.45"/><circle cx="276.6" cy="268.5" r="2.45"/><circle cx="254.2" cy="277.2" r="2.45"/><circle cx="158.1" cy="318.5" r="2.45"/><circle cx="174.5" cy="316.1" r="2.45"/><circle cx="136.9" cy="337.7" r="2.45"/><circle cx="249.3" cy="286.2" r="2.45"/><circle cx="225.9" cy="285.6" r="2.45"/><circle cx="189.8" cy="314.2" r="2.45"/><circle cx="221.1" cy="290.4" r="2.45"/><circle cx="285.1" cy="261.1" r="2.45"/><circle cx="162.4" cy="321.1" r="2.45"/><circle cx="309.3" cy="249.5" r="2.45"/><circle cx="172.6" cy="314.2" r="2.45"/><circle cx="143.2" cy="333.3" r="2.45"/><circle cx="203.4" cy="301.7" r="2.45"/><circle cx="193.4" cy="304.8" r="2.45"/><circle cx="217.4" cy="298.6" r="2.45"/><circle cx="241.2" cy="280.2" r="2.45"/><circle cx="160.8" cy="322.6" r="2.45"/><circle cx="253.1" cy="273.3" r="2.45"/><circle cx="236.0" cy="288.0" r="2.45"/><circle cx="211.0" cy="290.0" r="2.45"/><circle cx="288.1" cy="258.1" r="2.45"/><circle cx="192.2" cy="299.6" r="2.45"/><circle cx="226.7" cy="289.4" r="2.45"/><circle cx="239.5" cy="282.9" r="2.45"/><circle cx="269.3" cy="272.6" r="2.45"/><circle cx="296.5" cy="260.0" r="2.45"/><circle cx="198.3" cy="299.4" r="2.45"/><circle cx="201.8" cy="301.9" r="2.45"/><circle cx="205.0" cy="294.9" r="2.45"/><circle cx="196.6" cy="307.9" r="2.45"/><circle cx="284.0" cy="259.8" r="2.45"/><circle cx="226.8" cy="294.2" r="2.45"/><circle cx="271.2" cy="266.8" r="2.45"/><circle cx="188.7" cy="310.6" r="2.45"/><circle cx="292.3" cy="255.1" r="2.45"/><circle cx="266.8" cy="271.1" r="2.45"/><circle cx="290.5" cy="259.1" r="2.45"/><circle cx="285.9" cy="265.0" r="2.45"/><circle cx="103.6" cy="342.7" r="2.45"/><circle cx="221.4" cy="291.1" r="2.45"/><circle cx="211.7" cy="295.6" r="2.45"/><circle cx="185.7" cy="316.6" r="2.45"/><circle cx="234.3" cy="288.4" r="2.45"/><circle cx="185.5" cy="307.3" r="2.45"/><circle cx="271.5" cy="269.6" r="2.45"/><circle cx="217.6" cy="292.2" r="2.45"/><circle cx="203.8" cy="307.9" r="2.45"/><circle cx="220.9" cy="291.2" r="2.45"/><circle cx="198.0" cy="303.0" r="2.45"/><circle cx="183.6" cy="313.1" r="2.45"/><circle cx="182.5" cy="314.4" r="2.45"/><circle cx="243.0" cy="281.3" r="2.45"/><circle cx="183.9" cy="312.1" r="2.45"/><circle cx="193.8" cy="299.3" r="2.45"/><circle cx="307.4" cy="253.7" r="2.45"/><circle cx="265.1" cy="275.9" r="2.45"/><circle cx="229.9" cy="277.4" r="2.45"/><circle cx="182.7" cy="311.4" r="2.45"/><circle cx="222.3" cy="290.9" r="2.45"/><circle cx="228.7" cy="286.9" r="2.45"/><circle cx="278.5" cy="264.1" r="2.45"/><circle cx="292.4" cy="255.8" r="2.45"/><circle cx="272.9" cy="276.1" r="2.45"/><circle cx="158.9" cy="325.9" r="2.45"/><circle cx="249.6" cy="280.9" r="2.45"/><circle cx="158.8" cy="322.2" r="2.45"/><circle cx="225.1" cy="291.7" r="2.45"/><circle cx="252.3" cy="278.4" r="2.45"/><circle cx="222.3" cy="286.8" r="2.45"/><circle cx="201.8" cy="300.3" r="2.45"/><circle cx="275.5" cy="270.9" r="2.45"/><circle cx="246.0" cy="279.4" r="2.45"/><circle cx="236.3" cy="296.0" r="2.45"/><circle cx="233.6" cy="285.3" r="2.45"/><circle cx="280.1" cy="267.8" r="2.45"/><circle cx="183.6" cy="308.1" r="2.45"/><circle cx="254.6" cy="275.9" r="2.45"/><circle cx="306.0" cy="252.1" r="2.45"/><circle cx="125.4" cy="339.6" r="2.45"/><circle cx="177.3" cy="309.3" r="2.45"/><circle cx="206.9" cy="297.5" r="2.45"/><circle cx="275.0" cy="268.9" r="2.45"/><circle cx="197.1" cy="305.5" r="2.45"/><circle cx="211.0" cy="289.9" r="2.45"/><circle cx="276.8" cy="263.6" r="2.45"/><circle cx="297.7" cy="257.4" r="2.45"/><circle cx="246.9" cy="280.1" r="2.45"/><circle cx="212.9" cy="297.2" r="2.45"/><circle cx="193.0" cy="310.2" r="2.45"/><circle cx="202.7" cy="303.7" r="2.45"/><circle cx="139.5" cy="328.0" r="2.45"/><circle cx="209.0" cy="291.5" r="2.45"/><circle cx="186.1" cy="302.5" r="2.45"/><circle cx="238.0" cy="282.0" r="2.45"/><circle cx="274.0" cy="268.1" r="2.45"/><circle cx="168.7" cy="316.6" r="2.45"/><circle cx="303.6" cy="252.6" r="2.45"/><circle cx="167.2" cy="314.5" r="2.45"/><circle cx="210.0" cy="294.7" r="2.45"/><circle cx="185.6" cy="311.6" r="2.45"/><circle cx="176.8" cy="318.7" r="2.45"/><circle cx="221.0" cy="289.5" r="2.45"/><circle cx="217.6" cy="293.7" r="2.45"/><circle cx="219.1" cy="296.1" r="2.45"/><circle cx="173.5" cy="313.7" r="2.45"/><circle cx="190.5" cy="307.3" r="2.45"/><circle cx="167.6" cy="319.2" r="2.45"/><circle cx="137.6" cy="336.0" r="2.45"/><circle cx="244.8" cy="279.5" r="2.45"/><circle cx="244.2" cy="283.1" r="2.45"/><circle cx="180.5" cy="315.3" r="2.45"/><circle cx="190.1" cy="308.8" r="2.45"/><circle cx="293.8" cy="260.2" r="2.45"/><circle cx="278.2" cy="262.9" r="2.45"/><circle cx="166.9" cy="321.5" r="2.45"/><circle cx="297.0" cy="258.2" r="2.45"/><circle cx="237.7" cy="281.8" r="2.45"/><circle cx="271.3" cy="264.7" r="2.45"/><circle cx="235.6" cy="288.7" r="2.45"/><circle cx="164.2" cy="324.7" r="2.45"/><circle cx="221.3" cy="292.2" r="2.45"/><circle cx="260.7" cy="278.4" r="2.45"/><circle cx="216.2" cy="289.5" r="2.45"/><circle cx="240.7" cy="282.8" r="2.45"/><circle cx="176.8" cy="306.0" r="2.45"/><circle cx="183.1" cy="313.7" r="2.45"/><circle cx="215.4" cy="298.5" r="2.45"/><circle cx="212.8" cy="305.6" r="2.45"/><circle cx="265.9" cy="270.0" r="2.45"/><circle cx="169.9" cy="322.0" r="2.45"/><circle cx="158.7" cy="309.6" r="2.45"/><circle cx="287.9" cy="258.9" r="2.45"/><circle cx="240.3" cy="283.4" r="2.45"/><circle cx="142.5" cy="333.4" r="2.45"/><circle cx="202.9" cy="301.6" r="2.45"/><circle cx="290.8" cy="259.5" r="2.45"/><circle cx="306.7" cy="253.3" r="2.45"/><circle cx="229.8" cy="279.9" r="2.45"/><circle cx="147.3" cy="330.3" r="2.45"/><circle cx="180.5" cy="309.3" r="2.45"/><circle cx="228.2" cy="291.1" r="2.45"/><circle cx="176.1" cy="309.4" r="2.45"/><circle cx="140.2" cy="334.8" r="2.45"/><circle cx="248.6" cy="278.1" r="2.45"/><circle cx="229.8" cy="292.3" r="2.45"/><circle cx="265.1" cy="273.3" r="2.45"/><circle cx="279.9" cy="272.6" r="2.45"/><circle cx="218.6" cy="291.1" r="2.45"/><circle cx="194.5" cy="310.1" r="2.45"/><circle cx="183.0" cy="307.3" r="2.45"/><circle cx="239.6" cy="278.6" r="2.45"/><circle cx="226.7" cy="286.7" r="2.45"/><circle cx="304.1" cy="250.0" r="2.45"/><circle cx="247.0" cy="283.4" r="2.45"/><circle cx="188.5" cy="305.1" r="2.45"/><circle cx="196.8" cy="304.9" r="2.45"/><circle cx="213.8" cy="292.2" r="2.45"/><circle cx="266.0" cy="272.6" r="2.45"/><circle cx="270.6" cy="272.2" r="2.45"/><circle cx="244.7" cy="285.6" r="2.45"/><circle cx="232.9" cy="288.6" r="2.45"/><circle cx="179.8" cy="308.1" r="2.45"/><circle cx="262.7" cy="273.8" r="2.45"/><circle cx="226.9" cy="287.5" r="2.45"/><circle cx="185.9" cy="311.9" r="2.45"/><circle cx="210.1" cy="294.0" r="2.45"/><circle cx="194.7" cy="303.1" r="2.45"/><circle cx="180.8" cy="316.3" r="2.45"/><circle cx="188.3" cy="301.7" r="2.45"/><circle cx="277.4" cy="262.8" r="2.45"/><circle cx="247.4" cy="283.2" r="2.45"/><circle cx="225.3" cy="289.8" r="2.45"/><circle cx="220.7" cy="292.6" r="2.45"/><circle cx="197.0" cy="306.5" r="2.45"/><circle cx="287.3" cy="261.5" r="2.45"/><circle cx="172.5" cy="305.2" r="2.45"/><circle cx="121.1" cy="314.8" r="2.45"/><circle cx="271.8" cy="266.3" r="2.45"/><circle cx="237.1" cy="286.7" r="2.45"/><circle cx="262.2" cy="278.0" r="2.45"/><circle cx="251.8" cy="278.4" r="2.45"/><circle cx="194.6" cy="315.0" r="2.45"/><circle cx="190.8" cy="302.0" r="2.45"/><circle cx="165.3" cy="317.7" r="2.45"/><circle cx="193.0" cy="306.9" r="2.45"/><circle cx="248.3" cy="271.7" r="2.45"/><circle cx="235.4" cy="290.1" r="2.45"/><circle cx="271.7" cy="268.8" r="2.45"/><circle cx="245.1" cy="277.7" r="2.45"/><circle cx="226.5" cy="291.2" r="2.45"/><circle cx="283.0" cy="265.8" r="2.45"/><circle cx="240.3" cy="284.6" r="2.45"/><circle cx="232.5" cy="288.4" r="2.45"/><circle cx="179.3" cy="314.5" r="2.45"/><circle cx="190.8" cy="312.4" r="2.45"/><circle cx="237.0" cy="275.2" r="2.45"/><circle cx="236.7" cy="284.2" r="2.45"/><circle cx="286.9" cy="259.5" r="2.45"/><circle cx="180.9" cy="312.7" r="2.45"/><circle cx="262.2" cy="272.4" r="2.45"/><circle cx="278.7" cy="264.8" r="2.45"/><circle cx="198.1" cy="303.8" r="2.45"/><circle cx="261.1" cy="279.2" r="2.45"/><circle cx="306.5" cy="252.6" r="2.45"/><circle cx="283.4" cy="261.4" r="2.45"/><circle cx="103.6" cy="349.5" r="2.45"/><circle cx="259.7" cy="272.7" r="2.45"/><circle cx="147.3" cy="313.8" r="2.45"/><circle cx="253.1" cy="290.2" r="2.45"/><circle cx="168.9" cy="317.0" r="2.45"/><circle cx="291.7" cy="257.9" r="2.45"/><circle cx="230.0" cy="285.2" r="2.45"/><circle cx="205.5" cy="298.8" r="2.45"/><circle cx="220.4" cy="288.0" r="2.45"/><circle cx="225.5" cy="286.3" r="2.45"/><circle cx="199.5" cy="293.3" r="2.45"/><circle cx="237.6" cy="286.3" r="2.45"/><circle cx="270.5" cy="267.7" r="2.45"/><circle cx="261.6" cy="276.3" r="2.45"/><circle cx="256.7" cy="276.4" r="2.45"/><circle cx="197.1" cy="305.8" r="2.45"/><circle cx="246.5" cy="273.8" r="2.45"/><circle cx="196.6" cy="309.4" r="2.45"/><circle cx="171.1" cy="315.2" r="2.45"/><circle cx="239.1" cy="278.4" r="2.45"/><circle cx="193.7" cy="304.9" r="2.45"/><circle cx="183.4" cy="311.7" r="2.45"/><circle cx="254.0" cy="279.4" r="2.45"/><circle cx="298.1" cy="256.1" r="2.45"/><circle cx="230.6" cy="285.8" r="2.45"/><circle cx="250.9" cy="279.5" r="2.45"/><circle cx="197.6" cy="301.7" r="2.45"/><circle cx="177.6" cy="318.3" r="2.45"/><circle cx="281.2" cy="266.7" r="2.45"/><circle cx="213.2" cy="288.7" r="2.45"/><circle cx="266.6" cy="272.4" r="2.45"/><circle cx="291.6" cy="259.8" r="2.45"/><circle cx="188.3" cy="304.8" r="2.45"/><circle cx="187.9" cy="305.9" r="2.45"/><circle cx="216.5" cy="296.9" r="2.45"/><circle cx="222.0" cy="289.5" r="2.45"/><circle cx="221.1" cy="290.4" r="2.45"/><circle cx="260.8" cy="274.3" r="2.45"/><circle cx="209.8" cy="297.0" r="2.45"/><circle cx="237.9" cy="285.1" r="2.45"/><circle cx="241.2" cy="284.5" r="2.45"/><circle cx="173.7" cy="317.8" r="2.45"/><circle cx="191.4" cy="306.4" r="2.45"/><circle cx="249.4" cy="280.2" r="2.45"/><circle cx="174.6" cy="317.2" r="2.45"/><circle cx="230.3" cy="294.2" r="2.45"/><circle cx="271.6" cy="268.2" r="2.45"/><circle cx="182.4" cy="312.7" r="2.45"/><circle cx="150.1" cy="329.0" r="2.45"/><circle cx="158.1" cy="320.7" r="2.45"/><circle cx="271.9" cy="271.3" r="2.45"/><circle cx="235.8" cy="283.3" r="2.45"/><circle cx="255.2" cy="277.4" r="2.45"/><circle cx="189.7" cy="306.8" r="2.45"/><circle cx="234.5" cy="285.7" r="2.45"/><circle cx="148.9" cy="328.9" r="2.45"/><circle cx="165.4" cy="317.5" r="2.45"/><circle cx="225.5" cy="293.8" r="2.45"/><circle cx="257.7" cy="271.1" r="2.45"/><circle cx="270.4" cy="270.2" r="2.45"/><circle cx="307.1" cy="254.5" r="2.45"/><circle cx="224.4" cy="290.4" r="2.45"/><circle cx="179.5" cy="309.7" r="2.45"/><circle cx="243.5" cy="291.2" r="2.45"/><circle cx="281.2" cy="266.2" r="2.45"/><circle cx="258.2" cy="276.4" r="2.45"/><circle cx="57.5" cy="351.7" r="2.45"/><circle cx="231.6" cy="296.1" r="2.45"/><circle cx="224.6" cy="287.8" r="2.45"/><circle cx="306.0" cy="253.4" r="2.45"/><circle cx="201.5" cy="304.6" r="2.45"/><circle cx="250.6" cy="282.1" r="2.45"/><circle cx="285.4" cy="264.2" r="2.45"/><circle cx="195.7" cy="288.4" r="2.45"/><circle cx="276.9" cy="266.8" r="2.45"/><circle cx="263.9" cy="273.1" r="2.45"/><circle cx="203.9" cy="300.9" r="2.45"/><circle cx="265.4" cy="271.2" r="2.45"/><circle cx="266.8" cy="270.4" r="2.45"/><circle cx="202.7" cy="303.5" r="2.45"/><circle cx="213.4" cy="289.9" r="2.45"/><circle cx="265.7" cy="270.5" r="2.45"/><circle cx="253.9" cy="276.8" r="2.45"/><circle cx="277.0" cy="264.7" r="2.45"/><circle cx="302.1" cy="254.8" r="2.45"/><circle cx="250.6" cy="280.4" r="2.45"/><circle cx="238.3" cy="287.6" r="2.45"/><circle cx="244.5" cy="280.2" r="2.45"/><circle cx="194.8" cy="302.1" r="2.45"/><circle cx="217.5" cy="296.8" r="2.45"/><circle cx="245.4" cy="281.3" r="2.45"/><circle cx="214.4" cy="289.3" r="2.45"/><circle cx="203.1" cy="298.1" r="2.45"/><circle cx="235.9" cy="286.2" r="2.45"/><circle cx="267.5" cy="266.5" r="2.45"/><circle cx="246.8" cy="283.7" r="2.45"/><circle cx="182.9" cy="310.4" r="2.45"/><circle cx="204.0" cy="297.0" r="2.45"/><circle cx="164.2" cy="320.8" r="2.45"/><circle cx="201.6" cy="301.9" r="2.45"/><circle cx="159.6" cy="323.4" r="2.45"/><circle cx="227.1" cy="290.4" r="2.45"/><circle cx="247.8" cy="280.8" r="2.45"/><circle cx="220.4" cy="290.9" r="2.45"/><circle cx="263.1" cy="271.5" r="2.45"/><circle cx="226.0" cy="295.2" r="2.45"/><circle cx="264.6" cy="275.4" r="2.45"/><circle cx="271.5" cy="271.4" r="2.45"/><circle cx="151.1" cy="321.7" r="2.45"/><circle cx="176.7" cy="316.2" r="2.45"/><circle cx="212.0" cy="298.8" r="2.45"/><circle cx="170.4" cy="313.6" r="2.45"/><circle cx="284.2" cy="263.8" r="2.45"/><circle cx="262.3" cy="275.4" r="2.45"/><circle cx="174.5" cy="316.3" r="2.45"/><circle cx="231.6" cy="281.7" r="2.45"/><circle cx="201.4" cy="303.2" r="2.45"/><circle cx="262.2" cy="272.6" r="2.45"/><circle cx="243.4" cy="285.6" r="2.45"/><circle cx="139.0" cy="338.4" r="2.45"/><circle cx="251.4" cy="279.2" r="2.45"/><circle cx="263.6" cy="274.4" r="2.45"/><circle cx="282.7" cy="262.3" r="2.45"/><circle cx="207.0" cy="291.4" r="2.45"/><circle cx="183.4" cy="318.1" r="2.45"/><circle cx="187.7" cy="312.1" r="2.45"/><circle cx="221.6" cy="289.8" r="2.45"/><circle cx="232.3" cy="287.2" r="2.45"/><circle cx="218.6" cy="292.0" r="2.45"/><circle cx="196.5" cy="304.4" r="2.45"/><circle cx="128.2" cy="334.5" r="2.45"/><circle cx="185.1" cy="316.8" r="2.45"/><circle cx="244.8" cy="278.9" r="2.45"/><circle cx="279.2" cy="267.0" r="2.45"/><circle cx="152.7" cy="323.5" r="2.45"/><circle cx="272.3" cy="268.2" r="2.45"/><circle cx="210.3" cy="288.6" r="2.45"/><circle cx="206.1" cy="303.9" r="2.45"/><circle cx="188.7" cy="309.6" r="2.45"/><circle cx="279.8" cy="267.4" r="2.45"/><circle cx="242.3" cy="279.9" r="2.45"/><circle cx="170.3" cy="312.9" r="2.45"/><circle cx="208.3" cy="294.3" r="2.45"/><circle cx="262.4" cy="278.9" r="2.45"/><circle cx="240.1" cy="282.3" r="2.45"/><circle cx="216.9" cy="294.1" r="2.45"/><circle cx="218.1" cy="291.0" r="2.45"/><circle cx="223.9" cy="292.7" r="2.45"/><circle cx="244.1" cy="283.3" r="2.45"/><circle cx="246.0" cy="284.9" r="2.45"/><circle cx="290.4" cy="260.7" r="2.45"/><circle cx="250.3" cy="281.6" r="2.45"/><circle cx="198.5" cy="296.9" r="2.45"/><circle cx="285.0" cy="263.9" r="2.45"/><circle cx="213.4" cy="292.9" r="2.45"/><circle cx="275.6" cy="266.8" r="2.45"/><circle cx="247.4" cy="276.2" r="2.45"/><circle cx="214.7" cy="294.7" r="2.45"/><circle cx="223.0" cy="291.1" r="2.45"/><circle cx="239.4" cy="283.6" r="2.45"/><circle cx="201.8" cy="300.2" r="2.45"/><circle cx="187.1" cy="303.8" r="2.45"/><circle cx="281.0" cy="263.6" r="2.45"/><circle cx="199.1" cy="300.6" r="2.45"/><circle cx="183.2" cy="313.5" r="2.45"/><circle cx="187.4" cy="305.9" r="2.45"/><circle cx="203.8" cy="303.0" r="2.45"/><circle cx="298.0" cy="259.3" r="2.45"/><circle cx="202.8" cy="296.4" r="2.45"/><circle cx="271.7" cy="270.6" r="2.45"/><circle cx="207.5" cy="294.0" r="2.45"/><circle cx="266.6" cy="276.9" r="2.45"/><circle cx="124.6" cy="324.7" r="2.45"/><circle cx="187.6" cy="305.3" r="2.45"/><circle cx="251.6" cy="276.6" r="2.45"/><circle cx="138.9" cy="333.5" r="2.45"/><circle cx="270.8" cy="265.3" r="2.45"/><circle cx="260.6" cy="277.0" r="2.45"/><circle cx="207.9" cy="298.7" r="2.45"/><circle cx="254.7" cy="266.2" r="2.45"/><circle cx="273.0" cy="271.9" r="2.45"/><circle cx="216.4" cy="298.3" r="2.45"/><circle cx="232.0" cy="289.4" r="2.45"/><circle cx="204.4" cy="300.1" r="2.45"/><circle cx="311.8" cy="252.2" r="2.45"/><circle cx="178.1" cy="314.9" r="2.45"/><circle cx="220.4" cy="294.1" r="2.45"/><circle cx="246.3" cy="276.8" r="2.45"/><circle cx="190.0" cy="311.7" r="2.45"/><circle cx="284.4" cy="264.5" r="2.45"/><circle cx="189.5" cy="307.8" r="2.45"/><circle cx="195.3" cy="305.5" r="2.45"/><circle cx="279.5" cy="267.1" r="2.45"/><circle cx="228.3" cy="287.9" r="2.45"/><circle cx="305.4" cy="250.9" r="2.45"/><circle cx="307.7" cy="253.5" r="2.45"/><circle cx="246.3" cy="286.7" r="2.45"/><circle cx="189.0" cy="308.4" r="2.45"/><circle cx="275.7" cy="264.9" r="2.45"/><circle cx="256.6" cy="278.2" r="2.45"/><circle cx="263.0" cy="273.4" r="2.45"/><circle cx="260.0" cy="271.5" r="2.45"/><circle cx="231.7" cy="284.8" r="2.45"/><circle cx="260.4" cy="277.8" r="2.45"/><circle cx="230.9" cy="291.0" r="2.45"/><circle cx="267.5" cy="269.8" r="2.45"/><circle cx="183.0" cy="311.6" r="2.45"/><circle cx="263.5" cy="278.6" r="2.45"/><circle cx="231.2" cy="290.0" r="2.45"/><circle cx="232.4" cy="282.6" r="2.45"/><circle cx="167.6" cy="317.8" r="2.45"/><circle cx="216.2" cy="299.0" r="2.45"/><circle cx="225.9" cy="285.0" r="2.45"/><circle cx="239.2" cy="283.3" r="2.45"/><circle cx="189.2" cy="309.4" r="2.45"/><circle cx="248.9" cy="286.2" r="2.45"/><circle cx="177.8" cy="312.1" r="2.45"/><circle cx="172.3" cy="314.6" r="2.45"/><circle cx="250.5" cy="277.0" r="2.45"/><circle cx="309.0" cy="251.9" r="2.45"/><circle cx="174.2" cy="310.7" r="2.45"/><circle cx="293.0" cy="259.2" r="2.45"/><circle cx="163.7" cy="325.5" r="2.45"/><circle cx="178.1" cy="312.4" r="2.45"/><circle cx="178.0" cy="312.3" r="2.45"/><circle cx="209.8" cy="299.8" r="2.45"/><circle cx="217.5" cy="295.6" r="2.45"/><circle cx="201.2" cy="301.3" r="2.45"/><circle cx="211.1" cy="294.6" r="2.45"/><circle cx="208.5" cy="295.5" r="2.45"/><circle cx="214.3" cy="294.5" r="2.45"/><circle cx="178.6" cy="321.9" r="2.45"/><circle cx="222.3" cy="285.2" r="2.45"/><circle cx="218.4" cy="295.3" r="2.45"/><circle cx="199.0" cy="301.1" r="2.45"/><circle cx="212.2" cy="302.0" r="2.45"/><circle cx="206.8" cy="291.2" r="2.45"/><circle cx="213.0" cy="293.1" r="2.45"/><circle cx="186.9" cy="305.1" r="2.45"/><circle cx="271.9" cy="267.6" r="2.45"/><circle cx="272.6" cy="268.6" r="2.45"/><circle cx="220.4" cy="288.5" r="2.45"/><circle cx="274.0" cy="266.8" r="2.45"/><circle cx="248.8" cy="279.9" r="2.45"/><circle cx="289.1" cy="263.7" r="2.45"/><circle cx="206.9" cy="296.3" r="2.45"/><circle cx="274.6" cy="267.8" r="2.45"/><circle cx="242.4" cy="280.1" r="2.45"/><circle cx="259.4" cy="268.9" r="2.45"/><circle cx="242.7" cy="287.4" r="2.45"/><circle cx="258.0" cy="280.0" r="2.45"/><circle cx="53.4" cy="344.7" r="2.45"/><circle cx="254.1" cy="279.3" r="2.45"/><circle cx="279.3" cy="268.8" r="2.45"/><circle cx="211.2" cy="298.6" r="2.45"/><circle cx="263.4" cy="271.4" r="2.45"/><circle cx="236.8" cy="281.6" r="2.45"/><circle cx="213.1" cy="300.6" r="2.45"/><circle cx="183.5" cy="308.4" r="2.45"/><circle cx="287.6" cy="264.1" r="2.45"/><circle cx="185.6" cy="312.0" r="2.45"/><circle cx="308.8" cy="249.8" r="2.45"/><circle cx="211.1" cy="295.2" r="2.45"/><circle cx="208.3" cy="309.0" r="2.45"/><circle cx="205.0" cy="299.2" r="2.45"/><circle cx="214.8" cy="295.3" r="2.45"/><circle cx="132.2" cy="326.5" r="2.45"/><circle cx="231.7" cy="291.2" r="2.45"/><circle cx="225.9" cy="291.3" r="2.45"/><circle cx="215.3" cy="289.2" r="2.45"/><circle cx="197.6" cy="301.9" r="2.45"/><circle cx="291.3" cy="259.5" r="2.45"/><circle cx="212.0" cy="295.3" r="2.45"/><circle cx="265.1" cy="270.7" r="2.45"/><circle cx="203.3" cy="298.9" r="2.45"/><circle cx="216.0" cy="298.7" r="2.45"/><circle cx="199.0" cy="299.3" r="2.45"/><circle cx="186.2" cy="316.0" r="2.45"/><circle cx="219.9" cy="288.1" r="2.45"/><circle cx="200.0" cy="305.2" r="2.45"/><circle cx="255.1" cy="276.0" r="2.45"/><circle cx="258.5" cy="279.8" r="2.45"/><circle cx="179.7" cy="314.8" r="2.45"/><circle cx="255.5" cy="278.1" r="2.45"/><circle cx="148.3" cy="325.9" r="2.45"/><circle cx="241.8" cy="284.8" r="2.45"/><circle cx="253.2" cy="276.6" r="2.45"/><circle cx="194.7" cy="302.5" r="2.45"/><circle cx="207.9" cy="295.0" r="2.45"/><circle cx="225.4" cy="292.6" r="2.45"/><circle cx="277.9" cy="271.4" r="2.45"/><circle cx="232.5" cy="281.5" r="2.45"/><circle cx="193.3" cy="304.1" r="2.45"/><circle cx="184.9" cy="313.5" r="2.45"/><circle cx="200.8" cy="306.7" r="2.45"/><circle cx="289.9" cy="258.5" r="2.45"/><circle cx="241.1" cy="281.0" r="2.45"/><circle cx="174.8" cy="307.6" r="2.45"/><circle cx="212.2" cy="298.8" r="2.45"/><circle cx="232.0" cy="290.1" r="2.45"/><circle cx="181.5" cy="317.8" r="2.45"/><circle cx="172.5" cy="316.1" r="2.45"/><circle cx="157.2" cy="327.6" r="2.45"/><circle cx="234.9" cy="282.7" r="2.45"/><circle cx="235.7" cy="286.4" r="2.45"/><circle cx="264.0" cy="268.7" r="2.45"/><circle cx="280.3" cy="263.1" r="2.45"/><circle cx="265.7" cy="274.5" r="2.45"/><circle cx="215.0" cy="298.5" r="2.45"/><circle cx="176.4" cy="315.9" r="2.45"/><circle cx="209.8" cy="296.9" r="2.45"/><circle cx="276.0" cy="266.1" r="2.45"/><circle cx="307.6" cy="253.7" r="2.45"/><circle cx="184.2" cy="307.0" r="2.45"/><circle cx="196.0" cy="307.3" r="2.45"/><circle cx="273.3" cy="264.0" r="2.45"/><circle cx="129.9" cy="333.8" r="2.45"/><circle cx="238.1" cy="286.2" r="2.45"/><circle cx="162.5" cy="321.2" r="2.45"/><circle cx="234.4" cy="284.0" r="2.45"/><circle cx="251.4" cy="278.2" r="2.45"/><circle cx="245.3" cy="285.2" r="2.45"/><circle cx="176.5" cy="316.5" r="2.45"/><circle cx="263.1" cy="282.6" r="2.45"/><circle cx="262.9" cy="276.4" r="2.45"/><circle cx="265.0" cy="275.8" r="2.45"/><circle cx="200.8" cy="302.7" r="2.45"/><circle cx="207.3" cy="289.9" r="2.45"/><circle cx="241.4" cy="284.6" r="2.45"/><circle cx="208.8" cy="295.3" r="2.45"/><circle cx="191.2" cy="303.3" r="2.45"/><circle cx="222.0" cy="287.9" r="2.45"/><circle cx="197.9" cy="301.6" r="2.45"/><circle cx="213.0" cy="296.4" r="2.45"/><circle cx="194.0" cy="307.7" r="2.45"/><circle cx="212.1" cy="300.1" r="2.45"/><circle cx="232.7" cy="282.6" r="2.45"/><circle cx="202.7" cy="298.6" r="2.45"/><circle cx="277.9" cy="264.4" r="2.45"/><circle cx="254.7" cy="281.2" r="2.45"/><circle cx="219.6" cy="297.3" r="2.45"/><circle cx="224.6" cy="294.9" r="2.45"/><circle cx="245.7" cy="279.6" r="2.45"/><circle cx="157.3" cy="324.8" r="2.45"/><circle cx="178.9" cy="318.9" r="2.45"/><circle cx="202.3" cy="307.0" r="2.45"/><circle cx="237.1" cy="281.5" r="2.45"/><circle cx="179.5" cy="318.3" r="2.45"/><circle cx="176.3" cy="314.0" r="2.45"/><circle cx="215.1" cy="299.8" r="2.45"/><circle cx="163.9" cy="323.7" r="2.45"/><circle cx="223.3" cy="284.8" r="2.45"/><circle cx="259.2" cy="273.3" r="2.45"/><circle cx="271.9" cy="269.5" r="2.45"/><circle cx="272.3" cy="267.5" r="2.45"/><circle cx="293.9" cy="259.2" r="2.45"/><circle cx="192.0" cy="307.3" r="2.45"/><circle cx="205.4" cy="299.2" r="2.45"/><circle cx="265.0" cy="271.9" r="2.45"/><circle cx="180.5" cy="309.8" r="2.45"/><circle cx="223.4" cy="290.6" r="2.45"/><circle cx="232.0" cy="287.9" r="2.45"/><circle cx="288.2" cy="259.8" r="2.45"/><circle cx="164.5" cy="319.3" r="2.45"/><circle cx="230.3" cy="290.6" r="2.45"/><circle cx="268.5" cy="269.3" r="2.45"/><circle cx="289.5" cy="256.4" r="2.45"/><circle cx="169.1" cy="320.6" r="2.45"/><circle cx="178.6" cy="309.7" r="2.45"/><circle cx="216.4" cy="298.5" r="2.45"/><circle cx="263.4" cy="274.2" r="2.45"/><circle cx="229.1" cy="292.2" r="2.45"/><circle cx="165.6" cy="318.3" r="2.45"/><circle cx="203.1" cy="298.3" r="2.45"/><circle cx="241.7" cy="280.7" r="2.45"/><circle cx="236.5" cy="288.1" r="2.45"/><circle cx="234.4" cy="291.6" r="2.45"/><circle cx="262.7" cy="275.4" r="2.45"/><circle cx="266.2" cy="269.7" r="2.45"/><circle cx="160.1" cy="319.9" r="2.45"/><circle cx="184.5" cy="310.8" r="2.45"/><circle cx="200.7" cy="297.6" r="2.45"/><circle cx="160.8" cy="327.5" r="2.45"/><circle cx="223.1" cy="282.0" r="2.45"/><circle cx="259.2" cy="277.0" r="2.45"/><circle cx="208.3" cy="300.0" r="2.45"/><circle cx="268.3" cy="270.5" r="2.45"/><circle cx="267.4" cy="268.7" r="2.45"/><circle cx="264.8" cy="267.2" r="2.45"/><circle cx="174.5" cy="319.7" r="2.45"/><circle cx="268.0" cy="274.9" r="2.45"/><circle cx="179.6" cy="316.0" r="2.45"/><circle cx="209.9" cy="298.9" r="2.45"/><circle cx="263.8" cy="275.2" r="2.45"/><circle cx="169.1" cy="310.7" r="2.45"/><circle cx="260.0" cy="279.1" r="2.45"/><circle cx="175.0" cy="309.4" r="2.45"/><circle cx="204.5" cy="300.5" r="2.45"/><circle cx="234.4" cy="284.1" r="2.45"/><circle cx="197.5" cy="299.6" r="2.45"/><circle cx="184.4" cy="304.7" r="2.45"/><circle cx="282.9" cy="264.9" r="2.45"/><circle cx="166.3" cy="313.7" r="2.45"/><circle cx="252.0" cy="280.3" r="2.45"/><circle cx="202.1" cy="300.2" r="2.45"/><circle cx="187.6" cy="306.4" r="2.45"/><circle cx="238.4" cy="278.3" r="2.45"/><circle cx="224.4" cy="292.9" r="2.45"/><circle cx="197.3" cy="310.6" r="2.45"/><circle cx="242.5" cy="281.7" r="2.45"/><circle cx="218.3" cy="294.8" r="2.45"/><circle cx="274.3" cy="268.6" r="2.45"/><circle cx="188.1" cy="308.9" r="2.45"/><circle cx="153.6" cy="328.4" r="2.45"/><circle cx="198.0" cy="295.0" r="2.45"/><circle cx="270.8" cy="266.7" r="2.45"/><circle cx="240.3" cy="283.8" r="2.45"/><circle cx="204.6" cy="286.1" r="2.45"/><circle cx="202.4" cy="302.6" r="2.45"/><circle cx="191.7" cy="307.4" r="2.45"/><circle cx="200.7" cy="305.7" r="2.45"/><circle cx="249.6" cy="279.6" r="2.45"/><circle cx="164.8" cy="323.4" r="2.45"/><circle cx="176.6" cy="310.7" r="2.45"/><circle cx="190.5" cy="311.6" r="2.45"/><circle cx="219.2" cy="288.7" r="2.45"/><circle cx="146.7" cy="333.5" r="2.45"/><circle cx="241.4" cy="284.5" r="2.45"/><circle cx="208.2" cy="293.2" r="2.45"/><circle cx="273.3" cy="266.1" r="2.45"/><circle cx="140.5" cy="340.1" r="2.45"/><circle cx="187.8" cy="306.7" r="2.45"/><circle cx="220.2" cy="293.3" r="2.45"/><circle cx="254.9" cy="270.1" r="2.45"/><circle cx="219.1" cy="291.0" r="2.45"/><circle cx="246.6" cy="282.3" r="2.45"/><circle cx="243.5" cy="284.6" r="2.45"/><circle cx="146.2" cy="317.7" r="2.45"/><circle cx="249.5" cy="282.8" r="2.45"/><circle cx="247.2" cy="268.6" r="2.45"/><circle cx="274.8" cy="268.8" r="2.45"/><circle cx="226.4" cy="280.7" r="2.45"/><circle cx="282.9" cy="261.3" r="2.45"/><circle cx="289.9" cy="256.5" r="2.45"/><circle cx="225.0" cy="287.7" r="2.45"/><circle cx="194.0" cy="304.1" r="2.45"/><circle cx="186.4" cy="308.6" r="2.45"/><circle cx="272.9" cy="268.9" r="2.45"/><circle cx="201.3" cy="301.8" r="2.45"/><circle cx="278.5" cy="268.3" r="2.45"/><circle cx="205.5" cy="300.8" r="2.45"/><circle cx="250.8" cy="274.5" r="2.45"/><circle cx="222.2" cy="297.6" r="2.45"/><circle cx="186.3" cy="301.5" r="2.45"/><circle cx="301.8" cy="252.4" r="2.45"/><circle cx="246.0" cy="278.9" r="2.45"/><circle cx="199.2" cy="302.5" r="2.45"/><circle cx="264.1" cy="276.5" r="2.45"/><circle cx="300.3" cy="253.6" r="2.45"/><circle cx="255.6" cy="279.5" r="2.45"/><circle cx="176.8" cy="315.5" r="2.45"/><circle cx="205.8" cy="302.3" r="2.45"/><circle cx="193.5" cy="305.1" r="2.45"/><circle cx="262.6" cy="276.5" r="2.45"/><circle cx="195.7" cy="305.6" r="2.45"/><circle cx="217.3" cy="289.5" r="2.45"/><circle cx="217.7" cy="297.6" r="2.45"/><circle cx="282.8" cy="264.3" r="2.45"/><circle cx="153.8" cy="322.6" r="2.45"/><circle cx="243.8" cy="277.9" r="2.45"/><circle cx="272.1" cy="268.6" r="2.45"/><circle cx="248.1" cy="279.7" r="2.45"/><circle cx="313.3" cy="249.8" r="2.45"/><circle cx="162.0" cy="305.0" r="2.45"/><circle cx="149.6" cy="324.7" r="2.45"/><circle cx="227.2" cy="293.6" r="2.45"/><circle cx="201.9" cy="302.4" r="2.45"/><circle cx="184.3" cy="311.4" r="2.45"/><circle cx="290.4" cy="260.8" r="2.45"/><circle cx="196.1" cy="304.4" r="2.45"/><circle cx="170.9" cy="312.8" r="2.45"/><circle cx="269.0" cy="270.4" r="2.45"/><circle cx="293.6" cy="257.0" r="2.45"/><circle cx="158.1" cy="323.4" r="2.45"/><circle cx="272.6" cy="270.4" r="2.45"/><circle cx="290.3" cy="261.0" r="2.45"/><circle cx="227.6" cy="292.0" r="2.45"/><circle cx="220.0" cy="296.5" r="2.45"/><circle cx="277.4" cy="266.4" r="2.45"/><circle cx="270.8" cy="273.9" r="2.45"/><circle cx="263.1" cy="276.4" r="2.45"/><circle cx="286.2" cy="264.6" r="2.45"/><circle cx="256.3" cy="283.4" r="2.45"/><circle cx="201.3" cy="308.8" r="2.45"/><circle cx="217.5" cy="296.2" r="2.45"/><circle cx="219.9" cy="293.2" r="2.45"/><circle cx="301.9" cy="253.6" r="2.45"/><circle cx="197.5" cy="300.4" r="2.45"/><circle cx="262.4" cy="273.0" r="2.45"/><circle cx="231.0" cy="285.5" r="2.45"/><circle cx="175.5" cy="318.9" r="2.45"/><circle cx="181.6" cy="312.8" r="2.45"/><circle cx="286.4" cy="259.0" r="2.45"/><circle cx="259.6" cy="269.1" r="2.45"/><circle cx="277.1" cy="265.0" r="2.45"/><circle cx="243.7" cy="279.3" r="2.45"/><circle cx="183.1" cy="317.1" r="2.45"/><circle cx="271.3" cy="266.9" r="2.45"/><circle cx="212.7" cy="282.3" r="2.45"/><circle cx="245.0" cy="280.4" r="2.45"/><circle cx="181.9" cy="310.0" r="2.45"/><circle cx="296.5" cy="253.5" r="2.45"/><circle cx="239.9" cy="286.1" r="2.45"/><circle cx="157.7" cy="321.7" r="2.45"/><circle cx="231.8" cy="282.1" r="2.45"/><circle cx="298.4" cy="255.0" r="2.45"/><circle cx="210.2" cy="296.3" r="2.45"/><circle cx="324.2" cy="268.7" r="2.45"/><circle cx="229.6" cy="294.1" r="2.45"/><circle cx="266.4" cy="277.1" r="2.45"/><circle cx="176.8" cy="307.9" r="2.45"/><circle cx="247.6" cy="284.6" r="2.45"/><circle cx="305.7" cy="251.3" r="2.45"/><circle cx="260.9" cy="278.7" r="2.45"/><circle cx="282.6" cy="262.3" r="2.45"/><circle cx="200.3" cy="301.8" r="2.45"/><circle cx="312.9" cy="249.6" r="2.45"/><circle cx="238.0" cy="282.5" r="2.45"/><circle cx="182.4" cy="312.0" r="2.45"/><circle cx="205.7" cy="305.4" r="2.45"/><circle cx="249.6" cy="288.3" r="2.45"/><circle cx="250.6" cy="277.0" r="2.45"/><circle cx="262.7" cy="272.8" r="2.45"/><circle cx="227.4" cy="287.9" r="2.45"/><circle cx="200.2" cy="302.0" r="2.45"/><circle cx="237.6" cy="289.3" r="2.45"/><circle cx="248.1" cy="281.0" r="2.45"/><circle cx="103.6" cy="337.1" r="2.45"/><circle cx="222.5" cy="291.7" r="2.45"/><circle cx="219.5" cy="292.6" r="2.45"/><circle cx="150.3" cy="326.9" r="2.45"/><circle cx="238.6" cy="286.9" r="2.45"/><circle cx="232.9" cy="291.3" r="2.45"/><circle cx="293.6" cy="258.8" r="2.45"/><circle cx="193.1" cy="309.1" r="2.45"/><circle cx="228.5" cy="291.6" r="2.45"/><circle cx="224.4" cy="294.5" r="2.45"/><circle cx="225.0" cy="285.5" r="2.45"/><circle cx="227.4" cy="290.4" r="2.45"/><circle cx="161.9" cy="320.5" r="2.45"/><circle cx="202.6" cy="299.0" r="2.45"/><circle cx="221.7" cy="297.1" r="2.45"/><circle cx="241.5" cy="282.5" r="2.45"/><circle cx="280.3" cy="267.1" r="2.45"/><circle cx="190.3" cy="307.3" r="2.45"/><circle cx="207.2" cy="298.8" r="2.45"/><circle cx="179.9" cy="313.2" r="2.45"/><circle cx="203.0" cy="299.7" r="2.45"/><circle cx="199.2" cy="298.1" r="2.45"/><circle cx="280.1" cy="262.2" r="2.45"/><circle cx="282.5" cy="265.4" r="2.45"/><circle cx="225.0" cy="289.7" r="2.45"/><circle cx="282.4" cy="256.2" r="2.45"/><circle cx="203.3" cy="302.8" r="2.45"/><circle cx="199.7" cy="305.4" r="2.45"/><circle cx="219.7" cy="292.1" r="2.45"/><circle cx="181.8" cy="311.9" r="2.45"/><circle cx="161.3" cy="319.0" r="2.45"/><circle cx="294.8" cy="261.0" r="2.45"/><circle cx="136.2" cy="336.9" r="2.45"/><circle cx="240.9" cy="283.2" r="2.45"/><circle cx="112.7" cy="345.8" r="2.45"/><circle cx="279.1" cy="264.6" r="2.45"/><circle cx="285.9" cy="263.0" r="2.45"/><circle cx="195.4" cy="304.6" r="2.45"/><circle cx="263.2" cy="272.7" r="2.45"/><circle cx="232.1" cy="278.3" r="2.45"/><circle cx="188.2" cy="307.2" r="2.45"/><circle cx="173.9" cy="311.9" r="2.45"/><circle cx="134.2" cy="336.7" r="2.45"/><circle cx="263.1" cy="271.2" r="2.45"/><circle cx="263.9" cy="277.7" r="2.45"/><circle cx="238.1" cy="284.5" r="2.45"/><circle cx="253.0" cy="278.3" r="2.45"/><circle cx="230.3" cy="289.2" r="2.45"/><circle cx="300.5" cy="253.1" r="2.45"/><circle cx="269.8" cy="269.8" r="2.45"/><circle cx="180.6" cy="316.0" r="2.45"/><circle cx="244.7" cy="279.7" r="2.45"/><circle cx="212.1" cy="295.1" r="2.45"/><circle cx="242.6" cy="285.3" r="2.45"/><circle cx="226.4" cy="278.4" r="2.45"/><circle cx="234.6" cy="278.9" r="2.45"/><circle cx="294.5" cy="255.1" r="2.45"/><circle cx="257.6" cy="273.9" r="2.45"/><circle cx="254.0" cy="278.7" r="2.45"/><circle cx="242.2" cy="277.6" r="2.45"/><circle cx="260.1" cy="273.7" r="2.45"/><circle cx="244.5" cy="277.7" r="2.45"/><circle cx="267.7" cy="270.7" r="2.45"/><circle cx="236.5" cy="287.1" r="2.45"/><circle cx="218.0" cy="290.2" r="2.45"/><circle cx="244.4" cy="280.7" r="2.45"/><circle cx="243.2" cy="284.2" r="2.45"/><circle cx="199.7" cy="312.7" r="2.45"/><circle cx="260.8" cy="275.1" r="2.45"/><circle cx="280.3" cy="263.5" r="2.45"/><circle cx="248.1" cy="280.3" r="2.45"/><circle cx="246.0" cy="279.5" r="2.45"/><circle cx="203.0" cy="302.6" r="2.45"/><circle cx="255.4" cy="271.1" r="2.45"/><circle cx="251.4" cy="277.8" r="2.45"/><circle cx="233.4" cy="282.7" r="2.45"/><circle cx="196.9" cy="303.8" r="2.45"/><circle cx="310.5" cy="248.4" r="2.45"/><circle cx="261.6" cy="271.3" r="2.45"/><circle cx="219.8" cy="290.7" r="2.45"/><circle cx="183.2" cy="313.5" r="2.45"/><circle cx="153.0" cy="323.4" r="2.45"/><circle cx="190.3" cy="305.2" r="2.45"/><circle cx="281.1" cy="260.2" r="2.45"/><circle cx="214.9" cy="298.4" r="2.45"/><circle cx="228.4" cy="287.6" r="2.45"/><circle cx="295.4" cy="253.7" r="2.45"/><circle cx="228.3" cy="287.0" r="2.45"/><circle cx="245.8" cy="277.2" r="2.45"/><circle cx="284.8" cy="261.6" r="2.45"/><circle cx="203.5" cy="298.6" r="2.45"/><circle cx="171.0" cy="306.6" r="2.45"/><circle cx="312.2" cy="250.8" r="2.45"/><circle cx="185.6" cy="304.8" r="2.45"/><circle cx="226.7" cy="293.7" r="2.45"/><circle cx="263.9" cy="276.4" r="2.45"/><circle cx="221.7" cy="284.1" r="2.45"/><circle cx="265.3" cy="271.1" r="2.45"/><circle cx="146.7" cy="331.4" r="2.45"/><circle cx="190.1" cy="311.7" r="2.45"/><circle cx="188.6" cy="311.1" r="2.45"/><circle cx="156.0" cy="322.5" r="2.45"/><circle cx="244.9" cy="282.5" r="2.45"/><circle cx="204.5" cy="302.3" r="2.45"/><circle cx="222.4" cy="293.5" r="2.45"/><circle cx="276.7" cy="264.9" r="2.45"/><circle cx="216.4" cy="290.0" r="2.45"/><circle cx="208.4" cy="297.2" r="2.45"/><circle cx="250.9" cy="277.5" r="2.45"/><circle cx="227.8" cy="291.7" r="2.45"/><circle cx="263.7" cy="278.0" r="2.45"/><circle cx="179.9" cy="315.3" r="2.45"/><circle cx="176.9" cy="313.4" r="2.45"/><circle cx="52.8" cy="353.6" r="2.45"/><circle cx="284.0" cy="259.4" r="2.45"/><circle cx="183.4" cy="310.1" r="2.45"/><circle cx="200.8" cy="292.9" r="2.45"/><circle cx="174.2" cy="311.8" r="2.45"/><circle cx="244.3" cy="282.9" r="2.45"/><circle cx="199.3" cy="304.5" r="2.45"/><circle cx="208.3" cy="302.5" r="2.45"/><circle cx="295.3" cy="258.5" r="2.45"/><circle cx="186.7" cy="302.9" r="2.45"/><circle cx="261.2" cy="272.2" r="2.45"/><circle cx="181.9" cy="306.6" r="2.45"/><circle cx="287.4" cy="257.2" r="2.45"/><circle cx="130.8" cy="331.8" r="2.45"/><circle cx="199.5" cy="306.3" r="2.45"/><circle cx="197.5" cy="292.8" r="2.45"/><circle cx="225.4" cy="296.2" r="2.45"/><circle cx="248.0" cy="284.1" r="2.45"/><circle cx="111.2" cy="337.1" r="2.45"/><circle cx="218.4" cy="297.2" r="2.45"/><circle cx="221.4" cy="287.2" r="2.45"/><circle cx="298.4" cy="258.4" r="2.45"/><circle cx="245.4" cy="277.9" r="2.45"/><circle cx="158.3" cy="320.8" r="2.45"/><circle cx="240.5" cy="284.7" r="2.45"/><circle cx="167.4" cy="320.5" r="2.45"/><circle cx="253.8" cy="277.6" r="2.45"/><circle cx="207.6" cy="298.7" r="2.45"/><circle cx="223.5" cy="284.7" r="2.45"/><circle cx="190.6" cy="288.8" r="2.45"/><circle cx="283.3" cy="268.9" r="2.45"/><circle cx="189.1" cy="308.3" r="2.45"/><circle cx="171.9" cy="320.1" r="2.45"/><circle cx="269.6" cy="272.2" r="2.45"/><circle cx="224.3" cy="291.5" r="2.45"/><circle cx="203.5" cy="301.5" r="2.45"/><circle cx="178.7" cy="316.9" r="2.45"/><circle cx="289.5" cy="262.3" r="2.45"/><circle cx="257.1" cy="276.5" r="2.45"/><circle cx="169.1" cy="318.9" r="2.45"/><circle cx="212.9" cy="292.4" r="2.45"/><circle cx="176.8" cy="304.2" r="2.45"/><circle cx="193.7" cy="300.8" r="2.45"/><circle cx="216.9" cy="291.5" r="2.45"/><circle cx="181.7" cy="312.1" r="2.45"/><circle cx="160.1" cy="326.5" r="2.45"/><circle cx="227.7" cy="287.1" r="2.45"/><circle cx="204.4" cy="305.0" r="2.45"/><circle cx="167.3" cy="318.4" r="2.45"/><circle cx="263.3" cy="276.7" r="2.45"/><circle cx="65.0" cy="341.4" r="2.45"/><circle cx="299.0" cy="257.2" r="2.45"/><circle cx="219.6" cy="292.2" r="2.45"/><circle cx="273.2" cy="271.4" r="2.45"/><circle cx="159.4" cy="318.9" r="2.45"/><circle cx="231.9" cy="284.6" r="2.45"/><circle cx="148.1" cy="333.5" r="2.45"/><circle cx="234.7" cy="288.5" r="2.45"/><circle cx="252.8" cy="283.0" r="2.45"/><circle cx="212.8" cy="299.4" r="2.45"/><circle cx="212.2" cy="292.8" r="2.45"/><circle cx="212.9" cy="294.7" r="2.45"/><circle cx="261.4" cy="272.4" r="2.45"/><circle cx="202.6" cy="295.6" r="2.45"/><circle cx="224.1" cy="284.6" r="2.45"/><circle cx="221.2" cy="295.2" r="2.45"/><circle cx="302.0" cy="251.8" r="2.45"/><circle cx="206.6" cy="296.0" r="2.45"/><circle cx="256.4" cy="273.8" r="2.45"/><circle cx="206.4" cy="303.9" r="2.45"/><circle cx="220.5" cy="294.8" r="2.45"/><circle cx="176.5" cy="311.0" r="2.45"/><circle cx="208.7" cy="299.2" r="2.45"/><circle cx="282.9" cy="265.0" r="2.45"/><circle cx="286.0" cy="263.7" r="2.45"/><circle cx="171.5" cy="315.8" r="2.45"/><circle cx="301.8" cy="254.0" r="2.45"/><circle cx="220.6" cy="289.7" r="2.45"/><circle cx="197.7" cy="295.6" r="2.45"/><circle cx="130.4" cy="334.2" r="2.45"/><circle cx="240.4" cy="279.0" r="2.45"/><circle cx="206.5" cy="292.8" r="2.45"/><circle cx="144.4" cy="330.7" r="2.45"/><circle cx="297.5" cy="254.7" r="2.45"/><circle cx="298.5" cy="258.4" r="2.45"/><circle cx="257.0" cy="277.9" r="2.45"/><circle cx="208.3" cy="297.8" r="2.45"/><circle cx="219.7" cy="294.6" r="2.45"/><circle cx="166.6" cy="325.6" r="2.45"/><circle cx="279.5" cy="265.6" r="2.45"/><circle cx="264.6" cy="273.9" r="2.45"/><circle cx="239.2" cy="283.1" r="2.45"/><circle cx="253.0" cy="282.1" r="2.45"/><circle cx="274.9" cy="265.2" r="2.45"/><circle cx="216.9" cy="304.9" r="2.45"/><circle cx="134.0" cy="331.0" r="2.45"/><circle cx="229.4" cy="287.6" r="2.45"/><circle cx="230.2" cy="287.9" r="2.45"/><circle cx="283.5" cy="263.2" r="2.45"/><circle cx="212.8" cy="298.1" r="2.45"/><circle cx="186.2" cy="313.3" r="2.45"/><circle cx="244.4" cy="279.0" r="2.45"/><circle cx="243.1" cy="282.4" r="2.45"/><circle cx="272.4" cy="270.1" r="2.45"/><circle cx="217.9" cy="293.5" r="2.45"/><circle cx="184.8" cy="312.4" r="2.45"/><circle cx="274.4" cy="266.8" r="2.45"/><circle cx="189.8" cy="304.5" r="2.45"/><circle cx="187.2" cy="309.9" r="2.45"/><circle cx="253.5" cy="277.6" r="2.45"/><circle cx="221.8" cy="284.9" r="2.45"/><circle cx="237.1" cy="292.4" r="2.45"/><circle cx="256.1" cy="275.3" r="2.45"/><circle cx="130.6" cy="336.3" r="2.45"/><circle cx="258.0" cy="267.4" r="2.45"/><circle cx="316.8" cy="251.4" r="2.45"/><circle cx="188.3" cy="312.2" r="2.45"/><circle cx="307.3" cy="252.1" r="2.45"/><circle cx="270.3" cy="268.1" r="2.45"/><circle cx="154.3" cy="323.2" r="2.45"/><circle cx="225.1" cy="290.6" r="2.45"/><circle cx="189.5" cy="312.5" r="2.45"/><circle cx="288.7" cy="262.3" r="2.45"/><circle cx="261.3" cy="277.9" r="2.45"/><circle cx="192.2" cy="320.2" r="2.45"/><circle cx="263.6" cy="277.4" r="2.45"/><circle cx="275.1" cy="272.6" r="2.45"/><circle cx="205.4" cy="299.3" r="2.45"/><circle cx="257.3" cy="279.3" r="2.45"/><circle cx="262.9" cy="276.1" r="2.45"/><circle cx="210.4" cy="297.5" r="2.45"/><circle cx="307.7" cy="253.8" r="2.45"/><circle cx="198.1" cy="301.9" r="2.45"/><circle cx="221.7" cy="292.1" r="2.45"/><circle cx="171.1" cy="313.3" r="2.45"/><circle cx="218.8" cy="294.6" r="2.45"/><circle cx="217.6" cy="296.3" r="2.45"/><circle cx="232.6" cy="286.3" r="2.45"/><circle cx="255.1" cy="278.7" r="2.45"/><circle cx="226.2" cy="293.0" r="2.45"/><circle cx="256.5" cy="282.6" r="2.45"/><circle cx="247.1" cy="277.9" r="2.45"/><circle cx="162.1" cy="321.5" r="2.45"/><circle cx="283.4" cy="262.9" r="2.45"/><circle cx="241.4" cy="285.3" r="2.45"/><circle cx="251.2" cy="282.5" r="2.45"/><circle cx="234.3" cy="291.5" r="2.45"/><circle cx="199.1" cy="304.2" r="2.45"/><circle cx="240.6" cy="282.4" r="2.45"/><circle cx="302.2" cy="257.0" r="2.45"/><circle cx="195.8" cy="299.7" r="2.45"/><circle cx="219.1" cy="291.1" r="2.45"/><circle cx="294.8" cy="258.3" r="2.45"/><circle cx="182.2" cy="312.1" r="2.45"/><circle cx="266.5" cy="269.7" r="2.45"/><circle cx="175.9" cy="309.8" r="2.45"/><circle cx="229.2" cy="287.9" r="2.45"/><circle cx="253.6" cy="280.3" r="2.45"/><circle cx="250.7" cy="287.3" r="2.45"/><circle cx="161.0" cy="326.9" r="2.45"/><circle cx="240.4" cy="281.3" r="2.45"/><circle cx="192.8" cy="302.8" r="2.45"/><circle cx="315.3" cy="248.0" r="2.45"/><circle cx="313.9" cy="250.9" r="2.45"/><circle cx="223.8" cy="284.8" r="2.45"/><circle cx="211.7" cy="289.2" r="2.45"/><circle cx="176.1" cy="312.9" r="2.45"/><circle cx="185.3" cy="309.5" r="2.45"/><circle cx="281.0" cy="265.4" r="2.45"/><circle cx="244.6" cy="278.5" r="2.45"/><circle cx="278.1" cy="264.4" r="2.45"/><circle cx="266.6" cy="271.8" r="2.45"/><circle cx="241.4" cy="282.1" r="2.45"/><circle cx="203.7" cy="303.4" r="2.45"/><circle cx="211.0" cy="293.9" r="2.45"/><circle cx="262.9" cy="277.0" r="2.45"/><circle cx="269.7" cy="271.2" r="2.45"/><circle cx="240.6" cy="284.1" r="2.45"/><circle cx="262.6" cy="271.9" r="2.45"/><circle cx="177.2" cy="315.2" r="2.45"/><circle cx="226.4" cy="293.1" r="2.45"/><circle cx="246.4" cy="280.4" r="2.45"/><circle cx="274.4" cy="270.8" r="2.45"/><circle cx="223.9" cy="285.7" r="2.45"/><circle cx="183.5" cy="302.5" r="2.45"/><circle cx="197.8" cy="302.0" r="2.45"/><circle cx="225.2" cy="288.7" r="2.45"/><circle cx="183.1" cy="309.8" r="2.45"/><circle cx="250.8" cy="278.0" r="2.45"/><circle cx="200.6" cy="296.5" r="2.45"/><circle cx="217.0" cy="293.6" r="2.45"/><circle cx="231.3" cy="286.3" r="2.45"/><circle cx="179.6" cy="316.2" r="2.45"/><circle cx="201.9" cy="303.3" r="2.45"/><circle cx="231.6" cy="286.8" r="2.45"/><circle cx="230.4" cy="292.9" r="2.45"/><circle cx="251.6" cy="281.3" r="2.45"/><circle cx="162.5" cy="321.5" r="2.45"/><circle cx="151.6" cy="325.5" r="2.45"/><circle cx="204.2" cy="302.0" r="2.45"/><circle cx="302.7" cy="253.4" r="2.45"/><circle cx="188.3" cy="306.5" r="2.45"/><circle cx="184.8" cy="306.1" r="2.45"/><circle cx="232.4" cy="285.0" r="2.45"/><circle cx="222.1" cy="293.7" r="2.45"/><circle cx="170.1" cy="317.0" r="2.45"/><circle cx="295.9" cy="257.5" r="2.45"/><circle cx="253.0" cy="278.6" r="2.45"/><circle cx="168.3" cy="323.2" r="2.45"/><circle cx="187.7" cy="306.9" r="2.45"/><circle cx="268.0" cy="270.6" r="2.45"/><circle cx="178.4" cy="324.5" r="2.45"/><circle cx="222.7" cy="291.2" r="2.45"/><circle cx="182.0" cy="313.3" r="2.45"/><circle cx="280.5" cy="265.4" r="2.45"/><circle cx="275.4" cy="268.2" r="2.45"/><circle cx="287.2" cy="263.5" r="2.45"/><circle cx="225.9" cy="291.9" r="2.45"/><circle cx="188.2" cy="298.6" r="2.45"/><circle cx="289.5" cy="262.0" r="2.45"/><circle cx="248.9" cy="278.7" r="2.45"/><circle cx="218.3" cy="295.4" r="2.45"/><circle cx="198.1" cy="300.4" r="2.45"/><circle cx="225.4" cy="295.0" r="2.45"/><circle cx="240.0" cy="293.2" r="2.45"/><circle cx="254.2" cy="278.3" r="2.45"/><circle cx="171.8" cy="314.5" r="2.45"/><circle cx="139.0" cy="333.3" r="2.45"/><circle cx="220.2" cy="303.7" r="2.45"/><circle cx="231.1" cy="285.1" r="2.45"/><circle cx="222.5" cy="290.8" r="2.45"/><circle cx="232.0" cy="288.3" r="2.45"/><circle cx="205.1" cy="299.0" r="2.45"/><circle cx="220.7" cy="290.1" r="2.45"/><circle cx="279.6" cy="271.5" r="2.45"/><circle cx="263.5" cy="275.8" r="2.45"/><circle cx="189.2" cy="303.3" r="2.45"/><circle cx="214.7" cy="292.8" r="2.45"/><circle cx="242.1" cy="288.8" r="2.45"/><circle cx="230.7" cy="282.0" r="2.45"/><circle cx="222.8" cy="291.9" r="2.45"/><circle cx="298.5" cy="258.7" r="2.45"/><circle cx="231.3" cy="290.4" r="2.45"/><circle cx="216.5" cy="298.6" r="2.45"/><circle cx="286.2" cy="259.3" r="2.45"/><circle cx="248.6" cy="277.5" r="2.45"/><circle cx="165.7" cy="321.3" r="2.45"/><circle cx="225.2" cy="290.8" r="2.45"/><circle cx="186.3" cy="303.4" r="2.45"/><circle cx="214.7" cy="298.1" r="2.45"/><circle cx="246.6" cy="286.2" r="2.45"/><circle cx="215.5" cy="289.6" r="2.45"/><circle cx="278.1" cy="266.4" r="2.45"/><circle cx="214.3" cy="294.3" r="2.45"/><circle cx="162.4" cy="307.2" r="2.45"/><circle cx="221.2" cy="293.2" r="2.45"/><circle cx="194.4" cy="310.0" r="2.45"/><circle cx="213.8" cy="298.8" r="2.45"/><circle cx="243.1" cy="283.6" r="2.45"/><circle cx="214.7" cy="290.3" r="2.45"/><circle cx="210.6" cy="297.4" r="2.45"/><circle cx="235.1" cy="289.2" r="2.45"/><circle cx="261.1" cy="273.9" r="2.45"/><circle cx="241.5" cy="278.7" r="2.45"/><circle cx="232.2" cy="291.4" r="2.45"/><circle cx="209.0" cy="291.5" r="2.45"/><circle cx="281.6" cy="262.4" r="2.45"/><circle cx="231.2" cy="282.0" r="2.45"/><circle cx="291.4" cy="257.9" r="2.45"/><circle cx="246.9" cy="283.0" r="2.45"/><circle cx="139.2" cy="331.5" r="2.45"/><circle cx="241.9" cy="288.4" r="2.45"/><circle cx="234.3" cy="278.7" r="2.45"/><circle cx="137.4" cy="318.1" r="2.45"/><circle cx="164.8" cy="316.9" r="2.45"/><circle cx="231.8" cy="287.8" r="2.45"/><circle cx="142.5" cy="332.0" r="2.45"/><circle cx="254.5" cy="275.0" r="2.45"/><circle cx="206.4" cy="301.5" r="2.45"/><circle cx="219.0" cy="292.9" r="2.45"/><circle cx="269.8" cy="275.2" r="2.45"/><circle cx="196.1" cy="322.5" r="2.45"/><circle cx="241.8" cy="291.1" r="2.45"/><circle cx="229.3" cy="285.7" r="2.45"/><circle cx="182.2" cy="316.2" r="2.45"/><circle cx="187.5" cy="315.3" r="2.45"/><circle cx="233.8" cy="288.0" r="2.45"/><circle cx="240.4" cy="280.1" r="2.45"/><circle cx="196.4" cy="308.0" r="2.45"/><circle cx="149.9" cy="325.2" r="2.45"/><circle cx="269.1" cy="270.1" r="2.45"/><circle cx="185.1" cy="306.9" r="2.45"/><circle cx="257.6" cy="277.0" r="2.45"/><circle cx="186.2" cy="309.1" r="2.45"/><circle cx="257.5" cy="278.0" r="2.45"/><circle cx="279.2" cy="266.7" r="2.45"/><circle cx="251.8" cy="279.2" r="2.45"/><circle cx="228.4" cy="286.6" r="2.45"/><circle cx="184.6" cy="310.9" r="2.45"/><circle cx="159.6" cy="328.0" r="2.45"/><circle cx="195.8" cy="306.0" r="2.45"/><circle cx="174.7" cy="323.9" r="2.45"/><circle cx="271.4" cy="264.0" r="2.45"/><circle cx="290.9" cy="259.3" r="2.45"/><circle cx="295.8" cy="258.3" r="2.45"/><circle cx="247.2" cy="280.2" r="2.45"/><circle cx="235.0" cy="274.3" r="2.45"/><circle cx="229.2" cy="285.1" r="2.45"/><circle cx="221.9" cy="287.3" r="2.45"/><circle cx="226.5" cy="289.5" r="2.45"/><circle cx="231.9" cy="285.6" r="2.45"/><circle cx="233.1" cy="283.8" r="2.45"/><circle cx="224.7" cy="298.6" r="2.45"/><circle cx="202.2" cy="307.8" r="2.45"/><circle cx="150.4" cy="327.7" r="2.45"/><circle cx="272.7" cy="267.3" r="2.45"/><circle cx="175.8" cy="307.9" r="2.45"/><circle cx="186.7" cy="307.2" r="2.45"/><circle cx="203.1" cy="300.3" r="2.45"/><circle cx="148.3" cy="320.7" r="2.45"/><circle cx="274.3" cy="268.6" r="2.45"/><circle cx="216.7" cy="296.3" r="2.45"/><circle cx="189.5" cy="306.2" r="2.45"/><circle cx="269.9" cy="271.1" r="2.45"/><circle cx="180.6" cy="310.9" r="2.45"/><circle cx="220.0" cy="280.1" r="2.45"/><circle cx="269.9" cy="265.7" r="2.45"/><circle cx="269.6" cy="273.9" r="2.45"/><circle cx="244.0" cy="283.0" r="2.45"/><circle cx="184.0" cy="312.3" r="2.45"/><circle cx="198.4" cy="300.5" r="2.45"/><circle cx="196.5" cy="307.6" r="2.45"/><circle cx="208.9" cy="295.2" r="2.45"/><circle cx="203.2" cy="298.3" r="2.45"/><circle cx="313.9" cy="248.8" r="2.45"/><circle cx="301.7" cy="255.7" r="2.45"/><circle cx="193.2" cy="305.9" r="2.45"/><circle cx="197.0" cy="303.9" r="2.45"/><circle cx="278.7" cy="263.3" r="2.45"/><circle cx="168.7" cy="320.2" r="2.45"/><circle cx="193.3" cy="305.8" r="2.45"/><circle cx="292.4" cy="261.9" r="2.45"/><circle cx="237.5" cy="280.0" r="2.45"/><circle cx="191.7" cy="306.2" r="2.45"/><circle cx="191.4" cy="311.0" r="2.45"/><circle cx="225.8" cy="294.0" r="2.45"/><circle cx="160.2" cy="328.8" r="2.45"/><circle cx="210.6" cy="298.5" r="2.45"/><circle cx="167.8" cy="319.7" r="2.45"/><circle cx="172.4" cy="323.0" r="2.45"/><circle cx="233.9" cy="286.3" r="2.45"/><circle cx="247.9" cy="279.7" r="2.45"/><circle cx="194.2" cy="310.3" r="2.45"/><circle cx="195.9" cy="300.0" r="2.45"/><circle cx="284.2" cy="263.7" r="2.45"/><circle cx="266.3" cy="269.7" r="2.45"/><circle cx="260.9" cy="269.1" r="2.45"/><circle cx="249.5" cy="286.3" r="2.45"/><circle cx="196.0" cy="305.8" r="2.45"/><circle cx="245.4" cy="278.3" r="2.45"/><circle cx="186.6" cy="309.9" r="2.45"/><circle cx="262.8" cy="280.1" r="2.45"/><circle cx="207.8" cy="296.7" r="2.45"/><circle cx="212.3" cy="296.9" r="2.45"/><circle cx="294.2" cy="261.3" r="2.45"/><circle cx="165.6" cy="305.8" r="2.45"/><circle cx="175.1" cy="314.8" r="2.45"/><circle cx="205.7" cy="298.3" r="2.45"/><circle cx="187.5" cy="309.0" r="2.45"/><circle cx="228.3" cy="288.8" r="2.45"/><circle cx="285.7" cy="263.0" r="2.45"/><circle cx="241.6" cy="282.1" r="2.45"/><circle cx="175.4" cy="307.4" r="2.45"/><circle cx="192.9" cy="310.5" r="2.45"/><circle cx="227.6" cy="288.1" r="2.45"/><circle cx="174.5" cy="315.5" r="2.45"/><circle cx="257.9" cy="279.6" r="2.45"/><circle cx="263.4" cy="273.3" r="2.45"/><circle cx="221.7" cy="286.0" r="2.45"/><circle cx="209.3" cy="298.3" r="2.45"/><circle cx="262.9" cy="275.4" r="2.45"/><circle cx="199.7" cy="302.6" r="2.45"/><circle cx="201.7" cy="302.7" r="2.45"/><circle cx="204.1" cy="304.5" r="2.45"/><circle cx="218.8" cy="304.4" r="2.45"/><circle cx="190.8" cy="304.9" r="2.45"/><circle cx="203.4" cy="300.6" r="2.45"/><circle cx="227.8" cy="290.7" r="2.45"/><circle cx="246.4" cy="281.1" r="2.45"/><circle cx="185.4" cy="309.4" r="2.45"/><circle cx="189.1" cy="307.2" r="2.45"/><circle cx="197.2" cy="302.2" r="2.45"/><circle cx="238.9" cy="281.7" r="2.45"/><circle cx="280.9" cy="262.7" r="2.45"/><circle cx="298.7" cy="254.9" r="2.45"/><circle cx="250.9" cy="278.6" r="2.45"/><circle cx="184.3" cy="310.7" r="2.45"/><circle cx="271.1" cy="270.9" r="2.45"/><circle cx="242.8" cy="277.5" r="2.45"/><circle cx="171.0" cy="321.6" r="2.45"/><circle cx="246.5" cy="281.3" r="2.45"/><circle cx="202.7" cy="300.2" r="2.45"/><circle cx="215.2" cy="297.6" r="2.45"/><circle cx="195.4" cy="301.9" r="2.45"/><circle cx="273.1" cy="265.6" r="2.45"/><circle cx="203.6" cy="300.0" r="2.45"/><circle cx="221.9" cy="279.9" r="2.45"/><circle cx="232.4" cy="282.4" r="2.45"/><circle cx="206.5" cy="297.3" r="2.45"/><circle cx="263.7" cy="269.1" r="2.45"/><circle cx="208.6" cy="299.9" r="2.45"/><circle cx="194.6" cy="302.8" r="2.45"/><circle cx="288.8" cy="262.6" r="2.45"/><circle cx="260.5" cy="280.1" r="2.45"/><circle cx="182.3" cy="309.2" r="2.45"/><circle cx="202.4" cy="304.5" r="2.45"/><circle cx="188.6" cy="301.8" r="2.45"/><circle cx="263.6" cy="269.7" r="2.45"/><circle cx="237.3" cy="284.5" r="2.45"/><circle cx="236.3" cy="286.8" r="2.45"/><circle cx="292.0" cy="262.9" r="2.45"/><circle cx="191.2" cy="309.8" r="2.45"/><circle cx="238.9" cy="283.4" r="2.45"/><circle cx="178.4" cy="301.4" r="2.45"/><circle cx="288.7" cy="262.2" r="2.45"/><circle cx="190.2" cy="308.1" r="2.45"/><circle cx="251.2" cy="281.1" r="2.45"/><circle cx="244.3" cy="281.9" r="2.45"/><circle cx="202.1" cy="305.3" r="2.45"/><circle cx="232.7" cy="292.8" r="2.45"/><circle cx="166.9" cy="320.5" r="2.45"/><circle cx="264.0" cy="274.1" r="2.45"/><circle cx="298.5" cy="259.5" r="2.45"/><circle cx="221.3" cy="288.9" r="2.45"/><circle cx="192.2" cy="301.0" r="2.45"/><circle cx="244.3" cy="282.4" r="2.45"/><circle cx="270.9" cy="265.8" r="2.45"/><circle cx="261.5" cy="274.9" r="2.45"/><circle cx="258.9" cy="271.6" r="2.45"/><circle cx="186.6" cy="310.2" r="2.45"/><circle cx="265.4" cy="270.8" r="2.45"/><circle cx="291.9" cy="259.7" r="2.45"/><circle cx="158.4" cy="318.2" r="2.45"/><circle cx="233.4" cy="281.6" r="2.45"/><circle cx="288.1" cy="261.3" r="2.45"/><circle cx="233.0" cy="295.0" r="2.45"/><circle cx="207.5" cy="301.8" r="2.45"/><circle cx="175.5" cy="312.6" r="2.45"/><circle cx="174.3" cy="314.1" r="2.45"/><circle cx="214.0" cy="290.6" r="2.45"/><circle cx="292.6" cy="255.6" r="2.45"/><circle cx="240.3" cy="286.7" r="2.45"/><circle cx="207.2" cy="302.7" r="2.45"/><circle cx="237.7" cy="282.3" r="2.45"/><circle cx="258.0" cy="279.6" r="2.45"/><circle cx="165.4" cy="318.0" r="2.45"/><circle cx="252.5" cy="278.1" r="2.45"/><circle cx="179.5" cy="308.5" r="2.45"/><circle cx="174.5" cy="302.9" r="2.45"/><circle cx="169.1" cy="314.6" r="2.45"/><circle cx="187.1" cy="301.2" r="2.45"/><circle cx="161.2" cy="319.4" r="2.45"/><circle cx="191.7" cy="309.4" r="2.45"/><circle cx="183.2" cy="310.8" r="2.45"/><circle cx="179.9" cy="319.8" r="2.45"/><circle cx="222.3" cy="287.4" r="2.45"/><circle cx="206.9" cy="298.5" r="2.45"/><circle cx="252.7" cy="283.6" r="2.45"/><circle cx="252.4" cy="280.4" r="2.45"/><circle cx="266.4" cy="274.8" r="2.45"/><circle cx="222.8" cy="293.1" r="2.45"/><circle cx="281.6" cy="264.5" r="2.45"/><circle cx="188.2" cy="306.8" r="2.45"/><circle cx="234.6" cy="284.2" r="2.45"/><circle cx="204.5" cy="298.6" r="2.45"/><circle cx="229.0" cy="282.5" r="2.45"/><circle cx="293.3" cy="261.1" r="2.45"/><circle cx="220.3" cy="295.2" r="2.45"/><circle cx="267.1" cy="274.1" r="2.45"/><circle cx="144.8" cy="334.7" r="2.45"/><circle cx="215.8" cy="295.4" r="2.45"/><circle cx="281.0" cy="263.5" r="2.45"/><circle cx="188.8" cy="305.7" r="2.45"/><circle cx="187.4" cy="307.1" r="2.45"/><circle cx="253.9" cy="282.9" r="2.45"/><circle cx="240.9" cy="284.5" r="2.45"/><circle cx="274.5" cy="266.7" r="2.45"/><circle cx="257.0" cy="270.8" r="2.45"/><circle cx="245.0" cy="283.7" r="2.45"/><circle cx="285.4" cy="260.8" r="2.45"/><circle cx="152.9" cy="321.1" r="2.45"/><circle cx="272.6" cy="268.8" r="2.45"/><circle cx="219.2" cy="301.4" r="2.45"/><circle cx="284.4" cy="267.4" r="2.45"/><circle cx="298.6" cy="257.4" r="2.45"/><circle cx="292.4" cy="260.3" r="2.45"/><circle cx="152.7" cy="325.1" r="2.45"/><circle cx="200.0" cy="307.3" r="2.45"/><circle cx="196.5" cy="302.4" r="2.45"/><circle cx="172.6" cy="315.4" r="2.45"/><circle cx="304.2" cy="254.3" r="2.45"/><circle cx="236.6" cy="286.6" r="2.45"/><circle cx="155.1" cy="325.8" r="2.45"/><circle cx="302.3" cy="253.8" r="2.45"/><circle cx="198.3" cy="302.6" r="2.45"/><circle cx="220.0" cy="292.8" r="2.45"/><circle cx="268.6" cy="269.2" r="2.45"/><circle cx="164.2" cy="316.6" r="2.45"/><circle cx="194.6" cy="307.4" r="2.45"/><circle cx="197.3" cy="298.6" r="2.45"/><circle cx="202.1" cy="300.4" r="2.45"/><circle cx="285.7" cy="259.3" r="2.45"/><circle cx="288.3" cy="262.7" r="2.45"/><circle cx="141.0" cy="330.0" r="2.45"/><circle cx="216.3" cy="293.5" r="2.45"/><circle cx="178.9" cy="316.9" r="2.45"/><circle cx="158.5" cy="320.5" r="2.45"/><circle cx="190.7" cy="298.5" r="2.45"/><circle cx="186.0" cy="311.0" r="2.45"/><circle cx="223.4" cy="291.5" r="2.45"/><circle cx="201.5" cy="299.5" r="2.45"/><circle cx="285.7" cy="262.0" r="2.45"/><circle cx="228.2" cy="285.4" r="2.45"/><circle cx="195.6" cy="303.0" r="2.45"/><circle cx="199.8" cy="303.1" r="2.45"/><circle cx="194.4" cy="303.0" r="2.45"/><circle cx="211.4" cy="294.0" r="2.45"/><circle cx="218.9" cy="288.7" r="2.45"/><circle cx="280.5" cy="264.7" r="2.45"/><circle cx="189.8" cy="305.6" r="2.45"/><circle cx="219.4" cy="298.2" r="2.45"/><circle cx="239.9" cy="290.6" r="2.45"/><circle cx="225.9" cy="293.9" r="2.45"/><circle cx="208.2" cy="303.2" r="2.45"/><circle cx="275.9" cy="267.5" r="2.45"/><circle cx="258.3" cy="277.2" r="2.45"/><circle cx="243.5" cy="283.3" r="2.45"/><circle cx="256.8" cy="269.6" r="2.45"/><circle cx="218.2" cy="291.7" r="2.45"/><circle cx="139.8" cy="337.6" r="2.45"/><circle cx="190.1" cy="297.1" r="2.45"/><circle cx="291.0" cy="257.2" r="2.45"/><circle cx="241.6" cy="284.6" r="2.45"/><circle cx="183.5" cy="306.5" r="2.45"/><circle cx="247.2" cy="281.8" r="2.45"/><circle cx="253.7" cy="275.6" r="2.45"/><circle cx="240.4" cy="284.2" r="2.45"/><circle cx="175.5" cy="311.9" r="2.45"/><circle cx="238.3" cy="284.3" r="2.45"/><circle cx="219.8" cy="290.5" r="2.45"/><circle cx="247.7" cy="281.4" r="2.45"/><circle cx="219.2" cy="289.8" r="2.45"/><circle cx="243.4" cy="286.5" r="2.45"/><circle cx="204.9" cy="311.8" r="2.45"/><circle cx="170.3" cy="319.7" r="2.45"/><circle cx="215.1" cy="292.7" r="2.45"/><circle cx="261.6" cy="274.9" r="2.45"/><circle cx="191.7" cy="310.2" r="2.45"/><circle cx="193.9" cy="305.3" r="2.45"/><circle cx="280.5" cy="267.8" r="2.45"/><circle cx="142.3" cy="325.6" r="2.45"/><circle cx="133.5" cy="334.1" r="2.45"/><circle cx="218.5" cy="292.9" r="2.45"/><circle cx="248.2" cy="285.0" r="2.45"/><circle cx="188.0" cy="311.7" r="2.45"/><circle cx="277.5" cy="269.6" r="2.45"/><circle cx="193.5" cy="298.0" r="2.45"/><circle cx="179.5" cy="307.8" r="2.45"/><circle cx="167.8" cy="315.8" r="2.45"/><circle cx="233.9" cy="291.7" r="2.45"/><circle cx="218.1" cy="288.8" r="2.45"/><circle cx="158.1" cy="326.4" r="2.45"/><circle cx="172.9" cy="315.7" r="2.45"/><circle cx="198.2" cy="303.3" r="2.45"/><circle cx="247.3" cy="281.4" r="2.45"/><circle cx="264.9" cy="270.2" r="2.45"/><circle cx="247.0" cy="281.8" r="2.45"/><circle cx="259.3" cy="272.0" r="2.45"/><circle cx="165.1" cy="316.6" r="2.45"/><circle cx="247.8" cy="279.3" r="2.45"/><circle cx="160.9" cy="319.0" r="2.45"/><circle cx="116.0" cy="339.8" r="2.45"/><circle cx="230.6" cy="288.3" r="2.45"/><circle cx="266.3" cy="275.0" r="2.45"/><circle cx="273.1" cy="272.7" r="2.45"/><circle cx="188.5" cy="307.6" r="2.45"/><circle cx="242.7" cy="282.4" r="2.45"/><circle cx="186.8" cy="310.3" r="2.45"/><circle cx="175.5" cy="313.1" r="2.45"/><circle cx="160.0" cy="300.5" r="2.45"/><circle cx="275.8" cy="267.9" r="2.45"/><circle cx="165.1" cy="315.9" r="2.45"/><circle cx="208.0" cy="296.8" r="2.45"/><circle cx="226.3" cy="291.1" r="2.45"/><circle cx="190.4" cy="308.0" r="2.45"/><circle cx="191.7" cy="303.2" r="2.45"/><circle cx="188.7" cy="312.1" r="2.45"/><circle cx="222.8" cy="287.9" r="2.45"/><circle cx="206.4" cy="300.7" r="2.45"/><circle cx="134.5" cy="334.0" r="2.45"/><circle cx="248.7" cy="276.7" r="2.45"/><circle cx="174.2" cy="318.8" r="2.45"/><circle cx="186.6" cy="308.3" r="2.45"/><circle cx="185.0" cy="298.9" r="2.45"/><circle cx="240.0" cy="286.1" r="2.45"/><circle cx="221.1" cy="286.7" r="2.45"/><circle cx="200.6" cy="305.0" r="2.45"/><circle cx="284.5" cy="261.5" r="2.45"/><circle cx="279.7" cy="262.8" r="2.45"/><circle cx="172.2" cy="319.7" r="2.45"/><circle cx="270.9" cy="269.6" r="2.45"/><circle cx="270.7" cy="268.7" r="2.45"/><circle cx="207.8" cy="303.2" r="2.45"/><circle cx="227.5" cy="293.6" r="2.45"/><circle cx="284.0" cy="263.5" r="2.45"/><circle cx="199.6" cy="304.2" r="2.45"/><circle cx="235.2" cy="286.5" r="2.45"/><circle cx="245.3" cy="286.2" r="2.45"/><circle cx="183.0" cy="312.8" r="2.45"/><circle cx="144.4" cy="333.6" r="2.45"/><circle cx="143.5" cy="329.9" r="2.45"/><circle cx="280.3" cy="261.8" r="2.45"/><circle cx="251.9" cy="281.3" r="2.45"/><circle cx="169.9" cy="313.2" r="2.45"/><circle cx="207.3" cy="304.4" r="2.45"/><circle cx="170.7" cy="319.6" r="2.45"/><circle cx="239.7" cy="284.5" r="2.45"/><circle cx="163.1" cy="318.7" r="2.45"/><circle cx="227.0" cy="284.2" r="2.45"/><circle cx="232.9" cy="285.8" r="2.45"/><circle cx="189.1" cy="306.6" r="2.45"/><circle cx="243.1" cy="276.9" r="2.45"/><circle cx="267.6" cy="270.5" r="2.45"/><circle cx="249.3" cy="277.4" r="2.45"/><circle cx="192.3" cy="303.0" r="2.45"/><circle cx="185.3" cy="302.5" r="2.45"/><circle cx="284.9" cy="264.6" r="2.45"/><circle cx="299.6" cy="256.7" r="2.45"/><circle cx="199.5" cy="300.7" r="2.45"/><circle cx="238.9" cy="285.3" r="2.45"/><circle cx="246.8" cy="287.9" r="2.45"/><circle cx="257.7" cy="274.5" r="2.45"/><circle cx="243.2" cy="283.4" r="2.45"/><circle cx="255.1" cy="279.0" r="2.45"/><circle cx="276.3" cy="270.8" r="2.45"/><circle cx="220.4" cy="291.7" r="2.45"/><circle cx="192.9" cy="309.9" r="2.45"/><circle cx="195.8" cy="303.1" r="2.45"/><circle cx="197.0" cy="299.5" r="2.45"/><circle cx="215.7" cy="300.4" r="2.45"/><circle cx="150.1" cy="337.8" r="2.45"/><circle cx="189.9" cy="308.0" r="2.45"/><circle cx="241.9" cy="286.7" r="2.45"/><circle cx="289.5" cy="258.7" r="2.45"/><circle cx="257.6" cy="277.7" r="2.45"/><circle cx="189.0" cy="311.6" r="2.45"/><circle cx="191.4" cy="310.9" r="2.45"/><circle cx="167.8" cy="316.2" r="2.45"/><circle cx="156.1" cy="314.5" r="2.45"/><circle cx="265.1" cy="272.8" r="2.45"/><circle cx="289.9" cy="260.2" r="2.45"/><circle cx="216.7" cy="299.6" r="2.45"/><circle cx="192.3" cy="309.4" r="2.45"/><circle cx="195.1" cy="301.4" r="2.45"/><circle cx="272.0" cy="270.5" r="2.45"/><circle cx="294.3" cy="257.8" r="2.45"/><circle cx="182.2" cy="308.8" r="2.45"/><circle cx="270.6" cy="271.4" r="2.45"/><circle cx="266.9" cy="273.0" r="2.45"/><circle cx="292.8" cy="264.5" r="2.45"/><circle cx="199.0" cy="297.8" r="2.45"/><circle cx="95.1" cy="352.2" r="2.45"/><circle cx="286.6" cy="261.3" r="2.45"/><circle cx="257.0" cy="278.5" r="2.45"/><circle cx="241.5" cy="280.4" r="2.45"/><circle cx="265.9" cy="272.5" r="2.45"/><circle cx="244.5" cy="285.3" r="2.45"/><circle cx="199.7" cy="301.6" r="2.45"/><circle cx="216.5" cy="289.7" r="2.45"/><circle cx="217.9" cy="300.4" r="2.45"/><circle cx="221.9" cy="289.9" r="2.45"/><circle cx="200.3" cy="305.9" r="2.45"/><circle cx="233.2" cy="289.3" r="2.45"/><circle cx="215.4" cy="295.9" r="2.45"/><circle cx="259.7" cy="279.6" r="2.45"/><circle cx="195.6" cy="304.7" r="2.45"/><circle cx="139.9" cy="333.3" r="2.45"/><circle cx="264.9" cy="273.2" r="2.45"/><circle cx="192.3" cy="308.0" r="2.45"/><circle cx="219.7" cy="291.8" r="2.45"/><circle cx="251.8" cy="278.5" r="2.45"/><circle cx="187.3" cy="307.3" r="2.45"/><circle cx="247.0" cy="280.8" r="2.45"/><circle cx="278.4" cy="265.7" r="2.45"/><circle cx="261.3" cy="277.2" r="2.45"/><circle cx="75.5" cy="336.9" r="2.45"/><circle cx="130.5" cy="339.3" r="2.45"/><circle cx="273.0" cy="264.4" r="2.45"/><circle cx="282.9" cy="266.2" r="2.45"/><circle cx="216.4" cy="296.9" r="2.45"/><circle cx="305.3" cy="251.8" r="2.45"/><circle cx="300.7" cy="257.2" r="2.45"/><circle cx="194.0" cy="301.7" r="2.45"/><circle cx="170.1" cy="315.6" r="2.45"/><circle cx="251.9" cy="275.1" r="2.45"/><circle cx="279.0" cy="267.7" r="2.45"/><circle cx="217.3" cy="291.7" r="2.45"/><circle cx="194.4" cy="302.7" r="2.45"/><circle cx="226.4" cy="286.1" r="2.45"/><circle cx="239.9" cy="282.9" r="2.45"/><circle cx="201.8" cy="302.9" r="2.45"/><circle cx="258.1" cy="278.5" r="2.45"/><circle cx="268.7" cy="272.8" r="2.45"/><circle cx="258.9" cy="275.5" r="2.45"/><circle cx="223.4" cy="289.6" r="2.45"/><circle cx="262.4" cy="274.5" r="2.45"/><circle cx="248.8" cy="280.2" r="2.45"/><circle cx="189.4" cy="303.9" r="2.45"/><circle cx="235.1" cy="286.4" r="2.45"/><circle cx="287.5" cy="258.1" r="2.45"/><circle cx="223.7" cy="287.0" r="2.45"/><circle cx="239.3" cy="286.7" r="2.45"/><circle cx="196.1" cy="311.8" r="2.45"/><circle cx="207.1" cy="299.2" r="2.45"/><circle cx="292.9" cy="259.0" r="2.45"/><circle cx="257.0" cy="275.3" r="2.45"/><circle cx="180.9" cy="312.1" r="2.45"/><circle cx="195.3" cy="301.1" r="2.45"/><circle cx="299.7" cy="256.7" r="2.45"/><circle cx="143.2" cy="333.9" r="2.45"/><circle cx="196.6" cy="302.2" r="2.45"/><circle cx="175.7" cy="315.6" r="2.45"/><circle cx="157.0" cy="326.7" r="2.45"/><circle cx="235.7" cy="279.8" r="2.45"/><circle cx="275.6" cy="272.7" r="2.45"/><circle cx="307.7" cy="253.0" r="2.45"/><circle cx="194.4" cy="307.0" r="2.45"/><circle cx="225.8" cy="288.4" r="2.45"/><circle cx="264.3" cy="275.6" r="2.45"/><circle cx="215.7" cy="289.5" r="2.45"/><circle cx="271.1" cy="275.0" r="2.45"/><circle cx="238.1" cy="280.0" r="2.45"/><circle cx="237.0" cy="285.7" r="2.45"/><circle cx="281.4" cy="260.1" r="2.45"/><circle cx="184.5" cy="311.1" r="2.45"/><circle cx="179.8" cy="312.9" r="2.45"/><circle cx="284.7" cy="260.8" r="2.45"/><circle cx="256.6" cy="274.9" r="2.45"/><circle cx="179.2" cy="316.5" r="2.45"/><circle cx="259.8" cy="272.0" r="2.45"/><circle cx="201.6" cy="303.8" r="2.45"/><circle cx="187.1" cy="301.9" r="2.45"/><circle cx="260.2" cy="272.7" r="2.45"/><circle cx="258.4" cy="275.3" r="2.45"/><circle cx="209.3" cy="294.2" r="2.45"/><circle cx="256.6" cy="276.6" r="2.45"/><circle cx="285.4" cy="264.4" r="2.45"/><circle cx="182.1" cy="313.4" r="2.45"/><circle cx="251.5" cy="279.4" r="2.45"/><circle cx="312.5" cy="251.2" r="2.45"/><circle cx="226.3" cy="286.3" r="2.45"/><circle cx="276.8" cy="266.6" r="2.45"/><circle cx="189.7" cy="312.9" r="2.45"/><circle cx="262.0" cy="278.5" r="2.45"/><circle cx="188.8" cy="307.2" r="2.45"/><circle cx="177.2" cy="309.6" r="2.45"/><circle cx="228.7" cy="282.1" r="2.45"/><circle cx="197.4" cy="307.7" r="2.45"/><circle cx="252.9" cy="278.7" r="2.45"/><circle cx="203.1" cy="303.5" r="2.45"/><circle cx="270.4" cy="266.1" r="2.45"/><circle cx="307.4" cy="252.2" r="2.45"/><circle cx="272.0" cy="269.0" r="2.45"/><circle cx="255.5" cy="279.3" r="2.45"/><circle cx="288.1" cy="259.6" r="2.45"/><circle cx="172.8" cy="316.4" r="2.45"/><circle cx="224.1" cy="283.5" r="2.45"/><circle cx="157.5" cy="319.2" r="2.45"/><circle cx="200.5" cy="305.8" r="2.45"/><circle cx="129.2" cy="321.6" r="2.45"/><circle cx="234.5" cy="283.6" r="2.45"/><circle cx="213.9" cy="298.3" r="2.45"/><circle cx="169.0" cy="322.9" r="2.45"/><circle cx="230.6" cy="286.2" r="2.45"/><circle cx="177.0" cy="312.9" r="2.45"/><circle cx="206.4" cy="296.1" r="2.45"/><circle cx="143.7" cy="336.3" r="2.45"/><circle cx="290.4" cy="262.1" r="2.45"/><circle cx="230.6" cy="290.1" r="2.45"/><circle cx="286.8" cy="264.3" r="2.45"/><circle cx="269.4" cy="270.0" r="2.45"/><circle cx="227.2" cy="286.2" r="2.45"/><circle cx="216.6" cy="287.9" r="2.45"/><circle cx="277.9" cy="266.6" r="2.45"/><circle cx="196.1" cy="308.7" r="2.45"/><circle cx="188.3" cy="312.3" r="2.45"/><circle cx="226.0" cy="288.3" r="2.45"/><circle cx="189.5" cy="302.1" r="2.45"/><circle cx="192.9" cy="303.2" r="2.45"/><circle cx="187.2" cy="308.9" r="2.45"/><circle cx="215.4" cy="288.0" r="2.45"/><circle cx="212.4" cy="301.4" r="2.45"/><circle cx="203.5" cy="302.7" r="2.45"/><circle cx="292.9" cy="260.7" r="2.45"/><circle cx="276.7" cy="267.5" r="2.45"/><circle cx="166.4" cy="317.1" r="2.45"/><circle cx="277.5" cy="268.4" r="2.45"/><circle cx="238.2" cy="292.4" r="2.45"/><circle cx="266.2" cy="273.1" r="2.45"/><circle cx="238.3" cy="282.5" r="2.45"/><circle cx="198.1" cy="298.0" r="2.45"/><circle cx="244.7" cy="281.8" r="2.45"/><circle cx="267.0" cy="274.2" r="2.45"/><circle cx="202.9" cy="303.4" r="2.45"/><circle cx="218.6" cy="294.9" r="2.45"/><circle cx="157.3" cy="322.3" r="2.45"/><circle cx="245.2" cy="283.7" r="2.45"/><circle cx="231.6" cy="291.0" r="2.45"/><circle cx="190.6" cy="303.8" r="2.45"/><circle cx="220.9" cy="291.6" r="2.45"/><circle cx="203.0" cy="303.0" r="2.45"/><circle cx="204.0" cy="304.2" r="2.45"/><circle cx="261.8" cy="271.0" r="2.45"/><circle cx="230.9" cy="291.6" r="2.45"/><circle cx="204.9" cy="303.7" r="2.45"/><circle cx="253.1" cy="273.1" r="2.45"/><circle cx="295.3" cy="257.2" r="2.45"/><circle cx="179.1" cy="309.0" r="2.45"/><circle cx="280.1" cy="267.4" r="2.45"/><circle cx="242.1" cy="285.4" r="2.45"/><circle cx="244.4" cy="280.5" r="2.45"/><circle cx="175.3" cy="315.3" r="2.45"/><circle cx="175.0" cy="305.0" r="2.45"/><circle cx="166.4" cy="312.7" r="2.45"/><circle cx="186.5" cy="304.0" r="2.45"/><circle cx="169.4" cy="330.8" r="2.45"/><circle cx="207.2" cy="311.5" r="2.45"/><circle cx="175.2" cy="311.4" r="2.45"/><circle cx="243.5" cy="283.0" r="2.45"/><circle cx="185.9" cy="304.9" r="2.45"/><circle cx="255.2" cy="278.3" r="2.45"/><circle cx="164.8" cy="320.3" r="2.45"/><circle cx="259.6" cy="278.8" r="2.45"/><circle cx="260.2" cy="273.4" r="2.45"/><circle cx="220.1" cy="296.2" r="2.45"/><circle cx="209.1" cy="300.1" r="2.45"/><circle cx="259.0" cy="276.9" r="2.45"/><circle cx="151.2" cy="319.5" r="2.45"/><circle cx="237.1" cy="282.2" r="2.45"/><circle cx="126.2" cy="338.6" r="2.45"/><circle cx="293.7" cy="260.4" r="2.45"/><circle cx="245.1" cy="281.1" r="2.45"/><circle cx="310.8" cy="263.4" r="2.45"/><circle cx="180.9" cy="313.6" r="2.45"/><circle cx="200.5" cy="301.2" r="2.45"/><circle cx="238.1" cy="274.8" r="2.45"/><circle cx="194.7" cy="310.4" r="2.45"/><circle cx="227.2" cy="290.7" r="2.45"/><circle cx="311.6" cy="248.2" r="2.45"/><circle cx="244.2" cy="287.5" r="2.45"/><circle cx="250.9" cy="270.2" r="2.45"/><circle cx="242.8" cy="284.3" r="2.45"/><circle cx="241.2" cy="283.3" r="2.45"/><circle cx="219.2" cy="293.7" r="2.45"/><circle cx="285.6" cy="266.1" r="2.45"/><circle cx="191.3" cy="310.8" r="2.45"/><circle cx="244.3" cy="286.1" r="2.45"/><circle cx="273.3" cy="273.3" r="2.45"/><circle cx="136.2" cy="315.4" r="2.45"/><circle cx="157.4" cy="321.5" r="2.45"/><circle cx="179.5" cy="313.0" r="2.45"/><circle cx="247.6" cy="280.5" r="2.45"/><circle cx="150.8" cy="314.8" r="2.45"/><circle cx="230.1" cy="288.3" r="2.45"/><circle cx="191.9" cy="308.4" r="2.45"/><circle cx="150.4" cy="326.2" r="2.45"/><circle cx="211.2" cy="291.9" r="2.45"/><circle cx="237.1" cy="282.0" r="2.45"/><circle cx="265.7" cy="274.1" r="2.45"/><circle cx="187.6" cy="306.2" r="2.45"/><circle cx="207.0" cy="300.7" r="2.45"/><circle cx="221.9" cy="292.3" r="2.45"/><circle cx="250.3" cy="279.2" r="2.45"/><circle cx="207.0" cy="300.0" r="2.45"/><circle cx="127.3" cy="333.2" r="2.45"/><circle cx="232.1" cy="285.7" r="2.45"/><circle cx="295.4" cy="255.3" r="2.45"/><circle cx="275.6" cy="266.9" r="2.45"/><circle cx="275.3" cy="270.3" r="2.45"/><circle cx="239.1" cy="278.5" r="2.45"/><circle cx="235.5" cy="288.8" r="2.45"/><circle cx="261.5" cy="272.8" r="2.45"/><circle cx="254.4" cy="275.8" r="2.45"/><circle cx="224.9" cy="290.7" r="2.45"/><circle cx="226.6" cy="292.0" r="2.45"/><circle cx="156.8" cy="326.1" r="2.45"/><circle cx="195.0" cy="302.9" r="2.45"/><circle cx="261.3" cy="275.8" r="2.45"/><circle cx="206.2" cy="307.2" r="2.45"/><circle cx="265.3" cy="277.8" r="2.45"/><circle cx="148.1" cy="333.9" r="2.45"/><circle cx="163.5" cy="325.1" r="2.45"/><circle cx="198.1" cy="303.9" r="2.45"/><circle cx="183.7" cy="310.8" r="2.45"/><circle cx="239.8" cy="285.5" r="2.45"/><circle cx="201.1" cy="308.7" r="2.45"/><circle cx="190.8" cy="303.9" r="2.45"/><circle cx="235.2" cy="287.3" r="2.45"/><circle cx="232.1" cy="278.0" r="2.45"/><circle cx="262.1" cy="269.1" r="2.45"/><circle cx="255.9" cy="278.0" r="2.45"/><circle cx="253.6" cy="280.1" r="2.45"/><circle cx="223.3" cy="284.4" r="2.45"/><circle cx="295.5" cy="256.9" r="2.45"/><circle cx="281.2" cy="268.5" r="2.45"/><circle cx="250.6" cy="276.9" r="2.45"/><circle cx="173.4" cy="314.8" r="2.45"/><circle cx="189.2" cy="309.8" r="2.45"/><circle cx="192.9" cy="306.0" r="2.45"/><circle cx="226.1" cy="289.3" r="2.45"/><circle cx="253.8" cy="276.1" r="2.45"/><circle cx="244.6" cy="287.2" r="2.45"/><circle cx="172.0" cy="314.2" r="2.45"/><circle cx="197.4" cy="312.8" r="2.45"/><circle cx="261.1" cy="270.9" r="2.45"/><circle cx="89.3" cy="340.0" r="2.45"/><circle cx="213.8" cy="290.1" r="2.45"/><circle cx="274.9" cy="268.6" r="2.45"/><circle cx="174.7" cy="314.8" r="2.45"/><circle cx="194.5" cy="296.0" r="2.45"/><circle cx="191.8" cy="313.1" r="2.45"/><circle cx="191.5" cy="307.8" r="2.45"/><circle cx="258.7" cy="276.3" r="2.45"/><circle cx="197.5" cy="310.3" r="2.45"/><circle cx="211.0" cy="297.7" r="2.45"/><circle cx="214.2" cy="297.4" r="2.45"/><circle cx="197.1" cy="311.6" r="2.45"/><circle cx="268.1" cy="271.4" r="2.45"/><circle cx="166.4" cy="316.0" r="2.45"/><circle cx="154.4" cy="321.4" r="2.45"/><circle cx="261.2" cy="276.5" r="2.45"/><circle cx="269.4" cy="264.1" r="2.45"/><circle cx="207.8" cy="294.5" r="2.45"/><circle cx="252.0" cy="280.0" r="2.45"/><circle cx="218.0" cy="299.7" r="2.45"/><circle cx="191.6" cy="304.4" r="2.45"/><circle cx="287.1" cy="261.0" r="2.45"/><circle cx="163.7" cy="314.7" r="2.45"/><circle cx="174.7" cy="312.1" r="2.45"/><circle cx="249.9" cy="277.1" r="2.45"/><circle cx="177.1" cy="310.7" r="2.45"/><circle cx="257.5" cy="279.4" r="2.45"/><circle cx="209.8" cy="297.7" r="2.45"/><circle cx="216.6" cy="293.3" r="2.45"/><circle cx="228.1" cy="286.6" r="2.45"/><circle cx="177.8" cy="307.7" r="2.45"/><circle cx="182.9" cy="309.8" r="2.45"/><circle cx="249.7" cy="282.2" r="2.45"/><circle cx="257.7" cy="279.5" r="2.45"/><circle cx="258.7" cy="278.0" r="2.45"/><circle cx="256.8" cy="277.8" r="2.45"/><circle cx="248.4" cy="288.4" r="2.45"/><circle cx="287.2" cy="264.9" r="2.45"/><circle cx="187.3" cy="305.1" r="2.45"/><circle cx="234.7" cy="288.5" r="2.45"/><circle cx="261.9" cy="274.0" r="2.45"/><circle cx="174.1" cy="316.4" r="2.45"/><circle cx="242.7" cy="284.1" r="2.45"/><circle cx="288.4" cy="262.8" r="2.45"/><circle cx="187.7" cy="307.6" r="2.45"/><circle cx="202.8" cy="302.1" r="2.45"/><circle cx="155.9" cy="321.8" r="2.45"/><circle cx="219.4" cy="295.1" r="2.45"/><circle cx="303.5" cy="258.0" r="2.45"/><circle cx="227.0" cy="292.5" r="2.45"/><circle cx="212.8" cy="293.2" r="2.45"/><circle cx="281.7" cy="268.4" r="2.45"/><circle cx="244.7" cy="273.9" r="2.45"/><circle cx="196.9" cy="298.8" r="2.45"/><circle cx="169.2" cy="317.9" r="2.45"/><circle cx="194.4" cy="304.7" r="2.45"/><circle cx="258.2" cy="279.1" r="2.45"/><circle cx="277.4" cy="267.0" r="2.45"/><circle cx="274.6" cy="267.0" r="2.45"/><circle cx="261.2" cy="273.3" r="2.45"/><circle cx="195.3" cy="311.4" r="2.45"/><circle cx="243.5" cy="277.9" r="2.45"/><circle cx="240.1" cy="282.3" r="2.45"/><circle cx="209.3" cy="297.1" r="2.45"/><circle cx="201.0" cy="308.9" r="2.45"/><circle cx="195.0" cy="307.7" r="2.45"/><circle cx="327.6" cy="244.8" r="2.45"/><circle cx="215.9" cy="292.7" r="2.45"/><circle cx="210.6" cy="296.4" r="2.45"/><circle cx="231.7" cy="288.6" r="2.45"/><circle cx="215.1" cy="293.0" r="2.45"/><circle cx="175.7" cy="318.0" r="2.45"/><circle cx="184.8" cy="308.6" r="2.45"/><circle cx="212.0" cy="298.6" r="2.45"/><circle cx="302.0" cy="252.6" r="2.45"/><circle cx="243.8" cy="269.6" r="2.45"/><circle cx="143.4" cy="331.0" r="2.45"/><circle cx="220.2" cy="287.7" r="2.45"/><circle cx="266.4" cy="266.7" r="2.45"/><circle cx="253.9" cy="281.6" r="2.45"/><circle cx="283.8" cy="262.8" r="2.45"/><circle cx="263.9" cy="272.9" r="2.45"/><circle cx="258.5" cy="277.4" r="2.45"/><circle cx="204.3" cy="297.6" r="2.45"/><circle cx="183.9" cy="309.6" r="2.45"/><circle cx="213.3" cy="293.5" r="2.45"/><circle cx="282.7" cy="263.1" r="2.45"/><circle cx="194.1" cy="303.2" r="2.45"/><circle cx="301.1" cy="256.7" r="2.45"/><circle cx="290.4" cy="262.5" r="2.45"/><circle cx="128.6" cy="339.3" r="2.45"/><circle cx="223.1" cy="288.1" r="2.45"/><circle cx="210.4" cy="299.0" r="2.45"/><circle cx="225.5" cy="293.7" r="2.45"/><circle cx="242.0" cy="275.5" r="2.45"/><circle cx="169.7" cy="311.9" r="2.45"/><circle cx="222.1" cy="291.9" r="2.45"/><circle cx="231.9" cy="285.0" r="2.45"/><circle cx="151.5" cy="331.0" r="2.45"/><circle cx="191.8" cy="307.2" r="2.45"/><circle cx="227.0" cy="295.5" r="2.45"/><circle cx="232.9" cy="284.5" r="2.45"/><circle cx="231.0" cy="283.2" r="2.45"/><circle cx="245.7" cy="278.7" r="2.45"/><circle cx="259.2" cy="273.0" r="2.45"/><circle cx="171.8" cy="312.4" r="2.45"/><circle cx="281.7" cy="266.1" r="2.45"/><circle cx="203.5" cy="303.1" r="2.45"/><circle cx="256.4" cy="279.3" r="2.45"/></g>
<path d="M52.78 381.92L328.22 234.38" stroke="#ff0000" stroke-width="2.1" stroke-linecap="round" fill="none"/>
<rect x="39.0" y="227.0" width="303.00" height="162.30" fill="none" stroke="#d6d6d6" stroke-width="0.9"/>
<rect x="43.15" y="231.0" width="42.4" height="14.55" rx="1.6" fill="#fff" fill-opacity="0.8" stroke="#cccccc" stroke-opacity="0.8" stroke-width="0.8"/>
<path d="M46.45 237.80h16.2" stroke="#ff0000" stroke-width="2.0" stroke-linecap="round"/>
<text x="69.25" y="240.70" font-size="8.24" text-anchor="start" textLength="13.06" lengthAdjust="spacingAndGlyphs">RSI</text>
<text x="40.77" y="401.50" font-size="8.24" text-anchor="middle" textLength="10.97" lengthAdjust="spacingAndGlyphs">−1</text>
<text x="102.70" y="401.50" font-size="8.24" text-anchor="middle" textLength="5.12" lengthAdjust="spacingAndGlyphs">0</text>
<text x="165.07" y="401.50" font-size="8.24" text-anchor="middle" textLength="5.12" lengthAdjust="spacingAndGlyphs">1</text>
<text x="227.43" y="401.50" font-size="8.24" text-anchor="middle" textLength="5.12" lengthAdjust="spacingAndGlyphs">2</text>
<text x="289.80" y="401.50" font-size="8.24" text-anchor="middle" textLength="5.12" lengthAdjust="spacingAndGlyphs">3</text>
<text x="33.20" y="391.54" font-size="8.24" text-anchor="end" textLength="10.97" lengthAdjust="spacingAndGlyphs">−1</text>
<text x="33.20" y="358.13" font-size="8.24" text-anchor="end" textLength="5.12" lengthAdjust="spacingAndGlyphs">0</text>
<text x="33.20" y="324.72" font-size="8.24" text-anchor="end" textLength="5.12" lengthAdjust="spacingAndGlyphs">1</text>
<text x="33.20" y="291.32" font-size="8.24" text-anchor="end" textLength="5.12" lengthAdjust="spacingAndGlyphs">2</text>
<text x="33.20" y="257.91" font-size="8.24" text-anchor="end" textLength="5.12" lengthAdjust="spacingAndGlyphs">3</text>
<text x="190.50" y="413.30" font-size="9.88" text-anchor="middle" textLength="53.86" lengthAdjust="spacingAndGlyphs">RF-Target.2</text>
<text x="16.40" y="308.15" font-size="9.88" text-anchor="middle" textLength="58.12" lengthAdjust="spacingAndGlyphs" transform="rotate(-90 16.40 308.15)">RF-Predict.2</text>
<text x="190.50" y="222.40" font-size="11.53" text-anchor="middle" textLength="150.36" lengthAdjust="spacingAndGlyphs">RF-Target.2 vs RF-Predict.2</text>
</svg>
</body></html>
